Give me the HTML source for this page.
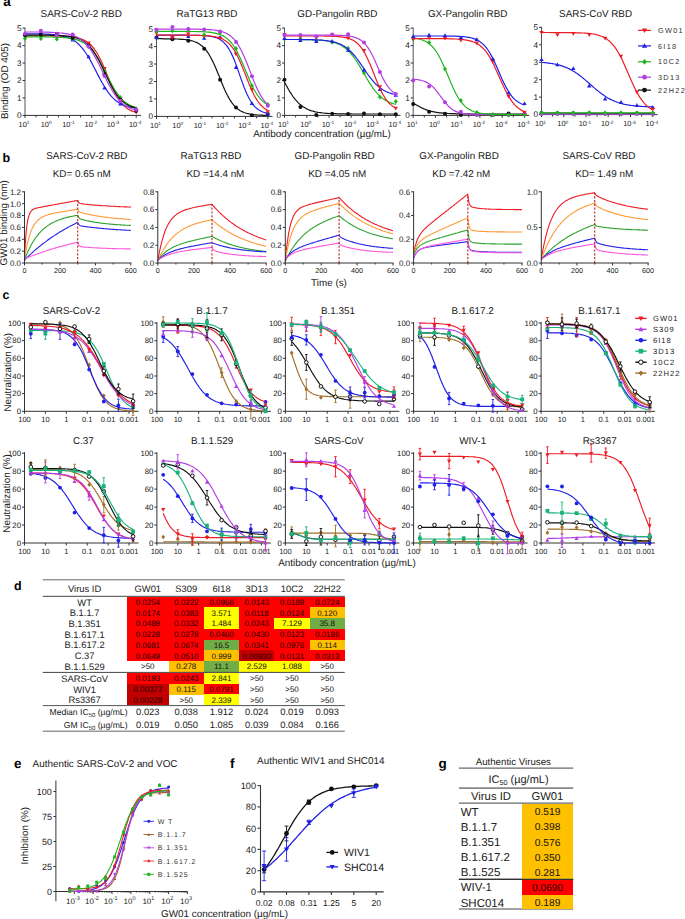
<!DOCTYPE html>
<html><head><meta charset="utf-8"><style>
html,body{margin:0;padding:0;background:#fff;width:685px;height:919px;overflow:hidden}
svg{display:block;font-family:"Liberation Sans", sans-serif}
</style></head><body>
<svg width="685" height="919" viewBox="0 0 685 919" font-family='"Liberation Sans", sans-serif' text-rendering="geometricPrecision">
<rect width="685" height="919" fill="#fff"/>
<text x="3.2" y="6.4" font-size="13.5" text-anchor="start" font-weight="bold" fill="#000" >a</text>
<text x="2.5" y="162" font-size="12.5" text-anchor="start" font-weight="bold" fill="#000" >b</text>
<text x="2.5" y="298.5" font-size="12.5" text-anchor="start" font-weight="bold" fill="#000" >c</text>
<text x="14" y="590" font-size="12.5" text-anchor="start" font-weight="bold" fill="#000" >d</text>
<text x="14" y="768" font-size="13.5" text-anchor="start" font-weight="bold" fill="#000" >e</text>
<text x="230" y="768" font-size="13.5" text-anchor="start" font-weight="bold" fill="#000" >f</text>
<text x="438.5" y="768" font-size="13.5" text-anchor="start" font-weight="bold" fill="#000" >g</text>
<line x1="25" y1="27.6" x2="25" y2="115.9" stroke="#555" stroke-width="1" />
<line x1="24.5" y1="115.4" x2="141" y2="115.4" stroke="#333" stroke-width="1" />
<line x1="36.1" y1="115.4" x2="36.1" y2="117.4" stroke="#333" stroke-width="1" />
<line x1="58.4" y1="115.4" x2="58.4" y2="117.4" stroke="#333" stroke-width="1" />
<line x1="80.6" y1="115.4" x2="80.6" y2="117.4" stroke="#333" stroke-width="1" />
<line x1="102.9" y1="115.4" x2="102.9" y2="117.4" stroke="#333" stroke-width="1" />
<line x1="125.1" y1="115.4" x2="125.1" y2="117.4" stroke="#333" stroke-width="1" />
<line x1="22.5" y1="115.4" x2="25" y2="115.4" stroke="#333" stroke-width="1" />
<text x="21.5" y="118.2" font-size="8.2" text-anchor="end" font-weight="normal" fill="#1a1a1a" >0</text>
<line x1="22.5" y1="97.9" x2="25" y2="97.9" stroke="#333" stroke-width="1" />
<text x="21.5" y="100.7" font-size="8.2" text-anchor="end" font-weight="normal" fill="#1a1a1a" >1</text>
<line x1="22.5" y1="80.5" x2="25" y2="80.5" stroke="#333" stroke-width="1" />
<text x="21.5" y="83.3" font-size="8.2" text-anchor="end" font-weight="normal" fill="#1a1a1a" >2</text>
<line x1="22.5" y1="63" x2="25" y2="63" stroke="#333" stroke-width="1" />
<text x="21.5" y="65.8" font-size="8.2" text-anchor="end" font-weight="normal" fill="#1a1a1a" >3</text>
<line x1="22.5" y1="45.6" x2="25" y2="45.6" stroke="#333" stroke-width="1" />
<text x="21.5" y="48.4" font-size="8.2" text-anchor="end" font-weight="normal" fill="#1a1a1a" >4</text>
<line x1="22.5" y1="28.1" x2="25" y2="28.1" stroke="#333" stroke-width="1" />
<text x="21.5" y="30.9" font-size="8.2" text-anchor="end" font-weight="normal" fill="#1a1a1a" >5</text>
<line x1="25" y1="115.4" x2="25" y2="117.9" stroke="#333" stroke-width="1" />
<text x="24" y="126.7" font-size="7.4" text-anchor="middle" fill="#1a1a1a">10<tspan font-size="4.8" dy="-2.4">1</tspan></text>
<line x1="47.2" y1="115.4" x2="47.2" y2="117.9" stroke="#333" stroke-width="1" />
<text x="46.2" y="126.7" font-size="7.4" text-anchor="middle" fill="#1a1a1a">10<tspan font-size="4.8" dy="-2.4">0</tspan></text>
<line x1="69.5" y1="115.4" x2="69.5" y2="117.9" stroke="#333" stroke-width="1" />
<text x="68.5" y="126.7" font-size="7.4" text-anchor="middle" fill="#1a1a1a">10<tspan font-size="4.8" dy="-2.4">-1</tspan></text>
<line x1="91.8" y1="115.4" x2="91.8" y2="117.9" stroke="#333" stroke-width="1" />
<text x="90.8" y="126.7" font-size="7.4" text-anchor="middle" fill="#1a1a1a">10<tspan font-size="4.8" dy="-2.4">-2</tspan></text>
<line x1="114" y1="115.4" x2="114" y2="117.9" stroke="#333" stroke-width="1" />
<text x="113" y="126.7" font-size="7.4" text-anchor="middle" fill="#1a1a1a">10<tspan font-size="4.8" dy="-2.4">-3</tspan></text>
<line x1="136.2" y1="115.4" x2="136.2" y2="117.9" stroke="#333" stroke-width="1" />
<text x="135.2" y="126.7" font-size="7.4" text-anchor="middle" fill="#1a1a1a">10<tspan font-size="4.8" dy="-2.4">-4</tspan></text>
<text x="81.2" y="16.8" font-size="9.9" text-anchor="middle" font-weight="normal" fill="#1a1a1a" >SARS-CoV-2 RBD</text>
<polyline points="25,36 26.4,36 27.8,36 29.2,36 30.6,36 32,36 33.3,36 34.7,36 36.1,36 37.5,36 38.9,36 40.3,36 41.7,36 43.1,36 44.5,36 45.9,36 47.2,36 48.6,36 50,36 51.4,36 52.8,36 54.2,36.1 55.6,36.1 57,36.1 58.4,36.1 59.8,36.2 61.2,36.2 62.5,36.3 63.9,36.3 65.3,36.4 66.7,36.5 68.1,36.6 69.5,36.7 70.9,36.8 72.3,37 73.7,37.1 75.1,37.4 76.5,37.6 77.8,37.9 79.2,38.3 80.6,38.7 82,39.2 83.4,39.8 84.8,40.5 86.2,41.3 87.6,42.2 89,43.3 90.4,44.5 91.8,45.9 93.1,47.5 94.5,49.3 95.9,51.3 97.3,53.5 98.7,56 100.1,58.7 101.5,61.6 102.9,64.7 104.3,67.9 105.7,71.2 107,74.6 108.4,78 109.8,81.3 111.2,84.6 112.6,87.7 114,90.7 115.4,93.4 116.8,96 118.2,98.3 119.6,100.4 121,102.3 122.3,104 123.7,105.5 125.1,106.8 126.5,107.9 127.9,108.9 129.3,109.7 130.7,110.4 132.1,111.1 133.5,111.6 134.9,112 136.2,112.4" fill="none" stroke="#ee1c24" stroke-width="1.2" stroke-linejoin="round" />
<path d="M22.8,34.2H27.2L25,38Z" fill="#ee1c24"/>
<path d="M38.7,32.8H43.1L40.9,36.6Z" fill="#ee1c24"/>
<path d="M54.6,35.6H59L56.8,39.4Z" fill="#ee1c24"/>
<path d="M70.5,34.2H74.9L72.7,38Z" fill="#ee1c24"/>
<path d="M86.4,41.6H90.8L88.6,45.4Z" fill="#ee1c24"/>
<path d="M102.3,67.1H106.7L104.5,70.9Z" fill="#ee1c24"/>
<path d="M118.2,97.6H122.6L120.4,101.4Z" fill="#ee1c24"/>
<path d="M134.1,110.6H138.4L136.2,114.4Z" fill="#ee1c24"/>
<polyline points="25,33.7 26.4,33.7 27.8,33.8 29.2,33.8 30.6,33.8 32,33.8 33.3,33.8 34.7,33.8 36.1,33.8 37.5,33.9 38.9,33.9 40.3,33.9 41.7,34 43.1,34 44.5,34 45.9,34.1 47.2,34.2 48.6,34.2 50,34.3 51.4,34.4 52.8,34.5 54.2,34.7 55.6,34.8 57,35 58.4,35.2 59.8,35.4 61.2,35.6 62.5,35.9 63.9,36.3 65.3,36.7 66.7,37.1 68.1,37.6 69.5,38.2 70.9,38.8 72.3,39.6 73.7,40.4 75.1,41.3 76.5,42.4 77.8,43.5 79.2,44.8 80.6,46.3 82,47.8 83.4,49.6 84.8,51.5 86.2,53.5 87.6,55.7 89,58 90.4,60.4 91.8,62.9 93.1,65.6 94.5,68.2 95.9,70.9 97.3,73.7 98.7,76.4 100.1,79 101.5,81.6 102.9,84 104.3,86.4 105.7,88.6 107,90.7 108.4,92.7 109.8,94.5 111.2,96.1 112.6,97.6 114,98.9 115.4,100.2 116.8,101.3 118.2,102.2 119.6,103.1 121,103.9 122.3,104.6 123.7,105.2 125.1,105.7 126.5,106.1 127.9,106.6 129.3,106.9 130.7,107.2 132.1,107.5 133.5,107.7 134.9,107.9 136.2,108.1" fill="none" stroke="#2020e8" stroke-width="1.2" stroke-linejoin="round" />
<path d="M22.8,35.4H27.2L25,31.6Z" fill="#2020e8"/>
<path d="M38.7,34.6H43.1L40.9,30.8Z" fill="#2020e8"/>
<path d="M54.6,35.2H59L56.8,31.4Z" fill="#2020e8"/>
<path d="M70.5,41.4H74.9L72.7,37.6Z" fill="#2020e8"/>
<path d="M86.4,58.2H90.8L88.6,54.4Z" fill="#2020e8"/>
<path d="M102.3,89.5H106.7L104.5,85.7Z" fill="#2020e8"/>
<path d="M118.2,105.6H122.6L120.4,101.8Z" fill="#2020e8"/>
<path d="M134.1,110.2H138.4L136.2,106.4Z" fill="#2020e8"/>
<polyline points="25,36.8 26.4,36.8 27.8,36.8 29.2,36.8 30.6,36.9 32,36.9 33.3,36.9 34.7,36.9 36.1,36.9 37.5,36.9 38.9,36.9 40.3,36.9 41.7,36.9 43.1,36.9 44.5,36.9 45.9,36.9 47.2,37 48.6,37 50,37 51.4,37 52.8,37.1 54.2,37.1 55.6,37.1 57,37.2 58.4,37.2 59.8,37.3 61.2,37.4 62.5,37.5 63.9,37.6 65.3,37.7 66.7,37.8 68.1,38 69.5,38.2 70.9,38.4 72.3,38.7 73.7,39 75.1,39.3 76.5,39.7 77.8,40.1 79.2,40.6 80.6,41.2 82,41.9 83.4,42.6 84.8,43.5 86.2,44.5 87.6,45.6 89,46.8 90.4,48.2 91.8,49.7 93.1,51.4 94.5,53.2 95.9,55.2 97.3,57.4 98.7,59.7 100.1,62.1 101.5,64.7 102.9,67.3 104.3,70.1 105.7,72.8 107,75.6 108.4,78.3 109.8,81 111.2,83.6 112.6,86.1 114,88.5 115.4,90.7 116.8,92.8 118.2,94.7 119.6,96.5 121,98.1 122.3,99.6 123.7,100.9 125.1,102 126.5,103 127.9,104 129.3,104.8 130.7,105.5 132.1,106.1 133.5,106.6 134.9,107.1 136.2,107.5" fill="none" stroke="#1fb51f" stroke-width="1.2" stroke-linejoin="round" />
<path d="M25,36.1L27,38.5L25,40.9L23,38.5Z" fill="#1fb51f"/>
<path d="M40.9,36.3L42.9,38.7L40.9,41.1L38.9,38.7Z" fill="#1fb51f"/>
<path d="M56.8,36.8L58.8,39.2L56.8,41.6L54.8,39.2Z" fill="#1fb51f"/>
<path d="M72.7,36.6L74.7,39L72.7,41.4L70.7,39Z" fill="#1fb51f"/>
<path d="M88.6,44.2L90.6,46.6L88.6,49L86.6,46.6Z" fill="#1fb51f"/>
<path d="M104.5,68.5L106.5,70.9L104.5,73.3L102.5,70.9Z" fill="#1fb51f"/>
<path d="M120.4,95L122.4,97.4L120.4,99.8L118.4,97.4Z" fill="#1fb51f"/>
<path d="M136.2,106.8L138.2,109.2L136.2,111.6L134.2,109.2Z" fill="#1fb51f"/>
<polyline points="25,35.1 26.4,35.1 27.8,35.1 29.2,35.1 30.6,35.1 32,35.1 33.3,35.1 34.7,35.1 36.1,35.1 37.5,35.1 38.9,35.1 40.3,35.1 41.7,35.1 43.1,35.2 44.5,35.2 45.9,35.2 47.2,35.2 48.6,35.2 50,35.2 51.4,35.3 52.8,35.3 54.2,35.3 55.6,35.4 57,35.4 58.4,35.5 59.8,35.5 61.2,35.6 62.5,35.7 63.9,35.8 65.3,35.9 66.7,36 68.1,36.2 69.5,36.4 70.9,36.6 72.3,36.9 73.7,37.2 75.1,37.5 76.5,37.9 77.8,38.4 79.2,38.9 80.6,39.5 82,40.3 83.4,41.1 84.8,42 86.2,43.1 87.6,44.3 89,45.6 90.4,47.2 91.8,48.8 93.1,50.7 94.5,52.8 95.9,55 97.3,57.4 98.7,59.9 100.1,62.6 101.5,65.5 102.9,68.4 104.3,71.3 105.7,74.3 107,77.2 108.4,80.1 109.8,82.9 111.2,85.6 112.6,88.2 114,90.5 115.4,92.7 116.8,94.8 118.2,96.6 119.6,98.3 121,99.8 122.3,101.1 123.7,102.3 125.1,103.4 126.5,104.3 127.9,105.1 129.3,105.8 130.7,106.4 132.1,106.9 133.5,107.4 134.9,107.8 136.2,108.1" fill="none" stroke="#111" stroke-width="1.2" stroke-linejoin="round" />
<circle cx="25" cy="35.2" r="2" fill="#111"/>
<circle cx="40.9" cy="34.8" r="2" fill="#111"/>
<circle cx="56.8" cy="34.5" r="2" fill="#111"/>
<circle cx="72.7" cy="38" r="2" fill="#111"/>
<circle cx="88.6" cy="45.7" r="2" fill="#111"/>
<circle cx="104.5" cy="74.2" r="2" fill="#111"/>
<circle cx="120.4" cy="99.8" r="2" fill="#111"/>
<circle cx="136.2" cy="110.8" r="2" fill="#111"/>
<polyline points="25,32 26.4,32 27.8,32 29.2,32 30.6,32 32,32 33.3,32 34.7,32 36.1,32 37.5,32 38.9,32 40.3,32.1 41.7,32.1 43.1,32.1 44.5,32.1 45.9,32.2 47.2,32.2 48.6,32.2 50,32.3 51.4,32.3 52.8,32.4 54.2,32.5 55.6,32.5 57,32.6 58.4,32.7 59.8,32.9 61.2,33 62.5,33.2 63.9,33.4 65.3,33.6 66.7,33.8 68.1,34.1 69.5,34.4 70.9,34.8 72.3,35.2 73.7,35.7 75.1,36.2 76.5,36.9 77.8,37.6 79.2,38.4 80.6,39.3 82,40.3 83.4,41.5 84.8,42.7 86.2,44.1 87.6,45.7 89,47.4 90.4,49.3 91.8,51.4 93.1,53.6 94.5,55.9 95.9,58.4 97.3,61 98.7,63.8 100.1,66.6 101.5,69.5 102.9,72.4 104.3,75.3 105.7,78.1 107,81 108.4,83.7 109.8,86.3 111.2,88.8 112.6,91.2 114,93.4 115.4,95.4 116.8,97.3 118.2,99 119.6,100.6 121,102 122.3,103.3 123.7,104.4 125.1,105.4 126.5,106.3 127.9,107.1 129.3,107.9 130.7,108.5 132.1,109 133.5,109.5 134.9,109.9 136.2,110.3" fill="none" stroke="#b33ee6" stroke-width="1.2" stroke-linejoin="round" />
<circle cx="25" cy="33.7" r="2" fill="#b33ee6"/>
<circle cx="40.9" cy="30.7" r="2" fill="#b33ee6"/>
<circle cx="56.8" cy="35.3" r="2" fill="#b33ee6"/>
<circle cx="72.7" cy="34.4" r="2" fill="#b33ee6"/>
<circle cx="88.6" cy="46.5" r="2" fill="#b33ee6"/>
<circle cx="104.5" cy="76.1" r="2" fill="#b33ee6"/>
<circle cx="120.4" cy="100.8" r="2" fill="#b33ee6"/>
<circle cx="136.2" cy="109.7" r="2" fill="#b33ee6"/>
<line x1="156.5" y1="28.6" x2="156.5" y2="116.9" stroke="#555" stroke-width="1" />
<line x1="156" y1="116.4" x2="272.5" y2="116.4" stroke="#333" stroke-width="1" />
<line x1="167.6" y1="116.4" x2="167.6" y2="118.4" stroke="#333" stroke-width="1" />
<line x1="189.9" y1="116.4" x2="189.9" y2="118.4" stroke="#333" stroke-width="1" />
<line x1="212.1" y1="116.4" x2="212.1" y2="118.4" stroke="#333" stroke-width="1" />
<line x1="234.4" y1="116.4" x2="234.4" y2="118.4" stroke="#333" stroke-width="1" />
<line x1="256.6" y1="116.4" x2="256.6" y2="118.4" stroke="#333" stroke-width="1" />
<line x1="154" y1="116.4" x2="156.5" y2="116.4" stroke="#333" stroke-width="1" />
<text x="153" y="119.2" font-size="8.2" text-anchor="end" font-weight="normal" fill="#1a1a1a" >0</text>
<line x1="154" y1="98.9" x2="156.5" y2="98.9" stroke="#333" stroke-width="1" />
<text x="153" y="101.7" font-size="8.2" text-anchor="end" font-weight="normal" fill="#1a1a1a" >1</text>
<line x1="154" y1="81.5" x2="156.5" y2="81.5" stroke="#333" stroke-width="1" />
<text x="153" y="84.3" font-size="8.2" text-anchor="end" font-weight="normal" fill="#1a1a1a" >2</text>
<line x1="154" y1="64" x2="156.5" y2="64" stroke="#333" stroke-width="1" />
<text x="153" y="66.8" font-size="8.2" text-anchor="end" font-weight="normal" fill="#1a1a1a" >3</text>
<line x1="154" y1="46.6" x2="156.5" y2="46.6" stroke="#333" stroke-width="1" />
<text x="153" y="49.4" font-size="8.2" text-anchor="end" font-weight="normal" fill="#1a1a1a" >4</text>
<line x1="154" y1="29.1" x2="156.5" y2="29.1" stroke="#333" stroke-width="1" />
<text x="153" y="31.9" font-size="8.2" text-anchor="end" font-weight="normal" fill="#1a1a1a" >5</text>
<line x1="156.5" y1="116.4" x2="156.5" y2="118.9" stroke="#333" stroke-width="1" />
<text x="155.5" y="127.7" font-size="7.4" text-anchor="middle" fill="#1a1a1a">10<tspan font-size="4.8" dy="-2.4">1</tspan></text>
<line x1="178.8" y1="116.4" x2="178.8" y2="118.9" stroke="#333" stroke-width="1" />
<text x="177.8" y="127.7" font-size="7.4" text-anchor="middle" fill="#1a1a1a">10<tspan font-size="4.8" dy="-2.4">0</tspan></text>
<line x1="201" y1="116.4" x2="201" y2="118.9" stroke="#333" stroke-width="1" />
<text x="200" y="127.7" font-size="7.4" text-anchor="middle" fill="#1a1a1a">10<tspan font-size="4.8" dy="-2.4">-1</tspan></text>
<line x1="223.2" y1="116.4" x2="223.2" y2="118.9" stroke="#333" stroke-width="1" />
<text x="222.2" y="127.7" font-size="7.4" text-anchor="middle" fill="#1a1a1a">10<tspan font-size="4.8" dy="-2.4">-2</tspan></text>
<line x1="245.5" y1="116.4" x2="245.5" y2="118.9" stroke="#333" stroke-width="1" />
<text x="244.5" y="127.7" font-size="7.4" text-anchor="middle" fill="#1a1a1a">10<tspan font-size="4.8" dy="-2.4">-3</tspan></text>
<line x1="267.8" y1="116.4" x2="267.8" y2="118.9" stroke="#333" stroke-width="1" />
<text x="266.8" y="127.7" font-size="7.4" text-anchor="middle" fill="#1a1a1a">10<tspan font-size="4.8" dy="-2.4">-4</tspan></text>
<text x="207" y="16.8" font-size="9.9" text-anchor="middle" font-weight="normal" fill="#1a1a1a" >RaTG13 RBD</text>
<polyline points="156.5,38.7 157.9,38.7 159.3,38.7 160.7,38.7 162.1,38.7 163.5,38.8 164.8,38.8 166.2,38.8 167.6,38.8 169,38.8 170.4,38.8 171.8,38.9 173.2,38.9 174.6,38.9 176,39 177.4,39 178.8,39.1 180.1,39.2 181.5,39.3 182.9,39.4 184.3,39.5 185.7,39.7 187.1,39.9 188.5,40.1 189.9,40.3 191.3,40.7 192.7,41 194,41.5 195.4,42 196.8,42.6 198.2,43.3 199.6,44.2 201,45.2 202.4,46.3 203.8,47.6 205.2,49.1 206.6,50.9 208,52.8 209.3,55 210.7,57.5 212.1,60.1 213.5,63 214.9,66.1 216.3,69.3 217.7,72.7 219.1,76.1 220.5,79.6 221.9,83 223.2,86.3 224.6,89.5 226,92.5 227.4,95.3 228.8,97.9 230.2,100.2 231.6,102.3 233,104.1 234.4,105.8 235.8,107.2 237.2,108.5 238.5,109.5 239.9,110.4 241.3,111.2 242.7,111.9 244.1,112.5 245.5,113 246.9,113.4 248.3,113.7 249.7,114 251.1,114.3 252.5,114.5 253.8,114.6 255.2,114.8 256.6,114.9 258,115 259.4,115.1 260.8,115.2 262.2,115.2 263.6,115.3 265,115.3 266.4,115.3 267.8,115.4" fill="none" stroke="#111" stroke-width="1.2" stroke-linejoin="round" />
<circle cx="156.5" cy="37.4" r="2" fill="#111"/>
<circle cx="172.4" cy="39.2" r="2" fill="#111"/>
<circle cx="188.3" cy="40.8" r="2" fill="#111"/>
<circle cx="204.2" cy="48.8" r="2" fill="#111"/>
<circle cx="220.1" cy="79.8" r="2" fill="#111"/>
<circle cx="236" cy="107.5" r="2" fill="#111"/>
<circle cx="251.9" cy="115.3" r="2" fill="#111"/>
<circle cx="267.8" cy="114.1" r="2" fill="#111"/>
<polyline points="156.5,35.2 157.9,35.2 159.3,35.2 160.7,35.2 162.1,35.2 163.5,35.2 164.8,35.2 166.2,35.2 167.6,35.2 169,35.2 170.4,35.2 171.8,35.2 173.2,35.2 174.6,35.2 176,35.2 177.4,35.2 178.8,35.2 180.1,35.2 181.5,35.2 182.9,35.2 184.3,35.2 185.7,35.2 187.1,35.2 188.5,35.3 189.9,35.3 191.3,35.3 192.7,35.3 194,35.3 195.4,35.3 196.8,35.4 198.2,35.4 199.6,35.4 201,35.5 202.4,35.6 203.8,35.6 205.2,35.7 206.6,35.9 208,36 209.3,36.2 210.7,36.4 212.1,36.6 213.5,37 214.9,37.3 216.3,37.8 217.7,38.3 219.1,39 220.5,39.8 221.9,40.8 223.2,41.9 224.6,43.3 226,44.8 227.4,46.7 228.8,48.8 230.2,51.2 231.6,53.9 233,57 234.4,60.3 235.8,63.9 237.2,67.7 238.5,71.6 239.9,75.6 241.3,79.6 242.7,83.4 244.1,87.2 245.5,90.7 246.9,93.9 248.3,96.8 249.7,99.5 251.1,101.8 252.5,103.8 253.8,105.6 255.2,107.1 256.6,108.3 258,109.4 259.4,110.3 260.8,111.1 262.2,111.7 263.6,112.2 265,112.7 266.4,113 267.8,113.3" fill="none" stroke="#2020e8" stroke-width="1.2" stroke-linejoin="round" />
<path d="M154.3,39.1H158.7L156.5,35.3Z" fill="#2020e8"/>
<path d="M170.2,38.2H174.6L172.4,34.4Z" fill="#2020e8"/>
<path d="M186.1,38H190.5L188.3,34.2Z" fill="#2020e8"/>
<path d="M202,39.8H206.4L204.2,36Z" fill="#2020e8"/>
<path d="M217.9,38.8H222.3L220.1,35Z" fill="#2020e8"/>
<path d="M233.8,68.9H238.2L236,65.1Z" fill="#2020e8"/>
<path d="M249.7,104.9H254.1L251.9,101.1Z" fill="#2020e8"/>
<path d="M265.6,115.6H269.9L267.8,111.8Z" fill="#2020e8"/>
<polyline points="156.5,35.2 157.9,35.2 159.3,35.2 160.7,35.2 162.1,35.2 163.5,35.2 164.8,35.2 166.2,35.2 167.6,35.2 169,35.2 170.4,35.2 171.8,35.2 173.2,35.2 174.6,35.2 176,35.2 177.4,35.2 178.8,35.2 180.1,35.2 181.5,35.2 182.9,35.2 184.3,35.2 185.7,35.2 187.1,35.3 188.5,35.3 189.9,35.3 191.3,35.3 192.7,35.3 194,35.3 195.4,35.3 196.8,35.4 198.2,35.4 199.6,35.4 201,35.5 202.4,35.5 203.8,35.6 205.2,35.6 206.6,35.7 208,35.8 209.3,35.9 210.7,36.1 212.1,36.3 213.5,36.5 214.9,36.7 216.3,37 217.7,37.3 219.1,37.7 220.5,38.2 221.9,38.8 223.2,39.4 224.6,40.2 226,41.1 227.4,42.2 228.8,43.4 230.2,44.9 231.6,46.5 233,48.3 234.4,50.4 235.8,52.8 237.2,55.4 238.5,58.2 239.9,61.2 241.3,64.5 242.7,67.9 244.1,71.4 245.5,74.9 246.9,78.5 248.3,82 249.7,85.4 251.1,88.6 252.5,91.7 253.8,94.5 255.2,97.1 256.6,99.4 258,101.5 259.4,103.4 260.8,105 262.2,106.4 263.6,107.7 265,108.7 266.4,109.6 267.8,110.4" fill="none" stroke="#ee1c24" stroke-width="1.2" stroke-linejoin="round" />
<path d="M154.3,31.6H158.7L156.5,35.4Z" fill="#ee1c24"/>
<path d="M170.2,36H174.6L172.4,39.8Z" fill="#ee1c24"/>
<path d="M186.1,32.3H190.5L188.3,36.1Z" fill="#ee1c24"/>
<path d="M202,34.9H206.4L204.2,38.7Z" fill="#ee1c24"/>
<path d="M217.9,36.7H222.3L220.1,40.5Z" fill="#ee1c24"/>
<path d="M233.8,52.4H238.2L236,56.2Z" fill="#ee1c24"/>
<path d="M249.7,88H254.1L251.9,91.8Z" fill="#ee1c24"/>
<path d="M265.6,110.2H269.9L267.8,114Z" fill="#ee1c24"/>
<polyline points="156.5,31.4 157.9,31.4 159.3,31.4 160.7,31.4 162.1,31.4 163.5,31.4 164.8,31.4 166.2,31.4 167.6,31.4 169,31.4 170.4,31.4 171.8,31.4 173.2,31.4 174.6,31.4 176,31.4 177.4,31.4 178.8,31.4 180.1,31.4 181.5,31.4 182.9,31.4 184.3,31.4 185.7,31.4 187.1,31.4 188.5,31.4 189.9,31.4 191.3,31.5 192.7,31.5 194,31.5 195.4,31.5 196.8,31.6 198.2,31.6 199.6,31.6 201,31.7 202.4,31.7 203.8,31.8 205.2,31.9 206.6,32 208,32.1 209.3,32.2 210.7,32.4 212.1,32.6 213.5,32.8 214.9,33.1 216.3,33.4 217.7,33.8 219.1,34.2 220.5,34.7 221.9,35.3 223.2,36 224.6,36.8 226,37.8 227.4,38.8 228.8,40.1 230.2,41.5 231.6,43.2 233,45 234.4,47 235.8,49.3 237.2,51.8 238.5,54.5 239.9,57.4 241.3,60.5 242.7,63.7 244.1,67 245.5,70.4 246.9,73.8 248.3,77.1 249.7,80.3 251.1,83.4 252.5,86.3 253.8,89 255.2,91.5 256.6,93.7 258,95.8 259.4,97.6 260.8,99.3 262.2,100.7 263.6,101.9 265,103 266.4,104 267.8,104.8" fill="none" stroke="#1fb51f" stroke-width="1.2" stroke-linejoin="round" />
<path d="M156.5,29.1L158.5,31.5L156.5,33.9L154.5,31.5Z" fill="#1fb51f"/>
<path d="M172.4,28.5L174.4,30.9L172.4,33.3L170.4,30.9Z" fill="#1fb51f"/>
<path d="M188.3,26.8L190.3,29.2L188.3,31.6L186.3,29.2Z" fill="#1fb51f"/>
<path d="M204.2,32.4L206.2,34.8L204.2,37.2L202.2,34.8Z" fill="#1fb51f"/>
<path d="M220.1,30.3L222.1,32.7L220.1,35.1L218.1,32.7Z" fill="#1fb51f"/>
<path d="M236,46.1L238,48.5L236,50.9L234,48.5Z" fill="#1fb51f"/>
<path d="M251.9,83.2L253.9,85.6L251.9,88L249.9,85.6Z" fill="#1fb51f"/>
<path d="M267.8,102L269.8,104.4L267.8,106.8L265.8,104.4Z" fill="#1fb51f"/>
<polyline points="156.5,29.1 157.9,29.1 159.3,29.1 160.7,29.1 162.1,29.1 163.5,29.1 164.8,29.1 166.2,29.1 167.6,29.1 169,29.1 170.4,29.1 171.8,29.1 173.2,29.1 174.6,29.1 176,29.1 177.4,29.1 178.8,29.1 180.1,29.1 181.5,29.1 182.9,29.1 184.3,29.1 185.7,29.1 187.1,29.1 188.5,29.1 189.9,29.1 191.3,29.2 192.7,29.2 194,29.2 195.4,29.2 196.8,29.2 198.2,29.2 199.6,29.3 201,29.3 202.4,29.3 203.8,29.4 205.2,29.4 206.6,29.5 208,29.6 209.3,29.6 210.7,29.7 212.1,29.9 213.5,30 214.9,30.2 216.3,30.4 217.7,30.6 219.1,30.9 220.5,31.2 221.9,31.6 223.2,32 224.6,32.6 226,33.2 227.4,33.9 228.8,34.8 230.2,35.7 231.6,36.9 233,38.2 234.4,39.7 235.8,41.4 237.2,43.3 238.5,45.5 239.9,47.9 241.3,50.5 242.7,53.4 244.1,56.4 245.5,59.7 246.9,63.1 248.3,66.7 249.7,70.3 251.1,73.9 252.5,77.5 253.8,80.9 255.2,84.3 256.6,87.4 258,90.4 259.4,93.1 260.8,95.6 262.2,97.9 263.6,99.9 265,101.7 266.4,103.2 267.8,104.6" fill="none" stroke="#b33ee6" stroke-width="1.2" stroke-linejoin="round" />
<circle cx="156.5" cy="29.7" r="2" fill="#b33ee6"/>
<circle cx="172.4" cy="27.1" r="2" fill="#b33ee6"/>
<circle cx="188.3" cy="28.9" r="2" fill="#b33ee6"/>
<circle cx="204.2" cy="29.6" r="2" fill="#b33ee6"/>
<circle cx="220.1" cy="31.4" r="2" fill="#b33ee6"/>
<circle cx="236" cy="41.9" r="2" fill="#b33ee6"/>
<circle cx="251.9" cy="76.2" r="2" fill="#b33ee6"/>
<circle cx="267.8" cy="105.7" r="2" fill="#b33ee6"/>
<line x1="284.5" y1="27.6" x2="284.5" y2="115.9" stroke="#555" stroke-width="1" />
<line x1="284" y1="115.4" x2="400.5" y2="115.4" stroke="#333" stroke-width="1" />
<line x1="295.6" y1="115.4" x2="295.6" y2="117.4" stroke="#333" stroke-width="1" />
<line x1="317.9" y1="115.4" x2="317.9" y2="117.4" stroke="#333" stroke-width="1" />
<line x1="340.1" y1="115.4" x2="340.1" y2="117.4" stroke="#333" stroke-width="1" />
<line x1="362.4" y1="115.4" x2="362.4" y2="117.4" stroke="#333" stroke-width="1" />
<line x1="384.6" y1="115.4" x2="384.6" y2="117.4" stroke="#333" stroke-width="1" />
<line x1="282" y1="115.4" x2="284.5" y2="115.4" stroke="#333" stroke-width="1" />
<text x="281" y="118.2" font-size="8.2" text-anchor="end" font-weight="normal" fill="#1a1a1a" >0</text>
<line x1="282" y1="97.9" x2="284.5" y2="97.9" stroke="#333" stroke-width="1" />
<text x="281" y="100.7" font-size="8.2" text-anchor="end" font-weight="normal" fill="#1a1a1a" >1</text>
<line x1="282" y1="80.5" x2="284.5" y2="80.5" stroke="#333" stroke-width="1" />
<text x="281" y="83.3" font-size="8.2" text-anchor="end" font-weight="normal" fill="#1a1a1a" >2</text>
<line x1="282" y1="63" x2="284.5" y2="63" stroke="#333" stroke-width="1" />
<text x="281" y="65.8" font-size="8.2" text-anchor="end" font-weight="normal" fill="#1a1a1a" >3</text>
<line x1="282" y1="45.6" x2="284.5" y2="45.6" stroke="#333" stroke-width="1" />
<text x="281" y="48.4" font-size="8.2" text-anchor="end" font-weight="normal" fill="#1a1a1a" >4</text>
<line x1="282" y1="28.1" x2="284.5" y2="28.1" stroke="#333" stroke-width="1" />
<text x="281" y="30.9" font-size="8.2" text-anchor="end" font-weight="normal" fill="#1a1a1a" >5</text>
<line x1="284.5" y1="115.4" x2="284.5" y2="117.9" stroke="#333" stroke-width="1" />
<text x="283.5" y="126.7" font-size="7.4" text-anchor="middle" fill="#1a1a1a">10<tspan font-size="4.8" dy="-2.4">1</tspan></text>
<line x1="306.8" y1="115.4" x2="306.8" y2="117.9" stroke="#333" stroke-width="1" />
<text x="305.8" y="126.7" font-size="7.4" text-anchor="middle" fill="#1a1a1a">10<tspan font-size="4.8" dy="-2.4">0</tspan></text>
<line x1="329" y1="115.4" x2="329" y2="117.9" stroke="#333" stroke-width="1" />
<text x="328" y="126.7" font-size="7.4" text-anchor="middle" fill="#1a1a1a">10<tspan font-size="4.8" dy="-2.4">-1</tspan></text>
<line x1="351.2" y1="115.4" x2="351.2" y2="117.9" stroke="#333" stroke-width="1" />
<text x="350.2" y="126.7" font-size="7.4" text-anchor="middle" fill="#1a1a1a">10<tspan font-size="4.8" dy="-2.4">-2</tspan></text>
<line x1="373.5" y1="115.4" x2="373.5" y2="117.9" stroke="#333" stroke-width="1" />
<text x="372.5" y="126.7" font-size="7.4" text-anchor="middle" fill="#1a1a1a">10<tspan font-size="4.8" dy="-2.4">-3</tspan></text>
<line x1="395.8" y1="115.4" x2="395.8" y2="117.9" stroke="#333" stroke-width="1" />
<text x="394.8" y="126.7" font-size="7.4" text-anchor="middle" fill="#1a1a1a">10<tspan font-size="4.8" dy="-2.4">-4</tspan></text>
<text x="337.4" y="16.8" font-size="9.9" text-anchor="middle" font-weight="normal" fill="#1a1a1a" >GD-Pangolin RBD</text>
<polyline points="284.5,82.2 285.9,84.8 287.3,87.3 288.7,89.8 290.1,92.1 291.5,94.2 292.8,96.3 294.2,98.1 295.6,99.9 297,101.4 298.4,102.9 299.8,104.2 301.2,105.3 302.6,106.4 304,107.3 305.4,108.1 306.8,108.9 308.1,109.5 309.5,110.1 310.9,110.6 312.3,111 313.7,111.4 315.1,111.8 316.5,112 317.9,112.3 319.3,112.5 320.7,112.7 322,112.9 323.4,113 324.8,113.2 326.2,113.3 327.6,113.4 329,113.5 330.4,113.5 331.8,113.6 333.2,113.6 334.6,113.7 336,113.7 337.3,113.8 338.7,113.8 340.1,113.8 341.5,113.9 342.9,113.9 344.3,113.9 345.7,113.9 347.1,113.9 348.5,113.9 349.9,113.9 351.2,113.9 352.6,114 354,114 355.4,114 356.8,114 358.2,114 359.6,114 361,114 362.4,114 363.8,114 365.2,114 366.5,114 367.9,114 369.3,114 370.7,114 372.1,114 373.5,114 374.9,114 376.3,114 377.7,114 379.1,114 380.5,114 381.8,114 383.2,114 384.6,114 386,114 387.4,114 388.8,114 390.2,114 391.6,114 393,114 394.4,114 395.8,114" fill="none" stroke="#111" stroke-width="1.2" stroke-linejoin="round" />
<circle cx="284.5" cy="79.7" r="2" fill="#111"/>
<circle cx="300.4" cy="107" r="2" fill="#111"/>
<circle cx="316.3" cy="115.1" r="2" fill="#111"/>
<circle cx="332.2" cy="113.8" r="2" fill="#111"/>
<circle cx="348.1" cy="114.1" r="2" fill="#111"/>
<circle cx="364" cy="113.5" r="2" fill="#111"/>
<circle cx="379.9" cy="114.3" r="2" fill="#111"/>
<circle cx="395.8" cy="114.2" r="2" fill="#111"/>
<polyline points="284.5,39.5 285.9,39.5 287.3,39.5 288.7,39.5 290.1,39.5 291.5,39.5 292.8,39.5 294.2,39.5 295.6,39.5 297,39.5 298.4,39.5 299.8,39.5 301.2,39.6 302.6,39.6 304,39.6 305.4,39.6 306.8,39.6 308.1,39.7 309.5,39.7 310.9,39.7 312.3,39.8 313.7,39.8 315.1,39.9 316.5,40 317.9,40 319.3,40.1 320.7,40.2 322,40.3 323.4,40.5 324.8,40.6 326.2,40.8 327.6,41 329,41.3 330.4,41.5 331.8,41.8 333.2,42.2 334.6,42.6 336,43 337.3,43.6 338.7,44.2 340.1,44.8 341.5,45.6 342.9,46.4 344.3,47.4 345.7,48.5 347.1,49.6 348.5,51 349.9,52.4 351.2,54 352.6,55.7 354,57.5 355.4,59.5 356.8,61.5 358.2,63.7 359.6,66 361,68.4 362.4,70.7 363.8,73.2 365.2,75.6 366.5,78 367.9,80.3 369.3,82.6 370.7,84.7 372.1,86.8 373.5,88.8 374.9,90.6 376.3,92.3 377.7,93.8 379.1,95.3 380.5,96.6 381.8,97.7 383.2,98.8 384.6,99.7 386,100.6 387.4,101.3 388.8,102 390.2,102.6 391.6,103.1 393,103.6 394.4,104 395.8,104.3" fill="none" stroke="#1fb51f" stroke-width="1.2" stroke-linejoin="round" />
<path d="M284.5,36.7L286.5,39.1L284.5,41.5L282.5,39.1Z" fill="#1fb51f"/>
<path d="M300.4,36L302.4,38.4L300.4,40.8L298.4,38.4Z" fill="#1fb51f"/>
<path d="M316.3,38.1L318.3,40.5L316.3,42.9L314.3,40.5Z" fill="#1fb51f"/>
<path d="M332.2,40L334.2,42.4L332.2,44.8L330.2,42.4Z" fill="#1fb51f"/>
<path d="M348.1,45.8L350.1,48.2L348.1,50.6L346.1,48.2Z" fill="#1fb51f"/>
<path d="M364,70.5L366,72.9L364,75.3L362,72.9Z" fill="#1fb51f"/>
<path d="M379.9,94.8L381.9,97.2L379.9,99.6L377.9,97.2Z" fill="#1fb51f"/>
<path d="M395.8,99.1L397.8,101.5L395.8,103.9L393.8,101.5Z" fill="#1fb51f"/>
<polyline points="284.5,39.5 285.9,39.5 287.3,39.5 288.7,39.5 290.1,39.5 291.5,39.5 292.8,39.5 294.2,39.5 295.6,39.5 297,39.5 298.4,39.5 299.8,39.5 301.2,39.5 302.6,39.6 304,39.6 305.4,39.6 306.8,39.6 308.1,39.6 309.5,39.7 310.9,39.7 312.3,39.7 313.7,39.8 315.1,39.8 316.5,39.9 317.9,40 319.3,40 320.7,40.1 322,40.2 323.4,40.3 324.8,40.5 326.2,40.6 327.6,40.8 329,41 330.4,41.2 331.8,41.5 333.2,41.8 334.6,42.2 336,42.6 337.3,43 338.7,43.5 340.1,44.1 341.5,44.8 342.9,45.5 344.3,46.3 345.7,47.3 347.1,48.3 348.5,49.4 349.9,50.6 351.2,52 352.6,53.5 354,55 355.4,56.7 356.8,58.5 358.2,60.4 359.6,62.3 361,64.3 362.4,66.4 363.8,68.4 365.2,70.5 366.5,72.5 367.9,74.5 369.3,76.4 370.7,78.2 372.1,79.9 373.5,81.6 374.9,83.1 376.3,84.5 377.7,85.9 379.1,87 380.5,88.1 381.8,89.1 383.2,90 384.6,90.8 386,91.5 387.4,92.1 388.8,92.7 390.2,93.2 391.6,93.6 393,94 394.4,94.3 395.8,94.6" fill="none" stroke="#2020e8" stroke-width="1.2" stroke-linejoin="round" />
<path d="M282.3,40.1H286.7L284.5,36.3Z" fill="#2020e8"/>
<path d="M298.2,41.9H302.6L300.4,38.1Z" fill="#2020e8"/>
<path d="M314.1,42.9H318.5L316.3,39.1Z" fill="#2020e8"/>
<path d="M330,42.8H334.4L332.2,39Z" fill="#2020e8"/>
<path d="M345.9,51.7H350.3L348.1,47.9Z" fill="#2020e8"/>
<path d="M361.8,71.6H366.2L364,67.8Z" fill="#2020e8"/>
<path d="M377.7,90.9H382.1L379.9,87.1Z" fill="#2020e8"/>
<path d="M393.6,96.8H397.9L395.8,93Z" fill="#2020e8"/>
<polyline points="284.5,36 285.9,36 287.3,36 288.7,36 290.1,36 291.5,36 292.8,36 294.2,36 295.6,36 297,36 298.4,36 299.8,36 301.2,36 302.6,36 304,36 305.4,36 306.8,36 308.1,36 309.5,36 310.9,36 312.3,36 313.7,36 315.1,36 316.5,36 317.9,36 319.3,36 320.7,36 322,36 323.4,36 324.8,36.1 326.2,36.1 327.6,36.1 329,36.1 330.4,36.2 331.8,36.2 333.2,36.3 334.6,36.3 336,36.4 337.3,36.5 338.7,36.6 340.1,36.8 341.5,36.9 342.9,37.1 344.3,37.3 345.7,37.6 347.1,37.9 348.5,38.3 349.9,38.8 351.2,39.4 352.6,40 354,40.8 355.4,41.8 356.8,42.8 358.2,44.1 359.6,45.6 361,47.3 362.4,49.2 363.8,51.4 365.2,53.8 366.5,56.5 367.9,59.4 369.3,62.5 370.7,65.8 372.1,69.3 373.5,72.8 374.9,76.3 376.3,79.9 377.7,83.3 379.1,86.5 380.5,89.6 381.8,92.4 383.2,95 384.6,97.3 386,99.4 387.4,101.2 388.8,102.8 390.2,104.2 391.6,105.4 393,106.5 394.4,107.3 395.8,108.1" fill="none" stroke="#ee1c24" stroke-width="1.2" stroke-linejoin="round" />
<path d="M282.3,33H286.7L284.5,36.8Z" fill="#ee1c24"/>
<path d="M298.2,34.9H302.6L300.4,38.7Z" fill="#ee1c24"/>
<path d="M314.1,36.2H318.5L316.3,40Z" fill="#ee1c24"/>
<path d="M330,33.8H334.4L332.2,37.6Z" fill="#ee1c24"/>
<path d="M345.9,36.5H350.3L348.1,40.3Z" fill="#ee1c24"/>
<path d="M361.8,49.1H366.2L364,52.9Z" fill="#ee1c24"/>
<path d="M377.7,85.2H382.1L379.9,89Z" fill="#ee1c24"/>
<path d="M393.6,106.7H397.9L395.8,110.5Z" fill="#ee1c24"/>
<polyline points="284.5,35.1 285.9,35.1 287.3,35.1 288.7,35.1 290.1,35.1 291.5,35.1 292.8,35.1 294.2,35.1 295.6,35.1 297,35.1 298.4,35.1 299.8,35.1 301.2,35.1 302.6,35.1 304,35.1 305.4,35.1 306.8,35.1 308.1,35.1 309.5,35.1 310.9,35.1 312.3,35.1 313.7,35.1 315.1,35.1 316.5,35.1 317.9,35.1 319.3,35.1 320.7,35.1 322,35.1 323.4,35.1 324.8,35.1 326.2,35.1 327.6,35.1 329,35.1 330.4,35.2 331.8,35.2 333.2,35.2 334.6,35.2 336,35.2 337.3,35.3 338.7,35.3 340.1,35.4 341.5,35.4 342.9,35.5 344.3,35.6 345.7,35.7 347.1,35.8 348.5,36 349.9,36.2 351.2,36.5 352.6,36.8 354,37.1 355.4,37.5 356.8,38.1 358.2,38.7 359.6,39.4 361,40.3 362.4,41.4 363.8,42.6 365.2,44.1 366.5,45.8 367.9,47.7 369.3,49.8 370.7,52.2 372.1,54.8 373.5,57.6 374.9,60.6 376.3,63.7 377.7,66.9 379.1,70 380.5,73.1 381.8,76.1 383.2,78.9 384.6,81.4 386,83.8 387.4,85.8 388.8,87.7 390.2,89.3 391.6,90.7 393,91.9 394.4,92.9 395.8,93.8" fill="none" stroke="#b33ee6" stroke-width="1.2" stroke-linejoin="round" />
<circle cx="284.5" cy="35.3" r="2" fill="#b33ee6"/>
<circle cx="300.4" cy="35.1" r="2" fill="#b33ee6"/>
<circle cx="316.3" cy="36.5" r="2" fill="#b33ee6"/>
<circle cx="332.2" cy="34.4" r="2" fill="#b33ee6"/>
<circle cx="348.1" cy="34.3" r="2" fill="#b33ee6"/>
<circle cx="364" cy="42.6" r="2" fill="#b33ee6"/>
<circle cx="379.9" cy="72.1" r="2" fill="#b33ee6"/>
<circle cx="395.8" cy="94.1" r="2" fill="#b33ee6"/>
<line x1="413.2" y1="27.6" x2="413.2" y2="115.9" stroke="#555" stroke-width="1" />
<line x1="412.7" y1="115.4" x2="529.2" y2="115.4" stroke="#333" stroke-width="1" />
<line x1="424.3" y1="115.4" x2="424.3" y2="117.4" stroke="#333" stroke-width="1" />
<line x1="446.6" y1="115.4" x2="446.6" y2="117.4" stroke="#333" stroke-width="1" />
<line x1="468.8" y1="115.4" x2="468.8" y2="117.4" stroke="#333" stroke-width="1" />
<line x1="491.1" y1="115.4" x2="491.1" y2="117.4" stroke="#333" stroke-width="1" />
<line x1="513.3" y1="115.4" x2="513.3" y2="117.4" stroke="#333" stroke-width="1" />
<line x1="410.7" y1="115.4" x2="413.2" y2="115.4" stroke="#333" stroke-width="1" />
<text x="409.7" y="118.2" font-size="8.2" text-anchor="end" font-weight="normal" fill="#1a1a1a" >0</text>
<line x1="410.7" y1="97.9" x2="413.2" y2="97.9" stroke="#333" stroke-width="1" />
<text x="409.7" y="100.7" font-size="8.2" text-anchor="end" font-weight="normal" fill="#1a1a1a" >1</text>
<line x1="410.7" y1="80.5" x2="413.2" y2="80.5" stroke="#333" stroke-width="1" />
<text x="409.7" y="83.3" font-size="8.2" text-anchor="end" font-weight="normal" fill="#1a1a1a" >2</text>
<line x1="410.7" y1="63" x2="413.2" y2="63" stroke="#333" stroke-width="1" />
<text x="409.7" y="65.8" font-size="8.2" text-anchor="end" font-weight="normal" fill="#1a1a1a" >3</text>
<line x1="410.7" y1="45.6" x2="413.2" y2="45.6" stroke="#333" stroke-width="1" />
<text x="409.7" y="48.4" font-size="8.2" text-anchor="end" font-weight="normal" fill="#1a1a1a" >4</text>
<line x1="410.7" y1="28.1" x2="413.2" y2="28.1" stroke="#333" stroke-width="1" />
<text x="409.7" y="30.9" font-size="8.2" text-anchor="end" font-weight="normal" fill="#1a1a1a" >5</text>
<line x1="413.2" y1="115.4" x2="413.2" y2="117.9" stroke="#333" stroke-width="1" />
<text x="412.2" y="126.7" font-size="7.4" text-anchor="middle" fill="#1a1a1a">10<tspan font-size="4.8" dy="-2.4">1</tspan></text>
<line x1="435.4" y1="115.4" x2="435.4" y2="117.9" stroke="#333" stroke-width="1" />
<text x="434.4" y="126.7" font-size="7.4" text-anchor="middle" fill="#1a1a1a">10<tspan font-size="4.8" dy="-2.4">0</tspan></text>
<line x1="457.7" y1="115.4" x2="457.7" y2="117.9" stroke="#333" stroke-width="1" />
<text x="456.7" y="126.7" font-size="7.4" text-anchor="middle" fill="#1a1a1a">10<tspan font-size="4.8" dy="-2.4">-1</tspan></text>
<line x1="479.9" y1="115.4" x2="479.9" y2="117.9" stroke="#333" stroke-width="1" />
<text x="478.9" y="126.7" font-size="7.4" text-anchor="middle" fill="#1a1a1a">10<tspan font-size="4.8" dy="-2.4">-2</tspan></text>
<line x1="502.2" y1="115.4" x2="502.2" y2="117.9" stroke="#333" stroke-width="1" />
<text x="501.2" y="126.7" font-size="7.4" text-anchor="middle" fill="#1a1a1a">10<tspan font-size="4.8" dy="-2.4">-3</tspan></text>
<line x1="524.5" y1="115.4" x2="524.5" y2="117.9" stroke="#333" stroke-width="1" />
<text x="523.5" y="126.7" font-size="7.4" text-anchor="middle" fill="#1a1a1a">10<tspan font-size="4.8" dy="-2.4">-4</tspan></text>
<text x="467.7" y="16.8" font-size="9.9" text-anchor="middle" font-weight="normal" fill="#1a1a1a" >GX-Pangolin RBD</text>
<polyline points="413.2,103 414.6,103.9 416,104.7 417.4,105.6 418.8,106.3 420.2,107.1 421.5,107.8 422.9,108.4 424.3,109 425.7,109.6 427.1,110.1 428.5,110.5 429.9,110.9 431.3,111.3 432.7,111.6 434.1,111.9 435.4,112.2 436.8,112.4 438.2,112.6 439.6,112.8 441,112.9 442.4,113.1 443.8,113.2 445.2,113.3 446.6,113.4 448,113.5 449.4,113.5 450.7,113.6 452.1,113.7 453.5,113.7 454.9,113.7 456.3,113.8 457.7,113.8 459.1,113.8 460.5,113.9 461.9,113.9 463.3,113.9 464.7,113.9 466,113.9 467.4,113.9 468.8,113.9 470.2,113.9 471.6,114 473,114 474.4,114 475.8,114 477.2,114 478.6,114 479.9,114 481.3,114 482.7,114 484.1,114 485.5,114 486.9,114 488.3,114 489.7,114 491.1,114 492.5,114 493.9,114 495.2,114 496.6,114 498,114 499.4,114 500.8,114 502.2,114 503.6,114 505,114 506.4,114 507.8,114 509.2,114 510.5,114 511.9,114 513.3,114 514.7,114 516.1,114 517.5,114 518.9,114 520.3,114 521.7,114 523.1,114 524.5,114" fill="none" stroke="#111" stroke-width="1.2" stroke-linejoin="round" />
<circle cx="413.2" cy="104" r="2" fill="#111"/>
<circle cx="429.1" cy="111.7" r="2" fill="#111"/>
<circle cx="445" cy="113.8" r="2" fill="#111"/>
<circle cx="460.9" cy="114.9" r="2" fill="#111"/>
<circle cx="476.8" cy="114.5" r="2" fill="#111"/>
<circle cx="492.7" cy="115.1" r="2" fill="#111"/>
<circle cx="508.6" cy="113.6" r="2" fill="#111"/>
<circle cx="524.5" cy="113.9" r="2" fill="#111"/>
<polyline points="413.2,79.2 414.6,79.3 416,79.5 417.4,79.7 418.8,79.9 420.2,80.1 421.5,80.5 422.9,80.8 424.3,81.3 425.7,81.9 427.1,82.6 428.5,83.4 429.9,84.3 431.3,85.4 432.7,86.6 434.1,88 435.4,89.6 436.8,91.3 438.2,93.1 439.6,95 441,96.9 442.4,98.9 443.8,100.7 445.2,102.5 446.6,104.2 448,105.7 449.4,107 450.7,108.2 452.1,109.3 453.5,110.2 454.9,110.9 456.3,111.6 457.7,112.1 459.1,112.6 460.5,112.9 461.9,113.2 463.3,113.5 464.7,113.7 466,113.8 467.4,114 468.8,114.1 470.2,114.2 471.6,114.2 473,114.3 474.4,114.3 475.8,114.4 477.2,114.4 478.6,114.4 479.9,114.4 481.3,114.5 482.7,114.5 484.1,114.5 485.5,114.5 486.9,114.5 488.3,114.5 489.7,114.5 491.1,114.5 492.5,114.5 493.9,114.5 495.2,114.5 496.6,114.5 498,114.5 499.4,114.5 500.8,114.5 502.2,114.5 503.6,114.5 505,114.5 506.4,114.5 507.8,114.5 509.2,114.5 510.5,114.5 511.9,114.5 513.3,114.5 514.7,114.5 516.1,114.5 517.5,114.5 518.9,114.5 520.3,114.5 521.7,114.5 523.1,114.5 524.5,114.5" fill="none" stroke="#b33ee6" stroke-width="1.2" stroke-linejoin="round" />
<circle cx="413.2" cy="80.6" r="2" fill="#b33ee6"/>
<circle cx="429.1" cy="86.6" r="2" fill="#b33ee6"/>
<circle cx="445" cy="102.3" r="2" fill="#b33ee6"/>
<circle cx="460.9" cy="111.7" r="2" fill="#b33ee6"/>
<circle cx="476.8" cy="115.1" r="2" fill="#b33ee6"/>
<circle cx="492.7" cy="115.1" r="2" fill="#b33ee6"/>
<circle cx="508.6" cy="115.1" r="2" fill="#b33ee6"/>
<circle cx="524.5" cy="113.7" r="2" fill="#b33ee6"/>
<polyline points="413.2,37.9 414.6,38.1 416,38.3 417.4,38.5 418.8,38.9 420.2,39.2 421.5,39.7 422.9,40.2 424.3,40.8 425.7,41.5 427.1,42.3 428.5,43.2 429.9,44.3 431.3,45.6 432.7,47 434.1,48.6 435.4,50.5 436.8,52.5 438.2,54.8 439.6,57.3 441,60 442.4,62.9 443.8,66 445.2,69.2 446.6,72.5 448,75.8 449.4,79.2 450.7,82.5 452.1,85.6 453.5,88.7 454.9,91.6 456.3,94.3 457.7,96.8 459.1,99 460.5,101 461.9,102.9 463.3,104.5 464.7,105.9 466,107.1 467.4,108.2 468.8,109.1 470.2,109.9 471.6,110.6 473,111.2 474.4,111.7 475.8,112.2 477.2,112.5 478.6,112.8 479.9,113.1 481.3,113.3 482.7,113.5 484.1,113.7 485.5,113.8 486.9,113.9 488.3,114 489.7,114.1 491.1,114.2 492.5,114.2 493.9,114.3 495.2,114.3 496.6,114.3 498,114.4 499.4,114.4 500.8,114.4 502.2,114.4 503.6,114.4 505,114.5 506.4,114.5 507.8,114.5 509.2,114.5 510.5,114.5 511.9,114.5 513.3,114.5 514.7,114.5 516.1,114.5 517.5,114.5 518.9,114.5 520.3,114.5 521.7,114.5 523.1,114.5 524.5,114.5" fill="none" stroke="#1fb51f" stroke-width="1.2" stroke-linejoin="round" />
<path d="M413.2,36.6L415.2,39L413.2,41.4L411.2,39Z" fill="#1fb51f"/>
<path d="M429.1,40.1L431.1,42.5L429.1,44.9L427.1,42.5Z" fill="#1fb51f"/>
<path d="M445,66.7L447,69.1L445,71.5L443,69.1Z" fill="#1fb51f"/>
<path d="M460.9,98.1L462.9,100.5L460.9,102.9L458.9,100.5Z" fill="#1fb51f"/>
<path d="M476.8,110L478.8,112.4L476.8,114.8L474.8,112.4Z" fill="#1fb51f"/>
<path d="M492.7,112.1L494.7,114.5L492.7,116.9L490.7,114.5Z" fill="#1fb51f"/>
<path d="M508.6,112.7L510.6,115.1L508.6,117.5L506.6,115.1Z" fill="#1fb51f"/>
<path d="M524.5,112.7L526.5,115.1L524.5,117.5L522.5,115.1Z" fill="#1fb51f"/>
<polyline points="413.2,38.6 414.6,38.6 416,38.6 417.4,38.6 418.8,38.6 420.2,38.6 421.5,38.6 422.9,38.6 424.3,38.6 425.7,38.6 427.1,38.6 428.5,38.6 429.9,38.6 431.3,38.6 432.7,38.6 434.1,38.6 435.4,38.6 436.8,38.6 438.2,38.6 439.6,38.6 441,38.7 442.4,38.7 443.8,38.7 445.2,38.7 446.6,38.7 448,38.7 449.4,38.8 450.7,38.8 452.1,38.9 453.5,38.9 454.9,39 456.3,39 457.7,39.1 459.1,39.2 460.5,39.3 461.9,39.5 463.3,39.6 464.7,39.8 466,40 467.4,40.3 468.8,40.6 470.2,40.9 471.6,41.3 473,41.8 474.4,42.3 475.8,43 477.2,43.7 478.6,44.6 479.9,45.6 481.3,46.7 482.7,48 484.1,49.4 485.5,51 486.9,52.9 488.3,54.9 489.7,57.1 491.1,59.5 492.5,62.2 493.9,64.9 495.2,67.9 496.6,70.9 498,74.1 499.4,77.2 500.8,80.4 502.2,83.5 503.6,86.6 505,89.5 506.4,92.2 507.8,94.8 509.2,97.2 510.5,99.4 511.9,101.4 513.3,103.2 514.7,104.8 516.1,106.2 517.5,107.5 518.9,108.6 520.3,109.5 521.7,110.4 523.1,111.1 524.5,111.7" fill="none" stroke="#ee1c24" stroke-width="1.2" stroke-linejoin="round" />
<path d="M411,37.3H415.4L413.2,41.1Z" fill="#ee1c24"/>
<path d="M426.9,36.2H431.3L429.1,40Z" fill="#ee1c24"/>
<path d="M442.8,36.8H447.2L445,40.6Z" fill="#ee1c24"/>
<path d="M458.7,38.6H463.1L460.9,42.4Z" fill="#ee1c24"/>
<path d="M474.6,41.4H479L476.8,45.2Z" fill="#ee1c24"/>
<path d="M490.5,59.7H494.9L492.7,63.5Z" fill="#ee1c24"/>
<path d="M506.4,94.8H510.8L508.6,98.6Z" fill="#ee1c24"/>
<path d="M522.2,110.7H526.7L524.5,114.5Z" fill="#ee1c24"/>
<polyline points="413.2,36 414.6,36 416,36 417.4,36 418.8,36 420.2,36 421.5,36 422.9,36 424.3,36 425.7,36 427.1,36 428.5,36 429.9,36 431.3,36 432.7,36 434.1,36 435.4,36 436.8,36 438.2,36 439.6,36 441,36 442.4,36 443.8,36 445.2,36 446.6,36 448,36.1 449.4,36.1 450.7,36.1 452.1,36.1 453.5,36.2 454.9,36.2 456.3,36.2 457.7,36.3 459.1,36.4 460.5,36.5 461.9,36.6 463.3,36.7 464.7,36.8 466,37 467.4,37.2 468.8,37.4 470.2,37.7 471.6,38 473,38.4 474.4,38.9 475.8,39.4 477.2,40 478.6,40.8 479.9,41.7 481.3,42.7 482.7,43.9 484.1,45.2 485.5,46.8 486.9,48.5 488.3,50.5 489.7,52.7 491.1,55.1 492.5,57.7 493.9,60.5 495.2,63.5 496.6,66.6 498,69.8 499.4,73 500.8,76.2 502.2,79.4 503.6,82.4 505,85.2 506.4,87.9 507.8,90.3 509.2,92.6 510.5,94.6 511.9,96.4 513.3,98 514.7,99.4 516.1,100.6 517.5,101.6 518.9,102.5 520.3,103.3 521.7,104 523.1,104.5 524.5,105" fill="none" stroke="#2020e8" stroke-width="1.2" stroke-linejoin="round" />
<path d="M411,38H415.4L413.2,34.2Z" fill="#2020e8"/>
<path d="M426.9,36.6H431.3L429.1,32.8Z" fill="#2020e8"/>
<path d="M442.8,37H447.2L445,33.2Z" fill="#2020e8"/>
<path d="M458.7,39.2H463.1L460.9,35.4Z" fill="#2020e8"/>
<path d="M474.6,41H479L476.8,37.2Z" fill="#2020e8"/>
<path d="M490.5,60.3H494.9L492.7,56.5Z" fill="#2020e8"/>
<path d="M506.4,94.2H510.8L508.6,90.4Z" fill="#2020e8"/>
<path d="M522.2,105.1H526.7L524.5,101.3Z" fill="#2020e8"/>
<line x1="541.5" y1="26.8" x2="541.5" y2="115.1" stroke="#555" stroke-width="1" />
<line x1="541" y1="114.6" x2="657.5" y2="114.6" stroke="#333" stroke-width="1" />
<line x1="552.6" y1="114.6" x2="552.6" y2="116.6" stroke="#333" stroke-width="1" />
<line x1="574.9" y1="114.6" x2="574.9" y2="116.6" stroke="#333" stroke-width="1" />
<line x1="597.1" y1="114.6" x2="597.1" y2="116.6" stroke="#333" stroke-width="1" />
<line x1="619.4" y1="114.6" x2="619.4" y2="116.6" stroke="#333" stroke-width="1" />
<line x1="641.6" y1="114.6" x2="641.6" y2="116.6" stroke="#333" stroke-width="1" />
<line x1="539" y1="114.6" x2="541.5" y2="114.6" stroke="#333" stroke-width="1" />
<text x="538" y="117.4" font-size="8.2" text-anchor="end" font-weight="normal" fill="#1a1a1a" >0</text>
<line x1="539" y1="97.1" x2="541.5" y2="97.1" stroke="#333" stroke-width="1" />
<text x="538" y="99.9" font-size="8.2" text-anchor="end" font-weight="normal" fill="#1a1a1a" >1</text>
<line x1="539" y1="79.7" x2="541.5" y2="79.7" stroke="#333" stroke-width="1" />
<text x="538" y="82.5" font-size="8.2" text-anchor="end" font-weight="normal" fill="#1a1a1a" >2</text>
<line x1="539" y1="62.2" x2="541.5" y2="62.2" stroke="#333" stroke-width="1" />
<text x="538" y="65" font-size="8.2" text-anchor="end" font-weight="normal" fill="#1a1a1a" >3</text>
<line x1="539" y1="44.8" x2="541.5" y2="44.8" stroke="#333" stroke-width="1" />
<text x="538" y="47.6" font-size="8.2" text-anchor="end" font-weight="normal" fill="#1a1a1a" >4</text>
<line x1="539" y1="27.3" x2="541.5" y2="27.3" stroke="#333" stroke-width="1" />
<text x="538" y="30.1" font-size="8.2" text-anchor="end" font-weight="normal" fill="#1a1a1a" >5</text>
<line x1="541.5" y1="114.6" x2="541.5" y2="117.1" stroke="#333" stroke-width="1" />
<text x="540.5" y="125.9" font-size="7.4" text-anchor="middle" fill="#1a1a1a">10<tspan font-size="4.8" dy="-2.4">1</tspan></text>
<line x1="563.8" y1="114.6" x2="563.8" y2="117.1" stroke="#333" stroke-width="1" />
<text x="562.8" y="125.9" font-size="7.4" text-anchor="middle" fill="#1a1a1a">10<tspan font-size="4.8" dy="-2.4">0</tspan></text>
<line x1="586" y1="114.6" x2="586" y2="117.1" stroke="#333" stroke-width="1" />
<text x="585" y="125.9" font-size="7.4" text-anchor="middle" fill="#1a1a1a">10<tspan font-size="4.8" dy="-2.4">-1</tspan></text>
<line x1="608.2" y1="114.6" x2="608.2" y2="117.1" stroke="#333" stroke-width="1" />
<text x="607.2" y="125.9" font-size="7.4" text-anchor="middle" fill="#1a1a1a">10<tspan font-size="4.8" dy="-2.4">-2</tspan></text>
<line x1="630.5" y1="114.6" x2="630.5" y2="117.1" stroke="#333" stroke-width="1" />
<text x="629.5" y="125.9" font-size="7.4" text-anchor="middle" fill="#1a1a1a">10<tspan font-size="4.8" dy="-2.4">-3</tspan></text>
<line x1="652.8" y1="114.6" x2="652.8" y2="117.1" stroke="#333" stroke-width="1" />
<text x="651.8" y="125.9" font-size="7.4" text-anchor="middle" fill="#1a1a1a">10<tspan font-size="4.8" dy="-2.4">-4</tspan></text>
<text x="595.6" y="16.8" font-size="9.9" text-anchor="middle" font-weight="normal" fill="#1a1a1a" >SARS-CoV RBD</text>
<polyline points="541.5,113.1 542.9,113.1 544.3,113.1 545.7,113.1 547.1,113.1 548.5,113.1 549.8,113.1 551.2,113.1 552.6,113.1 554,113.1 555.4,113.1 556.8,113.1 558.2,113.2 559.6,113.2 561,113.2 562.4,113.2 563.8,113.2 565.1,113.2 566.5,113.2 567.9,113.2 569.3,113.3 570.7,113.3 572.1,113.3 573.5,113.3 574.9,113.3 576.3,113.3 577.7,113.3 579,113.3 580.4,113.3 581.8,113.3 583.2,113.3 584.6,113.3 586,113.3 587.4,113.3 588.8,113.4 590.2,113.4 591.6,113.4 593,113.4 594.3,113.4 595.7,113.4 597.1,113.4 598.5,113.4 599.9,113.4 601.3,113.4 602.7,113.4 604.1,113.4 605.5,113.4 606.9,113.4 608.2,113.4 609.6,113.4 611,113.4 612.4,113.4 613.8,113.4 615.2,113.4 616.6,113.4 618,113.4 619.4,113.4 620.8,113.4 622.2,113.4 623.5,113.4 624.9,113.4 626.3,113.4 627.7,113.4 629.1,113.4 630.5,113.4 631.9,113.4 633.3,113.4 634.7,113.4 636.1,113.4 637.5,113.4 638.8,113.4 640.2,113.4 641.6,113.4 643,113.4 644.4,113.4 645.8,113.4 647.2,113.4 648.6,113.4 650,113.4 651.4,113.4 652.8,113.4" fill="none" stroke="#111" stroke-width="1.2" stroke-linejoin="round" />
<circle cx="541.5" cy="113" r="2" fill="#111"/>
<circle cx="557.4" cy="113.2" r="2" fill="#111"/>
<circle cx="573.3" cy="113.3" r="2" fill="#111"/>
<circle cx="589.2" cy="113.3" r="2" fill="#111"/>
<circle cx="605.1" cy="113.5" r="2" fill="#111"/>
<circle cx="621" cy="113.4" r="2" fill="#111"/>
<circle cx="636.9" cy="113.3" r="2" fill="#111"/>
<circle cx="652.8" cy="113.6" r="2" fill="#111"/>
<polyline points="541.5,114.1 542.9,114.1 544.3,114.1 545.7,114.1 547.1,114.1 548.5,114.1 549.8,114.1 551.2,114.1 552.6,114.1 554,114.1 555.4,114.1 556.8,114.1 558.2,114.1 559.6,114.1 561,114.1 562.4,114.1 563.8,114.1 565.1,114.1 566.5,114.1 567.9,114.1 569.3,114.1 570.7,114.1 572.1,114.1 573.5,114.1 574.9,114.1 576.3,114.1 577.7,114.1 579,114.1 580.4,114.1 581.8,114.1 583.2,114.1 584.6,114.1 586,114.1 587.4,114.1 588.8,114.1 590.2,114.1 591.6,114.1 593,114.1 594.3,114.1 595.7,114.1 597.1,114.1 598.5,114.1 599.9,114.1 601.3,114.1 602.7,114.1 604.1,114.1 605.5,114.1 606.9,114.1 608.2,114.1 609.6,114.1 611,114.1 612.4,114.1 613.8,114.1 615.2,114.1 616.6,114.1 618,114.1 619.4,114.1 620.8,114.1 622.2,114.1 623.5,114.1 624.9,114.1 626.3,114.1 627.7,114.1 629.1,114.1 630.5,114.1 631.9,114.1 633.3,114.1 634.7,114.1 636.1,114.1 637.5,114.1 638.8,114.1 640.2,114.1 641.6,114.1 643,114.1 644.4,114.1 645.8,114.1 647.2,114.1 648.6,114.1 650,114.1 651.4,114.1 652.8,114.1" fill="none" stroke="#b33ee6" stroke-width="1.2" stroke-linejoin="round" />
<circle cx="541.5" cy="114" r="2" fill="#b33ee6"/>
<circle cx="557.4" cy="114" r="2" fill="#b33ee6"/>
<circle cx="573.3" cy="114" r="2" fill="#b33ee6"/>
<circle cx="589.2" cy="114.2" r="2" fill="#b33ee6"/>
<circle cx="605.1" cy="114" r="2" fill="#b33ee6"/>
<circle cx="621" cy="114.2" r="2" fill="#b33ee6"/>
<circle cx="636.9" cy="114" r="2" fill="#b33ee6"/>
<circle cx="652.8" cy="114" r="2" fill="#b33ee6"/>
<polyline points="541.5,112.9 542.9,112.9 544.3,112.9 545.7,112.9 547.1,112.9 548.5,112.9 549.8,112.9 551.2,112.9 552.6,112.9 554,112.9 555.4,112.9 556.8,112.9 558.2,112.9 559.6,112.9 561,112.9 562.4,112.9 563.8,112.9 565.1,112.9 566.5,112.9 567.9,112.9 569.3,112.9 570.7,112.9 572.1,112.9 573.5,112.9 574.9,112.9 576.3,112.9 577.7,112.9 579,112.9 580.4,112.9 581.8,112.9 583.2,112.9 584.6,112.9 586,112.9 587.4,112.9 588.8,112.9 590.2,112.9 591.6,112.9 593,112.9 594.3,112.9 595.7,112.9 597.1,112.9 598.5,112.9 599.9,112.9 601.3,112.9 602.7,112.9 604.1,112.9 605.5,112.9 606.9,112.9 608.2,112.9 609.6,112.9 611,112.9 612.4,112.9 613.8,112.9 615.2,112.9 616.6,112.9 618,112.9 619.4,112.9 620.8,112.9 622.2,112.9 623.5,112.9 624.9,112.9 626.3,112.9 627.7,112.9 629.1,112.9 630.5,112.9 631.9,112.9 633.3,112.9 634.7,112.9 636.1,112.9 637.5,112.9 638.8,112.9 640.2,112.9 641.6,112.9 643,112.9 644.4,112.9 645.8,112.9 647.2,112.9 648.6,112.9 650,112.9 651.4,112.9 652.8,112.9" fill="none" stroke="#1fb51f" stroke-width="1.2" stroke-linejoin="round" />
<path d="M541.5,110.4L543.5,112.8L541.5,115.2L539.5,112.8Z" fill="#1fb51f"/>
<path d="M557.4,110.5L559.4,112.9L557.4,115.3L555.4,112.9Z" fill="#1fb51f"/>
<path d="M573.3,110.5L575.3,112.9L573.3,115.3L571.3,112.9Z" fill="#1fb51f"/>
<path d="M589.2,110.3L591.2,112.7L589.2,115.1L587.2,112.7Z" fill="#1fb51f"/>
<path d="M605.1,110.6L607.1,113L605.1,115.4L603.1,113Z" fill="#1fb51f"/>
<path d="M621,110.4L623,112.8L621,115.2L619,112.8Z" fill="#1fb51f"/>
<path d="M636.9,110.4L638.9,112.8L636.9,115.2L634.9,112.8Z" fill="#1fb51f"/>
<path d="M652.8,110.5L654.8,112.9L652.8,115.3L650.8,112.9Z" fill="#1fb51f"/>
<polyline points="541.5,62.4 542.9,62.5 544.3,62.6 545.7,62.7 547.1,62.9 548.5,63.1 549.8,63.3 551.2,63.5 552.6,63.7 554,64 555.4,64.2 556.8,64.5 558.2,64.9 559.6,65.2 561,65.6 562.4,66.1 563.8,66.6 565.1,67.1 566.5,67.6 567.9,68.3 569.3,68.9 570.7,69.6 572.1,70.4 573.5,71.2 574.9,72 576.3,73 577.7,73.9 579,74.9 580.4,76 581.8,77.1 583.2,78.2 584.6,79.4 586,80.6 587.4,81.8 588.8,83 590.2,84.3 591.6,85.5 593,86.7 594.3,87.9 595.7,89.1 597.1,90.3 598.5,91.4 599.9,92.5 601.3,93.6 602.7,94.6 604.1,95.6 605.5,96.5 606.9,97.4 608.2,98.2 609.6,98.9 611,99.6 612.4,100.3 613.8,100.9 615.2,101.5 616.6,102 618,102.5 619.4,102.9 620.8,103.3 622.2,103.7 623.5,104.1 624.9,104.4 626.3,104.6 627.7,104.9 629.1,105.1 630.5,105.3 631.9,105.5 633.3,105.7 634.7,105.9 636.1,106 637.5,106.1 638.8,106.2 640.2,106.3 641.6,106.4 643,106.5 644.4,106.6 645.8,106.7 647.2,106.7 648.6,106.8 650,106.8 651.4,106.9 652.8,106.9" fill="none" stroke="#2020e8" stroke-width="1.2" stroke-linejoin="round" />
<path d="M539.3,61H543.7L541.5,57.2Z" fill="#2020e8"/>
<path d="M555.2,66.2H559.6L557.4,62.4Z" fill="#2020e8"/>
<path d="M571.1,70H575.5L573.3,66.2Z" fill="#2020e8"/>
<path d="M587,87.4H591.4L589.2,83.6Z" fill="#2020e8"/>
<path d="M602.9,100.6H607.3L605.1,96.8Z" fill="#2020e8"/>
<path d="M618.8,103.8H623.2L621,100Z" fill="#2020e8"/>
<path d="M634.7,106.9H639.1L636.9,103.1Z" fill="#2020e8"/>
<path d="M650.5,108.9H655L652.8,105.1Z" fill="#2020e8"/>
<polyline points="541.5,32.5 542.9,32.5 544.3,32.5 545.7,32.5 547.1,32.5 548.5,32.5 549.8,32.5 551.2,32.6 552.6,32.6 554,32.6 555.4,32.6 556.8,32.6 558.2,32.6 559.6,32.6 561,32.6 562.4,32.6 563.8,32.6 565.1,32.6 566.5,32.6 567.9,32.6 569.3,32.6 570.7,32.7 572.1,32.7 573.5,32.7 574.9,32.7 576.3,32.8 577.7,32.8 579,32.8 580.4,32.9 581.8,33 583.2,33 584.6,33.1 586,33.2 587.4,33.3 588.8,33.4 590.2,33.6 591.6,33.8 593,34 594.3,34.2 595.7,34.5 597.1,34.8 598.5,35.2 599.9,35.7 601.3,36.2 602.7,36.8 604.1,37.4 605.5,38.2 606.9,39.1 608.2,40.2 609.6,41.3 611,42.6 612.4,44.1 613.8,45.8 615.2,47.7 616.6,49.7 618,52 619.4,54.4 620.8,57 622.2,59.8 623.5,62.8 624.9,65.9 626.3,69 627.7,72.3 629.1,75.5 630.5,78.7 631.9,81.9 633.3,85 634.7,87.9 636.1,90.7 637.5,93.2 638.8,95.6 640.2,97.9 641.6,99.9 643,101.7 644.4,103.3 645.8,104.8 647.2,106.1 648.6,107.2 650,108.2 651.4,109.1 652.8,109.8" fill="none" stroke="#ee1c24" stroke-width="1.2" stroke-linejoin="round" />
<path d="M539.3,31H543.7L541.5,34.8Z" fill="#ee1c24"/>
<path d="M555.2,33.3H559.6L557.4,37.1Z" fill="#ee1c24"/>
<path d="M571.1,31.9H575.5L573.3,35.7Z" fill="#ee1c24"/>
<path d="M587,33.1H591.4L589.2,36.9Z" fill="#ee1c24"/>
<path d="M602.9,36.7H607.3L605.1,40.5Z" fill="#ee1c24"/>
<path d="M618.8,54.7H623.2L621,58.5Z" fill="#ee1c24"/>
<path d="M634.7,90.5H639.1L636.9,94.3Z" fill="#ee1c24"/>
<path d="M650.5,107.8H655L652.8,111.6Z" fill="#ee1c24"/>
<line x1="638" y1="30.4" x2="651" y2="30.4" stroke="#ee1c24" stroke-width="1.2" />
<path d="M641.9,28.5H647.1L644.5,33Z" fill="#ee1c24"/>
<text x="658" y="33" font-size="7.3" text-anchor="start" font-weight="normal" fill="#333" letter-spacing="1.3">GW01</text>
<line x1="638" y1="45.9" x2="651" y2="45.9" stroke="#2020e8" stroke-width="1.2" />
<path d="M641.9,47.8H647.1L644.5,43.3Z" fill="#2020e8"/>
<text x="658" y="48.5" font-size="7.3" text-anchor="start" font-weight="normal" fill="#333" letter-spacing="1.3">6I18</text>
<line x1="638" y1="61.8" x2="651" y2="61.8" stroke="#1fb51f" stroke-width="1.2" />
<path d="M644.5,58.9L646.9,61.8L644.5,64.7L642.1,61.8Z" fill="#1fb51f"/>
<text x="658" y="64.4" font-size="7.3" text-anchor="start" font-weight="normal" fill="#333" letter-spacing="1.3">10C2</text>
<line x1="638" y1="77.2" x2="651" y2="77.2" stroke="#b33ee6" stroke-width="1.2" />
<circle cx="644.5" cy="77.2" r="2.4" fill="#b33ee6"/>
<text x="658" y="79.8" font-size="7.3" text-anchor="start" font-weight="normal" fill="#333" letter-spacing="1.3">3D13</text>
<line x1="638" y1="90.1" x2="651" y2="90.1" stroke="#111" stroke-width="1.2" />
<circle cx="644.5" cy="90.1" r="2.4" fill="#111"/>
<text x="658" y="92.7" font-size="7.3" text-anchor="start" font-weight="normal" fill="#333" letter-spacing="1.3">22H22</text>
<text transform="translate(7.8,81) rotate(-90)" font-size="9.85" text-anchor="middle" fill="#1a1a1a">Binding (OD 405)</text>
<text x="322" y="137" font-size="9.9" text-anchor="middle" font-weight="normal" fill="#1a1a1a" >Antibody concentration (µg/mL)</text>
<polyline points="24.5,259.4 25.2,245.3 25.9,235.2 26.6,227.9 27.3,222.7 28,218.8 28.8,216.1 29.5,214.1 30.2,212.6 30.9,211.5 31.6,210.6 32.3,210 33,209.5 33.7,209.1 34.4,208.8 35.1,208.6 35.8,208.3 36.5,208.1 37.3,208 38,207.8 38.7,207.6 39.4,207.5 40.1,207.4 40.8,207.2 41.5,207.1 42.2,206.9 42.9,206.8 43.6,206.7 44.3,206.5 45.1,206.4 45.8,206.3 46.5,206.1 47.2,206 47.9,205.9 48.6,205.8 49.3,205.6 50,205.5 50.7,205.4 51.4,205.2 52.1,205.1 52.8,205 53.6,204.8 54.3,204.7 55,204.6 55.7,204.4 56.4,204.3 57.1,204.2 57.8,204.1 58.5,203.9 59.2,203.8 59.9,203.7 60.6,203.5 61.4,203.4 62.1,203.3 62.8,203.1 63.5,203 64.2,202.9 64.9,202.8 65.6,202.6 66.3,202.5 67,202.4 67.7,202.2 68.4,202.1 69.1,202 69.9,201.8 70.6,201.7 71.3,201.6 72,201.4 72.7,201.3 73.4,201.2 74.1,201.1 74.8,200.9 75.5,200.8 76.2,200.7 76.9,200.5 77.7,200.4 78.4,201.9 79.1,202.8 79.8,203.2 80.5,203.5 81.2,203.7 81.9,203.8 82.6,203.9 83.3,204 84,204.1 84.7,204.2 85.4,204.2 86.2,204.3 86.9,204.4 87.6,204.4 88.3,204.5 89,204.6 89.7,204.6 90.4,204.7 91.1,204.8 91.8,204.8 92.5,204.9 93.2,205 93.9,205 94.7,205.1 95.4,205.1 96.1,205.2 96.8,205.2 97.5,205.3 98.2,205.4 98.9,205.4 99.6,205.5 100.3,205.5 101,205.6 101.7,205.6 102.5,205.7 103.2,205.7 103.9,205.8 104.6,205.8 105.3,205.8 106,205.9 106.7,205.9 107.4,206 108.1,206 108.8,206.1 109.5,206.1 110.2,206.2 111,206.2 111.7,206.2 112.4,206.3 113.1,206.3 113.8,206.3 114.5,206.4 115.2,206.4 115.9,206.5 116.6,206.5 117.3,206.5 118,206.6 118.8,206.6 119.5,206.6 120.2,206.7 120.9,206.7 121.6,206.7 122.3,206.8 123,206.8 123.7,206.8 124.4,206.9 125.1,206.9 125.8,206.9 126.5,206.9 127.3,207 128,207 128.7,207 129.4,207 130.1,207.1 130.8,207.1" fill="none" stroke="#ee1c24" stroke-width="1.1" stroke-linejoin="round" />
<polyline points="24.5,260 25.2,255.3 25.9,251.1 26.6,247.3 27.3,243.9 28,240.9 28.8,238.2 29.5,235.8 30.2,233.6 30.9,231.6 31.6,229.9 32.3,228.3 33,226.9 33.7,225.6 34.4,224.4 35.1,223.4 35.8,222.5 36.5,221.6 37.3,220.9 38,220.2 38.7,219.5 39.4,218.9 40.1,218.4 40.8,217.9 41.5,217.5 42.2,217.1 42.9,216.7 43.6,216.4 44.3,216.1 45.1,215.8 45.8,215.5 46.5,215.2 47.2,215 47.9,214.8 48.6,214.6 49.3,214.4 50,214.2 50.7,214 51.4,213.8 52.1,213.6 52.8,213.5 53.6,213.3 54.3,213.2 55,213 55.7,212.9 56.4,212.8 57.1,212.6 57.8,212.5 58.5,212.4 59.2,212.2 59.9,212.1 60.6,212 61.4,211.9 62.1,211.8 62.8,211.6 63.5,211.5 64.2,211.4 64.9,211.3 65.6,211.2 66.3,211.1 67,211 67.7,210.8 68.4,210.7 69.1,210.6 69.9,210.5 70.6,210.4 71.3,210.3 72,210.2 72.7,210.1 73.4,210 74.1,209.9 74.8,209.7 75.5,209.6 76.2,209.5 76.9,209.4 77.7,209.3 78.4,210.7 79.1,211.5 79.8,212 80.5,212.3 81.2,212.6 81.9,212.8 82.6,213 83.3,213.2 84,213.3 84.7,213.5 85.4,213.7 86.2,213.8 86.9,214 87.6,214.1 88.3,214.3 89,214.4 89.7,214.6 90.4,214.7 91.1,214.9 91.8,215 92.5,215.1 93.2,215.3 93.9,215.4 94.7,215.5 95.4,215.7 96.1,215.8 96.8,215.9 97.5,216 98.2,216.1 98.9,216.2 99.6,216.3 100.3,216.5 101,216.6 101.7,216.7 102.5,216.8 103.2,216.9 103.9,217 104.6,217.1 105.3,217.1 106,217.2 106.7,217.3 107.4,217.4 108.1,217.5 108.8,217.6 109.5,217.7 110.2,217.8 111,217.8 111.7,217.9 112.4,218 113.1,218.1 113.8,218.1 114.5,218.2 115.2,218.3 115.9,218.3 116.6,218.4 117.3,218.5 118,218.5 118.8,218.6 119.5,218.7 120.2,218.7 120.9,218.8 121.6,218.9 122.3,218.9 123,219 123.7,219 124.4,219.1 125.1,219.1 125.8,219.2 126.5,219.2 127.3,219.3 128,219.3 128.7,219.4 129.4,219.4 130.1,219.5 130.8,219.5" fill="none" stroke="#ff9933" stroke-width="1.1" stroke-linejoin="round" />
<polyline points="24.5,260 25.2,258.1 25.9,256.3 26.6,254.6 27.3,252.9 28,251.3 28.8,249.7 29.5,248.3 30.2,246.9 30.9,245.5 31.6,244.2 32.3,243 33,241.8 33.7,240.7 34.4,239.6 35.1,238.5 35.8,237.5 36.5,236.6 37.3,235.7 38,234.8 38.7,233.9 39.4,233.1 40.1,232.3 40.8,231.6 41.5,230.9 42.2,230.2 42.9,229.5 43.6,228.9 44.3,228.3 45.1,227.7 45.8,227.2 46.5,226.6 47.2,226.1 47.9,225.6 48.6,225.1 49.3,224.7 50,224.2 50.7,223.8 51.4,223.4 52.1,223 52.8,222.6 53.6,222.3 54.3,221.9 55,221.6 55.7,221.3 56.4,221 57.1,220.7 57.8,220.4 58.5,220.1 59.2,219.8 59.9,219.6 60.6,219.3 61.4,219.1 62.1,218.8 62.8,218.6 63.5,218.4 64.2,218.2 64.9,218 65.6,217.8 66.3,217.6 67,217.4 67.7,217.3 68.4,217.1 69.1,216.9 69.9,216.8 70.6,216.6 71.3,216.5 72,216.3 72.7,216.2 73.4,216 74.1,215.9 74.8,215.8 75.5,215.6 76.2,215.5 76.9,215.4 77.7,215.3 78.4,216.9 79.1,217.9 79.8,218.5 80.5,218.9 81.2,219.2 81.9,219.4 82.6,219.6 83.3,219.8 84,220 84.7,220.2 85.4,220.4 86.2,220.5 86.9,220.7 87.6,220.8 88.3,221 89,221.1 89.7,221.3 90.4,221.4 91.1,221.5 91.8,221.7 92.5,221.8 93.2,221.9 93.9,222.1 94.7,222.2 95.4,222.3 96.1,222.4 96.8,222.5 97.5,222.6 98.2,222.7 98.9,222.8 99.6,222.9 100.3,223 101,223.1 101.7,223.2 102.5,223.3 103.2,223.4 103.9,223.5 104.6,223.5 105.3,223.6 106,223.7 106.7,223.8 107.4,223.8 108.1,223.9 108.8,224 109.5,224 110.2,224.1 111,224.2 111.7,224.2 112.4,224.3 113.1,224.4 113.8,224.4 114.5,224.5 115.2,224.5 115.9,224.6 116.6,224.6 117.3,224.7 118,224.7 118.8,224.8 119.5,224.8 120.2,224.9 120.9,224.9 121.6,225 122.3,225 123,225 123.7,225.1 124.4,225.1 125.1,225.2 125.8,225.2 126.5,225.2 127.3,225.3 128,225.3 128.7,225.3 129.4,225.4 130.1,225.4 130.8,225.4" fill="none" stroke="#2ca02c" stroke-width="1.1" stroke-linejoin="round" />
<polyline points="24.5,260 25.2,259.3 25.9,258.6 26.6,257.9 27.3,257.2 28,256.6 28.8,255.9 29.5,255.2 30.2,254.6 30.9,253.9 31.6,253.3 32.3,252.6 33,252 33.7,251.4 34.4,250.7 35.1,250.1 35.8,249.5 36.5,248.9 37.3,248.3 38,247.7 38.7,247.1 39.4,246.5 40.1,246 40.8,245.4 41.5,244.8 42.2,244.3 42.9,243.7 43.6,243.2 44.3,242.6 45.1,242.1 45.8,241.6 46.5,241.1 47.2,240.5 47.9,240 48.6,239.5 49.3,239 50,238.5 50.7,238 51.4,237.5 52.1,237 52.8,236.6 53.6,236.1 54.3,235.6 55,235.1 55.7,234.7 56.4,234.2 57.1,233.8 57.8,233.3 58.5,232.9 59.2,232.5 59.9,232 60.6,231.6 61.4,231.2 62.1,230.7 62.8,230.3 63.5,229.9 64.2,229.5 64.9,229.1 65.6,228.7 66.3,228.3 67,227.9 67.7,227.5 68.4,227.1 69.1,226.8 69.9,226.4 70.6,226 71.3,225.6 72,225.3 72.7,224.9 73.4,224.5 74.1,224.2 74.8,223.8 75.5,223.5 76.2,223.1 76.9,222.8 77.7,222.5 78.4,224 79.1,224.9 79.8,225.4 80.5,225.7 81.2,225.9 81.9,226 82.6,226.2 83.3,226.3 84,226.4 84.7,226.5 85.4,226.6 86.2,226.7 86.9,226.8 87.6,226.9 88.3,227 89,227 89.7,227.1 90.4,227.2 91.1,227.3 91.8,227.4 92.5,227.5 93.2,227.5 93.9,227.6 94.7,227.7 95.4,227.8 96.1,227.9 96.8,227.9 97.5,228 98.2,228.1 98.9,228.1 99.6,228.2 100.3,228.3 101,228.4 101.7,228.4 102.5,228.5 103.2,228.6 103.9,228.6 104.6,228.7 105.3,228.7 106,228.8 106.7,228.9 107.4,228.9 108.1,229 108.8,229 109.5,229.1 110.2,229.1 111,229.2 111.7,229.2 112.4,229.3 113.1,229.4 113.8,229.4 114.5,229.5 115.2,229.5 115.9,229.6 116.6,229.6 117.3,229.6 118,229.7 118.8,229.7 119.5,229.8 120.2,229.8 120.9,229.9 121.6,229.9 122.3,230 123,230 123.7,230 124.4,230.1 125.1,230.1 125.8,230.2 126.5,230.2 127.3,230.2 128,230.3 128.7,230.3 129.4,230.3 130.1,230.4 130.8,230.4" fill="none" stroke="#2020e8" stroke-width="1.1" stroke-linejoin="round" />
<polyline points="24.5,258.8 25.2,258.6 25.9,258.3 26.6,258 27.3,257.7 28,257.4 28.8,257.1 29.5,256.8 30.2,256.6 30.9,256.3 31.6,256 32.3,255.7 33,255.5 33.7,255.2 34.4,254.9 35.1,254.7 35.8,254.4 36.5,254.2 37.3,253.9 38,253.7 38.7,253.4 39.4,253.2 40.1,252.9 40.8,252.7 41.5,252.4 42.2,252.2 42.9,251.9 43.6,251.7 44.3,251.5 45.1,251.2 45.8,251 46.5,250.8 47.2,250.5 47.9,250.3 48.6,250.1 49.3,249.9 50,249.6 50.7,249.4 51.4,249.2 52.1,249 52.8,248.8 53.6,248.6 54.3,248.3 55,248.1 55.7,247.9 56.4,247.7 57.1,247.5 57.8,247.3 58.5,247.1 59.2,246.9 59.9,246.7 60.6,246.5 61.4,246.3 62.1,246.1 62.8,245.9 63.5,245.8 64.2,245.6 64.9,245.4 65.6,245.2 66.3,245 67,244.8 67.7,244.6 68.4,244.5 69.1,244.3 69.9,244.1 70.6,243.9 71.3,243.8 72,243.6 72.7,243.4 73.4,243.2 74.1,243.1 74.8,242.9 75.5,242.7 76.2,242.6 76.9,242.4 77.7,242.2 78.4,244.3 79.1,245.5 79.8,246.1 80.5,246.4 81.2,246.6 81.9,246.8 82.6,246.9 83.3,247 84,247 84.7,247.1 85.4,247.2 86.2,247.2 86.9,247.3 87.6,247.3 88.3,247.4 89,247.4 89.7,247.5 90.4,247.5 91.1,247.6 91.8,247.6 92.5,247.7 93.2,247.7 93.9,247.8 94.7,247.8 95.4,247.8 96.1,247.9 96.8,247.9 97.5,248 98.2,248 98.9,248 99.6,248.1 100.3,248.1 101,248.1 101.7,248.2 102.5,248.2 103.2,248.2 103.9,248.3 104.6,248.3 105.3,248.3 106,248.3 106.7,248.4 107.4,248.4 108.1,248.4 108.8,248.5 109.5,248.5 110.2,248.5 111,248.5 111.7,248.5 112.4,248.6 113.1,248.6 113.8,248.6 114.5,248.6 115.2,248.6 115.9,248.7 116.6,248.7 117.3,248.7 118,248.7 118.8,248.7 119.5,248.8 120.2,248.8 120.9,248.8 121.6,248.8 122.3,248.8 123,248.8 123.7,248.8 124.4,248.9 125.1,248.9 125.8,248.9 126.5,248.9 127.3,248.9 128,248.9 128.7,248.9 129.4,248.9 130.1,249 130.8,249" fill="none" stroke="#ff55dd" stroke-width="1.1" stroke-linejoin="round" />
<line x1="77.7" y1="263" x2="77.7" y2="200.4" stroke="#b22" stroke-width="1.1" stroke-dasharray="2.2,1.6"/>
<line x1="24.5" y1="191.3" x2="24.5" y2="263.5" stroke="#333" stroke-width="1" />
<line x1="24" y1="263" x2="131.3" y2="263" stroke="#333" stroke-width="1" />
<line x1="22" y1="263" x2="24.5" y2="263" stroke="#333" stroke-width="1" />
<text x="21" y="265.8" font-size="8" text-anchor="end" font-weight="normal" fill="#1a1a1a" >0.0</text>
<line x1="22" y1="251.1" x2="24.5" y2="251.1" stroke="#333" stroke-width="1" />
<text x="21" y="253.9" font-size="8" text-anchor="end" font-weight="normal" fill="#1a1a1a" >0.2</text>
<line x1="22" y1="239.3" x2="24.5" y2="239.3" stroke="#333" stroke-width="1" />
<text x="21" y="242.1" font-size="8" text-anchor="end" font-weight="normal" fill="#1a1a1a" >0.4</text>
<line x1="22" y1="227.4" x2="24.5" y2="227.4" stroke="#333" stroke-width="1" />
<text x="21" y="230.2" font-size="8" text-anchor="end" font-weight="normal" fill="#1a1a1a" >0.6</text>
<line x1="22" y1="215.5" x2="24.5" y2="215.5" stroke="#333" stroke-width="1" />
<text x="21" y="218.3" font-size="8" text-anchor="end" font-weight="normal" fill="#1a1a1a" >0.8</text>
<line x1="22" y1="203.7" x2="24.5" y2="203.7" stroke="#333" stroke-width="1" />
<text x="21" y="206.5" font-size="8" text-anchor="end" font-weight="normal" fill="#1a1a1a" >1.0</text>
<line x1="22" y1="191.8" x2="24.5" y2="191.8" stroke="#333" stroke-width="1" />
<text x="21" y="194.6" font-size="8" text-anchor="end" font-weight="normal" fill="#1a1a1a" >1.2</text>
<line x1="24.5" y1="263" x2="24.5" y2="265.5" stroke="#333" stroke-width="1" />
<text x="24.5" y="272.8" font-size="7.2" text-anchor="middle" font-weight="normal" fill="#1a1a1a" >0</text>
<line x1="59.9" y1="263" x2="59.9" y2="265.5" stroke="#333" stroke-width="1" />
<text x="59.9" y="272.8" font-size="7.2" text-anchor="middle" font-weight="normal" fill="#1a1a1a" >200</text>
<line x1="95.4" y1="263" x2="95.4" y2="265.5" stroke="#333" stroke-width="1" />
<text x="95.4" y="272.8" font-size="7.2" text-anchor="middle" font-weight="normal" fill="#1a1a1a" >400</text>
<line x1="130.8" y1="263" x2="130.8" y2="265.5" stroke="#333" stroke-width="1" />
<text x="130.8" y="272.8" font-size="7.2" text-anchor="middle" font-weight="normal" fill="#1a1a1a" >600</text>
<line x1="42.2" y1="263" x2="42.2" y2="264.5" stroke="#333" stroke-width="1" />
<line x1="77.7" y1="263" x2="77.7" y2="264.5" stroke="#333" stroke-width="1" />
<line x1="113.1" y1="263" x2="113.1" y2="264.5" stroke="#333" stroke-width="1" />
<text x="86.9" y="159.3" font-size="9.9" text-anchor="middle" font-weight="normal" fill="#1a1a1a" >SARS-CoV-2 RBD</text>
<text x="81.7" y="176.8" font-size="9.9" text-anchor="middle" font-weight="normal" fill="#1a1a1a" >KD= 0.65 nM</text>
<polyline points="157.8,261.2 158.5,256.9 159.2,253 160,249.4 160.7,246.1 161.4,243.1 162.1,240.3 162.9,237.8 163.6,235.5 164.3,233.3 165,231.3 165.7,229.5 166.5,227.8 167.2,226.3 167.9,224.9 168.6,223.6 169.4,222.4 170.1,221.3 170.8,220.2 171.5,219.3 172.3,218.4 173,217.6 173.7,216.8 174.4,216.2 175.1,215.5 175.9,214.9 176.6,214.3 177.3,213.8 178,213.3 178.8,212.9 179.5,212.5 180.2,212.1 180.9,211.7 181.6,211.4 182.4,211 183.1,210.7 183.8,210.4 184.5,210.1 185.3,209.9 186,209.6 186.7,209.4 187.4,209.2 188.2,209 188.9,208.7 189.6,208.6 190.3,208.4 191,208.2 191.8,208 192.5,207.8 193.2,207.7 193.9,207.5 194.7,207.3 195.4,207.2 196.1,207 196.8,206.9 197.5,206.8 198.3,206.6 199,206.5 199.7,206.4 200.4,206.2 201.2,206.1 201.9,206 202.6,205.8 203.3,205.7 204.1,205.6 204.8,205.5 205.5,205.4 206.2,205.2 206.9,205.1 207.7,205 208.4,204.9 209.1,204.8 209.8,204.7 210.6,204.5 211.3,204.4 212,204.3 212.7,205.2 213.4,206 214.2,206.8 214.9,207.6 215.6,208.4 216.3,209.2 217.1,209.9 217.8,210.7 218.5,211.4 219.2,212.1 219.9,212.8 220.7,213.5 221.4,214.2 222.1,214.9 222.8,215.6 223.6,216.2 224.3,216.9 225,217.5 225.7,218.1 226.5,218.7 227.2,219.3 227.9,219.9 228.6,220.5 229.3,221 230.1,221.6 230.8,222.1 231.5,222.7 232.2,223.2 233,223.7 233.7,224.2 234.4,224.7 235.1,225.2 235.8,225.7 236.6,226.2 237.3,226.6 238,227.1 238.7,227.6 239.5,228 240.2,228.4 240.9,228.9 241.6,229.3 242.4,229.7 243.1,230.1 243.8,230.5 244.5,230.9 245.2,231.3 246,231.7 246.7,232 247.4,232.4 248.1,232.8 248.9,233.1 249.6,233.5 250.3,233.8 251,234.1 251.7,234.5 252.5,234.8 253.2,235.1 253.9,235.4 254.6,235.7 255.4,236 256.1,236.3 256.8,236.6 257.5,236.9 258.3,237.2 259,237.5 259.7,237.7 260.4,238 261.1,238.3 261.9,238.5 262.6,238.8 263.3,239 264,239.3 264.8,239.5 265.5,239.8 266.2,240" fill="none" stroke="#ee1c24" stroke-width="1.1" stroke-linejoin="round" />
<polyline points="157.8,261.2 158.5,259.5 159.2,257.9 160,256.3 160.7,254.8 161.4,253.4 162.1,252 162.9,250.7 163.6,249.5 164.3,248.3 165,247.1 165.7,246 166.5,244.9 167.2,243.9 167.9,242.9 168.6,242 169.4,241.1 170.1,240.2 170.8,239.4 171.5,238.6 172.3,237.8 173,237 173.7,236.3 174.4,235.7 175.1,235 175.9,234.4 176.6,233.8 177.3,233.2 178,232.6 178.8,232.1 179.5,231.6 180.2,231.1 180.9,230.6 181.6,230.1 182.4,229.7 183.1,229.2 183.8,228.8 184.5,228.4 185.3,228 186,227.7 186.7,227.3 187.4,227 188.2,226.6 188.9,226.3 189.6,226 190.3,225.7 191,225.4 191.8,225.1 192.5,224.8 193.2,224.6 193.9,224.3 194.7,224.1 195.4,223.8 196.1,223.6 196.8,223.4 197.5,223.2 198.3,223 199,222.7 199.7,222.5 200.4,222.4 201.2,222.2 201.9,222 202.6,221.8 203.3,221.6 204.1,221.5 204.8,221.3 205.5,221.1 206.2,221 206.9,220.8 207.7,220.7 208.4,220.5 209.1,220.4 209.8,220.2 210.6,220.1 211.3,220 212,219.8 212.7,220.5 213.4,221.1 214.2,221.7 214.9,222.3 215.6,222.9 216.3,223.5 217.1,224.1 217.8,224.7 218.5,225.2 219.2,225.8 219.9,226.3 220.7,226.8 221.4,227.3 222.1,227.8 222.8,228.3 223.6,228.8 224.3,229.3 225,229.8 225.7,230.2 226.5,230.7 227.2,231.1 227.9,231.6 228.6,232 229.3,232.4 230.1,232.8 230.8,233.2 231.5,233.6 232.2,234 233,234.4 233.7,234.8 234.4,235.2 235.1,235.5 235.8,235.9 236.6,236.2 237.3,236.6 238,236.9 238.7,237.3 239.5,237.6 240.2,237.9 240.9,238.2 241.6,238.5 242.4,238.8 243.1,239.1 243.8,239.4 244.5,239.7 245.2,240 246,240.3 246.7,240.6 247.4,240.8 248.1,241.1 248.9,241.3 249.6,241.6 250.3,241.9 251,242.1 251.7,242.3 252.5,242.6 253.2,242.8 253.9,243 254.6,243.3 255.4,243.5 256.1,243.7 256.8,243.9 257.5,244.1 258.3,244.3 259,244.5 259.7,244.7 260.4,244.9 261.1,245.1 261.9,245.3 262.6,245.5 263.3,245.6 264,245.8 264.8,246 265.5,246.2 266.2,246.3" fill="none" stroke="#ff9933" stroke-width="1.1" stroke-linejoin="round" />
<polyline points="157.8,260.3 158.5,259.3 159.2,258.4 160,257.5 160.7,256.6 161.4,255.8 162.1,255.1 162.9,254.4 163.6,253.7 164.3,253 165,252.4 165.7,251.8 166.5,251.3 167.2,250.7 167.9,250.2 168.6,249.8 169.4,249.3 170.1,248.9 170.8,248.4 171.5,248 172.3,247.7 173,247.3 173.7,246.9 174.4,246.6 175.1,246.3 175.9,245.9 176.6,245.6 177.3,245.3 178,245.1 178.8,244.8 179.5,244.5 180.2,244.3 180.9,244 181.6,243.8 182.4,243.5 183.1,243.3 183.8,243.1 184.5,242.8 185.3,242.6 186,242.4 186.7,242.2 187.4,242 188.2,241.8 188.9,241.6 189.6,241.4 190.3,241.2 191,241.1 191.8,240.9 192.5,240.7 193.2,240.5 193.9,240.3 194.7,240.2 195.4,240 196.1,239.8 196.8,239.7 197.5,239.5 198.3,239.3 199,239.2 199.7,239 200.4,238.8 201.2,238.7 201.9,238.5 202.6,238.4 203.3,238.2 204.1,238.1 204.8,237.9 205.5,237.7 206.2,237.6 206.9,237.4 207.7,237.3 208.4,237.1 209.1,237 209.8,236.8 210.6,236.7 211.3,236.5 212,236.4 212.7,236.8 213.4,237.2 214.2,237.6 214.9,238 215.6,238.4 216.3,238.7 217.1,239.1 217.8,239.4 218.5,239.8 219.2,240.1 219.9,240.4 220.7,240.8 221.4,241.1 222.1,241.4 222.8,241.7 223.6,242 224.3,242.3 225,242.6 225.7,242.8 226.5,243.1 227.2,243.4 227.9,243.6 228.6,243.9 229.3,244.1 230.1,244.4 230.8,244.6 231.5,244.8 232.2,245 233,245.3 233.7,245.5 234.4,245.7 235.1,245.9 235.8,246.1 236.6,246.3 237.3,246.5 238,246.7 238.7,246.9 239.5,247 240.2,247.2 240.9,247.4 241.6,247.6 242.4,247.7 243.1,247.9 243.8,248 244.5,248.2 245.2,248.4 246,248.5 246.7,248.6 247.4,248.8 248.1,248.9 248.9,249.1 249.6,249.2 250.3,249.3 251,249.5 251.7,249.6 252.5,249.7 253.2,249.8 253.9,249.9 254.6,250 255.4,250.2 256.1,250.3 256.8,250.4 257.5,250.5 258.3,250.6 259,250.7 259.7,250.8 260.4,250.9 261.1,251 261.9,251 262.6,251.1 263.3,251.2 264,251.3 264.8,251.4 265.5,251.5 266.2,251.5" fill="none" stroke="#2ca02c" stroke-width="1.1" stroke-linejoin="round" />
<polyline points="157.8,260.3 158.5,259.6 159.2,259 160,258.4 160.7,257.8 161.4,257.2 162.1,256.7 162.9,256.2 163.6,255.7 164.3,255.3 165,254.8 165.7,254.4 166.5,254 167.2,253.6 167.9,253.3 168.6,252.9 169.4,252.6 170.1,252.3 170.8,252 171.5,251.7 172.3,251.4 173,251.2 173.7,250.9 174.4,250.6 175.1,250.4 175.9,250.2 176.6,249.9 177.3,249.7 178,249.5 178.8,249.3 179.5,249.1 180.2,248.9 180.9,248.7 181.6,248.5 182.4,248.4 183.1,248.2 183.8,248 184.5,247.8 185.3,247.7 186,247.5 186.7,247.3 187.4,247.2 188.2,247 188.9,246.9 189.6,246.7 190.3,246.6 191,246.4 191.8,246.3 192.5,246.2 193.2,246 193.9,245.9 194.7,245.7 195.4,245.6 196.1,245.5 196.8,245.3 197.5,245.2 198.3,245.1 199,244.9 199.7,244.8 200.4,244.7 201.2,244.5 201.9,244.4 202.6,244.3 203.3,244.2 204.1,244 204.8,243.9 205.5,243.8 206.2,243.7 206.9,243.5 207.7,243.4 208.4,243.3 209.1,243.2 209.8,243 210.6,242.9 211.3,242.8 212,242.7 212.7,243 213.4,243.2 214.2,243.5 214.9,243.8 215.6,244 216.3,244.3 217.1,244.5 217.8,244.7 218.5,245 219.2,245.2 219.9,245.4 220.7,245.6 221.4,245.8 222.1,246 222.8,246.2 223.6,246.4 224.3,246.6 225,246.8 225.7,246.9 226.5,247.1 227.2,247.3 227.9,247.4 228.6,247.6 229.3,247.7 230.1,247.9 230.8,248 231.5,248.2 232.2,248.3 233,248.4 233.7,248.6 234.4,248.7 235.1,248.8 235.8,248.9 236.6,249 237.3,249.2 238,249.3 238.7,249.4 239.5,249.5 240.2,249.6 240.9,249.7 241.6,249.8 242.4,249.9 243.1,250 243.8,250.1 244.5,250.1 245.2,250.2 246,250.3 246.7,250.4 247.4,250.5 248.1,250.5 248.9,250.6 249.6,250.7 250.3,250.8 251,250.8 251.7,250.9 252.5,251 253.2,251 253.9,251.1 254.6,251.1 255.4,251.2 256.1,251.3 256.8,251.3 257.5,251.4 258.3,251.4 259,251.5 259.7,251.5 260.4,251.6 261.1,251.6 261.9,251.7 262.6,251.7 263.3,251.8 264,251.8 264.8,251.8 265.5,251.9 266.2,251.9" fill="none" stroke="#2020e8" stroke-width="1.1" stroke-linejoin="round" />
<polyline points="157.8,260.3 158.5,259.8 159.2,259.3 160,258.8 160.7,258.4 161.4,257.9 162.1,257.5 162.9,257.1 163.6,256.8 164.3,256.4 165,256.1 165.7,255.8 166.5,255.5 167.2,255.2 167.9,254.9 168.6,254.7 169.4,254.4 170.1,254.2 170.8,253.9 171.5,253.7 172.3,253.5 173,253.3 173.7,253.1 174.4,252.9 175.1,252.8 175.9,252.6 176.6,252.4 177.3,252.3 178,252.1 178.8,252 179.5,251.8 180.2,251.7 180.9,251.5 181.6,251.4 182.4,251.3 183.1,251.2 183.8,251 184.5,250.9 185.3,250.8 186,250.7 186.7,250.6 187.4,250.5 188.2,250.4 188.9,250.2 189.6,250.1 190.3,250 191,249.9 191.8,249.8 192.5,249.7 193.2,249.6 193.9,249.5 194.7,249.5 195.4,249.4 196.1,249.3 196.8,249.2 197.5,249.1 198.3,249 199,248.9 199.7,248.8 200.4,248.7 201.2,248.6 201.9,248.6 202.6,248.5 203.3,248.4 204.1,248.3 204.8,248.2 205.5,248.1 206.2,248 206.9,248 207.7,247.9 208.4,247.8 209.1,247.7 209.8,247.6 210.6,247.5 211.3,247.5 212,247.4 212.7,248.9 213.4,249.8 214.2,250.4 214.9,250.8 215.6,251.1 216.3,251.3 217.1,251.5 217.8,251.7 218.5,251.9 219.2,252.1 219.9,252.2 220.7,252.4 221.4,252.6 222.1,252.7 222.8,252.9 223.6,253 224.3,253.1 225,253.3 225.7,253.4 226.5,253.5 227.2,253.6 227.9,253.8 228.6,253.9 229.3,254 230.1,254.1 230.8,254.2 231.5,254.3 232.2,254.4 233,254.5 233.7,254.6 234.4,254.6 235.1,254.7 235.8,254.8 236.6,254.9 237.3,255 238,255 238.7,255.1 239.5,255.2 240.2,255.2 240.9,255.3 241.6,255.4 242.4,255.4 243.1,255.5 243.8,255.5 244.5,255.6 245.2,255.6 246,255.7 246.7,255.7 247.4,255.8 248.1,255.8 248.9,255.9 249.6,255.9 250.3,256 251,256 251.7,256 252.5,256.1 253.2,256.1 253.9,256.1 254.6,256.2 255.4,256.2 256.1,256.2 256.8,256.3 257.5,256.3 258.3,256.3 259,256.4 259.7,256.4 260.4,256.4 261.1,256.4 261.9,256.5 262.6,256.5 263.3,256.5 264,256.5 264.8,256.5 265.5,256.6 266.2,256.6" fill="none" stroke="#ff55dd" stroke-width="1.1" stroke-linejoin="round" />
<line x1="212" y1="263" x2="212" y2="204.3" stroke="#b22" stroke-width="1.1" stroke-dasharray="2.2,1.6"/>
<line x1="157.8" y1="191.3" x2="157.8" y2="263.5" stroke="#333" stroke-width="1" />
<line x1="157.3" y1="263" x2="266.7" y2="263" stroke="#333" stroke-width="1" />
<line x1="155.3" y1="263" x2="157.8" y2="263" stroke="#333" stroke-width="1" />
<text x="154.3" y="265.8" font-size="8" text-anchor="end" font-weight="normal" fill="#1a1a1a" >0.0</text>
<line x1="155.3" y1="245.2" x2="157.8" y2="245.2" stroke="#333" stroke-width="1" />
<text x="154.3" y="248" font-size="8" text-anchor="end" font-weight="normal" fill="#1a1a1a" >0.2</text>
<line x1="155.3" y1="227.4" x2="157.8" y2="227.4" stroke="#333" stroke-width="1" />
<text x="154.3" y="230.2" font-size="8" text-anchor="end" font-weight="normal" fill="#1a1a1a" >0.4</text>
<line x1="155.3" y1="209.6" x2="157.8" y2="209.6" stroke="#333" stroke-width="1" />
<text x="154.3" y="212.4" font-size="8" text-anchor="end" font-weight="normal" fill="#1a1a1a" >0.6</text>
<line x1="155.3" y1="191.8" x2="157.8" y2="191.8" stroke="#333" stroke-width="1" />
<text x="154.3" y="194.6" font-size="8" text-anchor="end" font-weight="normal" fill="#1a1a1a" >0.8</text>
<line x1="157.8" y1="263" x2="157.8" y2="265.5" stroke="#333" stroke-width="1" />
<text x="157.8" y="272.8" font-size="7.2" text-anchor="middle" font-weight="normal" fill="#1a1a1a" >0</text>
<line x1="193.9" y1="263" x2="193.9" y2="265.5" stroke="#333" stroke-width="1" />
<text x="193.9" y="272.8" font-size="7.2" text-anchor="middle" font-weight="normal" fill="#1a1a1a" >200</text>
<line x1="230.1" y1="263" x2="230.1" y2="265.5" stroke="#333" stroke-width="1" />
<text x="230.1" y="272.8" font-size="7.2" text-anchor="middle" font-weight="normal" fill="#1a1a1a" >400</text>
<line x1="266.2" y1="263" x2="266.2" y2="265.5" stroke="#333" stroke-width="1" />
<text x="266.2" y="272.8" font-size="7.2" text-anchor="middle" font-weight="normal" fill="#1a1a1a" >600</text>
<line x1="175.9" y1="263" x2="175.9" y2="264.5" stroke="#333" stroke-width="1" />
<line x1="212" y1="263" x2="212" y2="264.5" stroke="#333" stroke-width="1" />
<line x1="248.1" y1="263" x2="248.1" y2="264.5" stroke="#333" stroke-width="1" />
<text x="211" y="159.3" font-size="9.9" text-anchor="middle" font-weight="normal" fill="#1a1a1a" >RaTG13 RBD</text>
<text x="215.4" y="176.8" font-size="9.9" text-anchor="middle" font-weight="normal" fill="#1a1a1a" >KD =14.4 nM</text>
<polyline points="285.3,261.2 286,253.4 286.7,246.8 287.5,241.1 288.2,236.2 288.9,232 289.6,228.4 290.3,225.3 291,222.7 291.8,220.4 292.5,218.4 293.2,216.7 293.9,215.2 294.6,214 295.4,212.9 296.1,211.9 296.8,211 297.5,210.3 298.2,209.6 298.9,209 299.7,208.5 300.4,208 301.1,207.6 301.8,207.2 302.5,206.9 303.2,206.5 304,206.2 304.7,206 305.4,205.7 306.1,205.5 306.8,205.2 307.6,205 308.3,204.8 309,204.6 309.7,204.4 310.4,204.2 311.1,204 311.9,203.8 312.6,203.6 313.3,203.5 314,203.3 314.7,203.1 315.5,202.9 316.2,202.8 316.9,202.6 317.6,202.4 318.3,202.3 319,202.1 319.8,201.9 320.5,201.8 321.2,201.6 321.9,201.4 322.6,201.3 323.4,201.1 324.1,201 324.8,200.8 325.5,200.6 326.2,200.5 326.9,200.3 327.7,200.2 328.4,200 329.1,199.8 329.8,199.7 330.5,199.5 331.3,199.3 332,199.2 332.7,199 333.4,198.9 334.1,198.7 334.8,198.5 335.6,198.4 336.3,198.2 337,198.1 337.7,197.9 338.4,197.7 339.1,197.6 339.9,198.4 340.6,199.2 341.3,199.9 342,200.7 342.7,201.5 343.5,202.2 344.2,202.9 344.9,203.6 345.6,204.3 346.3,205 347,205.7 347.8,206.3 348.5,207 349.2,207.6 349.9,208.2 350.6,208.8 351.4,209.4 352.1,210 352.8,210.6 353.5,211.2 354.2,211.7 354.9,212.3 355.7,212.8 356.4,213.3 357.1,213.8 357.8,214.3 358.5,214.8 359.3,215.3 360,215.8 360.7,216.3 361.4,216.8 362.1,217.2 362.8,217.7 363.6,218.1 364.3,218.5 365,219 365.7,219.4 366.4,219.8 367.2,220.2 367.9,220.6 368.6,221 369.3,221.3 370,221.7 370.7,222.1 371.5,222.5 372.2,222.8 372.9,223.2 373.6,223.5 374.3,223.8 375.1,224.2 375.8,224.5 376.5,224.8 377.2,225.1 377.9,225.4 378.6,225.7 379.4,226 380.1,226.3 380.8,226.6 381.5,226.9 382.2,227.1 382.9,227.4 383.7,227.7 384.4,227.9 385.1,228.2 385.8,228.4 386.5,228.7 387.3,228.9 388,229.2 388.7,229.4 389.4,229.6 390.1,229.8 390.8,230.1 391.6,230.3 392.3,230.5 393,230.7" fill="none" stroke="#ee1c24" stroke-width="1.1" stroke-linejoin="round" />
<polyline points="285.3,261.2 286,256.8 286.7,252.8 287.5,249.2 288.2,245.8 288.9,242.8 289.6,240.1 290.3,237.6 291,235.3 291.8,233.2 292.5,231.3 293.2,229.6 293.9,228 294.6,226.5 295.4,225.2 296.1,224 296.8,222.9 297.5,221.8 298.2,220.9 298.9,220 299.7,219.2 300.4,218.4 301.1,217.7 301.8,217.1 302.5,216.5 303.2,215.9 304,215.4 304.7,214.9 305.4,214.4 306.1,214 306.8,213.6 307.6,213.2 308.3,212.8 309,212.5 309.7,212.2 310.4,211.8 311.1,211.5 311.9,211.2 312.6,211 313.3,210.7 314,210.4 314.7,210.2 315.5,209.9 316.2,209.7 316.9,209.4 317.6,209.2 318.3,209 319,208.8 319.8,208.5 320.5,208.3 321.2,208.1 321.9,207.9 322.6,207.7 323.4,207.5 324.1,207.3 324.8,207.1 325.5,206.9 326.2,206.7 326.9,206.5 327.7,206.3 328.4,206.2 329.1,206 329.8,205.8 330.5,205.6 331.3,205.4 332,205.2 332.7,205 333.4,204.8 334.1,204.7 334.8,204.5 335.6,204.3 336.3,204.1 337,203.9 337.7,203.8 338.4,203.6 339.1,203.4 339.9,204.1 340.6,204.9 341.3,205.6 342,206.3 342.7,207 343.5,207.6 344.2,208.3 344.9,208.9 345.6,209.6 346.3,210.2 347,210.8 347.8,211.4 348.5,212 349.2,212.6 349.9,213.2 350.6,213.7 351.4,214.3 352.1,214.8 352.8,215.4 353.5,215.9 354.2,216.4 354.9,216.9 355.7,217.4 356.4,217.9 357.1,218.3 357.8,218.8 358.5,219.3 359.3,219.7 360,220.2 360.7,220.6 361.4,221 362.1,221.5 362.8,221.9 363.6,222.3 364.3,222.7 365,223.1 365.7,223.4 366.4,223.8 367.2,224.2 367.9,224.6 368.6,224.9 369.3,225.3 370,225.6 370.7,225.9 371.5,226.3 372.2,226.6 372.9,226.9 373.6,227.2 374.3,227.5 375.1,227.8 375.8,228.1 376.5,228.4 377.2,228.7 377.9,229 378.6,229.3 379.4,229.5 380.1,229.8 380.8,230.1 381.5,230.3 382.2,230.6 382.9,230.8 383.7,231.1 384.4,231.3 385.1,231.5 385.8,231.8 386.5,232 387.3,232.2 388,232.4 388.7,232.7 389.4,232.9 390.1,233.1 390.8,233.3 391.6,233.5 392.3,233.7 393,233.9" fill="none" stroke="#ff9933" stroke-width="1.1" stroke-linejoin="round" />
<polyline points="285.3,261.2 286,259.7 286.7,258.3 287.5,256.9 288.2,255.5 288.9,254.2 289.6,252.9 290.3,251.7 291,250.5 291.8,249.4 292.5,248.3 293.2,247.2 293.9,246.2 294.6,245.2 295.4,244.2 296.1,243.3 296.8,242.4 297.5,241.5 298.2,240.7 298.9,239.8 299.7,239 300.4,238.3 301.1,237.5 301.8,236.8 302.5,236.1 303.2,235.4 304,234.7 304.7,234.1 305.4,233.5 306.1,232.8 306.8,232.2 307.6,231.7 308.3,231.1 309,230.6 309.7,230 310.4,229.5 311.1,229 311.9,228.5 312.6,228 313.3,227.6 314,227.1 314.7,226.7 315.5,226.2 316.2,225.8 316.9,225.4 317.6,225 318.3,224.6 319,224.2 319.8,223.8 320.5,223.4 321.2,223.1 321.9,222.7 322.6,222.4 323.4,222 324.1,221.7 324.8,221.4 325.5,221 326.2,220.7 326.9,220.4 327.7,220.1 328.4,219.8 329.1,219.5 329.8,219.2 330.5,218.9 331.3,218.6 332,218.3 332.7,218.1 333.4,217.8 334.1,217.5 334.8,217.3 335.6,217 336.3,216.7 337,216.5 337.7,216.2 338.4,216 339.1,215.7 339.9,216.4 340.6,217 341.3,217.6 342,218.2 342.7,218.7 343.5,219.3 344.2,219.8 344.9,220.4 345.6,220.9 346.3,221.4 347,221.9 347.8,222.4 348.5,222.9 349.2,223.3 349.9,223.8 350.6,224.3 351.4,224.7 352.1,225.1 352.8,225.5 353.5,226 354.2,226.4 354.9,226.7 355.7,227.1 356.4,227.5 357.1,227.9 357.8,228.2 358.5,228.6 359.3,228.9 360,229.3 360.7,229.6 361.4,229.9 362.1,230.2 362.8,230.5 363.6,230.8 364.3,231.1 365,231.4 365.7,231.7 366.4,232 367.2,232.2 367.9,232.5 368.6,232.8 369.3,233 370,233.3 370.7,233.5 371.5,233.7 372.2,234 372.9,234.2 373.6,234.4 374.3,234.6 375.1,234.8 375.8,235 376.5,235.2 377.2,235.4 377.9,235.6 378.6,235.8 379.4,236 380.1,236.2 380.8,236.4 381.5,236.5 382.2,236.7 382.9,236.9 383.7,237 384.4,237.2 385.1,237.3 385.8,237.5 386.5,237.6 387.3,237.8 388,237.9 388.7,238.1 389.4,238.2 390.1,238.3 390.8,238.5 391.6,238.6 392.3,238.7 393,238.8" fill="none" stroke="#2ca02c" stroke-width="1.1" stroke-linejoin="round" />
<polyline points="285.3,259.4 286,258.4 286.7,257.4 287.5,256.5 288.2,255.7 288.9,254.9 289.6,254.2 290.3,253.5 291,252.9 291.8,252.3 292.5,251.7 293.2,251.2 293.9,250.7 294.6,250.3 295.4,249.8 296.1,249.4 296.8,249 297.5,248.7 298.2,248.3 298.9,247.9 299.7,247.6 300.4,247.3 301.1,247 301.8,246.7 302.5,246.4 303.2,246.1 304,245.8 304.7,245.6 305.4,245.3 306.1,245 306.8,244.8 307.6,244.5 308.3,244.3 309,244.1 309.7,243.8 310.4,243.6 311.1,243.3 311.9,243.1 312.6,242.9 313.3,242.7 314,242.4 314.7,242.2 315.5,242 316.2,241.8 316.9,241.6 317.6,241.3 318.3,241.1 319,240.9 319.8,240.7 320.5,240.5 321.2,240.3 321.9,240.1 322.6,239.9 323.4,239.6 324.1,239.4 324.8,239.2 325.5,239 326.2,238.8 326.9,238.6 327.7,238.4 328.4,238.2 329.1,238 329.8,237.8 330.5,237.5 331.3,237.3 332,237.1 332.7,236.9 333.4,236.7 334.1,236.5 334.8,236.3 335.6,236.1 336.3,235.9 337,235.7 337.7,235.5 338.4,235.3 339.1,235.1 339.9,236.3 340.6,237.1 341.3,237.6 342,238.1 342.7,238.4 343.5,238.8 344.2,239.1 344.9,239.4 345.6,239.7 346.3,240 347,240.2 347.8,240.5 348.5,240.7 349.2,241 349.9,241.2 350.6,241.5 351.4,241.7 352.1,241.9 352.8,242.1 353.5,242.4 354.2,242.6 354.9,242.8 355.7,243 356.4,243.1 357.1,243.3 357.8,243.5 358.5,243.7 359.3,243.9 360,244 360.7,244.2 361.4,244.3 362.1,244.5 362.8,244.7 363.6,244.8 364.3,244.9 365,245.1 365.7,245.2 366.4,245.3 367.2,245.5 367.9,245.6 368.6,245.7 369.3,245.8 370,245.9 370.7,246.1 371.5,246.2 372.2,246.3 372.9,246.4 373.6,246.5 374.3,246.6 375.1,246.7 375.8,246.8 376.5,246.9 377.2,246.9 377.9,247 378.6,247.1 379.4,247.2 380.1,247.3 380.8,247.3 381.5,247.4 382.2,247.5 382.9,247.6 383.7,247.6 384.4,247.7 385.1,247.8 385.8,247.8 386.5,247.9 387.3,248 388,248 388.7,248.1 389.4,248.1 390.1,248.2 390.8,248.2 391.6,248.3 392.3,248.3 393,248.4" fill="none" stroke="#2020e8" stroke-width="1.1" stroke-linejoin="round" />
<polyline points="285.3,259.4 286,258.6 286.7,257.9 287.5,257.2 288.2,256.6 288.9,256 289.6,255.5 290.3,255 291,254.5 291.8,254.1 292.5,253.7 293.2,253.3 293.9,253 294.6,252.6 295.4,252.3 296.1,252 296.8,251.8 297.5,251.5 298.2,251.3 298.9,251 299.7,250.8 300.4,250.6 301.1,250.4 301.8,250.2 302.5,250 303.2,249.8 304,249.6 304.7,249.4 305.4,249.3 306.1,249.1 306.8,248.9 307.6,248.8 308.3,248.6 309,248.5 309.7,248.3 310.4,248.2 311.1,248 311.9,247.9 312.6,247.7 313.3,247.6 314,247.5 314.7,247.3 315.5,247.2 316.2,247.1 316.9,246.9 317.6,246.8 318.3,246.7 319,246.5 319.8,246.4 320.5,246.3 321.2,246.1 321.9,246 322.6,245.9 323.4,245.8 324.1,245.6 324.8,245.5 325.5,245.4 326.2,245.2 326.9,245.1 327.7,245 328.4,244.9 329.1,244.7 329.8,244.6 330.5,244.5 331.3,244.4 332,244.2 332.7,244.1 333.4,244 334.1,243.9 334.8,243.7 335.6,243.6 336.3,243.5 337,243.4 337.7,243.2 338.4,243.1 339.1,243 339.9,244.1 340.6,244.8 341.3,245.3 342,245.6 342.7,245.9 343.5,246.2 344.2,246.4 344.9,246.6 345.6,246.8 346.3,247 347,247.2 347.8,247.4 348.5,247.5 349.2,247.7 349.9,247.9 350.6,248 351.4,248.2 352.1,248.4 352.8,248.5 353.5,248.6 354.2,248.8 354.9,248.9 355.7,249 356.4,249.2 357.1,249.3 357.8,249.4 358.5,249.5 359.3,249.6 360,249.7 360.7,249.9 361.4,250 362.1,250.1 362.8,250.2 363.6,250.2 364.3,250.3 365,250.4 365.7,250.5 366.4,250.6 367.2,250.7 367.9,250.7 368.6,250.8 369.3,250.9 370,251 370.7,251 371.5,251.1 372.2,251.2 372.9,251.2 373.6,251.3 374.3,251.3 375.1,251.4 375.8,251.5 376.5,251.5 377.2,251.6 377.9,251.6 378.6,251.7 379.4,251.7 380.1,251.8 380.8,251.8 381.5,251.8 382.2,251.9 382.9,251.9 383.7,252 384.4,252 385.1,252 385.8,252.1 386.5,252.1 387.3,252.1 388,252.2 388.7,252.2 389.4,252.2 390.1,252.3 390.8,252.3 391.6,252.3 392.3,252.3 393,252.4" fill="none" stroke="#ff55dd" stroke-width="1.1" stroke-linejoin="round" />
<line x1="339.1" y1="263" x2="339.1" y2="197.6" stroke="#b22" stroke-width="1.1" stroke-dasharray="2.2,1.6"/>
<line x1="285.3" y1="191.3" x2="285.3" y2="263.5" stroke="#333" stroke-width="1" />
<line x1="284.8" y1="263" x2="393.5" y2="263" stroke="#333" stroke-width="1" />
<line x1="282.8" y1="263" x2="285.3" y2="263" stroke="#333" stroke-width="1" />
<text x="281.8" y="265.8" font-size="8" text-anchor="end" font-weight="normal" fill="#1a1a1a" >0.0</text>
<line x1="282.8" y1="245.2" x2="285.3" y2="245.2" stroke="#333" stroke-width="1" />
<text x="281.8" y="248" font-size="8" text-anchor="end" font-weight="normal" fill="#1a1a1a" >0.2</text>
<line x1="282.8" y1="227.4" x2="285.3" y2="227.4" stroke="#333" stroke-width="1" />
<text x="281.8" y="230.2" font-size="8" text-anchor="end" font-weight="normal" fill="#1a1a1a" >0.4</text>
<line x1="282.8" y1="209.6" x2="285.3" y2="209.6" stroke="#333" stroke-width="1" />
<text x="281.8" y="212.4" font-size="8" text-anchor="end" font-weight="normal" fill="#1a1a1a" >0.6</text>
<line x1="282.8" y1="191.8" x2="285.3" y2="191.8" stroke="#333" stroke-width="1" />
<text x="281.8" y="194.6" font-size="8" text-anchor="end" font-weight="normal" fill="#1a1a1a" >0.8</text>
<line x1="285.3" y1="263" x2="285.3" y2="265.5" stroke="#333" stroke-width="1" />
<text x="285.3" y="272.8" font-size="7.2" text-anchor="middle" font-weight="normal" fill="#1a1a1a" >0</text>
<line x1="321.2" y1="263" x2="321.2" y2="265.5" stroke="#333" stroke-width="1" />
<text x="321.2" y="272.8" font-size="7.2" text-anchor="middle" font-weight="normal" fill="#1a1a1a" >200</text>
<line x1="357.1" y1="263" x2="357.1" y2="265.5" stroke="#333" stroke-width="1" />
<text x="357.1" y="272.8" font-size="7.2" text-anchor="middle" font-weight="normal" fill="#1a1a1a" >400</text>
<line x1="393" y1="263" x2="393" y2="265.5" stroke="#333" stroke-width="1" />
<text x="393" y="272.8" font-size="7.2" text-anchor="middle" font-weight="normal" fill="#1a1a1a" >600</text>
<line x1="303.2" y1="263" x2="303.2" y2="264.5" stroke="#333" stroke-width="1" />
<line x1="339.1" y1="263" x2="339.1" y2="264.5" stroke="#333" stroke-width="1" />
<line x1="375.1" y1="263" x2="375.1" y2="264.5" stroke="#333" stroke-width="1" />
<text x="334.6" y="159.3" font-size="9.9" text-anchor="middle" font-weight="normal" fill="#1a1a1a" >GD-Pangolin RBD</text>
<text x="337.2" y="176.8" font-size="9.9" text-anchor="middle" font-weight="normal" fill="#1a1a1a" >KD =4.05 nM</text>
<polyline points="413.6,253.5 414.3,249.9 415,246.9 415.8,244.3 416.5,242.1 417.2,240.2 417.9,238.5 418.7,237 419.4,235.7 420.1,234.5 420.8,233.4 421.5,232.5 422.3,231.6 423,230.7 423.7,229.9 424.4,229.2 425.2,228.5 425.9,227.8 426.6,227.1 427.3,226.4 428.1,225.8 428.8,225.2 429.5,224.6 430.2,224 430.9,223.4 431.7,222.8 432.4,222.2 433.1,221.6 433.8,221 434.6,220.4 435.3,219.8 436,219.3 436.7,218.7 437.4,218.1 438.2,217.5 438.9,217 439.6,216.4 440.3,215.8 441.1,215.3 441.8,214.7 442.5,214.1 443.2,213.5 444,213 444.7,212.4 445.4,211.8 446.1,211.3 446.8,210.7 447.6,210.1 448.3,209.6 449,209 449.7,208.4 450.5,207.8 451.2,207.3 451.9,206.7 452.6,206.1 453.3,205.6 454.1,205 454.8,204.4 455.5,203.9 456.2,203.3 457,202.7 457.7,202.1 458.4,201.6 459.1,201 459.9,200.4 460.6,199.9 461.3,199.3 462,198.7 462.7,198.2 463.5,197.6 464.2,197 464.9,196.5 465.6,195.9 466.4,195.3 467.1,194.7 467.8,194.2 468.5,200.2 469.2,203.4 470,205.1 470.7,206 471.4,206.6 472.1,207 472.9,207.3 473.6,207.5 474.3,207.6 475,207.8 475.7,207.9 476.5,208 477.2,208.1 477.9,208.2 478.6,208.3 479.4,208.4 480.1,208.5 480.8,208.5 481.5,208.6 482.3,208.7 483,208.7 483.7,208.8 484.4,208.8 485.1,208.9 485.9,208.9 486.6,209 487.3,209 488,209 488.8,209.1 489.5,209.1 490.2,209.1 490.9,209.2 491.6,209.2 492.4,209.2 493.1,209.3 493.8,209.3 494.5,209.3 495.3,209.3 496,209.3 496.7,209.4 497.4,209.4 498.2,209.4 498.9,209.4 499.6,209.4 500.3,209.4 501,209.4 501.8,209.4 502.5,209.5 503.2,209.5 503.9,209.5 504.7,209.5 505.4,209.5 506.1,209.5 506.8,209.5 507.5,209.5 508.3,209.5 509,209.5 509.7,209.5 510.4,209.5 511.2,209.5 511.9,209.5 512.6,209.5 513.3,209.5 514.1,209.6 514.8,209.6 515.5,209.6 516.2,209.6 516.9,209.6 517.7,209.6 518.4,209.6 519.1,209.6 519.8,209.6 520.6,209.6 521.3,209.6 522,209.6" fill="none" stroke="#ee1c24" stroke-width="1.1" stroke-linejoin="round" />
<polyline points="413.6,253.5 414.3,251.4 415,249.6 415.8,248 416.5,246.6 417.2,245.4 417.9,244.3 418.7,243.3 419.4,242.4 420.1,241.6 420.8,240.9 421.5,240.2 422.3,239.6 423,239 423.7,238.5 424.4,237.9 425.2,237.5 425.9,237 426.6,236.6 427.3,236.2 428.1,235.8 428.8,235.4 429.5,235 430.2,234.6 430.9,234.3 431.7,233.9 432.4,233.6 433.1,233.2 433.8,232.9 434.6,232.5 435.3,232.2 436,231.9 436.7,231.5 437.4,231.2 438.2,230.9 438.9,230.6 439.6,230.2 440.3,229.9 441.1,229.6 441.8,229.3 442.5,228.9 443.2,228.6 444,228.3 444.7,228 445.4,227.7 446.1,227.3 446.8,227 447.6,226.7 448.3,226.4 449,226.1 449.7,225.7 450.5,225.4 451.2,225.1 451.9,224.8 452.6,224.5 453.3,224.2 454.1,223.8 454.8,223.5 455.5,223.2 456.2,222.9 457,222.6 457.7,222.2 458.4,221.9 459.1,221.6 459.9,221.3 460.6,221 461.3,220.7 462,220.3 462.7,220 463.5,219.7 464.2,219.4 464.9,219.1 465.6,218.7 466.4,218.4 467.1,218.1 467.8,217.8 468.5,223.7 469.2,226.8 470,228.5 470.7,229.4 471.4,229.9 472.1,230.2 472.9,230.4 473.6,230.6 474.3,230.7 475,230.8 475.7,230.9 476.5,231 477.2,231 477.9,231.1 478.6,231.2 479.4,231.2 480.1,231.3 480.8,231.3 481.5,231.4 482.3,231.4 483,231.4 483.7,231.5 484.4,231.5 485.1,231.5 485.9,231.6 486.6,231.6 487.3,231.6 488,231.7 488.8,231.7 489.5,231.7 490.2,231.7 490.9,231.7 491.6,231.8 492.4,231.8 493.1,231.8 493.8,231.8 494.5,231.8 495.3,231.8 496,231.9 496.7,231.9 497.4,231.9 498.2,231.9 498.9,231.9 499.6,231.9 500.3,231.9 501,231.9 501.8,231.9 502.5,231.9 503.2,231.9 503.9,231.9 504.7,231.9 505.4,232 506.1,232 506.8,232 507.5,232 508.3,232 509,232 509.7,232 510.4,232 511.2,232 511.9,232 512.6,232 513.3,232 514.1,232 514.8,232 515.5,232 516.2,232 516.9,232 517.7,232 518.4,232 519.1,232 519.8,232 520.6,232 521.3,232 522,232" fill="none" stroke="#ff9933" stroke-width="1.1" stroke-linejoin="round" />
<polyline points="413.6,254.7 414.3,253.1 415,251.7 415.8,250.5 416.5,249.4 417.2,248.4 417.9,247.6 418.7,246.9 419.4,246.2 420.1,245.6 420.8,245.1 421.5,244.6 422.3,244.1 423,243.7 423.7,243.4 424.4,243 425.2,242.7 425.9,242.4 426.6,242.1 427.3,241.8 428.1,241.5 428.8,241.2 429.5,241 430.2,240.7 430.9,240.5 431.7,240.3 432.4,240 433.1,239.8 433.8,239.6 434.6,239.4 435.3,239.2 436,238.9 436.7,238.7 437.4,238.5 438.2,238.3 438.9,238.1 439.6,237.9 440.3,237.7 441.1,237.5 441.8,237.3 442.5,237.1 443.2,236.8 444,236.6 444.7,236.4 445.4,236.2 446.1,236 446.8,235.8 447.6,235.6 448.3,235.4 449,235.2 449.7,235 450.5,234.8 451.2,234.6 451.9,234.4 452.6,234.2 453.3,234 454.1,233.8 454.8,233.6 455.5,233.4 456.2,233.2 457,233 457.7,232.8 458.4,232.5 459.1,232.3 459.9,232.1 460.6,231.9 461.3,231.7 462,231.5 462.7,231.3 463.5,231.1 464.2,230.9 464.9,230.7 465.6,230.5 466.4,230.3 467.1,230.1 467.8,229.9 468.5,235.8 469.2,238.9 470,240.6 470.7,241.5 471.4,242 472.1,242.3 472.9,242.5 473.6,242.7 474.3,242.8 475,242.9 475.7,243 476.5,243.1 477.2,243.1 477.9,243.2 478.6,243.3 479.4,243.3 480.1,243.4 480.8,243.4 481.5,243.5 482.3,243.5 483,243.5 483.7,243.6 484.4,243.6 485.1,243.7 485.9,243.7 486.6,243.7 487.3,243.7 488,243.8 488.8,243.8 489.5,243.8 490.2,243.8 490.9,243.9 491.6,243.9 492.4,243.9 493.1,243.9 493.8,243.9 494.5,243.9 495.3,243.9 496,244 496.7,244 497.4,244 498.2,244 498.9,244 499.6,244 500.3,244 501,244 501.8,244 502.5,244 503.2,244 503.9,244 504.7,244.1 505.4,244.1 506.1,244.1 506.8,244.1 507.5,244.1 508.3,244.1 509,244.1 509.7,244.1 510.4,244.1 511.2,244.1 511.9,244.1 512.6,244.1 513.3,244.1 514.1,244.1 514.8,244.1 515.5,244.1 516.2,244.1 516.9,244.1 517.7,244.1 518.4,244.1 519.1,244.1 519.8,244.1 520.6,244.1 521.3,244.1 522,244.1" fill="none" stroke="#2ca02c" stroke-width="1.1" stroke-linejoin="round" />
<polyline points="413.6,258.3 414.3,256.4 415,254.9 415.8,253.7 416.5,252.6 417.2,251.8 417.9,251 418.7,250.4 419.4,249.9 420.1,249.5 420.8,249.1 421.5,248.8 422.3,248.5 423,248.2 423.7,248 424.4,247.8 425.2,247.6 425.9,247.5 426.6,247.3 427.3,247.2 428.1,247 428.8,246.9 429.5,246.8 430.2,246.7 430.9,246.6 431.7,246.5 432.4,246.3 433.1,246.2 433.8,246.1 434.6,246 435.3,245.9 436,245.8 436.7,245.7 437.4,245.6 438.2,245.5 438.9,245.4 439.6,245.3 440.3,245.3 441.1,245.2 441.8,245.1 442.5,245 443.2,244.9 444,244.8 444.7,244.7 445.4,244.6 446.1,244.5 446.8,244.4 447.6,244.3 448.3,244.2 449,244.1 449.7,244 450.5,243.9 451.2,243.8 451.9,243.7 452.6,243.6 453.3,243.5 454.1,243.4 454.8,243.3 455.5,243.3 456.2,243.2 457,243.1 457.7,243 458.4,242.9 459.1,242.8 459.9,242.7 460.6,242.6 461.3,242.5 462,242.4 462.7,242.3 463.5,242.2 464.2,242.1 464.9,242 465.6,241.9 466.4,241.8 467.1,241.7 467.8,241.6 468.5,245.8 469.2,248.1 470,249.3 470.7,249.9 471.4,250.3 472.1,250.6 472.9,250.8 473.6,250.9 474.3,251 475,251.1 475.7,251.2 476.5,251.3 477.2,251.3 477.9,251.4 478.6,251.4 479.4,251.5 480.1,251.6 480.8,251.6 481.5,251.7 482.3,251.7 483,251.7 483.7,251.8 484.4,251.8 485.1,251.8 485.9,251.9 486.6,251.9 487.3,251.9 488,252 488.8,252 489.5,252 490.2,252 490.9,252 491.6,252.1 492.4,252.1 493.1,252.1 493.8,252.1 494.5,252.1 495.3,252.1 496,252.1 496.7,252.2 497.4,252.2 498.2,252.2 498.9,252.2 499.6,252.2 500.3,252.2 501,252.2 501.8,252.2 502.5,252.2 503.2,252.2 503.9,252.2 504.7,252.2 505.4,252.2 506.1,252.3 506.8,252.3 507.5,252.3 508.3,252.3 509,252.3 509.7,252.3 510.4,252.3 511.2,252.3 511.9,252.3 512.6,252.3 513.3,252.3 514.1,252.3 514.8,252.3 515.5,252.3 516.2,252.3 516.9,252.3 517.7,252.3 518.4,252.3 519.1,252.3 519.8,252.3 520.6,252.3 521.3,252.3 522,252.3" fill="none" stroke="#2020e8" stroke-width="1.1" stroke-linejoin="round" />
<polyline points="413.6,257.1 414.3,255.7 415,254.5 415.8,253.5 416.5,252.6 417.2,251.9 417.9,251.2 418.7,250.6 419.4,250 420.1,249.6 420.8,249.2 421.5,248.8 422.3,248.4 423,248.1 423.7,247.9 424.4,247.6 425.2,247.4 425.9,247.1 426.6,246.9 427.3,246.7 428.1,246.5 428.8,246.4 429.5,246.2 430.2,246 430.9,245.9 431.7,245.7 432.4,245.6 433.1,245.4 433.8,245.3 434.6,245.1 435.3,245 436,244.8 436.7,244.7 437.4,244.6 438.2,244.4 438.9,244.3 439.6,244.2 440.3,244 441.1,243.9 441.8,243.8 442.5,243.6 443.2,243.5 444,243.4 444.7,243.3 445.4,243.1 446.1,243 446.8,242.9 447.6,242.7 448.3,242.6 449,242.5 449.7,242.4 450.5,242.2 451.2,242.1 451.9,242 452.6,241.8 453.3,241.7 454.1,241.6 454.8,241.5 455.5,241.3 456.2,241.2 457,241.1 457.7,240.9 458.4,240.8 459.1,240.7 459.9,240.6 460.6,240.4 461.3,240.3 462,240.2 462.7,240 463.5,239.9 464.2,239.8 464.9,239.7 465.6,239.5 466.4,239.4 467.1,239.3 467.8,239.1 468.5,244.8 469.2,247.7 470,249.3 470.7,250.2 471.4,250.7 472.1,251 472.9,251.2 473.6,251.3 474.3,251.5 475,251.6 475.7,251.6 476.5,251.7 477.2,251.8 477.9,251.9 478.6,251.9 479.4,252 480.1,252 480.8,252.1 481.5,252.1 482.3,252.2 483,252.2 483.7,252.2 484.4,252.3 485.1,252.3 485.9,252.3 486.6,252.4 487.3,252.4 488,252.4 488.8,252.5 489.5,252.5 490.2,252.5 490.9,252.5 491.6,252.5 492.4,252.5 493.1,252.6 493.8,252.6 494.5,252.6 495.3,252.6 496,252.6 496.7,252.6 497.4,252.6 498.2,252.7 498.9,252.7 499.6,252.7 500.3,252.7 501,252.7 501.8,252.7 502.5,252.7 503.2,252.7 503.9,252.7 504.7,252.7 505.4,252.7 506.1,252.7 506.8,252.7 507.5,252.7 508.3,252.7 509,252.7 509.7,252.7 510.4,252.7 511.2,252.8 511.9,252.8 512.6,252.8 513.3,252.8 514.1,252.8 514.8,252.8 515.5,252.8 516.2,252.8 516.9,252.8 517.7,252.8 518.4,252.8 519.1,252.8 519.8,252.8 520.6,252.8 521.3,252.8 522,252.8" fill="none" stroke="#ff55dd" stroke-width="1.1" stroke-linejoin="round" />
<line x1="467.8" y1="263" x2="467.8" y2="194.2" stroke="#b22" stroke-width="1.1" stroke-dasharray="2.2,1.6"/>
<line x1="413.6" y1="191.3" x2="413.6" y2="263.5" stroke="#333" stroke-width="1" />
<line x1="413.1" y1="263" x2="522.5" y2="263" stroke="#333" stroke-width="1" />
<line x1="411.1" y1="263" x2="413.6" y2="263" stroke="#333" stroke-width="1" />
<text x="410.1" y="265.8" font-size="8" text-anchor="end" font-weight="normal" fill="#1a1a1a" >0.0</text>
<line x1="411.1" y1="239.3" x2="413.6" y2="239.3" stroke="#333" stroke-width="1" />
<text x="410.1" y="242.1" font-size="8" text-anchor="end" font-weight="normal" fill="#1a1a1a" >0.2</text>
<line x1="411.1" y1="215.5" x2="413.6" y2="215.5" stroke="#333" stroke-width="1" />
<text x="410.1" y="218.3" font-size="8" text-anchor="end" font-weight="normal" fill="#1a1a1a" >0.4</text>
<line x1="411.1" y1="191.8" x2="413.6" y2="191.8" stroke="#333" stroke-width="1" />
<text x="410.1" y="194.6" font-size="8" text-anchor="end" font-weight="normal" fill="#1a1a1a" >0.6</text>
<line x1="413.6" y1="263" x2="413.6" y2="265.5" stroke="#333" stroke-width="1" />
<text x="413.6" y="272.8" font-size="7.2" text-anchor="middle" font-weight="normal" fill="#1a1a1a" >0</text>
<line x1="449.7" y1="263" x2="449.7" y2="265.5" stroke="#333" stroke-width="1" />
<text x="449.7" y="272.8" font-size="7.2" text-anchor="middle" font-weight="normal" fill="#1a1a1a" >200</text>
<line x1="485.9" y1="263" x2="485.9" y2="265.5" stroke="#333" stroke-width="1" />
<text x="485.9" y="272.8" font-size="7.2" text-anchor="middle" font-weight="normal" fill="#1a1a1a" >400</text>
<line x1="522" y1="263" x2="522" y2="265.5" stroke="#333" stroke-width="1" />
<text x="522" y="272.8" font-size="7.2" text-anchor="middle" font-weight="normal" fill="#1a1a1a" >600</text>
<line x1="431.7" y1="263" x2="431.7" y2="264.5" stroke="#333" stroke-width="1" />
<line x1="467.8" y1="263" x2="467.8" y2="264.5" stroke="#333" stroke-width="1" />
<line x1="503.9" y1="263" x2="503.9" y2="264.5" stroke="#333" stroke-width="1" />
<text x="459" y="159.3" font-size="9.9" text-anchor="middle" font-weight="normal" fill="#1a1a1a" >GX-Pangolin RBD</text>
<text x="461.3" y="176.8" font-size="9.9" text-anchor="middle" font-weight="normal" fill="#1a1a1a" >KD =7.42 nM</text>
<polyline points="541.3,259.4 542,255.1 542.7,251.1 543.4,247.3 544.1,243.8 544.9,240.6 545.6,237.5 546.3,234.7 547,232.1 547.7,229.6 548.4,227.3 549.1,225.2 549.8,223.2 550.6,221.3 551.3,219.6 552,218 552.7,216.5 553.4,215 554.1,213.7 554.8,212.5 555.5,211.3 556.3,210.3 557,209.3 557.7,208.3 558.4,207.4 559.1,206.6 559.8,205.8 560.5,205.1 561.2,204.4 561.9,203.8 562.7,203.2 563.4,202.6 564.1,202.1 564.8,201.6 565.5,201.1 566.2,200.7 566.9,200.3 567.6,199.9 568.4,199.5 569.1,199.1 569.8,198.8 570.5,198.5 571.2,198.2 571.9,197.9 572.6,197.6 573.3,197.4 574.1,197.1 574.8,196.9 575.5,196.7 576.2,196.4 576.9,196.2 577.6,196 578.3,195.9 579,195.7 579.7,195.5 580.5,195.3 581.2,195.2 581.9,195 582.6,194.9 583.3,194.7 584,194.6 584.7,194.4 585.4,194.3 586.2,194.2 586.9,194 587.6,193.9 588.3,193.8 589,193.7 589.7,193.5 590.4,193.4 591.1,193.3 591.9,193.2 592.6,193.1 593.3,193 594,192.9 594.7,192.8 595.4,194.2 596.1,195.1 596.8,195.7 597.5,196.2 598.3,196.6 599,197 599.7,197.3 600.4,197.6 601.1,198 601.8,198.3 602.5,198.6 603.2,198.9 604,199.1 604.7,199.4 605.4,199.7 606.1,200 606.8,200.2 607.5,200.5 608.2,200.8 608.9,201 609.7,201.3 610.4,201.5 611.1,201.7 611.8,202 612.5,202.2 613.2,202.4 613.9,202.6 614.6,202.8 615.3,203.1 616.1,203.3 616.8,203.5 617.5,203.7 618.2,203.9 618.9,204 619.6,204.2 620.3,204.4 621,204.6 621.8,204.8 622.5,204.9 623.2,205.1 623.9,205.3 624.6,205.4 625.3,205.6 626,205.7 626.7,205.9 627.5,206 628.2,206.2 628.9,206.3 629.6,206.5 630.3,206.6 631,206.7 631.7,206.9 632.4,207 633.1,207.1 633.9,207.3 634.6,207.4 635.3,207.5 636,207.6 636.7,207.7 637.4,207.8 638.1,208 638.8,208.1 639.6,208.2 640.3,208.3 641,208.4 641.7,208.5 642.4,208.6 643.1,208.7 643.8,208.8 644.5,208.9 645.3,208.9 646,209 646.7,209.1 647.4,209.2 648.1,209.3" fill="none" stroke="#ee1c24" stroke-width="1.1" stroke-linejoin="round" />
<polyline points="541.3,259.4 542,257.4 542.7,255.5 543.4,253.7 544.1,251.9 544.9,250.1 545.6,248.5 546.3,246.8 547,245.3 547.7,243.8 548.4,242.3 549.1,240.9 549.8,239.5 550.6,238.2 551.3,236.9 552,235.7 552.7,234.5 553.4,233.4 554.1,232.3 554.8,231.2 555.5,230.1 556.3,229.1 557,228.2 557.7,227.2 558.4,226.3 559.1,225.4 559.8,224.6 560.5,223.7 561.2,222.9 561.9,222.2 562.7,221.4 563.4,220.7 564.1,220 564.8,219.3 565.5,218.6 566.2,218 566.9,217.4 567.6,216.8 568.4,216.2 569.1,215.6 569.8,215.1 570.5,214.6 571.2,214 571.9,213.5 572.6,213.1 573.3,212.6 574.1,212.1 574.8,211.7 575.5,211.3 576.2,210.8 576.9,210.4 577.6,210 578.3,209.7 579,209.3 579.7,208.9 580.5,208.6 581.2,208.2 581.9,207.9 582.6,207.6 583.3,207.2 584,206.9 584.7,206.6 585.4,206.3 586.2,206.1 586.9,205.8 587.6,205.5 588.3,205.2 589,205 589.7,204.7 590.4,204.5 591.1,204.2 591.9,204 592.6,203.8 593.3,203.6 594,203.3 594.7,203.1 595.4,204.6 596.1,205.5 596.8,206.1 597.5,206.6 598.3,207.1 599,207.4 599.7,207.8 600.4,208.1 601.1,208.5 601.8,208.8 602.5,209.1 603.2,209.4 604,209.7 604.7,210 605.4,210.3 606.1,210.6 606.8,210.9 607.5,211.1 608.2,211.4 608.9,211.6 609.7,211.9 610.4,212.1 611.1,212.4 611.8,212.6 612.5,212.8 613.2,213.1 613.9,213.3 614.6,213.5 615.3,213.7 616.1,213.9 616.8,214.1 617.5,214.3 618.2,214.5 618.9,214.7 619.6,214.9 620.3,215.1 621,215.2 621.8,215.4 622.5,215.6 623.2,215.7 623.9,215.9 624.6,216.1 625.3,216.2 626,216.4 626.7,216.5 627.5,216.7 628.2,216.8 628.9,216.9 629.6,217.1 630.3,217.2 631,217.3 631.7,217.5 632.4,217.6 633.1,217.7 633.9,217.8 634.6,217.9 635.3,218 636,218.2 636.7,218.3 637.4,218.4 638.1,218.5 638.8,218.6 639.6,218.7 640.3,218.8 641,218.9 641.7,219 642.4,219 643.1,219.1 643.8,219.2 644.5,219.3 645.3,219.4 646,219.5 646.7,219.5 647.4,219.6 648.1,219.7" fill="none" stroke="#ff9933" stroke-width="1.1" stroke-linejoin="round" />
<polyline points="541.3,259.4 542,258.6 542.7,257.8 543.4,257 544.1,256.2 544.9,255.4 545.6,254.6 546.3,253.9 547,253.1 547.7,252.4 548.4,251.7 549.1,251 549.8,250.4 550.6,249.7 551.3,249.1 552,248.4 552.7,247.8 553.4,247.2 554.1,246.6 554.8,246 555.5,245.4 556.3,244.9 557,244.3 557.7,243.8 558.4,243.2 559.1,242.7 559.8,242.2 560.5,241.7 561.2,241.2 561.9,240.7 562.7,240.2 563.4,239.7 564.1,239.3 564.8,238.8 565.5,238.4 566.2,237.9 566.9,237.5 567.6,237 568.4,236.6 569.1,236.2 569.8,235.8 570.5,235.4 571.2,235 571.9,234.6 572.6,234.2 573.3,233.8 574.1,233.5 574.8,233.1 575.5,232.7 576.2,232.4 576.9,232 577.6,231.7 578.3,231.3 579,231 579.7,230.7 580.5,230.3 581.2,230 581.9,229.7 582.6,229.4 583.3,229 584,228.7 584.7,228.4 585.4,228.1 586.2,227.8 586.9,227.5 587.6,227.2 588.3,226.9 589,226.7 589.7,226.4 590.4,226.1 591.1,225.8 591.9,225.5 592.6,225.3 593.3,225 594,224.7 594.7,224.5 595.4,225.3 596.1,225.8 596.8,226.1 597.5,226.3 598.3,226.5 599,226.6 599.7,226.7 600.4,226.8 601.1,226.9 601.8,227 602.5,227.2 603.2,227.2 604,227.3 604.7,227.4 605.4,227.5 606.1,227.6 606.8,227.7 607.5,227.8 608.2,227.9 608.9,227.9 609.7,228 610.4,228.1 611.1,228.2 611.8,228.2 612.5,228.3 613.2,228.4 613.9,228.4 614.6,228.5 615.3,228.6 616.1,228.6 616.8,228.7 617.5,228.7 618.2,228.8 618.9,228.9 619.6,228.9 620.3,229 621,229 621.8,229.1 622.5,229.1 623.2,229.2 623.9,229.2 624.6,229.2 625.3,229.3 626,229.3 626.7,229.4 627.5,229.4 628.2,229.4 628.9,229.5 629.6,229.5 630.3,229.6 631,229.6 631.7,229.6 632.4,229.7 633.1,229.7 633.9,229.7 634.6,229.7 635.3,229.8 636,229.8 636.7,229.8 637.4,229.9 638.1,229.9 638.8,229.9 639.6,229.9 640.3,230 641,230 641.7,230 642.4,230 643.1,230.1 643.8,230.1 644.5,230.1 645.3,230.1 646,230.1 646.7,230.2 647.4,230.2 648.1,230.2" fill="none" stroke="#2ca02c" stroke-width="1.1" stroke-linejoin="round" />
<polyline points="541.3,259.4 542,258.7 542.7,258 543.4,257.4 544.1,256.8 544.9,256.2 545.6,255.6 546.3,255.1 547,254.5 547.7,254 548.4,253.6 549.1,253.1 549.8,252.7 550.6,252.3 551.3,251.9 552,251.5 552.7,251.1 553.4,250.7 554.1,250.4 554.8,250.1 555.5,249.7 556.3,249.4 557,249.1 557.7,248.8 558.4,248.5 559.1,248.2 559.8,248 560.5,247.7 561.2,247.4 561.9,247.2 562.7,246.9 563.4,246.7 564.1,246.4 564.8,246.2 565.5,246 566.2,245.7 566.9,245.5 567.6,245.3 568.4,245.1 569.1,244.9 569.8,244.7 570.5,244.4 571.2,244.2 571.9,244 572.6,243.8 573.3,243.6 574.1,243.4 574.8,243.2 575.5,243 576.2,242.8 576.9,242.7 577.6,242.5 578.3,242.3 579,242.1 579.7,241.9 580.5,241.7 581.2,241.5 581.9,241.3 582.6,241.2 583.3,241 584,240.8 584.7,240.6 585.4,240.4 586.2,240.3 586.9,240.1 587.6,239.9 588.3,239.7 589,239.5 589.7,239.4 590.4,239.2 591.1,239 591.9,238.8 592.6,238.7 593.3,238.5 594,238.3 594.7,238.1 595.4,240.4 596.1,241.7 596.8,242.5 597.5,243 598.3,243.3 599,243.6 599.7,243.8 600.4,244 601.1,244.2 601.8,244.4 602.5,244.6 603.2,244.7 604,244.9 604.7,245.1 605.4,245.2 606.1,245.4 606.8,245.5 607.5,245.7 608.2,245.8 608.9,245.9 609.7,246.1 610.4,246.2 611.1,246.3 611.8,246.4 612.5,246.6 613.2,246.7 613.9,246.8 614.6,246.9 615.3,247 616.1,247.1 616.8,247.2 617.5,247.3 618.2,247.4 618.9,247.5 619.6,247.6 620.3,247.7 621,247.8 621.8,247.9 622.5,247.9 623.2,248 623.9,248.1 624.6,248.2 625.3,248.2 626,248.3 626.7,248.4 627.5,248.4 628.2,248.5 628.9,248.6 629.6,248.6 630.3,248.7 631,248.8 631.7,248.8 632.4,248.9 633.1,248.9 633.9,249 634.6,249 635.3,249.1 636,249.1 636.7,249.2 637.4,249.2 638.1,249.3 638.8,249.3 639.6,249.4 640.3,249.4 641,249.4 641.7,249.5 642.4,249.5 643.1,249.6 643.8,249.6 644.5,249.6 645.3,249.7 646,249.7 646.7,249.7 647.4,249.8 648.1,249.8" fill="none" stroke="#2020e8" stroke-width="1.1" stroke-linejoin="round" />
<polyline points="541.3,259.4 542,258.9 542.7,258.3 543.4,257.8 544.1,257.3 544.9,256.9 545.6,256.4 546.3,256 547,255.6 547.7,255.2 548.4,254.8 549.1,254.5 549.8,254.2 550.6,253.8 551.3,253.5 552,253.2 552.7,252.9 553.4,252.7 554.1,252.4 554.8,252.2 555.5,251.9 556.3,251.7 557,251.5 557.7,251.2 558.4,251 559.1,250.8 559.8,250.6 560.5,250.4 561.2,250.2 561.9,250 562.7,249.9 563.4,249.7 564.1,249.5 564.8,249.3 565.5,249.2 566.2,249 566.9,248.9 567.6,248.7 568.4,248.6 569.1,248.4 569.8,248.3 570.5,248.1 571.2,248 571.9,247.8 572.6,247.7 573.3,247.5 574.1,247.4 574.8,247.3 575.5,247.1 576.2,247 576.9,246.9 577.6,246.7 578.3,246.6 579,246.5 579.7,246.4 580.5,246.2 581.2,246.1 581.9,246 582.6,245.9 583.3,245.7 584,245.6 584.7,245.5 585.4,245.4 586.2,245.2 586.9,245.1 587.6,245 588.3,244.9 589,244.8 589.7,244.6 590.4,244.5 591.1,244.4 591.9,244.3 592.6,244.2 593.3,244.1 594,243.9 594.7,243.8 595.4,246.8 596.1,248.4 596.8,249.2 597.5,249.8 598.3,250.1 599,250.4 599.7,250.6 600.4,250.7 601.1,250.9 601.8,251 602.5,251.1 603.2,251.3 604,251.4 604.7,251.5 605.4,251.6 606.1,251.7 606.8,251.9 607.5,252 608.2,252.1 608.9,252.2 609.7,252.3 610.4,252.4 611.1,252.5 611.8,252.5 612.5,252.6 613.2,252.7 613.9,252.8 614.6,252.9 615.3,253 616.1,253 616.8,253.1 617.5,253.2 618.2,253.3 618.9,253.3 619.6,253.4 620.3,253.5 621,253.5 621.8,253.6 622.5,253.7 623.2,253.7 623.9,253.8 624.6,253.8 625.3,253.9 626,253.9 626.7,254 627.5,254 628.2,254.1 628.9,254.1 629.6,254.2 630.3,254.2 631,254.3 631.7,254.3 632.4,254.4 633.1,254.4 633.9,254.4 634.6,254.5 635.3,254.5 636,254.6 636.7,254.6 637.4,254.6 638.1,254.7 638.8,254.7 639.6,254.7 640.3,254.8 641,254.8 641.7,254.8 642.4,254.9 643.1,254.9 643.8,254.9 644.5,254.9 645.3,255 646,255 646.7,255 647.4,255 648.1,255.1" fill="none" stroke="#ff55dd" stroke-width="1.1" stroke-linejoin="round" />
<line x1="594.7" y1="263" x2="594.7" y2="192.8" stroke="#b22" stroke-width="1.1" stroke-dasharray="2.2,1.6"/>
<line x1="541.3" y1="191.3" x2="541.3" y2="263.5" stroke="#333" stroke-width="1" />
<line x1="540.8" y1="263" x2="648.6" y2="263" stroke="#333" stroke-width="1" />
<line x1="538.8" y1="263" x2="541.3" y2="263" stroke="#333" stroke-width="1" />
<text x="537.8" y="265.8" font-size="8" text-anchor="end" font-weight="normal" fill="#1a1a1a" >0.0</text>
<line x1="538.8" y1="227.4" x2="541.3" y2="227.4" stroke="#333" stroke-width="1" />
<text x="537.8" y="230.2" font-size="8" text-anchor="end" font-weight="normal" fill="#1a1a1a" >0.5</text>
<line x1="538.8" y1="191.8" x2="541.3" y2="191.8" stroke="#333" stroke-width="1" />
<text x="537.8" y="194.6" font-size="8" text-anchor="end" font-weight="normal" fill="#1a1a1a" >1.0</text>
<line x1="541.3" y1="263" x2="541.3" y2="265.5" stroke="#333" stroke-width="1" />
<text x="541.3" y="272.8" font-size="7.2" text-anchor="middle" font-weight="normal" fill="#1a1a1a" >0</text>
<line x1="576.9" y1="263" x2="576.9" y2="265.5" stroke="#333" stroke-width="1" />
<text x="576.9" y="272.8" font-size="7.2" text-anchor="middle" font-weight="normal" fill="#1a1a1a" >200</text>
<line x1="612.5" y1="263" x2="612.5" y2="265.5" stroke="#333" stroke-width="1" />
<text x="612.5" y="272.8" font-size="7.2" text-anchor="middle" font-weight="normal" fill="#1a1a1a" >400</text>
<line x1="648.1" y1="263" x2="648.1" y2="265.5" stroke="#333" stroke-width="1" />
<text x="648.1" y="272.8" font-size="7.2" text-anchor="middle" font-weight="normal" fill="#1a1a1a" >600</text>
<line x1="559.1" y1="263" x2="559.1" y2="264.5" stroke="#333" stroke-width="1" />
<line x1="594.7" y1="263" x2="594.7" y2="264.5" stroke="#333" stroke-width="1" />
<line x1="630.3" y1="263" x2="630.3" y2="264.5" stroke="#333" stroke-width="1" />
<text x="599" y="159.3" font-size="9.9" text-anchor="middle" font-weight="normal" fill="#1a1a1a" >SARS-CoV RBD</text>
<text x="604.2" y="176.8" font-size="9.9" text-anchor="middle" font-weight="normal" fill="#1a1a1a" >KD= 1.49 nM</text>
<text transform="translate(6.8,222.8) rotate(-90)" font-size="9.85" text-anchor="middle" fill="#1a1a1a">GW01 binding (nm)</text>
<text x="329" y="286.3" font-size="9.9" text-anchor="middle" font-weight="normal" fill="#1a1a1a" >Time (s)</text>
<line x1="24.5" y1="322" x2="24.5" y2="411.8" stroke="#333" stroke-width="1" />
<line x1="24" y1="411.3" x2="138.5" y2="411.3" stroke="#333" stroke-width="1" />
<line x1="22" y1="411.3" x2="24.5" y2="411.3" stroke="#333" stroke-width="1" />
<text x="21" y="414" font-size="7.8" text-anchor="end" font-weight="normal" fill="#1a1a1a" >0</text>
<line x1="22" y1="393.6" x2="24.5" y2="393.6" stroke="#333" stroke-width="1" />
<text x="21" y="396.3" font-size="7.8" text-anchor="end" font-weight="normal" fill="#1a1a1a" >20</text>
<line x1="22" y1="376" x2="24.5" y2="376" stroke="#333" stroke-width="1" />
<text x="21" y="378.7" font-size="7.8" text-anchor="end" font-weight="normal" fill="#1a1a1a" >40</text>
<line x1="22" y1="358.3" x2="24.5" y2="358.3" stroke="#333" stroke-width="1" />
<text x="21" y="361" font-size="7.8" text-anchor="end" font-weight="normal" fill="#1a1a1a" >60</text>
<line x1="22" y1="340.7" x2="24.5" y2="340.7" stroke="#333" stroke-width="1" />
<text x="21" y="343.4" font-size="7.8" text-anchor="end" font-weight="normal" fill="#1a1a1a" >80</text>
<line x1="22" y1="323" x2="24.5" y2="323" stroke="#333" stroke-width="1" />
<text x="21" y="325.7" font-size="7.8" text-anchor="end" font-weight="normal" fill="#1a1a1a" >100</text>
<line x1="24.5" y1="411.3" x2="24.5" y2="413.8" stroke="#333" stroke-width="1" />
<text x="24.5" y="422.1" font-size="7.5" text-anchor="middle" font-weight="normal" fill="#1a1a1a" >100</text>
<line x1="45.4" y1="411.3" x2="45.4" y2="413.8" stroke="#333" stroke-width="1" />
<text x="45.4" y="422.1" font-size="7.5" text-anchor="middle" font-weight="normal" fill="#1a1a1a" >10</text>
<line x1="66.3" y1="411.3" x2="66.3" y2="413.8" stroke="#333" stroke-width="1" />
<text x="66.3" y="422.1" font-size="7.5" text-anchor="middle" font-weight="normal" fill="#1a1a1a" >1</text>
<line x1="87.2" y1="411.3" x2="87.2" y2="413.8" stroke="#333" stroke-width="1" />
<text x="87.2" y="422.1" font-size="7.5" text-anchor="middle" font-weight="normal" fill="#1a1a1a" >0.1</text>
<line x1="108.1" y1="411.3" x2="108.1" y2="413.8" stroke="#333" stroke-width="1" />
<text x="108.1" y="422.1" font-size="7.5" text-anchor="middle" font-weight="normal" fill="#1a1a1a" >0.01</text>
<line x1="129" y1="411.3" x2="129" y2="413.8" stroke="#333" stroke-width="1" />
<text x="129" y="422.1" font-size="7.5" text-anchor="middle" font-weight="normal" fill="#1a1a1a" >0.001</text>
<text x="71.5" y="313.5" font-size="9.9" text-anchor="middle" font-weight="normal" fill="#1a1a1a" >SARS-CoV-2</text>
<polyline points="30.8,323.5 32.3,323.5 33.7,323.5 35.2,323.5 36.6,323.6 38.1,323.6 39.6,323.6 41,323.6 42.5,323.7 43.9,323.7 45.4,323.8 46.9,323.8 48.3,323.9 49.8,324 51.2,324.1 52.7,324.3 54.2,324.5 55.6,324.7 57.1,324.9 58.5,325.2 60,325.5 61.5,326 62.9,326.4 64.4,327 65.9,327.7 67.3,328.6 68.8,329.5 70.2,330.7 71.7,332 73.2,333.5 74.6,335.3 76.1,337.3 77.5,339.6 79,342.2 80.5,345.1 81.9,348.2 83.4,351.7 84.8,355.3 86.3,359.2 87.8,363.1 89.2,367.2 90.7,371.2 92.1,375.2 93.6,379.1 95.1,382.8 96.5,386.2 98,389.4 99.5,392.3 100.9,394.9 102.4,397.2 103.8,399.3 105.3,401.1 106.8,402.6 108.2,404 109.7,405.1 111.1,406.1 112.6,406.9 114.1,407.6 115.5,408.2 117,408.7 118.4,409.2 119.9,409.5 121.4,409.8 122.8,410.1 124.3,410.3 125.7,410.4 127.2,410.6 128.7,410.7 130.1,410.8 131.6,410.9 133.1,411" fill="none" stroke="#a0702a" stroke-width="1.15" stroke-linejoin="round" />
<path d="M30.8,322.8L32.7,325L30.8,327.3L28.9,325Z" fill="#a0702a"/>
<path d="M45.4,321.3L47.3,323.5L45.4,325.8L43.5,323.5Z" fill="#a0702a"/>
<path d="M60,320.5L61.9,322.7L60,325L58.1,322.7Z" fill="#a0702a"/>
<path d="M74.6,328.8L76.5,331.1L74.6,333.4L72.7,331.1Z" fill="#a0702a"/>
<path d="M89.2,362.6L91.1,364.9L89.2,367.1L87.3,364.9Z" fill="#a0702a"/>
<path d="M103.8,393.4L105.7,395.6L103.8,397.9L101.9,395.6Z" fill="#a0702a"/>
<path d="M118.4,406L120.3,408.3L118.4,410.6L116.5,408.3Z" fill="#a0702a"/>
<line x1="133.1" y1="407.2" x2="133.1" y2="415.4" stroke="#a0702a" stroke-width="0.9" />
<line x1="131.8" y1="407.2" x2="134.4" y2="407.2" stroke="#a0702a" stroke-width="0.9" />
<line x1="131.8" y1="415.4" x2="134.4" y2="415.4" stroke="#a0702a" stroke-width="0.9" />
<path d="M133.1,409L135,411.3L133.1,413.6L131.2,411.3Z" fill="#a0702a"/>
<polyline points="30.8,329.2 32.3,329.3 33.7,329.3 35.2,329.3 36.6,329.3 38.1,329.3 39.6,329.4 41,329.4 42.5,329.4 43.9,329.5 45.4,329.6 46.9,329.6 48.3,329.7 49.8,329.8 51.2,330 52.7,330.1 54.2,330.3 55.6,330.5 57.1,330.7 58.5,331 60,331.4 61.5,331.8 62.9,332.3 64.4,332.8 65.9,333.5 67.3,334.3 68.8,335.2 70.2,336.3 71.7,337.5 73.2,338.9 74.6,340.5 76.1,342.4 77.5,344.5 79,346.8 80.5,349.3 81.9,352.1 83.4,355.1 84.8,358.3 86.3,361.7 87.8,365.2 89.2,368.7 90.7,372.2 92.1,375.7 93.6,379.2 95.1,382.4 96.5,385.5 98,388.4 99.5,391 100.9,393.4 102.4,395.6 103.8,397.5 105.3,399.2 106.8,400.7 108.2,402 109.7,403.1 111.1,404.1 112.6,404.9 114.1,405.6 115.5,406.2 117,406.8 118.4,407.2 119.9,407.6 121.4,407.9 122.8,408.1 124.3,408.4 125.7,408.6 127.2,408.7 128.7,408.8 130.1,409 131.6,409 133.1,409.1" fill="none" stroke="#2020e8" stroke-width="1.15" stroke-linejoin="round" />
<line x1="30.8" y1="328.9" x2="30.8" y2="338.6" stroke="#2020e8" stroke-width="0.9" />
<line x1="29.5" y1="328.9" x2="32.1" y2="328.9" stroke="#2020e8" stroke-width="0.9" />
<line x1="29.5" y1="338.6" x2="32.1" y2="338.6" stroke="#2020e8" stroke-width="0.9" />
<circle cx="30.8" cy="333.7" r="1.9" fill="#2020e8"/>
<circle cx="45.4" cy="331.1" r="1.9" fill="#2020e8"/>
<line x1="60" y1="323.5" x2="60" y2="339.3" stroke="#2020e8" stroke-width="0.9" />
<line x1="58.7" y1="323.5" x2="61.3" y2="323.5" stroke="#2020e8" stroke-width="0.9" />
<line x1="58.7" y1="339.3" x2="61.3" y2="339.3" stroke="#2020e8" stroke-width="0.9" />
<circle cx="60" cy="331.4" r="1.9" fill="#2020e8"/>
<circle cx="74.6" cy="344.4" r="1.9" fill="#2020e8"/>
<circle cx="89.2" cy="369.6" r="1.9" fill="#2020e8"/>
<circle cx="103.8" cy="401.5" r="1.9" fill="#2020e8"/>
<line x1="118.4" y1="399.1" x2="118.4" y2="411.5" stroke="#2020e8" stroke-width="0.9" />
<line x1="117.1" y1="399.1" x2="119.7" y2="399.1" stroke="#2020e8" stroke-width="0.9" />
<line x1="117.1" y1="411.5" x2="119.7" y2="411.5" stroke="#2020e8" stroke-width="0.9" />
<circle cx="118.4" cy="405.3" r="1.9" fill="#2020e8"/>
<circle cx="133.1" cy="405.6" r="1.9" fill="#2020e8"/>
<polyline points="30.8,330.5 32.3,330.5 33.7,330.5 35.2,330.5 36.6,330.5 38.1,330.5 39.6,330.5 41,330.5 42.5,330.6 43.9,330.6 45.4,330.6 46.9,330.6 48.3,330.6 49.8,330.6 51.2,330.6 52.7,330.7 54.2,330.7 55.6,330.7 57.1,330.8 58.5,330.8 60,330.9 61.5,330.9 62.9,331 64.4,331.1 65.9,331.2 67.3,331.3 68.8,331.5 70.2,331.7 71.7,331.9 73.2,332.1 74.6,332.4 76.1,332.7 77.5,333.1 79,333.6 80.5,334.2 81.9,334.8 83.4,335.5 84.8,336.4 86.3,337.4 87.8,338.5 89.2,339.8 90.7,341.3 92.1,343 93.6,344.9 95.1,347 96.5,349.3 98,351.8 99.5,354.6 100.9,357.6 102.4,360.7 103.8,363.9 105.3,367.3 106.8,370.7 108.2,374.1 109.7,377.5 111.1,380.7 112.6,383.9 114.1,386.8 115.5,389.6 117,392.2 118.4,394.6 119.9,396.7 121.4,398.6 122.8,400.3 124.3,401.8 125.7,403.1 127.2,404.3 128.7,405.3 130.1,406.2 131.6,406.9 133.1,407.6" fill="none" stroke="#19b37a" stroke-width="1.15" stroke-linejoin="round" />
<rect x="28.9" y="328.5" width="3.8" height="3.8" fill="#19b37a"/>
<line x1="45.4" y1="327.9" x2="45.4" y2="339.3" stroke="#19b37a" stroke-width="0.9" />
<line x1="44.1" y1="327.9" x2="46.7" y2="327.9" stroke="#19b37a" stroke-width="0.9" />
<line x1="44.1" y1="339.3" x2="46.7" y2="339.3" stroke="#19b37a" stroke-width="0.9" />
<rect x="43.5" y="331.7" width="3.8" height="3.8" fill="#19b37a"/>
<rect x="58.1" y="327.3" width="3.8" height="3.8" fill="#19b37a"/>
<line x1="74.6" y1="327.9" x2="74.6" y2="337.5" stroke="#19b37a" stroke-width="0.9" />
<line x1="73.3" y1="327.9" x2="75.9" y2="327.9" stroke="#19b37a" stroke-width="0.9" />
<line x1="73.3" y1="337.5" x2="75.9" y2="337.5" stroke="#19b37a" stroke-width="0.9" />
<rect x="72.7" y="330.8" width="3.8" height="3.8" fill="#19b37a"/>
<rect x="87.3" y="340.1" width="3.8" height="3.8" fill="#19b37a"/>
<rect x="101.9" y="362" width="3.8" height="3.8" fill="#19b37a"/>
<rect x="116.5" y="391.6" width="3.8" height="3.8" fill="#19b37a"/>
<rect x="131.2" y="405.1" width="3.8" height="3.8" fill="#19b37a"/>
<polyline points="30.8,329.3 32.3,329.4 33.7,329.4 35.2,329.4 36.6,329.4 38.1,329.5 39.6,329.5 41,329.6 42.5,329.6 43.9,329.7 45.4,329.8 46.9,329.8 48.3,329.9 49.8,330 51.2,330.1 52.7,330.3 54.2,330.4 55.6,330.6 57.1,330.8 58.5,331 60,331.2 61.5,331.5 62.9,331.8 64.4,332.1 65.9,332.5 67.3,333 68.8,333.5 70.2,334 71.7,334.6 73.2,335.3 74.6,336.1 76.1,337 77.5,337.9 79,339 80.5,340.1 81.9,341.4 83.4,342.8 84.8,344.3 86.3,346 87.8,347.7 89.2,349.6 90.7,351.7 92.1,353.8 93.6,356.1 95.1,358.4 96.5,360.8 98,363.3 99.5,365.9 100.9,368.5 102.4,371.1 103.8,373.6 105.3,376.2 106.8,378.6 108.2,381.1 109.7,383.4 111.1,385.6 112.6,387.7 114.1,389.7 115.5,391.5 117,393.3 118.4,394.9 119.9,396.4 121.4,397.7 122.8,399 124.3,400.1 125.7,401.1 127.2,402 128.7,402.9 130.1,403.6 131.6,404.3 133.1,404.9" fill="none" stroke="#b33ee6" stroke-width="1.15" stroke-linejoin="round" />
<path d="M28.7,326.6H32.9L30.8,323Z" fill="#b33ee6"/>
<path d="M43.3,329H47.5L45.4,325.4Z" fill="#b33ee6"/>
<path d="M57.9,333.5H62.1L60,329.9Z" fill="#b33ee6"/>
<line x1="74.6" y1="333.4" x2="74.6" y2="342.6" stroke="#b33ee6" stroke-width="0.9" />
<line x1="73.3" y1="333.4" x2="75.9" y2="333.4" stroke="#b33ee6" stroke-width="0.9" />
<line x1="73.3" y1="342.6" x2="75.9" y2="342.6" stroke="#b33ee6" stroke-width="0.9" />
<path d="M72.5,339.5H76.7L74.6,335.9Z" fill="#b33ee6"/>
<path d="M87.1,352.9H91.3L89.2,349.3Z" fill="#b33ee6"/>
<path d="M101.7,374.4H105.9L103.8,370.8Z" fill="#b33ee6"/>
<path d="M116.4,394.4H120.5L118.4,390.8Z" fill="#b33ee6"/>
<path d="M131,406.9H135.1L133.1,403.2Z" fill="#b33ee6"/>
<polyline points="30.8,325.4 32.3,325.5 33.7,325.5 35.2,325.5 36.6,325.6 38.1,325.6 39.6,325.7 41,325.8 42.5,325.8 43.9,325.9 45.4,326 46.9,326.1 48.3,326.2 49.8,326.3 51.2,326.5 52.7,326.6 54.2,326.8 55.6,327 57.1,327.3 58.5,327.5 60,327.8 61.5,328.1 62.9,328.5 64.4,328.9 65.9,329.4 67.3,329.9 68.8,330.5 70.2,331.1 71.7,331.8 73.2,332.6 74.6,333.5 76.1,334.4 77.5,335.5 79,336.6 80.5,337.9 81.9,339.3 83.4,340.7 84.8,342.4 86.3,344.1 87.8,345.9 89.2,347.9 90.7,350 92.1,352.1 93.6,354.4 95.1,356.8 96.5,359.2 98,361.7 99.5,364.2 100.9,366.8 102.4,369.3 103.8,371.9 105.3,374.4 106.8,376.8 108.2,379.2 109.7,381.5 111.1,383.7 112.6,385.7 114.1,387.7 115.5,389.6 117,391.3 118.4,392.9 119.9,394.4 121.4,395.8 122.8,397.1 124.3,398.3 125.7,399.3 127.2,400.3 128.7,401.2 130.1,402 131.6,402.7 133.1,403.3" fill="none" stroke="#ee1c24" stroke-width="1.15" stroke-linejoin="round" />
<path d="M28.7,322.7H32.9L30.8,326.3Z" fill="#ee1c24"/>
<path d="M43.3,326.6H47.5L45.4,330.2Z" fill="#ee1c24"/>
<path d="M57.9,325.9H62.1L60,329.5Z" fill="#ee1c24"/>
<line x1="74.6" y1="327.2" x2="74.6" y2="337.8" stroke="#ee1c24" stroke-width="0.9" />
<line x1="73.3" y1="327.2" x2="75.9" y2="327.2" stroke="#ee1c24" stroke-width="0.9" />
<line x1="73.3" y1="337.8" x2="75.9" y2="337.8" stroke="#ee1c24" stroke-width="0.9" />
<path d="M72.5,331H76.7L74.6,334.6Z" fill="#ee1c24"/>
<path d="M87.1,348.3H91.3L89.2,351.9Z" fill="#ee1c24"/>
<path d="M101.7,373.8H105.9L103.8,377.4Z" fill="#ee1c24"/>
<path d="M116.4,394.4H120.5L118.4,398Z" fill="#ee1c24"/>
<path d="M131,403.4H135.1L133.1,407Z" fill="#ee1c24"/>
<polyline points="30.8,323.9 32.3,323.9 33.7,323.9 35.2,323.9 36.6,324 38.1,324 39.6,324 41,324 42.5,324 43.9,324 45.4,324.1 46.9,324.1 48.3,324.1 49.8,324.2 51.2,324.2 52.7,324.3 54.2,324.4 55.6,324.5 57.1,324.6 58.5,324.7 60,324.8 61.5,325 62.9,325.2 64.4,325.4 65.9,325.7 67.3,326 68.8,326.3 70.2,326.7 71.7,327.2 73.2,327.8 74.6,328.4 76.1,329.2 77.5,330 79,331 80.5,332.1 81.9,333.3 83.4,334.8 84.8,336.4 86.3,338.1 87.8,340.1 89.2,342.2 90.7,344.6 92.1,347.1 93.6,349.8 95.1,352.6 96.5,355.6 98,358.6 99.5,361.7 100.9,364.8 102.4,367.8 103.8,370.8 105.3,373.7 106.8,376.4 108.2,379 109.7,381.4 111.1,383.7 112.6,385.7 114.1,387.6 115.5,389.2 117,390.7 118.4,392 119.9,393.2 121.4,394.2 122.8,395.1 124.3,395.9 125.7,396.6 127.2,397.2 128.7,397.7 130.1,398.1 131.6,398.5 133.1,398.8" fill="none" stroke="#111" stroke-width="1.15" stroke-linejoin="round" />
<circle cx="30.8" cy="327.2" r="1.8" fill="#fff" stroke="#111" stroke-width="1"/>
<circle cx="45.4" cy="322.1" r="1.8" fill="#fff" stroke="#111" stroke-width="1"/>
<circle cx="60" cy="328.9" r="1.8" fill="#fff" stroke="#111" stroke-width="1"/>
<circle cx="74.6" cy="326.5" r="1.8" fill="#fff" stroke="#111" stroke-width="1"/>
<line x1="89.2" y1="334.9" x2="89.2" y2="343.3" stroke="#111" stroke-width="0.9" />
<line x1="87.9" y1="334.9" x2="90.5" y2="334.9" stroke="#111" stroke-width="0.9" />
<line x1="87.9" y1="343.3" x2="90.5" y2="343.3" stroke="#111" stroke-width="0.9" />
<circle cx="89.2" cy="339.1" r="1.8" fill="#fff" stroke="#111" stroke-width="1"/>
<line x1="103.8" y1="366.6" x2="103.8" y2="375.4" stroke="#111" stroke-width="0.9" />
<line x1="102.5" y1="366.6" x2="105.1" y2="366.6" stroke="#111" stroke-width="0.9" />
<line x1="102.5" y1="375.4" x2="105.1" y2="375.4" stroke="#111" stroke-width="0.9" />
<circle cx="103.8" cy="371" r="1.8" fill="#fff" stroke="#111" stroke-width="1"/>
<line x1="118.4" y1="384" x2="118.4" y2="394.2" stroke="#111" stroke-width="0.9" />
<line x1="117.1" y1="384" x2="119.7" y2="384" stroke="#111" stroke-width="0.9" />
<line x1="117.1" y1="394.2" x2="119.7" y2="394.2" stroke="#111" stroke-width="0.9" />
<circle cx="118.4" cy="389.1" r="1.8" fill="#fff" stroke="#111" stroke-width="1"/>
<line x1="133.1" y1="394.1" x2="133.1" y2="408.3" stroke="#111" stroke-width="0.9" />
<line x1="131.8" y1="394.1" x2="134.4" y2="394.1" stroke="#111" stroke-width="0.9" />
<line x1="131.8" y1="408.3" x2="134.4" y2="408.3" stroke="#111" stroke-width="0.9" />
<circle cx="133.1" cy="401.2" r="1.8" fill="#fff" stroke="#111" stroke-width="1"/>
<line x1="156.9" y1="322" x2="156.9" y2="411.8" stroke="#333" stroke-width="1" />
<line x1="156.4" y1="411.3" x2="270.9" y2="411.3" stroke="#333" stroke-width="1" />
<line x1="154.4" y1="411.3" x2="156.9" y2="411.3" stroke="#333" stroke-width="1" />
<text x="153.4" y="414" font-size="7.8" text-anchor="end" font-weight="normal" fill="#1a1a1a" >0</text>
<line x1="154.4" y1="393.6" x2="156.9" y2="393.6" stroke="#333" stroke-width="1" />
<text x="153.4" y="396.3" font-size="7.8" text-anchor="end" font-weight="normal" fill="#1a1a1a" >20</text>
<line x1="154.4" y1="376" x2="156.9" y2="376" stroke="#333" stroke-width="1" />
<text x="153.4" y="378.7" font-size="7.8" text-anchor="end" font-weight="normal" fill="#1a1a1a" >40</text>
<line x1="154.4" y1="358.3" x2="156.9" y2="358.3" stroke="#333" stroke-width="1" />
<text x="153.4" y="361" font-size="7.8" text-anchor="end" font-weight="normal" fill="#1a1a1a" >60</text>
<line x1="154.4" y1="340.7" x2="156.9" y2="340.7" stroke="#333" stroke-width="1" />
<text x="153.4" y="343.4" font-size="7.8" text-anchor="end" font-weight="normal" fill="#1a1a1a" >80</text>
<line x1="154.4" y1="323" x2="156.9" y2="323" stroke="#333" stroke-width="1" />
<text x="153.4" y="325.7" font-size="7.8" text-anchor="end" font-weight="normal" fill="#1a1a1a" >100</text>
<line x1="156.9" y1="411.3" x2="156.9" y2="413.8" stroke="#333" stroke-width="1" />
<text x="156.9" y="422.1" font-size="7.5" text-anchor="middle" font-weight="normal" fill="#1a1a1a" >100</text>
<line x1="177.8" y1="411.3" x2="177.8" y2="413.8" stroke="#333" stroke-width="1" />
<text x="177.8" y="422.1" font-size="7.5" text-anchor="middle" font-weight="normal" fill="#1a1a1a" >10</text>
<line x1="198.7" y1="411.3" x2="198.7" y2="413.8" stroke="#333" stroke-width="1" />
<text x="198.7" y="422.1" font-size="7.5" text-anchor="middle" font-weight="normal" fill="#1a1a1a" >1</text>
<line x1="219.6" y1="411.3" x2="219.6" y2="413.8" stroke="#333" stroke-width="1" />
<text x="219.6" y="422.1" font-size="7.5" text-anchor="middle" font-weight="normal" fill="#1a1a1a" >0.1</text>
<line x1="240.5" y1="411.3" x2="240.5" y2="413.8" stroke="#333" stroke-width="1" />
<text x="240.5" y="422.1" font-size="7.5" text-anchor="middle" font-weight="normal" fill="#1a1a1a" >0.01</text>
<line x1="261.4" y1="411.3" x2="261.4" y2="413.8" stroke="#333" stroke-width="1" />
<text x="261.4" y="422.1" font-size="7.5" text-anchor="middle" font-weight="normal" fill="#1a1a1a" >0.001</text>
<text x="212" y="313.5" font-size="9.9" text-anchor="middle" font-weight="normal" fill="#1a1a1a" >B.1.1.7</text>
<polyline points="163.2,337.5 164.7,338.3 166.1,339.3 167.6,340.3 169,341.4 170.5,342.7 172,344.1 173.4,345.7 174.9,347.4 176.3,349.3 177.8,351.3 179.3,353.4 180.7,355.7 182.2,358.1 183.6,360.6 185.1,363.2 186.6,365.8 188,368.5 189.5,371.2 190.9,373.8 192.4,376.5 193.9,379 195.3,381.4 196.8,383.7 198.3,385.9 199.7,388 201.2,389.9 202.6,391.6 204.1,393.2 205.6,394.7 207,396 208.5,397.2 209.9,398.3 211.4,399.2 212.9,400.1 214.3,400.8 215.8,401.5 217.2,402 218.7,402.5 220.2,403 221.6,403.4 223.1,403.7 224.5,404 226,404.3 227.5,404.5 228.9,404.7 230.4,404.9 231.9,405 233.3,405.2 234.8,405.3 236.2,405.4 237.7,405.5 239.2,405.5 240.6,405.6 242.1,405.6 243.5,405.7 245,405.7 246.5,405.8 247.9,405.8 249.4,405.8 250.8,405.9 252.3,405.9 253.8,405.9 255.2,405.9 256.7,405.9 258.1,405.9 259.6,405.9 261.1,405.9 262.5,406 264,406 265.5,406" fill="none" stroke="#2020e8" stroke-width="1.15" stroke-linejoin="round" />
<line x1="163.2" y1="331" x2="163.2" y2="342.4" stroke="#2020e8" stroke-width="0.9" />
<line x1="161.9" y1="331" x2="164.5" y2="331" stroke="#2020e8" stroke-width="0.9" />
<line x1="161.9" y1="342.4" x2="164.5" y2="342.4" stroke="#2020e8" stroke-width="0.9" />
<circle cx="163.2" cy="336.7" r="1.9" fill="#2020e8"/>
<line x1="177.8" y1="346.5" x2="177.8" y2="356.6" stroke="#2020e8" stroke-width="0.9" />
<line x1="176.5" y1="346.5" x2="179.1" y2="346.5" stroke="#2020e8" stroke-width="0.9" />
<line x1="176.5" y1="356.6" x2="179.1" y2="356.6" stroke="#2020e8" stroke-width="0.9" />
<circle cx="177.8" cy="351.5" r="1.9" fill="#2020e8"/>
<circle cx="192.4" cy="374.1" r="1.9" fill="#2020e8"/>
<circle cx="207" cy="394.8" r="1.9" fill="#2020e8"/>
<circle cx="221.6" cy="403.3" r="1.9" fill="#2020e8"/>
<circle cx="236.2" cy="404.5" r="1.9" fill="#2020e8"/>
<circle cx="250.8" cy="404.8" r="1.9" fill="#2020e8"/>
<circle cx="265.5" cy="401.8" r="1.9" fill="#2020e8"/>
<polyline points="163.2,324 164.7,324 166.1,324 167.6,324 169,324.1 170.5,324.1 172,324.2 173.4,324.2 174.9,324.3 176.3,324.3 177.8,324.4 179.3,324.5 180.7,324.7 182.2,324.8 183.6,325 185.1,325.2 186.6,325.4 188,325.7 189.5,326.1 190.9,326.5 192.4,327 193.9,327.6 195.3,328.3 196.8,329.1 198.3,330 199.7,331.1 201.2,332.3 202.6,333.8 204.1,335.5 205.6,337.4 207,339.5 208.5,341.9 209.9,344.6 211.4,347.5 212.9,350.7 214.3,354.1 215.8,357.7 217.2,361.4 218.7,365.2 220.2,369.1 221.6,372.9 223.1,376.7 224.5,380.3 226,383.8 227.5,387 228.9,390 230.4,392.7 231.9,395.2 233.3,397.4 234.8,399.3 236.2,401 237.7,402.5 239.2,403.8 240.6,405 242.1,405.9 243.5,406.7 245,407.5 246.5,408.1 247.9,408.6 249.4,409 250.8,409.4 252.3,409.7 253.8,409.9 255.2,410.1 256.7,410.3 258.1,410.5 259.6,410.6 261.1,410.7 262.5,410.8 264,410.9 265.5,411" fill="none" stroke="#a0702a" stroke-width="1.15" stroke-linejoin="round" />
<line x1="163.2" y1="316.8" x2="163.2" y2="327.4" stroke="#a0702a" stroke-width="0.9" />
<line x1="161.9" y1="316.8" x2="164.5" y2="316.8" stroke="#a0702a" stroke-width="0.9" />
<line x1="161.9" y1="327.4" x2="164.5" y2="327.4" stroke="#a0702a" stroke-width="0.9" />
<path d="M163.2,319.8L165.1,322.1L163.2,324.4L161.3,322.1Z" fill="#a0702a"/>
<line x1="177.8" y1="319.7" x2="177.8" y2="333.1" stroke="#a0702a" stroke-width="0.9" />
<line x1="176.5" y1="319.7" x2="179.1" y2="319.7" stroke="#a0702a" stroke-width="0.9" />
<line x1="176.5" y1="333.1" x2="179.1" y2="333.1" stroke="#a0702a" stroke-width="0.9" />
<path d="M177.8,324.1L179.7,326.4L177.8,328.7L175.9,326.4Z" fill="#a0702a"/>
<path d="M192.4,322L194.3,324.2L192.4,326.5L190.5,324.2Z" fill="#a0702a"/>
<path d="M207,337L208.9,339.3L207,341.6L205.1,339.3Z" fill="#a0702a"/>
<line x1="221.6" y1="367.9" x2="221.6" y2="377.4" stroke="#a0702a" stroke-width="0.9" />
<line x1="220.3" y1="367.9" x2="222.9" y2="367.9" stroke="#a0702a" stroke-width="0.9" />
<line x1="220.3" y1="377.4" x2="222.9" y2="377.4" stroke="#a0702a" stroke-width="0.9" />
<path d="M221.6,370.4L223.5,372.6L221.6,374.9L219.7,372.6Z" fill="#a0702a"/>
<path d="M236.2,399L238.1,401.3L236.2,403.5L234.3,401.3Z" fill="#a0702a"/>
<line x1="250.8" y1="400.1" x2="250.8" y2="418.7" stroke="#a0702a" stroke-width="0.9" />
<line x1="249.5" y1="400.1" x2="252.1" y2="400.1" stroke="#a0702a" stroke-width="0.9" />
<line x1="249.5" y1="418.7" x2="252.1" y2="418.7" stroke="#a0702a" stroke-width="0.9" />
<path d="M250.8,407.1L252.7,409.4L250.8,411.7L248.9,409.4Z" fill="#a0702a"/>
<path d="M265.5,406.9L267.4,409.2L265.5,411.4L263.6,409.2Z" fill="#a0702a"/>
<polyline points="163.2,330.6 164.7,330.6 166.1,330.6 167.6,330.6 169,330.6 170.5,330.6 172,330.6 173.4,330.7 174.9,330.7 176.3,330.7 177.8,330.8 179.3,330.8 180.7,330.9 182.2,330.9 183.6,331 185.1,331.1 186.6,331.2 188,331.3 189.5,331.5 190.9,331.6 192.4,331.8 193.9,332 195.3,332.3 196.8,332.6 198.3,333 199.7,333.4 201.2,333.9 202.6,334.4 204.1,335.1 205.6,335.8 207,336.7 208.5,337.7 209.9,338.8 211.4,340.1 212.9,341.5 214.3,343.1 215.8,344.9 217.2,346.9 218.7,349.2 220.2,351.6 221.6,354.2 223.1,356.9 224.5,359.9 226,362.9 227.5,366.1 228.9,369.3 230.4,372.6 231.9,375.8 233.3,379 234.8,382 236.2,385 237.7,387.8 239.2,390.3 240.6,392.7 242.1,394.9 243.5,396.9 245,398.7 246.5,400.4 247.9,401.8 249.4,403.1 250.8,404.2 252.3,405.2 253.8,406 255.2,406.8 256.7,407.4 258.1,408 259.6,408.4 261.1,408.8 262.5,409.2 264,409.5 265.5,409.8" fill="none" stroke="#b33ee6" stroke-width="1.15" stroke-linejoin="round" />
<path d="M161.1,335.9H165.3L163.2,332.3Z" fill="#b33ee6"/>
<path d="M175.7,332.2H179.9L177.8,328.6Z" fill="#b33ee6"/>
<line x1="192.4" y1="326.3" x2="192.4" y2="337.3" stroke="#b33ee6" stroke-width="0.9" />
<line x1="191.1" y1="326.3" x2="193.7" y2="326.3" stroke="#b33ee6" stroke-width="0.9" />
<line x1="191.1" y1="337.3" x2="193.7" y2="337.3" stroke="#b33ee6" stroke-width="0.9" />
<path d="M190.3,333.3H194.5L192.4,329.7Z" fill="#b33ee6"/>
<line x1="207" y1="332.7" x2="207" y2="340.6" stroke="#b33ee6" stroke-width="0.9" />
<line x1="205.7" y1="332.7" x2="208.3" y2="332.7" stroke="#b33ee6" stroke-width="0.9" />
<line x1="205.7" y1="340.6" x2="208.3" y2="340.6" stroke="#b33ee6" stroke-width="0.9" />
<path d="M204.9,338.2H209.1L207,334.5Z" fill="#b33ee6"/>
<path d="M219.5,357.2H223.7L221.6,353.6Z" fill="#b33ee6"/>
<path d="M234.1,387.9H238.3L236.2,384.2Z" fill="#b33ee6"/>
<path d="M248.8,403.4H252.9L250.8,399.8Z" fill="#b33ee6"/>
<path d="M263.4,409H267.5L265.5,405.4Z" fill="#b33ee6"/>
<polyline points="163.2,325.2 164.7,325.2 166.1,325.2 167.6,325.2 169,325.2 170.5,325.2 172,325.3 173.4,325.3 174.9,325.3 176.3,325.3 177.8,325.3 179.3,325.3 180.7,325.3 182.2,325.4 183.6,325.4 185.1,325.4 186.6,325.5 188,325.5 189.5,325.6 190.9,325.6 192.4,325.7 193.9,325.8 195.3,325.9 196.8,326.1 198.3,326.2 199.7,326.4 201.2,326.6 202.6,326.9 204.1,327.2 205.6,327.5 207,327.9 208.5,328.4 209.9,328.9 211.4,329.6 212.9,330.3 214.3,331.2 215.8,332.2 217.2,333.4 218.7,334.7 220.2,336.2 221.6,337.9 223.1,339.8 224.5,342 226,344.3 227.5,346.8 228.9,349.6 230.4,352.5 231.9,355.6 233.3,358.8 234.8,362.1 236.2,365.5 237.7,368.8 239.2,372.1 240.6,375.2 242.1,378.3 243.5,381.1 245,383.8 246.5,386.2 247.9,388.5 249.4,390.5 250.8,392.3 252.3,393.9 253.8,395.4 255.2,396.6 256.7,397.7 258.1,398.6 259.6,399.5 261.1,400.2 262.5,400.8 264,401.3 265.5,401.7" fill="none" stroke="#ee1c24" stroke-width="1.15" stroke-linejoin="round" />
<path d="M161.1,323.7H165.3L163.2,327.3Z" fill="#ee1c24"/>
<line x1="177.8" y1="320.4" x2="177.8" y2="332.9" stroke="#ee1c24" stroke-width="0.9" />
<line x1="176.5" y1="320.4" x2="179.1" y2="320.4" stroke="#ee1c24" stroke-width="0.9" />
<line x1="176.5" y1="332.9" x2="179.1" y2="332.9" stroke="#ee1c24" stroke-width="0.9" />
<path d="M175.7,325.1H179.9L177.8,328.7Z" fill="#ee1c24"/>
<line x1="192.4" y1="322.7" x2="192.4" y2="331.2" stroke="#ee1c24" stroke-width="0.9" />
<line x1="191.1" y1="322.7" x2="193.7" y2="322.7" stroke="#ee1c24" stroke-width="0.9" />
<line x1="191.1" y1="331.2" x2="193.7" y2="331.2" stroke="#ee1c24" stroke-width="0.9" />
<path d="M190.3,325.4H194.5L192.4,329Z" fill="#ee1c24"/>
<path d="M204.9,329.5H209.1L207,333.2Z" fill="#ee1c24"/>
<path d="M219.5,335.4H223.7L221.6,339Z" fill="#ee1c24"/>
<path d="M234.1,360.9H238.3L236.2,364.5Z" fill="#ee1c24"/>
<path d="M248.8,388.5H252.9L250.8,392.1Z" fill="#ee1c24"/>
<path d="M263.4,403.5H267.5L265.5,407.1Z" fill="#ee1c24"/>
<polyline points="163.2,324.8 164.7,324.8 166.1,324.8 167.6,324.8 169,324.8 170.5,324.8 172,324.8 173.4,324.8 174.9,324.8 176.3,324.8 177.8,324.8 179.3,324.8 180.7,324.8 182.2,324.9 183.6,324.9 185.1,324.9 186.6,324.9 188,324.9 189.5,325 190.9,325 192.4,325.1 193.9,325.1 195.3,325.2 196.8,325.3 198.3,325.4 199.7,325.5 201.2,325.6 202.6,325.8 204.1,326 205.6,326.2 207,326.5 208.5,326.8 209.9,327.2 211.4,327.6 212.9,328.2 214.3,328.8 215.8,329.5 217.2,330.4 218.7,331.4 220.2,332.6 221.6,333.9 223.1,335.5 224.5,337.2 226,339.3 227.5,341.5 228.9,344 230.4,346.8 231.9,349.8 233.3,353.1 234.8,356.6 236.2,360.2 237.7,364 239.2,367.8 240.6,371.6 242.1,375.4 243.5,379 245,382.5 246.5,385.8 247.9,388.9 249.4,391.7 250.8,394.3 252.3,396.5 253.8,398.6 255.2,400.4 256.7,402 258.1,403.3 259.6,404.5 261.1,405.6 262.5,406.4 264,407.2 265.5,407.8" fill="none" stroke="#111" stroke-width="1.15" stroke-linejoin="round" />
<circle cx="163.2" cy="324.1" r="1.8" fill="#fff" stroke="#111" stroke-width="1"/>
<line x1="177.8" y1="318.9" x2="177.8" y2="328.9" stroke="#111" stroke-width="0.9" />
<line x1="176.5" y1="318.9" x2="179.1" y2="318.9" stroke="#111" stroke-width="0.9" />
<line x1="176.5" y1="328.9" x2="179.1" y2="328.9" stroke="#111" stroke-width="0.9" />
<circle cx="177.8" cy="323.9" r="1.8" fill="#fff" stroke="#111" stroke-width="1"/>
<circle cx="192.4" cy="325.7" r="1.8" fill="#fff" stroke="#111" stroke-width="1"/>
<line x1="207" y1="319.3" x2="207" y2="337.6" stroke="#111" stroke-width="0.9" />
<line x1="205.7" y1="319.3" x2="208.3" y2="319.3" stroke="#111" stroke-width="0.9" />
<line x1="205.7" y1="337.6" x2="208.3" y2="337.6" stroke="#111" stroke-width="0.9" />
<circle cx="207" cy="328.4" r="1.8" fill="#fff" stroke="#111" stroke-width="1"/>
<line x1="221.6" y1="328.9" x2="221.6" y2="340.8" stroke="#111" stroke-width="0.9" />
<line x1="220.3" y1="328.9" x2="222.9" y2="328.9" stroke="#111" stroke-width="0.9" />
<line x1="220.3" y1="340.8" x2="222.9" y2="340.8" stroke="#111" stroke-width="0.9" />
<circle cx="221.6" cy="334.9" r="1.8" fill="#fff" stroke="#111" stroke-width="1"/>
<line x1="236.2" y1="359.9" x2="236.2" y2="368" stroke="#111" stroke-width="0.9" />
<line x1="234.9" y1="359.9" x2="237.5" y2="359.9" stroke="#111" stroke-width="0.9" />
<line x1="234.9" y1="368" x2="237.5" y2="368" stroke="#111" stroke-width="0.9" />
<circle cx="236.2" cy="363.9" r="1.8" fill="#fff" stroke="#111" stroke-width="1"/>
<circle cx="250.8" cy="395.8" r="1.8" fill="#fff" stroke="#111" stroke-width="1"/>
<circle cx="265.5" cy="407.7" r="1.8" fill="#fff" stroke="#111" stroke-width="1"/>
<polyline points="163.2,323 164.7,323 166.1,323 167.6,323 169,323 170.5,323 172,323 173.4,323 174.9,323 176.3,323 177.8,323 179.3,323 180.7,323 182.2,323 183.6,323 185.1,323.1 186.6,323.1 188,323.1 189.5,323.1 190.9,323.1 192.4,323.1 193.9,323.2 195.3,323.2 196.8,323.3 198.3,323.3 199.7,323.4 201.2,323.5 202.6,323.6 204.1,323.7 205.6,323.9 207,324.1 208.5,324.3 209.9,324.6 211.4,324.9 212.9,325.3 214.3,325.8 215.8,326.4 217.2,327.2 218.7,328.1 220.2,329.1 221.6,330.4 223.1,331.8 224.5,333.6 226,335.6 227.5,337.9 228.9,340.6 230.4,343.6 231.9,346.9 233.3,350.6 234.8,354.5 236.2,358.7 237.7,363.1 239.2,367.5 240.6,371.9 242.1,376.3 243.5,380.4 245,384.3 246.5,387.9 247.9,391.2 249.4,394.2 250.8,396.8 252.3,399.1 253.8,401 255.2,402.7 256.7,404.2 258.1,405.4 259.6,406.4 261.1,407.2 262.5,408 264,408.5 265.5,409" fill="none" stroke="#19b37a" stroke-width="1.15" stroke-linejoin="round" />
<rect x="161.3" y="323.3" width="3.8" height="3.8" fill="#19b37a"/>
<rect x="175.9" y="320.2" width="3.8" height="3.8" fill="#19b37a"/>
<line x1="192.4" y1="318.6" x2="192.4" y2="331" stroke="#19b37a" stroke-width="0.9" />
<line x1="191.1" y1="318.6" x2="193.7" y2="318.6" stroke="#19b37a" stroke-width="0.9" />
<line x1="191.1" y1="331" x2="193.7" y2="331" stroke="#19b37a" stroke-width="0.9" />
<rect x="190.5" y="322.9" width="3.8" height="3.8" fill="#19b37a"/>
<line x1="207" y1="312.5" x2="207" y2="331.7" stroke="#19b37a" stroke-width="0.9" />
<line x1="205.7" y1="312.5" x2="208.3" y2="312.5" stroke="#19b37a" stroke-width="0.9" />
<line x1="205.7" y1="331.7" x2="208.3" y2="331.7" stroke="#19b37a" stroke-width="0.9" />
<rect x="205.1" y="320.2" width="3.8" height="3.8" fill="#19b37a"/>
<rect x="219.7" y="331.4" width="3.8" height="3.8" fill="#19b37a"/>
<rect x="234.3" y="360.9" width="3.8" height="3.8" fill="#19b37a"/>
<line x1="250.8" y1="391" x2="250.8" y2="400.1" stroke="#19b37a" stroke-width="0.9" />
<line x1="249.5" y1="391" x2="252.1" y2="391" stroke="#19b37a" stroke-width="0.9" />
<line x1="249.5" y1="400.1" x2="252.1" y2="400.1" stroke="#19b37a" stroke-width="0.9" />
<rect x="248.9" y="393.7" width="3.8" height="3.8" fill="#19b37a"/>
<rect x="263.6" y="409.4" width="3.8" height="3.8" fill="#19b37a"/>
<line x1="285.4" y1="322" x2="285.4" y2="411.8" stroke="#333" stroke-width="1" />
<line x1="284.9" y1="411.3" x2="399.4" y2="411.3" stroke="#333" stroke-width="1" />
<line x1="282.9" y1="411.3" x2="285.4" y2="411.3" stroke="#333" stroke-width="1" />
<text x="281.9" y="414" font-size="7.8" text-anchor="end" font-weight="normal" fill="#1a1a1a" >0</text>
<line x1="282.9" y1="393.6" x2="285.4" y2="393.6" stroke="#333" stroke-width="1" />
<text x="281.9" y="396.3" font-size="7.8" text-anchor="end" font-weight="normal" fill="#1a1a1a" >20</text>
<line x1="282.9" y1="376" x2="285.4" y2="376" stroke="#333" stroke-width="1" />
<text x="281.9" y="378.7" font-size="7.8" text-anchor="end" font-weight="normal" fill="#1a1a1a" >40</text>
<line x1="282.9" y1="358.3" x2="285.4" y2="358.3" stroke="#333" stroke-width="1" />
<text x="281.9" y="361" font-size="7.8" text-anchor="end" font-weight="normal" fill="#1a1a1a" >60</text>
<line x1="282.9" y1="340.7" x2="285.4" y2="340.7" stroke="#333" stroke-width="1" />
<text x="281.9" y="343.4" font-size="7.8" text-anchor="end" font-weight="normal" fill="#1a1a1a" >80</text>
<line x1="282.9" y1="323" x2="285.4" y2="323" stroke="#333" stroke-width="1" />
<text x="281.9" y="325.7" font-size="7.8" text-anchor="end" font-weight="normal" fill="#1a1a1a" >100</text>
<line x1="285.4" y1="411.3" x2="285.4" y2="413.8" stroke="#333" stroke-width="1" />
<text x="285.4" y="422.1" font-size="7.5" text-anchor="middle" font-weight="normal" fill="#1a1a1a" >100</text>
<line x1="306.3" y1="411.3" x2="306.3" y2="413.8" stroke="#333" stroke-width="1" />
<text x="306.3" y="422.1" font-size="7.5" text-anchor="middle" font-weight="normal" fill="#1a1a1a" >10</text>
<line x1="327.2" y1="411.3" x2="327.2" y2="413.8" stroke="#333" stroke-width="1" />
<text x="327.2" y="422.1" font-size="7.5" text-anchor="middle" font-weight="normal" fill="#1a1a1a" >1</text>
<line x1="348.1" y1="411.3" x2="348.1" y2="413.8" stroke="#333" stroke-width="1" />
<text x="348.1" y="422.1" font-size="7.5" text-anchor="middle" font-weight="normal" fill="#1a1a1a" >0.1</text>
<line x1="369" y1="411.3" x2="369" y2="413.8" stroke="#333" stroke-width="1" />
<text x="369" y="422.1" font-size="7.5" text-anchor="middle" font-weight="normal" fill="#1a1a1a" >0.01</text>
<line x1="389.9" y1="411.3" x2="389.9" y2="413.8" stroke="#333" stroke-width="1" />
<text x="389.9" y="422.1" font-size="7.5" text-anchor="middle" font-weight="normal" fill="#1a1a1a" >0.001</text>
<text x="338" y="313.5" font-size="9.9" text-anchor="middle" font-weight="normal" fill="#1a1a1a" >B.1.351</text>
<polyline points="291.7,354.3 293.2,358.5 294.6,362.7 296.1,367 297.5,371.1 299,375 300.5,378.5 301.9,381.6 303.4,384.3 304.8,386.7 306.3,388.6 307.8,390.2 309.2,391.6 310.7,392.6 312.1,393.5 313.6,394.2 315.1,394.7 316.5,395.1 318,395.5 319.4,395.8 320.9,396 322.4,396.1 323.8,396.3 325.3,396.4 326.8,396.4 328.2,396.5 329.7,396.6 331.1,396.6 332.6,396.6 334.1,396.6 335.5,396.7 337,396.7 338.4,396.7 339.9,396.7 341.4,396.7 342.8,396.7 344.3,396.7 345.7,396.7 347.2,396.7 348.7,396.7 350.1,396.7 351.6,396.7 353,396.7 354.5,396.7 356,396.7 357.4,396.7 358.9,396.7 360.4,396.7 361.8,396.7 363.3,396.7 364.7,396.7 366.2,396.7 367.7,396.7 369.1,396.7 370.6,396.7 372,396.7 373.5,396.7 375,396.7 376.4,396.7 377.9,396.7 379.3,396.7 380.8,396.7 382.3,396.7 383.7,396.7 385.2,396.7 386.6,396.7 388.1,396.7 389.6,396.7 391,396.7 392.5,396.7 394,396.7" fill="none" stroke="#a0702a" stroke-width="1.15" stroke-linejoin="round" />
<path d="M291.7,350.6L293.6,352.9L291.7,355.2L289.8,352.9Z" fill="#a0702a"/>
<line x1="306.3" y1="379.2" x2="306.3" y2="399.2" stroke="#a0702a" stroke-width="0.9" />
<line x1="305" y1="379.2" x2="307.6" y2="379.2" stroke="#a0702a" stroke-width="0.9" />
<line x1="305" y1="399.2" x2="307.6" y2="399.2" stroke="#a0702a" stroke-width="0.9" />
<path d="M306.3,386.9L308.2,389.2L306.3,391.5L304.4,389.2Z" fill="#a0702a"/>
<path d="M320.9,395.2L322.8,397.5L320.9,399.8L319,397.5Z" fill="#a0702a"/>
<line x1="335.5" y1="390" x2="335.5" y2="402.6" stroke="#a0702a" stroke-width="0.9" />
<line x1="334.2" y1="390" x2="336.8" y2="390" stroke="#a0702a" stroke-width="0.9" />
<line x1="334.2" y1="402.6" x2="336.8" y2="402.6" stroke="#a0702a" stroke-width="0.9" />
<path d="M335.5,394.1L337.4,396.3L335.5,398.6L333.6,396.3Z" fill="#a0702a"/>
<line x1="350.1" y1="390.3" x2="350.1" y2="408.2" stroke="#a0702a" stroke-width="0.9" />
<line x1="348.8" y1="390.3" x2="351.4" y2="390.3" stroke="#a0702a" stroke-width="0.9" />
<line x1="348.8" y1="408.2" x2="351.4" y2="408.2" stroke="#a0702a" stroke-width="0.9" />
<path d="M350.1,397L352,399.2L350.1,401.5L348.2,399.2Z" fill="#a0702a"/>
<path d="M364.7,393.5L366.6,395.7L364.7,398L362.8,395.7Z" fill="#a0702a"/>
<path d="M379.3,393.8L381.2,396.1L379.3,398.4L377.4,396.1Z" fill="#a0702a"/>
<line x1="394" y1="389.7" x2="394" y2="401.1" stroke="#a0702a" stroke-width="0.9" />
<line x1="392.7" y1="389.7" x2="395.3" y2="389.7" stroke="#a0702a" stroke-width="0.9" />
<line x1="392.7" y1="401.1" x2="395.3" y2="401.1" stroke="#a0702a" stroke-width="0.9" />
<path d="M394,393.1L395.9,395.4L394,397.7L392.1,395.4Z" fill="#a0702a"/>
<polyline points="291.7,341.7 293.2,343.1 294.6,344.8 296.1,346.5 297.5,348.4 299,350.5 300.5,352.6 301.9,354.9 303.4,357.3 304.8,359.8 306.3,362.3 307.8,364.9 309.2,367.4 310.7,370 312.1,372.5 313.6,374.9 315.1,377.3 316.5,379.5 318,381.6 319.4,383.6 320.9,385.5 322.4,387.2 323.8,388.7 325.3,390.1 326.8,391.4 328.2,392.6 329.7,393.6 331.1,394.5 332.6,395.3 334.1,396.1 335.5,396.7 337,397.3 338.4,397.8 339.9,398.2 341.4,398.6 342.8,398.9 344.3,399.2 345.7,399.5 347.2,399.7 348.7,399.9 350.1,400.1 351.6,400.2 353,400.3 354.5,400.4 356,400.5 357.4,400.6 358.9,400.7 360.4,400.7 361.8,400.8 363.3,400.8 364.7,400.9 366.2,400.9 367.7,401 369.1,401 370.6,401 372,401 373.5,401 375,401.1 376.4,401.1 377.9,401.1 379.3,401.1 380.8,401.1 382.3,401.1 383.7,401.1 385.2,401.1 386.6,401.1 388.1,401.1 389.6,401.1 391,401.1 392.5,401.1 394,401.1" fill="none" stroke="#111" stroke-width="1.15" stroke-linejoin="round" />
<line x1="291.7" y1="332.1" x2="291.7" y2="345.3" stroke="#111" stroke-width="0.9" />
<line x1="290.4" y1="332.1" x2="293" y2="332.1" stroke="#111" stroke-width="0.9" />
<line x1="290.4" y1="345.3" x2="293" y2="345.3" stroke="#111" stroke-width="0.9" />
<circle cx="291.7" cy="338.7" r="1.8" fill="#fff" stroke="#111" stroke-width="1"/>
<line x1="306.3" y1="354.5" x2="306.3" y2="370.4" stroke="#111" stroke-width="0.9" />
<line x1="305" y1="354.5" x2="307.6" y2="354.5" stroke="#111" stroke-width="0.9" />
<line x1="305" y1="370.4" x2="307.6" y2="370.4" stroke="#111" stroke-width="0.9" />
<circle cx="306.3" cy="362.4" r="1.8" fill="#fff" stroke="#111" stroke-width="1"/>
<circle cx="320.9" cy="386.4" r="1.8" fill="#fff" stroke="#111" stroke-width="1"/>
<circle cx="335.5" cy="396.8" r="1.8" fill="#fff" stroke="#111" stroke-width="1"/>
<line x1="350.1" y1="392.4" x2="350.1" y2="400.7" stroke="#111" stroke-width="0.9" />
<line x1="348.8" y1="392.4" x2="351.4" y2="392.4" stroke="#111" stroke-width="0.9" />
<line x1="348.8" y1="400.7" x2="351.4" y2="400.7" stroke="#111" stroke-width="0.9" />
<circle cx="350.1" cy="396.6" r="1.8" fill="#fff" stroke="#111" stroke-width="1"/>
<circle cx="364.7" cy="401.4" r="1.8" fill="#fff" stroke="#111" stroke-width="1"/>
<circle cx="379.3" cy="404" r="1.8" fill="#fff" stroke="#111" stroke-width="1"/>
<circle cx="394" cy="399.1" r="1.8" fill="#fff" stroke="#111" stroke-width="1"/>
<polyline points="291.7,335.3 293.2,335.5 294.6,335.9 296.1,336.2 297.5,336.6 299,337.1 300.5,337.6 301.9,338.3 303.4,339 304.8,339.8 306.3,340.7 307.8,341.7 309.2,342.8 310.7,344.1 312.1,345.5 313.6,347.1 315.1,348.8 316.5,350.6 318,352.6 319.4,354.7 320.9,356.9 322.4,359.2 323.8,361.5 325.3,363.9 326.8,366.4 328.2,368.8 329.7,371.2 331.1,373.5 332.6,375.7 334.1,377.8 335.5,379.8 337,381.7 338.4,383.4 339.9,385 341.4,386.4 342.8,387.7 344.3,388.9 345.7,389.9 347.2,390.8 348.7,391.7 350.1,392.4 351.6,393 353,393.6 354.5,394.1 356,394.5 357.4,394.9 358.9,395.2 360.4,395.4 361.8,395.7 363.3,395.9 364.7,396.1 366.2,396.2 367.7,396.4 369.1,396.5 370.6,396.6 372,396.7 373.5,396.7 375,396.8 376.4,396.8 377.9,396.9 379.3,396.9 380.8,397 382.3,397 383.7,397 385.2,397 386.6,397.1 388.1,397.1 389.6,397.1 391,397.1 392.5,397.1 394,397.1" fill="none" stroke="#2020e8" stroke-width="1.15" stroke-linejoin="round" />
<circle cx="291.7" cy="337.6" r="1.9" fill="#2020e8"/>
<line x1="306.3" y1="334.8" x2="306.3" y2="345" stroke="#2020e8" stroke-width="0.9" />
<line x1="305" y1="334.8" x2="307.6" y2="334.8" stroke="#2020e8" stroke-width="0.9" />
<line x1="305" y1="345" x2="307.6" y2="345" stroke="#2020e8" stroke-width="0.9" />
<circle cx="306.3" cy="339.9" r="1.9" fill="#2020e8"/>
<circle cx="320.9" cy="354.8" r="1.9" fill="#2020e8"/>
<circle cx="335.5" cy="380.9" r="1.9" fill="#2020e8"/>
<line x1="350.1" y1="387.1" x2="350.1" y2="398.7" stroke="#2020e8" stroke-width="0.9" />
<line x1="348.8" y1="387.1" x2="351.4" y2="387.1" stroke="#2020e8" stroke-width="0.9" />
<line x1="348.8" y1="398.7" x2="351.4" y2="398.7" stroke="#2020e8" stroke-width="0.9" />
<circle cx="350.1" cy="392.9" r="1.9" fill="#2020e8"/>
<line x1="364.7" y1="387.2" x2="364.7" y2="398" stroke="#2020e8" stroke-width="0.9" />
<line x1="363.4" y1="387.2" x2="366" y2="387.2" stroke="#2020e8" stroke-width="0.9" />
<line x1="363.4" y1="398" x2="366" y2="398" stroke="#2020e8" stroke-width="0.9" />
<circle cx="364.7" cy="392.6" r="1.9" fill="#2020e8"/>
<circle cx="379.3" cy="396.1" r="1.9" fill="#2020e8"/>
<circle cx="394" cy="395.1" r="1.9" fill="#2020e8"/>
<polyline points="291.7,324.5 293.2,324.5 294.6,324.5 296.1,324.6 297.5,324.6 299,324.7 300.5,324.7 301.9,324.8 303.4,324.8 304.8,324.9 306.3,325 307.8,325.1 309.2,325.3 310.7,325.4 312.1,325.6 313.6,325.8 315.1,326.1 316.5,326.3 318,326.6 319.4,327 320.9,327.4 322.4,327.9 323.8,328.5 325.3,329.1 326.8,329.9 328.2,330.7 329.7,331.6 331.1,332.7 332.6,333.9 334.1,335.2 335.5,336.7 337,338.3 338.4,340.1 339.9,342 341.4,344.1 342.8,346.3 344.3,348.6 345.7,351.1 347.2,353.6 348.7,356.2 350.1,358.8 351.6,361.4 353,364 354.5,366.5 356,368.9 357.4,371.2 358.9,373.4 360.4,375.5 361.8,377.4 363.3,379.1 364.7,380.7 366.2,382.2 367.7,383.5 369.1,384.6 370.6,385.7 372,386.6 373.5,387.4 375,388.1 376.4,388.7 377.9,389.3 379.3,389.7 380.8,390.1 382.3,390.5 383.7,390.8 385.2,391.1 386.6,391.3 388.1,391.5 389.6,391.7 391,391.8 392.5,392 394,392.1" fill="none" stroke="#ee1c24" stroke-width="1.15" stroke-linejoin="round" />
<line x1="291.7" y1="317.3" x2="291.7" y2="330.6" stroke="#ee1c24" stroke-width="0.9" />
<line x1="290.4" y1="317.3" x2="293" y2="317.3" stroke="#ee1c24" stroke-width="0.9" />
<line x1="290.4" y1="330.6" x2="293" y2="330.6" stroke="#ee1c24" stroke-width="0.9" />
<path d="M289.6,322.4H293.8L291.7,326Z" fill="#ee1c24"/>
<line x1="306.3" y1="320.2" x2="306.3" y2="331.7" stroke="#ee1c24" stroke-width="0.9" />
<line x1="305" y1="320.2" x2="307.6" y2="320.2" stroke="#ee1c24" stroke-width="0.9" />
<line x1="305" y1="331.7" x2="307.6" y2="331.7" stroke="#ee1c24" stroke-width="0.9" />
<path d="M304.2,324.4H308.4L306.3,328Z" fill="#ee1c24"/>
<line x1="320.9" y1="323.8" x2="320.9" y2="335.6" stroke="#ee1c24" stroke-width="0.9" />
<line x1="319.6" y1="323.8" x2="322.2" y2="323.8" stroke="#ee1c24" stroke-width="0.9" />
<line x1="319.6" y1="335.6" x2="322.2" y2="335.6" stroke="#ee1c24" stroke-width="0.9" />
<path d="M318.8,328.2H323L320.9,331.8Z" fill="#ee1c24"/>
<line x1="335.5" y1="330.4" x2="335.5" y2="343.7" stroke="#ee1c24" stroke-width="0.9" />
<line x1="334.2" y1="330.4" x2="336.8" y2="330.4" stroke="#ee1c24" stroke-width="0.9" />
<line x1="334.2" y1="343.7" x2="336.8" y2="343.7" stroke="#ee1c24" stroke-width="0.9" />
<path d="M333.4,335.5H337.6L335.5,339.1Z" fill="#ee1c24"/>
<path d="M348,354.1H352.2L350.1,357.7Z" fill="#ee1c24"/>
<path d="M362.6,380.3H366.8L364.7,383.9Z" fill="#ee1c24"/>
<path d="M377.3,390.3H381.4L379.3,393.9Z" fill="#ee1c24"/>
<line x1="394" y1="386.9" x2="394" y2="398.6" stroke="#ee1c24" stroke-width="0.9" />
<line x1="392.7" y1="386.9" x2="395.3" y2="386.9" stroke="#ee1c24" stroke-width="0.9" />
<line x1="392.7" y1="398.6" x2="395.3" y2="398.6" stroke="#ee1c24" stroke-width="0.9" />
<path d="M391.9,391.2H396L394,394.8Z" fill="#ee1c24"/>
<polyline points="291.7,324 293.2,324 294.6,324.1 296.1,324.1 297.5,324.1 299,324.1 300.5,324.2 301.9,324.2 303.4,324.3 304.8,324.3 306.3,324.4 307.8,324.5 309.2,324.6 310.7,324.7 312.1,324.8 313.6,325 315.1,325.2 316.5,325.3 318,325.6 319.4,325.8 320.9,326.1 322.4,326.5 323.8,326.8 325.3,327.3 326.8,327.8 328.2,328.4 329.7,329 331.1,329.8 332.6,330.6 334.1,331.6 335.5,332.6 337,333.8 338.4,335.2 339.9,336.7 341.4,338.3 342.8,340.1 344.3,342.1 345.7,344.2 347.2,346.5 348.7,349 350.1,351.6 351.6,354.3 353,357.2 354.5,360.1 356,363.1 357.4,366.1 358.9,369.1 360.4,372 361.8,374.9 363.3,377.7 364.7,380.4 366.2,382.9 367.7,385.3 369.1,387.6 370.6,389.6 372,391.5 373.5,393.3 375,394.8 376.4,396.2 377.9,397.5 379.3,398.7 380.8,399.7 382.3,400.6 383.7,401.4 385.2,402.1 386.6,402.7 388.1,403.2 389.6,403.7 391,404.1 392.5,404.5 394,404.8" fill="none" stroke="#b33ee6" stroke-width="1.15" stroke-linejoin="round" />
<path d="M289.6,326.8H293.8L291.7,323.2Z" fill="#b33ee6"/>
<line x1="306.3" y1="321.9" x2="306.3" y2="330.8" stroke="#b33ee6" stroke-width="0.9" />
<line x1="305" y1="321.9" x2="307.6" y2="321.9" stroke="#b33ee6" stroke-width="0.9" />
<line x1="305" y1="330.8" x2="307.6" y2="330.8" stroke="#b33ee6" stroke-width="0.9" />
<path d="M304.2,327.8H308.4L306.3,324.2Z" fill="#b33ee6"/>
<line x1="320.9" y1="316.6" x2="320.9" y2="331.7" stroke="#b33ee6" stroke-width="0.9" />
<line x1="319.6" y1="316.6" x2="322.2" y2="316.6" stroke="#b33ee6" stroke-width="0.9" />
<line x1="319.6" y1="331.7" x2="322.2" y2="331.7" stroke="#b33ee6" stroke-width="0.9" />
<path d="M318.8,325.6H323L320.9,322Z" fill="#b33ee6"/>
<path d="M333.4,334.8H337.6L335.5,331.2Z" fill="#b33ee6"/>
<path d="M348,352H352.2L350.1,348.4Z" fill="#b33ee6"/>
<line x1="364.7" y1="376.6" x2="364.7" y2="387.7" stroke="#b33ee6" stroke-width="0.9" />
<line x1="363.4" y1="376.6" x2="366" y2="376.6" stroke="#b33ee6" stroke-width="0.9" />
<line x1="363.4" y1="387.7" x2="366" y2="387.7" stroke="#b33ee6" stroke-width="0.9" />
<path d="M362.6,383.7H366.8L364.7,380Z" fill="#b33ee6"/>
<path d="M377.3,402.5H381.4L379.3,398.9Z" fill="#b33ee6"/>
<path d="M391.9,407.8H396L394,404.2Z" fill="#b33ee6"/>
<polyline points="291.7,324.2 293.2,324.2 294.6,324.3 296.1,324.3 297.5,324.4 299,324.4 300.5,324.5 301.9,324.6 303.4,324.7 304.8,324.8 306.3,324.9 307.8,325 309.2,325.1 310.7,325.3 312.1,325.5 313.6,325.7 315.1,325.9 316.5,326.2 318,326.5 319.4,326.8 320.9,327.2 322.4,327.6 323.8,328 325.3,328.6 326.8,329.1 328.2,329.8 329.7,330.5 331.1,331.2 332.6,332.1 334.1,333 335.5,334.1 337,335.2 338.4,336.4 339.9,337.8 341.4,339.2 342.8,340.8 344.3,342.4 345.7,344.2 347.2,346 348.7,347.9 350.1,350 351.6,352.1 353,354.2 354.5,356.4 356,358.6 357.4,360.8 358.9,363 360.4,365.2 361.8,367.3 363.3,369.4 364.7,371.4 366.2,373.4 367.7,375.2 369.1,376.9 370.6,378.6 372,380.1 373.5,381.6 375,382.9 376.4,384.1 377.9,385.3 379.3,386.3 380.8,387.2 382.3,388.1 383.7,388.9 385.2,389.6 386.6,390.2 388.1,390.8 389.6,391.3 391,391.7 392.5,392.1 394,392.5" fill="none" stroke="#19b37a" stroke-width="1.15" stroke-linejoin="round" />
<rect x="289.8" y="322.8" width="3.8" height="3.8" fill="#19b37a"/>
<rect x="304.4" y="320.2" width="3.8" height="3.8" fill="#19b37a"/>
<line x1="320.9" y1="322.1" x2="320.9" y2="332.1" stroke="#19b37a" stroke-width="0.9" />
<line x1="319.6" y1="322.1" x2="322.2" y2="322.1" stroke="#19b37a" stroke-width="0.9" />
<line x1="319.6" y1="332.1" x2="322.2" y2="332.1" stroke="#19b37a" stroke-width="0.9" />
<rect x="319" y="325.2" width="3.8" height="3.8" fill="#19b37a"/>
<rect x="333.6" y="332.3" width="3.8" height="3.8" fill="#19b37a"/>
<rect x="348.2" y="348.3" width="3.8" height="3.8" fill="#19b37a"/>
<rect x="362.8" y="369.1" width="3.8" height="3.8" fill="#19b37a"/>
<rect x="377.4" y="386.1" width="3.8" height="3.8" fill="#19b37a"/>
<rect x="392.1" y="390.4" width="3.8" height="3.8" fill="#19b37a"/>
<line x1="413.6" y1="322" x2="413.6" y2="411.8" stroke="#333" stroke-width="1" />
<line x1="413.1" y1="411.3" x2="527.6" y2="411.3" stroke="#333" stroke-width="1" />
<line x1="411.1" y1="411.3" x2="413.6" y2="411.3" stroke="#333" stroke-width="1" />
<text x="410.1" y="414" font-size="7.8" text-anchor="end" font-weight="normal" fill="#1a1a1a" >0</text>
<line x1="411.1" y1="393.6" x2="413.6" y2="393.6" stroke="#333" stroke-width="1" />
<text x="410.1" y="396.3" font-size="7.8" text-anchor="end" font-weight="normal" fill="#1a1a1a" >20</text>
<line x1="411.1" y1="376" x2="413.6" y2="376" stroke="#333" stroke-width="1" />
<text x="410.1" y="378.7" font-size="7.8" text-anchor="end" font-weight="normal" fill="#1a1a1a" >40</text>
<line x1="411.1" y1="358.3" x2="413.6" y2="358.3" stroke="#333" stroke-width="1" />
<text x="410.1" y="361" font-size="7.8" text-anchor="end" font-weight="normal" fill="#1a1a1a" >60</text>
<line x1="411.1" y1="340.7" x2="413.6" y2="340.7" stroke="#333" stroke-width="1" />
<text x="410.1" y="343.4" font-size="7.8" text-anchor="end" font-weight="normal" fill="#1a1a1a" >80</text>
<line x1="411.1" y1="323" x2="413.6" y2="323" stroke="#333" stroke-width="1" />
<text x="410.1" y="325.7" font-size="7.8" text-anchor="end" font-weight="normal" fill="#1a1a1a" >100</text>
<line x1="413.6" y1="411.3" x2="413.6" y2="413.8" stroke="#333" stroke-width="1" />
<text x="413.6" y="422.1" font-size="7.5" text-anchor="middle" font-weight="normal" fill="#1a1a1a" >100</text>
<line x1="434.5" y1="411.3" x2="434.5" y2="413.8" stroke="#333" stroke-width="1" />
<text x="434.5" y="422.1" font-size="7.5" text-anchor="middle" font-weight="normal" fill="#1a1a1a" >10</text>
<line x1="455.4" y1="411.3" x2="455.4" y2="413.8" stroke="#333" stroke-width="1" />
<text x="455.4" y="422.1" font-size="7.5" text-anchor="middle" font-weight="normal" fill="#1a1a1a" >1</text>
<line x1="476.3" y1="411.3" x2="476.3" y2="413.8" stroke="#333" stroke-width="1" />
<text x="476.3" y="422.1" font-size="7.5" text-anchor="middle" font-weight="normal" fill="#1a1a1a" >0.1</text>
<line x1="497.2" y1="411.3" x2="497.2" y2="413.8" stroke="#333" stroke-width="1" />
<text x="497.2" y="422.1" font-size="7.5" text-anchor="middle" font-weight="normal" fill="#1a1a1a" >0.01</text>
<line x1="518.1" y1="411.3" x2="518.1" y2="413.8" stroke="#333" stroke-width="1" />
<text x="518.1" y="422.1" font-size="7.5" text-anchor="middle" font-weight="normal" fill="#1a1a1a" >0.001</text>
<text x="472.7" y="313.5" font-size="9.9" text-anchor="middle" font-weight="normal" fill="#1a1a1a" >B.1.617.2</text>
<polyline points="419.9,336 421.4,337.4 422.8,339.1 424.3,341.1 425.7,343.3 427.2,345.9 428.7,348.8 430.1,352 431.6,355.5 433,359.3 434.5,363.2 436,367.2 437.4,371.3 438.9,375.2 440.3,379 441.8,382.6 443.3,385.9 444.7,388.9 446.2,391.6 447.6,393.9 449.1,396 450.6,397.7 452,399.2 453.5,400.5 455,401.5 456.4,402.4 457.9,403.1 459.3,403.7 460.8,404.2 462.3,404.6 463.7,405 465.2,405.2 466.6,405.5 468.1,405.7 469.6,405.8 471,405.9 472.5,406 473.9,406.1 475.4,406.2 476.9,406.2 478.3,406.3 479.8,406.3 481.2,406.3 482.7,406.3 484.2,406.4 485.6,406.4 487.1,406.4 488.6,406.4 490,406.4 491.5,406.4 492.9,406.4 494.4,406.4 495.9,406.4 497.3,406.4 498.8,406.4 500.2,406.4 501.7,406.4 503.2,406.4 504.6,406.4 506.1,406.4 507.5,406.4 509,406.4 510.5,406.4 511.9,406.4 513.4,406.4 514.8,406.4 516.3,406.4 517.8,406.4 519.2,406.4 520.7,406.4 522.2,406.4" fill="none" stroke="#2020e8" stroke-width="1.15" stroke-linejoin="round" />
<circle cx="419.9" cy="337.1" r="1.9" fill="#2020e8"/>
<circle cx="434.5" cy="366.9" r="1.9" fill="#2020e8"/>
<line x1="449.1" y1="392.4" x2="449.1" y2="404.7" stroke="#2020e8" stroke-width="0.9" />
<line x1="447.8" y1="392.4" x2="450.4" y2="392.4" stroke="#2020e8" stroke-width="0.9" />
<line x1="447.8" y1="404.7" x2="450.4" y2="404.7" stroke="#2020e8" stroke-width="0.9" />
<circle cx="449.1" cy="398.5" r="1.9" fill="#2020e8"/>
<circle cx="463.7" cy="403.6" r="1.9" fill="#2020e8"/>
<circle cx="478.3" cy="405.4" r="1.9" fill="#2020e8"/>
<line x1="492.9" y1="399.5" x2="492.9" y2="412.1" stroke="#2020e8" stroke-width="0.9" />
<line x1="491.6" y1="399.5" x2="494.2" y2="399.5" stroke="#2020e8" stroke-width="0.9" />
<line x1="491.6" y1="412.1" x2="494.2" y2="412.1" stroke="#2020e8" stroke-width="0.9" />
<circle cx="492.9" cy="405.8" r="1.9" fill="#2020e8"/>
<circle cx="507.5" cy="405.9" r="1.9" fill="#2020e8"/>
<circle cx="522.2" cy="409.6" r="1.9" fill="#2020e8"/>
<polyline points="419.9,337.2 421.4,337.2 422.8,337.2 424.3,337.2 425.7,337.2 427.2,337.2 428.7,337.3 430.1,337.3 431.6,337.3 433,337.3 434.5,337.4 436,337.4 437.4,337.5 438.9,337.6 440.3,337.7 441.8,337.8 443.3,337.9 444.7,338 446.2,338.2 447.6,338.4 449.1,338.6 450.6,338.9 452,339.3 453.5,339.7 455,340.1 456.4,340.7 457.9,341.3 459.3,342.1 460.8,342.9 462.3,344 463.7,345.1 465.2,346.5 466.6,348 468.1,349.7 469.6,351.7 471,353.8 472.5,356.2 473.9,358.8 475.4,361.5 476.9,364.4 478.3,367.4 479.8,370.5 481.2,373.6 482.7,376.7 484.2,379.8 485.6,382.7 487.1,385.5 488.6,388.1 490,390.5 491.5,392.7 492.9,394.7 494.4,396.5 495.9,398.1 497.3,399.5 498.8,400.7 500.2,401.7 501.7,402.6 503.2,403.4 504.6,404.1 506.1,404.7 507.5,405.1 509,405.6 510.5,405.9 511.9,406.2 513.4,406.4 514.8,406.7 516.3,406.8 517.8,407 519.2,407.1 520.7,407.2 522.2,407.3" fill="none" stroke="#a0702a" stroke-width="1.15" stroke-linejoin="round" />
<line x1="419.9" y1="329.7" x2="419.9" y2="341.7" stroke="#a0702a" stroke-width="0.9" />
<line x1="418.6" y1="329.7" x2="421.2" y2="329.7" stroke="#a0702a" stroke-width="0.9" />
<line x1="418.6" y1="341.7" x2="421.2" y2="341.7" stroke="#a0702a" stroke-width="0.9" />
<path d="M419.9,333.4L421.8,335.7L419.9,338L418,335.7Z" fill="#a0702a"/>
<path d="M434.5,336.1L436.4,338.4L434.5,340.7L432.6,338.4Z" fill="#a0702a"/>
<path d="M449.1,337.5L451,339.8L449.1,342.1L447.2,339.8Z" fill="#a0702a"/>
<path d="M463.7,345.7L465.6,348L463.7,350.2L461.8,348Z" fill="#a0702a"/>
<path d="M478.3,364.6L480.2,366.9L478.3,369.2L476.4,366.9Z" fill="#a0702a"/>
<path d="M492.9,392.3L494.8,394.6L492.9,396.9L491,394.6Z" fill="#a0702a"/>
<line x1="507.5" y1="395.7" x2="507.5" y2="411.5" stroke="#a0702a" stroke-width="0.9" />
<line x1="506.2" y1="395.7" x2="508.8" y2="395.7" stroke="#a0702a" stroke-width="0.9" />
<line x1="506.2" y1="411.5" x2="508.8" y2="411.5" stroke="#a0702a" stroke-width="0.9" />
<path d="M507.5,401.3L509.4,403.6L507.5,405.9L505.6,403.6Z" fill="#a0702a"/>
<path d="M522.2,403L524.1,405.2L522.2,407.5L520.3,405.2Z" fill="#a0702a"/>
<polyline points="419.9,332.8 421.4,332.8 422.8,332.8 424.3,332.8 425.7,332.9 427.2,332.9 428.7,332.9 430.1,333 431.6,333 433,333.1 434.5,333.1 436,333.2 437.4,333.3 438.9,333.4 440.3,333.5 441.8,333.6 443.3,333.8 444.7,334 446.2,334.2 447.6,334.5 449.1,334.8 450.6,335.1 452,335.5 453.5,336 455,336.5 456.4,337.2 457.9,337.9 459.3,338.7 460.8,339.7 462.3,340.7 463.7,342 465.2,343.4 466.6,344.9 468.1,346.6 469.6,348.6 471,350.7 472.5,353 473.9,355.4 475.4,358 476.9,360.8 478.3,363.7 479.8,366.7 481.2,369.7 482.7,372.7 484.2,375.7 485.6,378.6 487.1,381.4 488.6,384.1 490,386.6 491.5,389 492.9,391.1 494.4,393.1 495.9,394.9 497.3,396.6 498.8,398 500.2,399.3 501.7,400.4 503.2,401.4 504.6,402.3 506.1,403.1 507.5,403.7 509,404.3 510.5,404.8 511.9,405.2 513.4,405.6 514.8,405.9 516.3,406.2 517.8,406.4 519.2,406.6 520.7,406.8 522.2,406.9" fill="none" stroke="#111" stroke-width="1.15" stroke-linejoin="round" />
<circle cx="419.9" cy="335.6" r="1.8" fill="#fff" stroke="#111" stroke-width="1"/>
<line x1="434.5" y1="329.1" x2="434.5" y2="345.3" stroke="#111" stroke-width="0.9" />
<line x1="433.2" y1="329.1" x2="435.8" y2="329.1" stroke="#111" stroke-width="0.9" />
<line x1="433.2" y1="345.3" x2="435.8" y2="345.3" stroke="#111" stroke-width="0.9" />
<circle cx="434.5" cy="337.2" r="1.8" fill="#fff" stroke="#111" stroke-width="1"/>
<circle cx="449.1" cy="335.5" r="1.8" fill="#fff" stroke="#111" stroke-width="1"/>
<circle cx="463.7" cy="340.3" r="1.8" fill="#fff" stroke="#111" stroke-width="1"/>
<circle cx="478.3" cy="366.6" r="1.8" fill="#fff" stroke="#111" stroke-width="1"/>
<circle cx="492.9" cy="387.4" r="1.8" fill="#fff" stroke="#111" stroke-width="1"/>
<circle cx="507.5" cy="405.1" r="1.8" fill="#fff" stroke="#111" stroke-width="1"/>
<circle cx="522.2" cy="409.3" r="1.8" fill="#fff" stroke="#111" stroke-width="1"/>
<polyline points="419.9,328.3 421.4,328.3 422.8,328.4 424.3,328.4 425.7,328.4 427.2,328.4 428.7,328.4 430.1,328.4 431.6,328.4 433,328.5 434.5,328.5 436,328.6 437.4,328.6 438.9,328.7 440.3,328.7 441.8,328.8 443.3,328.9 444.7,329 446.2,329.2 447.6,329.3 449.1,329.5 450.6,329.8 452,330.1 453.5,330.4 455,330.8 456.4,331.3 457.9,331.8 459.3,332.5 460.8,333.2 462.3,334.1 463.7,335.1 465.2,336.3 466.6,337.7 468.1,339.3 469.6,341.1 471,343.1 472.5,345.4 473.9,347.9 475.4,350.7 476.9,353.7 478.3,356.9 479.8,360.3 481.2,363.9 482.7,367.5 484.2,371.2 485.6,374.8 487.1,378.4 488.6,381.9 490,385.1 491.5,388.2 492.9,391 494.4,393.6 495.9,396 497.3,398 498.8,399.9 500.2,401.5 501.7,403 503.2,404.2 504.6,405.3 506.1,406.2 507.5,407 509,407.6 510.5,408.2 511.9,408.7 513.4,409.1 514.8,409.5 516.3,409.8 517.8,410 519.2,410.2 520.7,410.4 522.2,410.5" fill="none" stroke="#b33ee6" stroke-width="1.15" stroke-linejoin="round" />
<line x1="419.9" y1="322.8" x2="419.9" y2="332" stroke="#b33ee6" stroke-width="0.9" />
<line x1="418.6" y1="322.8" x2="421.2" y2="322.8" stroke="#b33ee6" stroke-width="0.9" />
<line x1="418.6" y1="332" x2="421.2" y2="332" stroke="#b33ee6" stroke-width="0.9" />
<path d="M417.8,328.9H422L419.9,325.3Z" fill="#b33ee6"/>
<path d="M432.4,327.5H436.6L434.5,323.9Z" fill="#b33ee6"/>
<path d="M447,332.5H451.2L449.1,328.9Z" fill="#b33ee6"/>
<line x1="463.7" y1="336.2" x2="463.7" y2="344.3" stroke="#b33ee6" stroke-width="0.9" />
<line x1="462.4" y1="336.2" x2="465" y2="336.2" stroke="#b33ee6" stroke-width="0.9" />
<line x1="462.4" y1="344.3" x2="465" y2="344.3" stroke="#b33ee6" stroke-width="0.9" />
<path d="M461.6,341.8H465.8L463.7,338.1Z" fill="#b33ee6"/>
<path d="M476.2,357.5H480.4L478.3,353.9Z" fill="#b33ee6"/>
<line x1="492.9" y1="384.9" x2="492.9" y2="395.6" stroke="#b33ee6" stroke-width="0.9" />
<line x1="491.6" y1="384.9" x2="494.2" y2="384.9" stroke="#b33ee6" stroke-width="0.9" />
<line x1="491.6" y1="395.6" x2="494.2" y2="395.6" stroke="#b33ee6" stroke-width="0.9" />
<path d="M490.8,391.7H495L492.9,388.1Z" fill="#b33ee6"/>
<path d="M505.5,406.5H509.6L507.5,402.9Z" fill="#b33ee6"/>
<path d="M520.1,412H524.2L522.2,408.3Z" fill="#b33ee6"/>
<polyline points="419.9,323.1 421.4,323.1 422.8,323.1 424.3,323.1 425.7,323.1 427.2,323.2 428.7,323.2 430.1,323.2 431.6,323.3 433,323.3 434.5,323.4 436,323.4 437.4,323.5 438.9,323.6 440.3,323.7 441.8,323.9 443.3,324 444.7,324.2 446.2,324.4 447.6,324.6 449.1,324.9 450.6,325.3 452,325.7 453.5,326.1 455,326.7 456.4,327.3 457.9,328 459.3,328.9 460.8,329.8 462.3,330.9 463.7,332.2 465.2,333.7 466.6,335.3 468.1,337.2 469.6,339.2 471,341.5 472.5,344 473.9,346.7 475.4,349.6 476.9,352.7 478.3,356 479.8,359.3 481.2,362.8 482.7,366.3 484.2,369.7 485.6,373.1 487.1,376.4 488.6,379.5 490,382.5 491.5,385.3 492.9,387.8 494.4,390.1 495.9,392.3 497.3,394.2 498.8,395.8 500.2,397.3 501.7,398.7 503.2,399.8 504.6,400.8 506.1,401.7 507.5,402.4 509,403.1 510.5,403.6 511.9,404.1 513.4,404.5 514.8,404.9 516.3,405.2 517.8,405.4 519.2,405.7 520.7,405.8 522.2,406" fill="none" stroke="#ee1c24" stroke-width="1.15" stroke-linejoin="round" />
<path d="M417.8,326.5H422L419.9,330.1Z" fill="#ee1c24"/>
<line x1="434.5" y1="318.2" x2="434.5" y2="332.6" stroke="#ee1c24" stroke-width="0.9" />
<line x1="433.2" y1="318.2" x2="435.8" y2="318.2" stroke="#ee1c24" stroke-width="0.9" />
<line x1="433.2" y1="332.6" x2="435.8" y2="332.6" stroke="#ee1c24" stroke-width="0.9" />
<path d="M432.4,323.8H436.6L434.5,327.4Z" fill="#ee1c24"/>
<path d="M447,323.8H451.2L449.1,327.4Z" fill="#ee1c24"/>
<line x1="463.7" y1="326.1" x2="463.7" y2="334.5" stroke="#ee1c24" stroke-width="0.9" />
<line x1="462.4" y1="326.1" x2="465" y2="326.1" stroke="#ee1c24" stroke-width="0.9" />
<line x1="462.4" y1="334.5" x2="465" y2="334.5" stroke="#ee1c24" stroke-width="0.9" />
<path d="M461.6,328.8H465.8L463.7,332.4Z" fill="#ee1c24"/>
<path d="M476.2,351.3H480.4L478.3,354.9Z" fill="#ee1c24"/>
<path d="M490.8,386.4H495L492.9,390Z" fill="#ee1c24"/>
<line x1="507.5" y1="392" x2="507.5" y2="409.3" stroke="#ee1c24" stroke-width="0.9" />
<line x1="506.2" y1="392" x2="508.8" y2="392" stroke="#ee1c24" stroke-width="0.9" />
<line x1="506.2" y1="409.3" x2="508.8" y2="409.3" stroke="#ee1c24" stroke-width="0.9" />
<path d="M505.5,399.1H509.6L507.5,402.7Z" fill="#ee1c24"/>
<path d="M520.1,403H524.2L522.2,406.6Z" fill="#ee1c24"/>
<polyline points="419.9,332.8 421.4,332.8 422.8,332.8 424.3,332.9 425.7,332.9 427.2,332.9 428.7,333 430.1,333 431.6,333 433,333.1 434.5,333.2 436,333.2 437.4,333.3 438.9,333.4 440.3,333.5 441.8,333.7 443.3,333.8 444.7,334 446.2,334.2 447.6,334.4 449.1,334.7 450.6,335 452,335.4 453.5,335.8 455,336.2 456.4,336.8 457.9,337.4 459.3,338.1 460.8,338.9 462.3,339.8 463.7,340.8 465.2,342 466.6,343.3 468.1,344.7 469.6,346.3 471,348 472.5,349.8 473.9,351.9 475.4,354 476.9,356.3 478.3,358.7 479.8,361.1 481.2,363.7 482.7,366.2 484.2,368.8 485.6,371.3 487.1,373.8 488.6,376.2 490,378.6 491.5,380.8 492.9,382.8 494.4,384.7 495.9,386.5 497.3,388.1 498.8,389.6 500.2,390.9 501.7,392.1 503.2,393.2 504.6,394.2 506.1,395 507.5,395.7 509,396.4 510.5,397 511.9,397.5 513.4,397.9 514.8,398.3 516.3,398.6 517.8,398.9 519.2,399.1 520.7,399.4 522.2,399.5" fill="none" stroke="#19b37a" stroke-width="1.15" stroke-linejoin="round" />
<line x1="419.9" y1="328.1" x2="419.9" y2="337.3" stroke="#19b37a" stroke-width="0.9" />
<line x1="418.6" y1="328.1" x2="421.2" y2="328.1" stroke="#19b37a" stroke-width="0.9" />
<line x1="418.6" y1="337.3" x2="421.2" y2="337.3" stroke="#19b37a" stroke-width="0.9" />
<rect x="418" y="330.8" width="3.8" height="3.8" fill="#19b37a"/>
<rect x="432.6" y="330.8" width="3.8" height="3.8" fill="#19b37a"/>
<rect x="447.2" y="331.5" width="3.8" height="3.8" fill="#19b37a"/>
<rect x="461.8" y="337.6" width="3.8" height="3.8" fill="#19b37a"/>
<line x1="478.3" y1="354.8" x2="478.3" y2="364.2" stroke="#19b37a" stroke-width="0.9" />
<line x1="477" y1="354.8" x2="479.6" y2="354.8" stroke="#19b37a" stroke-width="0.9" />
<line x1="477" y1="364.2" x2="479.6" y2="364.2" stroke="#19b37a" stroke-width="0.9" />
<rect x="476.4" y="357.6" width="3.8" height="3.8" fill="#19b37a"/>
<rect x="491" y="383.7" width="3.8" height="3.8" fill="#19b37a"/>
<line x1="507.5" y1="392.4" x2="507.5" y2="400.8" stroke="#19b37a" stroke-width="0.9" />
<line x1="506.2" y1="392.4" x2="508.8" y2="392.4" stroke="#19b37a" stroke-width="0.9" />
<line x1="506.2" y1="400.8" x2="508.8" y2="400.8" stroke="#19b37a" stroke-width="0.9" />
<rect x="505.6" y="394.7" width="3.8" height="3.8" fill="#19b37a"/>
<line x1="522.2" y1="395.4" x2="522.2" y2="403.5" stroke="#19b37a" stroke-width="0.9" />
<line x1="520.9" y1="395.4" x2="523.5" y2="395.4" stroke="#19b37a" stroke-width="0.9" />
<line x1="520.9" y1="403.5" x2="523.5" y2="403.5" stroke="#19b37a" stroke-width="0.9" />
<rect x="520.3" y="397.5" width="3.8" height="3.8" fill="#19b37a"/>
<line x1="541.1" y1="322" x2="541.1" y2="411.8" stroke="#333" stroke-width="1" />
<line x1="540.6" y1="411.3" x2="655.1" y2="411.3" stroke="#333" stroke-width="1" />
<line x1="538.6" y1="411.3" x2="541.1" y2="411.3" stroke="#333" stroke-width="1" />
<text x="537.6" y="414" font-size="7.8" text-anchor="end" font-weight="normal" fill="#1a1a1a" >0</text>
<line x1="538.6" y1="393.6" x2="541.1" y2="393.6" stroke="#333" stroke-width="1" />
<text x="537.6" y="396.3" font-size="7.8" text-anchor="end" font-weight="normal" fill="#1a1a1a" >20</text>
<line x1="538.6" y1="376" x2="541.1" y2="376" stroke="#333" stroke-width="1" />
<text x="537.6" y="378.7" font-size="7.8" text-anchor="end" font-weight="normal" fill="#1a1a1a" >40</text>
<line x1="538.6" y1="358.3" x2="541.1" y2="358.3" stroke="#333" stroke-width="1" />
<text x="537.6" y="361" font-size="7.8" text-anchor="end" font-weight="normal" fill="#1a1a1a" >60</text>
<line x1="538.6" y1="340.7" x2="541.1" y2="340.7" stroke="#333" stroke-width="1" />
<text x="537.6" y="343.4" font-size="7.8" text-anchor="end" font-weight="normal" fill="#1a1a1a" >80</text>
<line x1="538.6" y1="323" x2="541.1" y2="323" stroke="#333" stroke-width="1" />
<text x="537.6" y="325.7" font-size="7.8" text-anchor="end" font-weight="normal" fill="#1a1a1a" >100</text>
<line x1="541.1" y1="411.3" x2="541.1" y2="413.8" stroke="#333" stroke-width="1" />
<text x="541.1" y="422.1" font-size="7.5" text-anchor="middle" font-weight="normal" fill="#1a1a1a" >100</text>
<line x1="562" y1="411.3" x2="562" y2="413.8" stroke="#333" stroke-width="1" />
<text x="562" y="422.1" font-size="7.5" text-anchor="middle" font-weight="normal" fill="#1a1a1a" >10</text>
<line x1="582.9" y1="411.3" x2="582.9" y2="413.8" stroke="#333" stroke-width="1" />
<text x="582.9" y="422.1" font-size="7.5" text-anchor="middle" font-weight="normal" fill="#1a1a1a" >1</text>
<line x1="603.8" y1="411.3" x2="603.8" y2="413.8" stroke="#333" stroke-width="1" />
<text x="603.8" y="422.1" font-size="7.5" text-anchor="middle" font-weight="normal" fill="#1a1a1a" >0.1</text>
<line x1="624.7" y1="411.3" x2="624.7" y2="413.8" stroke="#333" stroke-width="1" />
<text x="624.7" y="422.1" font-size="7.5" text-anchor="middle" font-weight="normal" fill="#1a1a1a" >0.01</text>
<line x1="645.6" y1="411.3" x2="645.6" y2="413.8" stroke="#333" stroke-width="1" />
<text x="645.6" y="422.1" font-size="7.5" text-anchor="middle" font-weight="normal" fill="#1a1a1a" >0.001</text>
<text x="599.3" y="313.5" font-size="9.9" text-anchor="middle" font-weight="normal" fill="#1a1a1a" >B.1.617.1</text>
<polyline points="547.4,332.8 548.9,332.8 550.3,332.8 551.8,332.8 553.2,332.8 554.7,332.8 556.2,332.8 557.6,332.9 559.1,332.9 560.5,332.9 562,332.9 563.5,333 564.9,333 566.4,333.1 567.8,333.2 569.3,333.2 570.8,333.3 572.2,333.4 573.7,333.6 575.1,333.7 576.6,333.9 578.1,334.1 579.5,334.3 581,334.6 582.5,334.9 583.9,335.3 585.4,335.7 586.8,336.2 588.3,336.8 589.8,337.5 591.2,338.2 592.7,339.1 594.1,340.1 595.6,341.3 597.1,342.6 598.5,344 600,345.7 601.4,347.5 602.9,349.5 604.4,351.7 605.8,354.1 607.3,356.7 608.7,359.4 610.2,362.3 611.7,365.3 613.1,368.3 614.6,371.4 616.1,374.5 617.5,377.5 619,380.5 620.4,383.3 621.9,386 623.4,388.6 624.8,390.9 626.3,393.1 627.7,395.1 629.2,396.9 630.7,398.5 632.1,399.9 633.6,401.2 635,402.3 636.5,403.3 638,404.2 639.4,404.9 640.9,405.6 642.3,406.1 643.8,406.6 645.3,407 646.7,407.4 648.2,407.7 649.7,408" fill="none" stroke="#2020e8" stroke-width="1.15" stroke-linejoin="round" />
<line x1="547.4" y1="323" x2="547.4" y2="338.5" stroke="#2020e8" stroke-width="0.9" />
<line x1="546.1" y1="323" x2="548.7" y2="323" stroke="#2020e8" stroke-width="0.9" />
<line x1="546.1" y1="338.5" x2="548.7" y2="338.5" stroke="#2020e8" stroke-width="0.9" />
<circle cx="547.4" cy="330.8" r="1.9" fill="#2020e8"/>
<circle cx="562" cy="333.3" r="1.9" fill="#2020e8"/>
<circle cx="576.6" cy="335.7" r="1.9" fill="#2020e8"/>
<circle cx="591.2" cy="339.5" r="1.9" fill="#2020e8"/>
<circle cx="605.8" cy="352.6" r="1.9" fill="#2020e8"/>
<circle cx="620.4" cy="383.1" r="1.9" fill="#2020e8"/>
<circle cx="635" cy="403.7" r="1.9" fill="#2020e8"/>
<circle cx="649.7" cy="407.6" r="1.9" fill="#2020e8"/>
<polyline points="547.4,327.5 548.9,327.5 550.3,327.5 551.8,327.5 553.2,327.5 554.7,327.5 556.2,327.5 557.6,327.5 559.1,327.6 560.5,327.6 562,327.6 563.5,327.7 564.9,327.7 566.4,327.8 567.8,327.8 569.3,327.9 570.8,328 572.2,328.1 573.7,328.2 575.1,328.4 576.6,328.5 578.1,328.7 579.5,329 581,329.3 582.5,329.6 583.9,330 585.4,330.4 586.8,331 588.3,331.6 589.8,332.3 591.2,333.1 592.7,334.1 594.1,335.2 595.6,336.5 597.1,338 598.5,339.6 600,341.5 601.4,343.6 602.9,345.9 604.4,348.4 605.8,351.2 607.3,354.2 608.7,357.4 610.2,360.7 611.7,364.1 613.1,367.7 614.6,371.2 616.1,374.7 617.5,378.2 619,381.5 620.4,384.6 621.9,387.6 623.4,390.4 624.8,392.9 626.3,395.2 627.7,397.3 629.2,399.2 630.7,400.8 632.1,402.3 633.6,403.5 635,404.7 636.5,405.6 638,406.5 639.4,407.2 640.9,407.8 642.3,408.3 643.8,408.8 645.3,409.1 646.7,409.5 648.2,409.8 649.7,410" fill="none" stroke="#19b37a" stroke-width="1.15" stroke-linejoin="round" />
<rect x="545.5" y="326.7" width="3.8" height="3.8" fill="#19b37a"/>
<rect x="560.1" y="324.7" width="3.8" height="3.8" fill="#19b37a"/>
<line x1="576.6" y1="323.3" x2="576.6" y2="331.3" stroke="#19b37a" stroke-width="0.9" />
<line x1="575.3" y1="323.3" x2="577.9" y2="323.3" stroke="#19b37a" stroke-width="0.9" />
<line x1="575.3" y1="331.3" x2="577.9" y2="331.3" stroke="#19b37a" stroke-width="0.9" />
<rect x="574.7" y="325.4" width="3.8" height="3.8" fill="#19b37a"/>
<rect x="589.3" y="330.8" width="3.8" height="3.8" fill="#19b37a"/>
<rect x="603.9" y="351.5" width="3.8" height="3.8" fill="#19b37a"/>
<rect x="618.5" y="382.9" width="3.8" height="3.8" fill="#19b37a"/>
<rect x="633.1" y="404.6" width="3.8" height="3.8" fill="#19b37a"/>
<rect x="647.8" y="402.4" width="3.8" height="3.8" fill="#19b37a"/>
<polyline points="547.4,324.8 548.9,324.8 550.3,324.8 551.8,324.8 553.2,324.8 554.7,324.8 556.2,324.8 557.6,324.9 559.1,324.9 560.5,324.9 562,324.9 563.5,324.9 564.9,325 566.4,325 567.8,325 569.3,325.1 570.8,325.2 572.2,325.2 573.7,325.3 575.1,325.4 576.6,325.5 578.1,325.7 579.5,325.8 581,326 582.5,326.3 583.9,326.6 585.4,326.9 586.8,327.3 588.3,327.7 589.8,328.2 591.2,328.9 592.7,329.6 594.1,330.4 595.6,331.4 597.1,332.5 598.5,333.8 600,335.2 601.4,336.9 602.9,338.8 604.4,340.9 605.8,343.3 607.3,345.8 608.7,348.7 610.2,351.7 611.7,354.9 613.1,358.3 614.6,361.8 616.1,365.4 617.5,369 619,372.6 620.4,376.1 621.9,379.5 623.4,382.7 624.8,385.7 626.3,388.5 627.7,391.1 629.2,393.5 630.7,395.6 632.1,397.4 633.6,399.1 635,400.6 636.5,401.9 638,403 639.4,403.9 640.9,404.8 642.3,405.5 643.8,406.1 645.3,406.6 646.7,407 648.2,407.4 649.7,407.8" fill="none" stroke="#b33ee6" stroke-width="1.15" stroke-linejoin="round" />
<path d="M545.3,326.1H549.5L547.4,322.5Z" fill="#b33ee6"/>
<path d="M559.9,327.7H564.1L562,324.1Z" fill="#b33ee6"/>
<path d="M574.5,328.5H578.7L576.6,324.9Z" fill="#b33ee6"/>
<path d="M589.1,329.9H593.3L591.2,326.2Z" fill="#b33ee6"/>
<path d="M603.7,345H607.9L605.8,341.4Z" fill="#b33ee6"/>
<line x1="620.4" y1="371.2" x2="620.4" y2="379.9" stroke="#b33ee6" stroke-width="0.9" />
<line x1="619.1" y1="371.2" x2="621.7" y2="371.2" stroke="#b33ee6" stroke-width="0.9" />
<line x1="619.1" y1="379.9" x2="621.7" y2="379.9" stroke="#b33ee6" stroke-width="0.9" />
<path d="M618.3,377H622.5L620.4,373.4Z" fill="#b33ee6"/>
<path d="M633,400.4H637.1L635,396.8Z" fill="#b33ee6"/>
<path d="M647.6,409.3H651.7L649.7,405.7Z" fill="#b33ee6"/>
<polyline points="547.4,323.9 548.9,323.9 550.3,323.9 551.8,323.9 553.2,323.9 554.7,323.9 556.2,324 557.6,324 559.1,324 560.5,324 562,324 563.5,324.1 564.9,324.1 566.4,324.1 567.8,324.2 569.3,324.2 570.8,324.3 572.2,324.4 573.7,324.5 575.1,324.6 576.6,324.7 578.1,324.8 579.5,325 581,325.2 582.5,325.4 583.9,325.7 585.4,326 586.8,326.4 588.3,326.8 589.8,327.4 591.2,328 592.7,328.7 594.1,329.5 595.6,330.4 597.1,331.5 598.5,332.7 600,334.1 601.4,335.8 602.9,337.6 604.4,339.6 605.8,341.8 607.3,344.3 608.7,347 610.2,349.9 611.7,353 613.1,356.3 614.6,359.7 616.1,363.1 617.5,366.6 619,370.1 620.4,373.6 621.9,376.9 623.4,380.1 624.8,383.1 626.3,385.9 627.7,388.5 629.2,390.9 630.7,393 632.1,394.9 633.6,396.7 635,398.2 636.5,399.5 638,400.7 639.4,401.7 640.9,402.6 642.3,403.3 643.8,404 645.3,404.5 646.7,405 648.2,405.4 649.7,405.8" fill="none" stroke="#ee1c24" stroke-width="1.15" stroke-linejoin="round" />
<line x1="547.4" y1="317.5" x2="547.4" y2="327.8" stroke="#ee1c24" stroke-width="0.9" />
<line x1="546.1" y1="317.5" x2="548.7" y2="317.5" stroke="#ee1c24" stroke-width="0.9" />
<line x1="546.1" y1="327.8" x2="548.7" y2="327.8" stroke="#ee1c24" stroke-width="0.9" />
<path d="M545.3,321.2H549.5L547.4,324.8Z" fill="#ee1c24"/>
<path d="M559.9,323.1H564.1L562,326.7Z" fill="#ee1c24"/>
<line x1="576.6" y1="317.5" x2="576.6" y2="336.6" stroke="#ee1c24" stroke-width="0.9" />
<line x1="575.3" y1="317.5" x2="577.9" y2="317.5" stroke="#ee1c24" stroke-width="0.9" />
<line x1="575.3" y1="336.6" x2="577.9" y2="336.6" stroke="#ee1c24" stroke-width="0.9" />
<path d="M574.5,325.6H578.7L576.6,329.2Z" fill="#ee1c24"/>
<path d="M589.1,326.6H593.3L591.2,330.2Z" fill="#ee1c24"/>
<path d="M603.7,339.4H607.9L605.8,343Z" fill="#ee1c24"/>
<path d="M618.3,371.8H622.5L620.4,375.4Z" fill="#ee1c24"/>
<path d="M633,393.6H637.1L635,397.2Z" fill="#ee1c24"/>
<path d="M647.6,403.1H651.7L649.7,406.7Z" fill="#ee1c24"/>
<polyline points="547.4,323.9 548.9,323.9 550.3,323.9 551.8,323.9 553.2,323.9 554.7,324 556.2,324 557.6,324 559.1,324 560.5,324 562,324.1 563.5,324.1 564.9,324.1 566.4,324.2 567.8,324.2 569.3,324.3 570.8,324.3 572.2,324.4 573.7,324.5 575.1,324.6 576.6,324.7 578.1,324.9 579.5,325 581,325.2 582.5,325.5 583.9,325.8 585.4,326.1 586.8,326.4 588.3,326.9 589.8,327.4 591.2,328 592.7,328.6 594.1,329.4 595.6,330.3 597.1,331.3 598.5,332.5 600,333.8 601.4,335.3 602.9,337 604.4,338.9 605.8,340.9 607.3,343.2 608.7,345.7 610.2,348.4 611.7,351.3 613.1,354.4 614.6,357.5 616.1,360.8 617.5,364.2 619,367.6 620.4,370.9 621.9,374.2 623.4,377.4 624.8,380.4 626.3,383.3 627.7,386 629.2,388.5 630.7,390.8 632.1,392.9 633.6,394.7 635,396.4 636.5,397.9 638,399.2 639.4,400.4 640.9,401.4 642.3,402.3 643.8,403 645.3,403.7 646.7,404.3 648.2,404.8 649.7,405.2" fill="none" stroke="#a0702a" stroke-width="1.15" stroke-linejoin="round" />
<path d="M547.4,319.8L549.3,322.1L547.4,324.4L545.5,322.1Z" fill="#a0702a"/>
<line x1="562" y1="314.1" x2="562" y2="330.8" stroke="#a0702a" stroke-width="0.9" />
<line x1="560.7" y1="314.1" x2="563.3" y2="314.1" stroke="#a0702a" stroke-width="0.9" />
<line x1="560.7" y1="330.8" x2="563.3" y2="330.8" stroke="#a0702a" stroke-width="0.9" />
<path d="M562,320.1L563.9,322.4L562,324.7L560.1,322.4Z" fill="#a0702a"/>
<path d="M576.6,321.9L578.5,324.2L576.6,326.5L574.7,324.2Z" fill="#a0702a"/>
<line x1="591.2" y1="323.9" x2="591.2" y2="334.1" stroke="#a0702a" stroke-width="0.9" />
<line x1="589.9" y1="323.9" x2="592.5" y2="323.9" stroke="#a0702a" stroke-width="0.9" />
<line x1="589.9" y1="334.1" x2="592.5" y2="334.1" stroke="#a0702a" stroke-width="0.9" />
<path d="M591.2,326.7L593.1,329L591.2,331.3L589.3,329Z" fill="#a0702a"/>
<path d="M605.8,337.8L607.7,340L605.8,342.3L603.9,340Z" fill="#a0702a"/>
<line x1="620.4" y1="364.6" x2="620.4" y2="379.5" stroke="#a0702a" stroke-width="0.9" />
<line x1="619.1" y1="364.6" x2="621.7" y2="364.6" stroke="#a0702a" stroke-width="0.9" />
<line x1="619.1" y1="379.5" x2="621.7" y2="379.5" stroke="#a0702a" stroke-width="0.9" />
<path d="M620.4,369.8L622.3,372.1L620.4,374.4L618.5,372.1Z" fill="#a0702a"/>
<path d="M635,392.5L636.9,394.8L635,397L633.1,394.8Z" fill="#a0702a"/>
<line x1="649.7" y1="401.7" x2="649.7" y2="412.1" stroke="#a0702a" stroke-width="0.9" />
<line x1="648.4" y1="401.7" x2="651" y2="401.7" stroke="#a0702a" stroke-width="0.9" />
<line x1="648.4" y1="412.1" x2="651" y2="412.1" stroke="#a0702a" stroke-width="0.9" />
<path d="M649.7,404.6L651.6,406.9L649.7,409.2L647.8,406.9Z" fill="#a0702a"/>
<polyline points="547.4,323.9 548.9,323.9 550.3,324 551.8,324 553.2,324 554.7,324 556.2,324 557.6,324 559.1,324.1 560.5,324.1 562,324.1 563.5,324.2 564.9,324.2 566.4,324.3 567.8,324.3 569.3,324.4 570.8,324.5 572.2,324.6 573.7,324.7 575.1,324.8 576.6,324.9 578.1,325.1 579.5,325.3 581,325.5 582.5,325.8 583.9,326.1 585.4,326.4 586.8,326.8 588.3,327.3 589.8,327.8 591.2,328.4 592.7,329 594.1,329.8 595.6,330.6 597.1,331.6 598.5,332.7 600,334 601.4,335.3 602.9,336.9 604.4,338.6 605.8,340.4 607.3,342.5 608.7,344.7 610.2,347.1 611.7,349.6 613.1,352.3 614.6,355.1 616.1,357.9 617.5,360.9 619,363.9 620.4,366.9 621.9,369.9 623.4,372.8 624.8,375.6 626.3,378.4 627.7,380.9 629.2,383.4 630.7,385.7 632.1,387.8 633.6,389.7 635,391.5 636.5,393.1 638,394.5 639.4,395.8 640.9,397 642.3,398 643.8,398.9 645.3,399.7 646.7,400.4 648.2,401 649.7,401.5" fill="none" stroke="#111" stroke-width="1.15" stroke-linejoin="round" />
<circle cx="547.4" cy="322.7" r="1.8" fill="#fff" stroke="#111" stroke-width="1"/>
<line x1="562" y1="317.9" x2="562" y2="330.8" stroke="#111" stroke-width="0.9" />
<line x1="560.7" y1="317.9" x2="563.3" y2="317.9" stroke="#111" stroke-width="0.9" />
<line x1="560.7" y1="330.8" x2="563.3" y2="330.8" stroke="#111" stroke-width="0.9" />
<circle cx="562" cy="324.4" r="1.8" fill="#fff" stroke="#111" stroke-width="1"/>
<line x1="576.6" y1="319.2" x2="576.6" y2="327.8" stroke="#111" stroke-width="0.9" />
<line x1="575.3" y1="319.2" x2="577.9" y2="319.2" stroke="#111" stroke-width="0.9" />
<line x1="575.3" y1="327.8" x2="577.9" y2="327.8" stroke="#111" stroke-width="0.9" />
<circle cx="576.6" cy="323.5" r="1.8" fill="#fff" stroke="#111" stroke-width="1"/>
<circle cx="591.2" cy="326.5" r="1.8" fill="#fff" stroke="#111" stroke-width="1"/>
<circle cx="605.8" cy="341.8" r="1.8" fill="#fff" stroke="#111" stroke-width="1"/>
<line x1="620.4" y1="362" x2="620.4" y2="370.9" stroke="#111" stroke-width="0.9" />
<line x1="619.1" y1="362" x2="621.7" y2="362" stroke="#111" stroke-width="0.9" />
<line x1="619.1" y1="370.9" x2="621.7" y2="370.9" stroke="#111" stroke-width="0.9" />
<circle cx="620.4" cy="366.4" r="1.8" fill="#fff" stroke="#111" stroke-width="1"/>
<circle cx="635" cy="391.6" r="1.8" fill="#fff" stroke="#111" stroke-width="1"/>
<line x1="649.7" y1="396.8" x2="649.7" y2="407.4" stroke="#111" stroke-width="0.9" />
<line x1="648.4" y1="396.8" x2="651" y2="396.8" stroke="#111" stroke-width="0.9" />
<line x1="648.4" y1="407.4" x2="651" y2="407.4" stroke="#111" stroke-width="0.9" />
<circle cx="649.7" cy="402.1" r="1.8" fill="#fff" stroke="#111" stroke-width="1"/>
<line x1="24.5" y1="452.2" x2="24.5" y2="543.5" stroke="#333" stroke-width="1" />
<line x1="24" y1="543" x2="138.5" y2="543" stroke="#333" stroke-width="1" />
<line x1="22" y1="543" x2="24.5" y2="543" stroke="#333" stroke-width="1" />
<text x="21" y="545.7" font-size="7.8" text-anchor="end" font-weight="normal" fill="#1a1a1a" >0</text>
<line x1="22" y1="525" x2="24.5" y2="525" stroke="#333" stroke-width="1" />
<text x="21" y="527.7" font-size="7.8" text-anchor="end" font-weight="normal" fill="#1a1a1a" >20</text>
<line x1="22" y1="507.1" x2="24.5" y2="507.1" stroke="#333" stroke-width="1" />
<text x="21" y="509.8" font-size="7.8" text-anchor="end" font-weight="normal" fill="#1a1a1a" >40</text>
<line x1="22" y1="489.1" x2="24.5" y2="489.1" stroke="#333" stroke-width="1" />
<text x="21" y="491.8" font-size="7.8" text-anchor="end" font-weight="normal" fill="#1a1a1a" >60</text>
<line x1="22" y1="471.2" x2="24.5" y2="471.2" stroke="#333" stroke-width="1" />
<text x="21" y="473.9" font-size="7.8" text-anchor="end" font-weight="normal" fill="#1a1a1a" >80</text>
<line x1="22" y1="453.2" x2="24.5" y2="453.2" stroke="#333" stroke-width="1" />
<text x="21" y="455.9" font-size="7.8" text-anchor="end" font-weight="normal" fill="#1a1a1a" >100</text>
<line x1="24.5" y1="543" x2="24.5" y2="545.5" stroke="#333" stroke-width="1" />
<text x="24.5" y="553.8" font-size="7.5" text-anchor="middle" font-weight="normal" fill="#1a1a1a" >100</text>
<line x1="45.4" y1="543" x2="45.4" y2="545.5" stroke="#333" stroke-width="1" />
<text x="45.4" y="553.8" font-size="7.5" text-anchor="middle" font-weight="normal" fill="#1a1a1a" >10</text>
<line x1="66.3" y1="543" x2="66.3" y2="545.5" stroke="#333" stroke-width="1" />
<text x="66.3" y="553.8" font-size="7.5" text-anchor="middle" font-weight="normal" fill="#1a1a1a" >1</text>
<line x1="87.2" y1="543" x2="87.2" y2="545.5" stroke="#333" stroke-width="1" />
<text x="87.2" y="553.8" font-size="7.5" text-anchor="middle" font-weight="normal" fill="#1a1a1a" >0.1</text>
<line x1="108.1" y1="543" x2="108.1" y2="545.5" stroke="#333" stroke-width="1" />
<text x="108.1" y="553.8" font-size="7.5" text-anchor="middle" font-weight="normal" fill="#1a1a1a" >0.01</text>
<line x1="129" y1="543" x2="129" y2="545.5" stroke="#333" stroke-width="1" />
<text x="129" y="553.8" font-size="7.5" text-anchor="middle" font-weight="normal" fill="#1a1a1a" >0.001</text>
<text x="83.4" y="443.7" font-size="9.9" text-anchor="middle" font-weight="normal" fill="#1a1a1a" >C.37</text>
<polyline points="30.8,473.2 32.3,473.4 33.7,473.6 35.2,473.8 36.6,474.1 38.1,474.4 39.6,474.7 41,475.1 42.5,475.5 43.9,476 45.4,476.6 46.9,477.2 48.3,477.9 49.8,478.8 51.2,479.7 52.7,480.7 54.2,481.8 55.6,483 57.1,484.4 58.5,485.9 60,487.5 61.5,489.2 62.9,491.1 64.4,493 65.9,495.1 67.3,497.3 68.8,499.6 70.2,501.9 71.7,504.2 73.2,506.6 74.6,508.9 76.1,511.2 77.5,513.5 79,515.6 80.5,517.7 81.9,519.7 83.4,521.5 84.8,523.2 86.3,524.8 87.8,526.3 89.2,527.7 90.7,528.9 92.1,530 93.6,531 95.1,531.9 96.5,532.7 98,533.4 99.5,534 100.9,534.6 102.4,535.1 103.8,535.5 105.3,535.9 106.8,536.2 108.2,536.5 109.7,536.8 111.1,537 112.6,537.2 114.1,537.4 115.5,537.5 117,537.6 118.4,537.8 119.9,537.9 121.4,537.9 122.8,538 124.3,538.1 125.7,538.1 127.2,538.2 128.7,538.2 130.1,538.3 131.6,538.3 133.1,538.3" fill="none" stroke="#2020e8" stroke-width="1.15" stroke-linejoin="round" />
<circle cx="30.8" cy="473.8" r="1.9" fill="#2020e8"/>
<circle cx="45.4" cy="477.9" r="1.9" fill="#2020e8"/>
<circle cx="60" cy="487.6" r="1.9" fill="#2020e8"/>
<circle cx="74.6" cy="512.6" r="1.9" fill="#2020e8"/>
<circle cx="89.2" cy="528.1" r="1.9" fill="#2020e8"/>
<line x1="103.8" y1="527.4" x2="103.8" y2="542.9" stroke="#2020e8" stroke-width="0.9" />
<line x1="102.5" y1="527.4" x2="105.1" y2="527.4" stroke="#2020e8" stroke-width="0.9" />
<line x1="102.5" y1="542.9" x2="105.1" y2="542.9" stroke="#2020e8" stroke-width="0.9" />
<circle cx="103.8" cy="535.2" r="1.9" fill="#2020e8"/>
<line x1="118.4" y1="534.2" x2="118.4" y2="547.1" stroke="#2020e8" stroke-width="0.9" />
<line x1="117.1" y1="534.2" x2="119.7" y2="534.2" stroke="#2020e8" stroke-width="0.9" />
<line x1="117.1" y1="547.1" x2="119.7" y2="547.1" stroke="#2020e8" stroke-width="0.9" />
<circle cx="118.4" cy="540.6" r="1.9" fill="#2020e8"/>
<circle cx="133.1" cy="536.6" r="1.9" fill="#2020e8"/>
<polyline points="30.8,473 32.3,473 33.7,473 35.2,473.1 36.6,473.1 38.1,473.1 39.6,473.1 41,473.2 42.5,473.2 43.9,473.2 45.4,473.3 46.9,473.3 48.3,473.4 49.8,473.5 51.2,473.5 52.7,473.6 54.2,473.7 55.6,473.9 57.1,474 58.5,474.2 60,474.4 61.5,474.6 62.9,474.9 64.4,475.2 65.9,475.5 67.3,476 68.8,476.4 70.2,477 71.7,477.6 73.2,478.3 74.6,479.1 76.1,480 77.5,481 79,482.2 80.5,483.4 81.9,484.9 83.4,486.5 84.8,488.2 86.3,490.1 87.8,492.1 89.2,494.2 90.7,496.5 92.1,498.9 93.6,501.4 95.1,503.9 96.5,506.5 98,509.1 99.5,511.6 100.9,514.1 102.4,516.5 103.8,518.8 105.3,521 106.8,523 108.2,524.9 109.7,526.6 111.1,528.2 112.6,529.7 114.1,531 115.5,532.1 117,533.2 118.4,534.1 119.9,534.9 121.4,535.6 122.8,536.2 124.3,536.8 125.7,537.3 127.2,537.7 128.7,538 130.1,538.3 131.6,538.6 133.1,538.9" fill="none" stroke="#ee1c24" stroke-width="1.15" stroke-linejoin="round" />
<path d="M28.7,468.6H32.9L30.8,472.2Z" fill="#ee1c24"/>
<path d="M43.3,472.8H47.5L45.4,476.4Z" fill="#ee1c24"/>
<path d="M57.9,470.8H62.1L60,474.4Z" fill="#ee1c24"/>
<path d="M72.5,476.5H76.7L74.6,480.2Z" fill="#ee1c24"/>
<path d="M87.1,493.7H91.3L89.2,497.3Z" fill="#ee1c24"/>
<path d="M101.7,514.4H105.9L103.8,518Z" fill="#ee1c24"/>
<path d="M116.4,532.5H120.5L118.4,536.1Z" fill="#ee1c24"/>
<line x1="133.1" y1="532.2" x2="133.1" y2="541.8" stroke="#ee1c24" stroke-width="0.9" />
<line x1="131.8" y1="532.2" x2="134.4" y2="532.2" stroke="#ee1c24" stroke-width="0.9" />
<line x1="131.8" y1="541.8" x2="134.4" y2="541.8" stroke="#ee1c24" stroke-width="0.9" />
<path d="M131,535.5H135.1L133.1,539.1Z" fill="#ee1c24"/>
<polyline points="30.8,473 32.3,473 33.7,473 35.2,473 36.6,473 38.1,473.1 39.6,473.1 41,473.1 42.5,473.1 43.9,473.1 45.4,473.2 46.9,473.2 48.3,473.3 49.8,473.3 51.2,473.4 52.7,473.5 54.2,473.5 55.6,473.6 57.1,473.8 58.5,473.9 60,474.1 61.5,474.2 62.9,474.5 64.4,474.7 65.9,475 67.3,475.4 68.8,475.8 70.2,476.2 71.7,476.8 73.2,477.4 74.6,478.1 76.1,478.9 77.5,479.9 79,480.9 80.5,482.1 81.9,483.5 83.4,485 84.8,486.7 86.3,488.5 87.8,490.5 89.2,492.7 90.7,495 92.1,497.4 93.6,500 95.1,502.6 96.5,505.3 98,508 99.5,510.7 100.9,513.4 102.4,515.9 103.8,518.4 105.3,520.7 106.8,522.8 108.2,524.8 109.7,526.7 111.1,528.3 112.6,529.8 114.1,531.2 115.5,532.4 117,533.4 118.4,534.4 119.9,535.2 121.4,535.9 122.8,536.5 124.3,537.1 125.7,537.5 127.2,537.9 128.7,538.3 130.1,538.6 131.6,538.8 133.1,539" fill="none" stroke="#b33ee6" stroke-width="1.15" stroke-linejoin="round" />
<path d="M28.7,474.8H32.9L30.8,471.2Z" fill="#b33ee6"/>
<line x1="45.4" y1="462" x2="45.4" y2="482.9" stroke="#b33ee6" stroke-width="0.9" />
<line x1="44.1" y1="462" x2="46.7" y2="462" stroke="#b33ee6" stroke-width="0.9" />
<line x1="44.1" y1="482.9" x2="46.7" y2="482.9" stroke="#b33ee6" stroke-width="0.9" />
<path d="M43.3,474H47.5L45.4,470.3Z" fill="#b33ee6"/>
<line x1="60" y1="468.4" x2="60" y2="478.6" stroke="#b33ee6" stroke-width="0.9" />
<line x1="58.7" y1="468.4" x2="61.3" y2="468.4" stroke="#b33ee6" stroke-width="0.9" />
<line x1="58.7" y1="478.6" x2="61.3" y2="478.6" stroke="#b33ee6" stroke-width="0.9" />
<path d="M57.9,475H62.1L60,471.4Z" fill="#b33ee6"/>
<path d="M72.5,483.1H76.7L74.6,479.4Z" fill="#b33ee6"/>
<line x1="89.2" y1="491.5" x2="89.2" y2="500.2" stroke="#b33ee6" stroke-width="0.9" />
<line x1="87.9" y1="491.5" x2="90.5" y2="491.5" stroke="#b33ee6" stroke-width="0.9" />
<line x1="87.9" y1="500.2" x2="90.5" y2="500.2" stroke="#b33ee6" stroke-width="0.9" />
<path d="M87.1,497.3H91.3L89.2,493.7Z" fill="#b33ee6"/>
<path d="M101.7,521.3H105.9L103.8,517.7Z" fill="#b33ee6"/>
<path d="M116.4,535.5H120.5L118.4,531.9Z" fill="#b33ee6"/>
<path d="M131,540H135.1L133.1,536.4Z" fill="#b33ee6"/>
<polyline points="30.8,469.4 32.3,469.4 33.7,469.4 35.2,469.4 36.6,469.4 38.1,469.4 39.6,469.4 41,469.4 42.5,469.5 43.9,469.5 45.4,469.5 46.9,469.5 48.3,469.5 49.8,469.6 51.2,469.6 52.7,469.7 54.2,469.7 55.6,469.8 57.1,469.8 58.5,469.9 60,470 61.5,470.1 62.9,470.3 64.4,470.4 65.9,470.6 67.3,470.8 68.8,471 70.2,471.3 71.7,471.7 73.2,472 74.6,472.5 76.1,473 77.5,473.6 79,474.3 80.5,475 81.9,475.9 83.4,476.9 84.8,478.1 86.3,479.4 87.8,480.8 89.2,482.4 90.7,484.1 92.1,486 93.6,488.1 95.1,490.2 96.5,492.5 98,494.9 99.5,497.4 100.9,499.9 102.4,502.5 103.8,505 105.3,507.4 106.8,509.8 108.2,512.1 109.7,514.2 111.1,516.2 112.6,518 114.1,519.7 115.5,521.3 117,522.6 118.4,523.9 119.9,525 121.4,525.9 122.8,526.8 124.3,527.5 125.7,528.2 127.2,528.8 128.7,529.3 130.1,529.7 131.6,530 133.1,530.4" fill="none" stroke="#a0702a" stroke-width="1.15" stroke-linejoin="round" />
<path d="M30.8,461.3L32.7,463.6L30.8,465.9L28.9,463.6Z" fill="#a0702a"/>
<line x1="45.4" y1="459.9" x2="45.4" y2="476.1" stroke="#a0702a" stroke-width="0.9" />
<line x1="44.1" y1="459.9" x2="46.7" y2="459.9" stroke="#a0702a" stroke-width="0.9" />
<line x1="44.1" y1="476.1" x2="46.7" y2="476.1" stroke="#a0702a" stroke-width="0.9" />
<path d="M45.4,465.7L47.3,468L45.4,470.3L43.5,468Z" fill="#a0702a"/>
<path d="M60,465.6L61.9,467.9L60,470.1L58.1,467.9Z" fill="#a0702a"/>
<line x1="74.6" y1="464.3" x2="74.6" y2="479.3" stroke="#a0702a" stroke-width="0.9" />
<line x1="73.3" y1="464.3" x2="75.9" y2="464.3" stroke="#a0702a" stroke-width="0.9" />
<line x1="73.3" y1="479.3" x2="75.9" y2="479.3" stroke="#a0702a" stroke-width="0.9" />
<path d="M74.6,469.5L76.5,471.8L74.6,474L72.7,471.8Z" fill="#a0702a"/>
<path d="M89.2,482.5L91.1,484.8L89.2,487.1L87.3,484.8Z" fill="#a0702a"/>
<line x1="103.8" y1="496.5" x2="103.8" y2="512.8" stroke="#a0702a" stroke-width="0.9" />
<line x1="102.5" y1="496.5" x2="105.1" y2="496.5" stroke="#a0702a" stroke-width="0.9" />
<line x1="102.5" y1="512.8" x2="105.1" y2="512.8" stroke="#a0702a" stroke-width="0.9" />
<path d="M103.8,502.4L105.7,504.6L103.8,506.9L101.9,504.6Z" fill="#a0702a"/>
<line x1="118.4" y1="521.1" x2="118.4" y2="530.1" stroke="#a0702a" stroke-width="0.9" />
<line x1="117.1" y1="521.1" x2="119.7" y2="521.1" stroke="#a0702a" stroke-width="0.9" />
<line x1="117.1" y1="530.1" x2="119.7" y2="530.1" stroke="#a0702a" stroke-width="0.9" />
<path d="M118.4,523.3L120.3,525.6L118.4,527.9L116.5,525.6Z" fill="#a0702a"/>
<path d="M133.1,529.1L135,531.4L133.1,533.7L131.2,531.4Z" fill="#a0702a"/>
<polyline points="30.8,468.5 32.3,468.5 33.7,468.5 35.2,468.5 36.6,468.5 38.1,468.5 39.6,468.5 41,468.5 42.5,468.5 43.9,468.5 45.4,468.5 46.9,468.5 48.3,468.5 49.8,468.5 51.2,468.6 52.7,468.6 54.2,468.6 55.6,468.6 57.1,468.6 58.5,468.7 60,468.7 61.5,468.8 62.9,468.8 64.4,468.9 65.9,469 67.3,469 68.8,469.1 70.2,469.3 71.7,469.4 73.2,469.6 74.6,469.8 76.1,470 77.5,470.3 79,470.6 80.5,471 81.9,471.5 83.4,472 84.8,472.6 86.3,473.3 87.8,474.2 89.2,475.1 90.7,476.2 92.1,477.4 93.6,478.8 95.1,480.4 96.5,482.2 98,484.2 99.5,486.3 100.9,488.7 102.4,491.2 103.8,493.8 105.3,496.6 106.8,499.5 108.2,502.5 109.7,505.4 111.1,508.3 112.6,511.2 114.1,514 115.5,516.6 117,519 118.4,521.3 119.9,523.4 121.4,525.3 122.8,527 124.3,528.6 125.7,529.9 127.2,531.1 128.7,532.2 130.1,533.1 131.6,533.9 133.1,534.5" fill="none" stroke="#111" stroke-width="1.15" stroke-linejoin="round" />
<line x1="30.8" y1="462.3" x2="30.8" y2="471.6" stroke="#111" stroke-width="0.9" />
<line x1="29.5" y1="462.3" x2="32.1" y2="462.3" stroke="#111" stroke-width="0.9" />
<line x1="29.5" y1="471.6" x2="32.1" y2="471.6" stroke="#111" stroke-width="0.9" />
<circle cx="30.8" cy="466.9" r="1.8" fill="#fff" stroke="#111" stroke-width="1"/>
<circle cx="45.4" cy="467.9" r="1.8" fill="#fff" stroke="#111" stroke-width="1"/>
<circle cx="60" cy="471.1" r="1.8" fill="#fff" stroke="#111" stroke-width="1"/>
<circle cx="74.6" cy="469.9" r="1.8" fill="#fff" stroke="#111" stroke-width="1"/>
<circle cx="89.2" cy="476.6" r="1.8" fill="#fff" stroke="#111" stroke-width="1"/>
<circle cx="103.8" cy="491.3" r="1.8" fill="#fff" stroke="#111" stroke-width="1"/>
<line x1="118.4" y1="517.3" x2="118.4" y2="525.8" stroke="#111" stroke-width="0.9" />
<line x1="117.1" y1="517.3" x2="119.7" y2="517.3" stroke="#111" stroke-width="0.9" />
<line x1="117.1" y1="525.8" x2="119.7" y2="525.8" stroke="#111" stroke-width="0.9" />
<circle cx="118.4" cy="521.5" r="1.8" fill="#fff" stroke="#111" stroke-width="1"/>
<line x1="133.1" y1="531.9" x2="133.1" y2="540.8" stroke="#111" stroke-width="0.9" />
<line x1="131.8" y1="531.9" x2="134.4" y2="531.9" stroke="#111" stroke-width="0.9" />
<line x1="131.8" y1="540.8" x2="134.4" y2="540.8" stroke="#111" stroke-width="0.9" />
<circle cx="133.1" cy="536.4" r="1.8" fill="#fff" stroke="#111" stroke-width="1"/>
<polyline points="30.8,470.3 32.3,470.3 33.7,470.3 35.2,470.3 36.6,470.3 38.1,470.3 39.6,470.3 41,470.3 42.5,470.3 43.9,470.3 45.4,470.3 46.9,470.3 48.3,470.3 49.8,470.3 51.2,470.3 52.7,470.3 54.2,470.3 55.6,470.4 57.1,470.4 58.5,470.4 60,470.4 61.5,470.5 62.9,470.5 64.4,470.6 65.9,470.6 67.3,470.7 68.8,470.7 70.2,470.8 71.7,470.9 73.2,471.1 74.6,471.2 76.1,471.4 77.5,471.6 79,471.9 80.5,472.1 81.9,472.5 83.4,472.9 84.8,473.3 86.3,473.9 87.8,474.5 89.2,475.3 90.7,476.1 92.1,477.1 93.6,478.2 95.1,479.5 96.5,480.9 98,482.6 99.5,484.4 100.9,486.3 102.4,488.5 103.8,490.8 105.3,493.2 106.8,495.8 108.2,498.4 109.7,501.1 111.1,503.8 112.6,506.5 114.1,509.1 115.5,511.6 117,514 118.4,516.2 119.9,518.2 121.4,520.1 122.8,521.8 124.3,523.3 125.7,524.6 127.2,525.8 128.7,526.9 130.1,527.8 131.6,528.6 133.1,529.2" fill="none" stroke="#19b37a" stroke-width="1.15" stroke-linejoin="round" />
<rect x="28.9" y="467.9" width="3.8" height="3.8" fill="#19b37a"/>
<rect x="43.5" y="466.4" width="3.8" height="3.8" fill="#19b37a"/>
<rect x="58.1" y="469.4" width="3.8" height="3.8" fill="#19b37a"/>
<rect x="72.7" y="469" width="3.8" height="3.8" fill="#19b37a"/>
<rect x="87.3" y="470.1" width="3.8" height="3.8" fill="#19b37a"/>
<line x1="103.8" y1="477.7" x2="103.8" y2="494.5" stroke="#19b37a" stroke-width="0.9" />
<line x1="102.5" y1="477.7" x2="105.1" y2="477.7" stroke="#19b37a" stroke-width="0.9" />
<line x1="102.5" y1="494.5" x2="105.1" y2="494.5" stroke="#19b37a" stroke-width="0.9" />
<rect x="101.9" y="484.2" width="3.8" height="3.8" fill="#19b37a"/>
<line x1="118.4" y1="514.1" x2="118.4" y2="526.2" stroke="#19b37a" stroke-width="0.9" />
<line x1="117.1" y1="514.1" x2="119.7" y2="514.1" stroke="#19b37a" stroke-width="0.9" />
<line x1="117.1" y1="526.2" x2="119.7" y2="526.2" stroke="#19b37a" stroke-width="0.9" />
<rect x="116.5" y="518.2" width="3.8" height="3.8" fill="#19b37a"/>
<rect x="131.2" y="529.6" width="3.8" height="3.8" fill="#19b37a"/>
<line x1="156.9" y1="452.2" x2="156.9" y2="543.5" stroke="#333" stroke-width="1" />
<line x1="156.4" y1="543" x2="270.9" y2="543" stroke="#333" stroke-width="1" />
<line x1="154.4" y1="543" x2="156.9" y2="543" stroke="#333" stroke-width="1" />
<text x="153.4" y="545.7" font-size="7.8" text-anchor="end" font-weight="normal" fill="#1a1a1a" >0</text>
<line x1="154.4" y1="525" x2="156.9" y2="525" stroke="#333" stroke-width="1" />
<text x="153.4" y="527.7" font-size="7.8" text-anchor="end" font-weight="normal" fill="#1a1a1a" >20</text>
<line x1="154.4" y1="507.1" x2="156.9" y2="507.1" stroke="#333" stroke-width="1" />
<text x="153.4" y="509.8" font-size="7.8" text-anchor="end" font-weight="normal" fill="#1a1a1a" >40</text>
<line x1="154.4" y1="489.1" x2="156.9" y2="489.1" stroke="#333" stroke-width="1" />
<text x="153.4" y="491.8" font-size="7.8" text-anchor="end" font-weight="normal" fill="#1a1a1a" >60</text>
<line x1="154.4" y1="471.2" x2="156.9" y2="471.2" stroke="#333" stroke-width="1" />
<text x="153.4" y="473.9" font-size="7.8" text-anchor="end" font-weight="normal" fill="#1a1a1a" >80</text>
<line x1="154.4" y1="453.2" x2="156.9" y2="453.2" stroke="#333" stroke-width="1" />
<text x="153.4" y="455.9" font-size="7.8" text-anchor="end" font-weight="normal" fill="#1a1a1a" >100</text>
<line x1="156.9" y1="543" x2="156.9" y2="545.5" stroke="#333" stroke-width="1" />
<text x="156.9" y="553.8" font-size="7.5" text-anchor="middle" font-weight="normal" fill="#1a1a1a" >100</text>
<line x1="177.8" y1="543" x2="177.8" y2="545.5" stroke="#333" stroke-width="1" />
<text x="177.8" y="553.8" font-size="7.5" text-anchor="middle" font-weight="normal" fill="#1a1a1a" >10</text>
<line x1="198.7" y1="543" x2="198.7" y2="545.5" stroke="#333" stroke-width="1" />
<text x="198.7" y="553.8" font-size="7.5" text-anchor="middle" font-weight="normal" fill="#1a1a1a" >1</text>
<line x1="219.6" y1="543" x2="219.6" y2="545.5" stroke="#333" stroke-width="1" />
<text x="219.6" y="553.8" font-size="7.5" text-anchor="middle" font-weight="normal" fill="#1a1a1a" >0.1</text>
<line x1="240.5" y1="543" x2="240.5" y2="545.5" stroke="#333" stroke-width="1" />
<text x="240.5" y="553.8" font-size="7.5" text-anchor="middle" font-weight="normal" fill="#1a1a1a" >0.01</text>
<line x1="261.4" y1="543" x2="261.4" y2="545.5" stroke="#333" stroke-width="1" />
<text x="261.4" y="553.8" font-size="7.5" text-anchor="middle" font-weight="normal" fill="#1a1a1a" >0.001</text>
<text x="212.1" y="443.7" font-size="9.9" text-anchor="middle" font-weight="normal" fill="#1a1a1a" >B.1.1.529</text>
<polyline points="163.2,541.7 164.7,541.7 166.1,541.7 167.6,541.7 169,541.7 170.5,541.7 172,541.7 173.4,541.7 174.9,541.7 176.3,541.7 177.8,541.7 179.3,541.7 180.7,541.7 182.2,541.7 183.6,541.7 185.1,541.7 186.6,541.7 188,541.8 189.5,541.8 190.9,541.8 192.4,541.8 193.9,541.8 195.3,541.8 196.8,541.9 198.3,541.9 199.7,541.9 201.2,541.9 202.6,541.9 204.1,541.9 205.6,542 207,542 208.5,542 209.9,542 211.4,542 212.9,542 214.3,542 215.8,542 217.2,542.1 218.7,542.1 220.2,542.1 221.6,542.1 223.1,542.1 224.5,542.1 226,542.1 227.5,542.1 228.9,542.1 230.4,542.1 231.9,542.1 233.3,542.1 234.8,542.1 236.2,542.1 237.7,542.1 239.2,542.1 240.6,542.1 242.1,542.1 243.5,542.1 245,542.1 246.5,542.1 247.9,542.1 249.4,542.1 250.8,542.1 252.3,542.1 253.8,542.1 255.2,542.1 256.7,542.1 258.1,542.1 259.6,542.1 261.1,542.1 262.5,542.1 264,542.1 265.5,542.1" fill="none" stroke="#a0702a" stroke-width="1.15" stroke-linejoin="round" />
<path d="M163.2,534.8L165.1,537.1L163.2,539.3L161.3,537.1Z" fill="#a0702a"/>
<path d="M177.8,537L179.7,539.2L177.8,541.5L175.9,539.2Z" fill="#a0702a"/>
<line x1="192.4" y1="537.4" x2="192.4" y2="545.6" stroke="#a0702a" stroke-width="0.9" />
<line x1="191.1" y1="537.4" x2="193.7" y2="537.4" stroke="#a0702a" stroke-width="0.9" />
<line x1="191.1" y1="545.6" x2="193.7" y2="545.6" stroke="#a0702a" stroke-width="0.9" />
<path d="M192.4,539.2L194.3,541.5L192.4,543.7L190.5,541.5Z" fill="#a0702a"/>
<path d="M207,534.6L208.9,536.9L207,539.2L205.1,536.9Z" fill="#a0702a"/>
<line x1="221.6" y1="533.9" x2="221.6" y2="552.1" stroke="#a0702a" stroke-width="0.9" />
<line x1="220.3" y1="533.9" x2="222.9" y2="533.9" stroke="#a0702a" stroke-width="0.9" />
<line x1="220.3" y1="552.1" x2="222.9" y2="552.1" stroke="#a0702a" stroke-width="0.9" />
<path d="M221.6,540.7L223.5,543L221.6,545.3L219.7,543Z" fill="#a0702a"/>
<path d="M236.2,539.4L238.1,541.7L236.2,544L234.3,541.7Z" fill="#a0702a"/>
<path d="M250.8,540.1L252.7,542.4L250.8,544.7L248.9,542.4Z" fill="#a0702a"/>
<path d="M265.5,540.7L267.4,543L265.5,545.3L263.6,543Z" fill="#a0702a"/>
<polyline points="163.2,513.2 164.7,516.7 166.1,519.8 167.6,522.6 169,525 170.5,527.1 172,528.9 173.4,530.4 174.9,531.6 176.3,532.7 177.8,533.6 179.3,534.3 180.7,534.9 182.2,535.4 183.6,535.8 185.1,536.2 186.6,536.4 188,536.6 189.5,536.8 190.9,537 192.4,537.1 193.9,537.2 195.3,537.3 196.8,537.3 198.3,537.4 199.7,537.4 201.2,537.5 202.6,537.5 204.1,537.5 205.6,537.5 207,537.5 208.5,537.6 209.9,537.6 211.4,537.6 212.9,537.6 214.3,537.6 215.8,537.6 217.2,537.6 218.7,537.6 220.2,537.6 221.6,537.6 223.1,537.6 224.5,537.6 226,537.6 227.5,537.6 228.9,537.6 230.4,537.6 231.9,537.6 233.3,537.6 234.8,537.6 236.2,537.6 237.7,537.6 239.2,537.6 240.6,537.6 242.1,537.6 243.5,537.6 245,537.6 246.5,537.6 247.9,537.6 249.4,537.6 250.8,537.6 252.3,537.6 253.8,537.6 255.2,537.6 256.7,537.6 258.1,537.6 259.6,537.6 261.1,537.6 262.5,537.6 264,537.6 265.5,537.6" fill="none" stroke="#ee1c24" stroke-width="1.15" stroke-linejoin="round" />
<path d="M161.1,508.1H165.3L163.2,511.7Z" fill="#ee1c24"/>
<line x1="177.8" y1="529.7" x2="177.8" y2="538.2" stroke="#ee1c24" stroke-width="0.9" />
<line x1="176.5" y1="529.7" x2="179.1" y2="529.7" stroke="#ee1c24" stroke-width="0.9" />
<line x1="176.5" y1="538.2" x2="179.1" y2="538.2" stroke="#ee1c24" stroke-width="0.9" />
<path d="M175.7,532.5H179.9L177.8,536.1Z" fill="#ee1c24"/>
<line x1="192.4" y1="533.7" x2="192.4" y2="544.7" stroke="#ee1c24" stroke-width="0.9" />
<line x1="191.1" y1="533.7" x2="193.7" y2="533.7" stroke="#ee1c24" stroke-width="0.9" />
<line x1="191.1" y1="544.7" x2="193.7" y2="544.7" stroke="#ee1c24" stroke-width="0.9" />
<path d="M190.3,537.6H194.5L192.4,541.3Z" fill="#ee1c24"/>
<path d="M204.9,536.1H209.1L207,539.7Z" fill="#ee1c24"/>
<path d="M219.5,534.6H223.7L221.6,538.2Z" fill="#ee1c24"/>
<path d="M234.1,536.9H238.3L236.2,540.5Z" fill="#ee1c24"/>
<line x1="250.8" y1="529.8" x2="250.8" y2="541.1" stroke="#ee1c24" stroke-width="0.9" />
<line x1="249.5" y1="529.8" x2="252.1" y2="529.8" stroke="#ee1c24" stroke-width="0.9" />
<line x1="249.5" y1="541.1" x2="252.1" y2="541.1" stroke="#ee1c24" stroke-width="0.9" />
<path d="M248.8,533.9H252.9L250.8,537.5Z" fill="#ee1c24"/>
<line x1="265.5" y1="529" x2="265.5" y2="550" stroke="#ee1c24" stroke-width="0.9" />
<line x1="264.2" y1="529" x2="266.8" y2="529" stroke="#ee1c24" stroke-width="0.9" />
<line x1="264.2" y1="550" x2="266.8" y2="550" stroke="#ee1c24" stroke-width="0.9" />
<path d="M263.4,538H267.5L265.5,541.6Z" fill="#ee1c24"/>
<polyline points="163.2,479.3 164.7,480.3 166.1,481.4 167.6,482.6 169,484 170.5,485.5 172,487.2 173.4,489 174.9,491 176.3,493.1 177.8,495.2 179.3,497.5 180.7,499.9 182.2,502.2 183.6,504.6 185.1,507 186.6,509.3 188,511.5 189.5,513.6 190.9,515.6 192.4,517.5 193.9,519.2 195.3,520.7 196.8,522.1 198.3,523.4 199.7,524.6 201.2,525.6 202.6,526.5 204.1,527.3 205.6,527.9 207,528.5 208.5,529.1 209.9,529.5 211.4,529.9 212.9,530.2 214.3,530.5 215.8,530.8 217.2,531 218.7,531.2 220.2,531.3 221.6,531.4 223.1,531.6 224.5,531.7 226,531.7 227.5,531.8 228.9,531.9 230.4,531.9 231.9,532 233.3,532 234.8,532 236.2,532.1 237.7,532.1 239.2,532.1 240.6,532.1 242.1,532.1 243.5,532.2 245,532.2 246.5,532.2 247.9,532.2 249.4,532.2 250.8,532.2 252.3,532.2 253.8,532.2 255.2,532.2 256.7,532.2 258.1,532.2 259.6,532.2 261.1,532.2 262.5,532.2 264,532.2 265.5,532.2" fill="none" stroke="#2020e8" stroke-width="1.15" stroke-linejoin="round" />
<circle cx="163.2" cy="474.8" r="1.9" fill="#2020e8"/>
<circle cx="177.8" cy="496.2" r="1.9" fill="#2020e8"/>
<line x1="192.4" y1="514.2" x2="192.4" y2="522.6" stroke="#2020e8" stroke-width="0.9" />
<line x1="191.1" y1="514.2" x2="193.7" y2="514.2" stroke="#2020e8" stroke-width="0.9" />
<line x1="191.1" y1="522.6" x2="193.7" y2="522.6" stroke="#2020e8" stroke-width="0.9" />
<circle cx="192.4" cy="518.4" r="1.9" fill="#2020e8"/>
<circle cx="207" cy="531.3" r="1.9" fill="#2020e8"/>
<line x1="221.6" y1="528.1" x2="221.6" y2="540.3" stroke="#2020e8" stroke-width="0.9" />
<line x1="220.3" y1="528.1" x2="222.9" y2="528.1" stroke="#2020e8" stroke-width="0.9" />
<line x1="220.3" y1="540.3" x2="222.9" y2="540.3" stroke="#2020e8" stroke-width="0.9" />
<circle cx="221.6" cy="534.2" r="1.9" fill="#2020e8"/>
<line x1="236.2" y1="528.2" x2="236.2" y2="537" stroke="#2020e8" stroke-width="0.9" />
<line x1="234.9" y1="528.2" x2="237.5" y2="528.2" stroke="#2020e8" stroke-width="0.9" />
<line x1="234.9" y1="537" x2="237.5" y2="537" stroke="#2020e8" stroke-width="0.9" />
<circle cx="236.2" cy="532.6" r="1.9" fill="#2020e8"/>
<line x1="250.8" y1="524.3" x2="250.8" y2="533.9" stroke="#2020e8" stroke-width="0.9" />
<line x1="249.5" y1="524.3" x2="252.1" y2="524.3" stroke="#2020e8" stroke-width="0.9" />
<line x1="249.5" y1="533.9" x2="252.1" y2="533.9" stroke="#2020e8" stroke-width="0.9" />
<circle cx="250.8" cy="529.1" r="1.9" fill="#2020e8"/>
<circle cx="265.5" cy="532.7" r="1.9" fill="#2020e8"/>
<polyline points="163.2,464.6 164.7,465 166.1,465.6 167.6,466.2 169,466.9 170.5,467.7 172,468.7 173.4,469.9 174.9,471.2 176.3,472.7 177.8,474.4 179.3,476.3 180.7,478.4 182.2,480.8 183.6,483.3 185.1,486.1 186.6,489.1 188,492.2 189.5,495.4 190.9,498.7 192.4,502 193.9,505.2 195.3,508.4 196.8,511.4 198.3,514.3 199.7,517 201.2,519.4 202.6,521.7 204.1,523.7 205.6,525.5 207,527.1 208.5,528.5 209.9,529.7 211.4,530.7 212.9,531.6 214.3,532.4 215.8,533.1 217.2,533.6 218.7,534.1 220.2,534.5 221.6,534.9 223.1,535.2 224.5,535.4 226,535.6 227.5,535.8 228.9,535.9 230.4,536.1 231.9,536.2 233.3,536.3 234.8,536.3 236.2,536.4 237.7,536.4 239.2,536.5 240.6,536.5 242.1,536.6 243.5,536.6 245,536.6 246.5,536.6 247.9,536.6 249.4,536.6 250.8,536.7 252.3,536.7 253.8,536.7 255.2,536.7 256.7,536.7 258.1,536.7 259.6,536.7 261.1,536.7 262.5,536.7 264,536.7 265.5,536.7" fill="none" stroke="#19b37a" stroke-width="1.15" stroke-linejoin="round" />
<rect x="161.3" y="462.6" width="3.8" height="3.8" fill="#19b37a"/>
<rect x="175.9" y="470.6" width="3.8" height="3.8" fill="#19b37a"/>
<rect x="190.5" y="501.4" width="3.8" height="3.8" fill="#19b37a"/>
<rect x="205.1" y="523.7" width="3.8" height="3.8" fill="#19b37a"/>
<line x1="221.6" y1="530.1" x2="221.6" y2="539" stroke="#19b37a" stroke-width="0.9" />
<line x1="220.3" y1="530.1" x2="222.9" y2="530.1" stroke="#19b37a" stroke-width="0.9" />
<line x1="220.3" y1="539" x2="222.9" y2="539" stroke="#19b37a" stroke-width="0.9" />
<rect x="219.7" y="532.7" width="3.8" height="3.8" fill="#19b37a"/>
<rect x="234.3" y="530.6" width="3.8" height="3.8" fill="#19b37a"/>
<rect x="248.9" y="534.2" width="3.8" height="3.8" fill="#19b37a"/>
<rect x="263.6" y="534.7" width="3.8" height="3.8" fill="#19b37a"/>
<polyline points="163.2,463.6 164.7,463.8 166.1,464 167.6,464.3 169,464.6 170.5,464.9 172,465.2 173.4,465.6 174.9,466.1 176.3,466.6 177.8,467.1 179.3,467.8 180.7,468.5 182.2,469.2 183.6,470.1 185.1,471.1 186.6,472.1 188,473.3 189.5,474.5 190.9,475.9 192.4,477.4 193.9,479 195.3,480.7 196.8,482.6 198.3,484.5 199.7,486.6 201.2,488.7 202.6,490.9 204.1,493.2 205.6,495.5 207,497.8 208.5,500.2 209.9,502.5 211.4,504.8 212.9,507 214.3,509.2 215.8,511.3 217.2,513.3 218.7,515.2 220.2,517 221.6,518.7 223.1,520.2 224.5,521.7 226,523 227.5,524.3 228.9,525.4 230.4,526.4 231.9,527.3 233.3,528.1 234.8,528.9 236.2,529.6 237.7,530.2 239.2,530.7 240.6,531.2 242.1,531.6 243.5,532 245,532.3 246.5,532.6 247.9,532.9 249.4,533.2 250.8,533.4 252.3,533.5 253.8,533.7 255.2,533.9 256.7,534 258.1,534.1 259.6,534.2 261.1,534.3 262.5,534.4 264,534.4 265.5,534.5" fill="none" stroke="#111" stroke-width="1.15" stroke-linejoin="round" />
<circle cx="163.2" cy="465.5" r="1.8" fill="#fff" stroke="#111" stroke-width="1"/>
<circle cx="177.8" cy="464.5" r="1.8" fill="#fff" stroke="#111" stroke-width="1"/>
<circle cx="192.4" cy="475.8" r="1.8" fill="#fff" stroke="#111" stroke-width="1"/>
<line x1="207" y1="490.5" x2="207" y2="505" stroke="#111" stroke-width="0.9" />
<line x1="205.7" y1="490.5" x2="208.3" y2="490.5" stroke="#111" stroke-width="0.9" />
<line x1="205.7" y1="505" x2="208.3" y2="505" stroke="#111" stroke-width="0.9" />
<circle cx="207" cy="497.7" r="1.8" fill="#fff" stroke="#111" stroke-width="1"/>
<circle cx="221.6" cy="520.2" r="1.8" fill="#fff" stroke="#111" stroke-width="1"/>
<circle cx="236.2" cy="527.3" r="1.8" fill="#fff" stroke="#111" stroke-width="1"/>
<line x1="250.8" y1="531.4" x2="250.8" y2="540.1" stroke="#111" stroke-width="0.9" />
<line x1="249.5" y1="531.4" x2="252.1" y2="531.4" stroke="#111" stroke-width="0.9" />
<line x1="249.5" y1="540.1" x2="252.1" y2="540.1" stroke="#111" stroke-width="0.9" />
<circle cx="250.8" cy="535.7" r="1.8" fill="#fff" stroke="#111" stroke-width="1"/>
<circle cx="265.5" cy="531" r="1.8" fill="#fff" stroke="#111" stroke-width="1"/>
<polyline points="163.2,460.8 164.7,460.9 166.1,461 167.6,461 169,461.1 170.5,461.2 172,461.4 173.4,461.5 174.9,461.7 176.3,461.9 177.8,462.1 179.3,462.3 180.7,462.6 182.2,462.9 183.6,463.2 185.1,463.6 186.6,464.1 188,464.6 189.5,465.2 190.9,465.9 192.4,466.6 193.9,467.4 195.3,468.4 196.8,469.4 198.3,470.6 199.7,471.9 201.2,473.3 202.6,474.9 204.1,476.6 205.6,478.4 207,480.4 208.5,482.6 209.9,484.9 211.4,487.3 212.9,489.8 214.3,492.4 215.8,495.2 217.2,498 218.7,500.8 220.2,503.6 221.6,506.4 223.1,509.2 224.5,511.9 226,514.5 227.5,517 228.9,519.3 230.4,521.6 231.9,523.7 233.3,525.6 234.8,527.4 236.2,529.1 237.7,530.6 239.2,532 240.6,533.2 242.1,534.3 243.5,535.3 245,536.2 246.5,537 247.9,537.8 249.4,538.4 250.8,538.9 252.3,539.4 253.8,539.9 255.2,540.3 256.7,540.6 258.1,540.9 259.6,541.2 261.1,541.4 262.5,541.6 264,541.8 265.5,541.9" fill="none" stroke="#b33ee6" stroke-width="1.15" stroke-linejoin="round" />
<path d="M161.1,462.3H165.3L163.2,458.7Z" fill="#b33ee6"/>
<line x1="177.8" y1="454.7" x2="177.8" y2="469" stroke="#b33ee6" stroke-width="0.9" />
<line x1="176.5" y1="454.7" x2="179.1" y2="454.7" stroke="#b33ee6" stroke-width="0.9" />
<line x1="176.5" y1="469" x2="179.1" y2="469" stroke="#b33ee6" stroke-width="0.9" />
<path d="M175.7,463.4H179.9L177.8,459.8Z" fill="#b33ee6"/>
<path d="M190.3,472.4H194.5L192.4,468.7Z" fill="#b33ee6"/>
<path d="M204.9,483.7H209.1L207,480Z" fill="#b33ee6"/>
<path d="M219.5,507.7H223.7L221.6,504.1Z" fill="#b33ee6"/>
<line x1="236.2" y1="525.3" x2="236.2" y2="538.8" stroke="#b33ee6" stroke-width="0.9" />
<line x1="234.9" y1="525.3" x2="237.5" y2="525.3" stroke="#b33ee6" stroke-width="0.9" />
<line x1="234.9" y1="538.8" x2="237.5" y2="538.8" stroke="#b33ee6" stroke-width="0.9" />
<path d="M234.1,533.6H238.3L236.2,530Z" fill="#b33ee6"/>
<path d="M248.8,538.4H252.9L250.8,534.8Z" fill="#b33ee6"/>
<line x1="265.5" y1="535" x2="265.5" y2="551" stroke="#b33ee6" stroke-width="0.9" />
<line x1="264.2" y1="535" x2="266.8" y2="535" stroke="#b33ee6" stroke-width="0.9" />
<line x1="264.2" y1="551" x2="266.8" y2="551" stroke="#b33ee6" stroke-width="0.9" />
<path d="M263.4,544.5H267.5L265.5,540.9Z" fill="#b33ee6"/>
<line x1="285.4" y1="452.2" x2="285.4" y2="543.5" stroke="#333" stroke-width="1" />
<line x1="284.9" y1="543" x2="399.4" y2="543" stroke="#333" stroke-width="1" />
<line x1="282.9" y1="543" x2="285.4" y2="543" stroke="#333" stroke-width="1" />
<text x="281.9" y="545.7" font-size="7.8" text-anchor="end" font-weight="normal" fill="#1a1a1a" >0</text>
<line x1="282.9" y1="525" x2="285.4" y2="525" stroke="#333" stroke-width="1" />
<text x="281.9" y="527.7" font-size="7.8" text-anchor="end" font-weight="normal" fill="#1a1a1a" >20</text>
<line x1="282.9" y1="507.1" x2="285.4" y2="507.1" stroke="#333" stroke-width="1" />
<text x="281.9" y="509.8" font-size="7.8" text-anchor="end" font-weight="normal" fill="#1a1a1a" >40</text>
<line x1="282.9" y1="489.1" x2="285.4" y2="489.1" stroke="#333" stroke-width="1" />
<text x="281.9" y="491.8" font-size="7.8" text-anchor="end" font-weight="normal" fill="#1a1a1a" >60</text>
<line x1="282.9" y1="471.2" x2="285.4" y2="471.2" stroke="#333" stroke-width="1" />
<text x="281.9" y="473.9" font-size="7.8" text-anchor="end" font-weight="normal" fill="#1a1a1a" >80</text>
<line x1="282.9" y1="453.2" x2="285.4" y2="453.2" stroke="#333" stroke-width="1" />
<text x="281.9" y="455.9" font-size="7.8" text-anchor="end" font-weight="normal" fill="#1a1a1a" >100</text>
<line x1="285.4" y1="543" x2="285.4" y2="545.5" stroke="#333" stroke-width="1" />
<text x="285.4" y="553.8" font-size="7.5" text-anchor="middle" font-weight="normal" fill="#1a1a1a" >100</text>
<line x1="306.3" y1="543" x2="306.3" y2="545.5" stroke="#333" stroke-width="1" />
<text x="306.3" y="553.8" font-size="7.5" text-anchor="middle" font-weight="normal" fill="#1a1a1a" >10</text>
<line x1="327.2" y1="543" x2="327.2" y2="545.5" stroke="#333" stroke-width="1" />
<text x="327.2" y="553.8" font-size="7.5" text-anchor="middle" font-weight="normal" fill="#1a1a1a" >1</text>
<line x1="348.1" y1="543" x2="348.1" y2="545.5" stroke="#333" stroke-width="1" />
<text x="348.1" y="553.8" font-size="7.5" text-anchor="middle" font-weight="normal" fill="#1a1a1a" >0.1</text>
<line x1="369" y1="543" x2="369" y2="545.5" stroke="#333" stroke-width="1" />
<text x="369" y="553.8" font-size="7.5" text-anchor="middle" font-weight="normal" fill="#1a1a1a" >0.01</text>
<line x1="389.9" y1="543" x2="389.9" y2="545.5" stroke="#333" stroke-width="1" />
<text x="389.9" y="553.8" font-size="7.5" text-anchor="middle" font-weight="normal" fill="#1a1a1a" >0.001</text>
<text x="339" y="443.7" font-size="9.9" text-anchor="middle" font-weight="normal" fill="#1a1a1a" >SARS-CoV</text>
<polyline points="291.7,533.1 293.2,533.1 294.6,533.1 296.1,533.1 297.5,533.1 299,533.1 300.5,533.1 301.9,533.1 303.4,533.1 304.8,533.1 306.3,533.1 307.8,533.1 309.2,533.1 310.7,533.1 312.1,533.1 313.6,533.1 315.1,533.1 316.5,533.1 318,533.1 319.4,533.1 320.9,533.1 322.4,533.1 323.8,533.1 325.3,533.1 326.8,533.1 328.2,533.1 329.7,533.1 331.1,533.1 332.6,533.1 334.1,533.1 335.5,533.1 337,533.1 338.4,533.1 339.9,533.1 341.4,533.1 342.8,533.1 344.3,533.1 345.7,533.1 347.2,533.1 348.7,533.2 350.1,533.2 351.6,533.2 353,533.2 354.5,533.2 356,533.2 357.4,533.3 358.9,533.3 360.4,533.3 361.8,533.4 363.3,533.5 364.7,533.5 366.2,533.6 367.7,533.8 369.1,533.9 370.6,534.1 372,534.4 373.5,534.6 375,534.9 376.4,535.3 377.9,535.7 379.3,536.1 380.8,536.5 382.3,536.9 383.7,537.4 385.2,537.8 386.6,538.1 388.1,538.5 389.6,538.8 391,539.1 392.5,539.3 394,539.5" fill="none" stroke="#a0702a" stroke-width="1.15" stroke-linejoin="round" />
<line x1="291.7" y1="526.9" x2="291.7" y2="537" stroke="#a0702a" stroke-width="0.9" />
<line x1="290.4" y1="526.9" x2="293" y2="526.9" stroke="#a0702a" stroke-width="0.9" />
<line x1="290.4" y1="537" x2="293" y2="537" stroke="#a0702a" stroke-width="0.9" />
<path d="M291.7,529.6L293.6,531.9L291.7,534.2L289.8,531.9Z" fill="#a0702a"/>
<path d="M306.3,533.2L308.2,535.5L306.3,537.7L304.4,535.5Z" fill="#a0702a"/>
<path d="M320.9,530.2L322.8,532.4L320.9,534.7L319,532.4Z" fill="#a0702a"/>
<line x1="335.5" y1="525.2" x2="335.5" y2="546.7" stroke="#a0702a" stroke-width="0.9" />
<line x1="334.2" y1="525.2" x2="336.8" y2="525.2" stroke="#a0702a" stroke-width="0.9" />
<line x1="334.2" y1="546.7" x2="336.8" y2="546.7" stroke="#a0702a" stroke-width="0.9" />
<path d="M335.5,533.7L337.4,535.9L335.5,538.2L333.6,535.9Z" fill="#a0702a"/>
<path d="M350.1,533.1L352,535.4L350.1,537.6L348.2,535.4Z" fill="#a0702a"/>
<path d="M364.7,532.7L366.6,535L364.7,537.3L362.8,535Z" fill="#a0702a"/>
<line x1="379.3" y1="531.1" x2="379.3" y2="539.5" stroke="#a0702a" stroke-width="0.9" />
<line x1="378" y1="531.1" x2="380.6" y2="531.1" stroke="#a0702a" stroke-width="0.9" />
<line x1="378" y1="539.5" x2="380.6" y2="539.5" stroke="#a0702a" stroke-width="0.9" />
<path d="M379.3,533L381.2,535.3L379.3,537.5L377.4,535.3Z" fill="#a0702a"/>
<path d="M394,535.9L395.9,538.2L394,540.5L392.1,538.2Z" fill="#a0702a"/>
<polyline points="291.7,532.8 293.2,533.2 294.6,533.7 296.1,534.2 297.5,534.8 299,535.3 300.5,535.8 301.9,536.3 303.4,536.8 304.8,537.2 306.3,537.6 307.8,537.9 309.2,538.2 310.7,538.4 312.1,538.6 313.6,538.8 315.1,538.9 316.5,539 318,539.1 319.4,539.2 320.9,539.2 322.4,539.3 323.8,539.3 325.3,539.3 326.8,539.3 328.2,539.3 329.7,539.4 331.1,539.4 332.6,539.4 334.1,539.4 335.5,539.4 337,539.4 338.4,539.4 339.9,539.4 341.4,539.4 342.8,539.4 344.3,539.4 345.7,539.4 347.2,539.4 348.7,539.4 350.1,539.4 351.6,539.4 353,539.4 354.5,539.4 356,539.4 357.4,539.4 358.9,539.4 360.4,539.4 361.8,539.4 363.3,539.4 364.7,539.4 366.2,539.4 367.7,539.4 369.1,539.4 370.6,539.4 372,539.4 373.5,539.4 375,539.4 376.4,539.4 377.9,539.4 379.3,539.4 380.8,539.4 382.3,539.4 383.7,539.4 385.2,539.4 386.6,539.4 388.1,539.4 389.6,539.4 391,539.4 392.5,539.4 394,539.4" fill="none" stroke="#111" stroke-width="1.15" stroke-linejoin="round" />
<line x1="291.7" y1="529.4" x2="291.7" y2="538.4" stroke="#111" stroke-width="0.9" />
<line x1="290.4" y1="529.4" x2="293" y2="529.4" stroke="#111" stroke-width="0.9" />
<line x1="290.4" y1="538.4" x2="293" y2="538.4" stroke="#111" stroke-width="0.9" />
<circle cx="291.7" cy="533.9" r="1.8" fill="#fff" stroke="#111" stroke-width="1"/>
<line x1="306.3" y1="537.2" x2="306.3" y2="545.5" stroke="#111" stroke-width="0.9" />
<line x1="305" y1="537.2" x2="307.6" y2="537.2" stroke="#111" stroke-width="0.9" />
<line x1="305" y1="545.5" x2="307.6" y2="545.5" stroke="#111" stroke-width="0.9" />
<circle cx="306.3" cy="541.3" r="1.8" fill="#fff" stroke="#111" stroke-width="1"/>
<line x1="320.9" y1="528.5" x2="320.9" y2="545" stroke="#111" stroke-width="0.9" />
<line x1="319.6" y1="528.5" x2="322.2" y2="528.5" stroke="#111" stroke-width="0.9" />
<line x1="319.6" y1="545" x2="322.2" y2="545" stroke="#111" stroke-width="0.9" />
<circle cx="320.9" cy="536.8" r="1.8" fill="#fff" stroke="#111" stroke-width="1"/>
<circle cx="335.5" cy="539.8" r="1.8" fill="#fff" stroke="#111" stroke-width="1"/>
<circle cx="350.1" cy="541.9" r="1.8" fill="#fff" stroke="#111" stroke-width="1"/>
<circle cx="364.7" cy="541.2" r="1.8" fill="#fff" stroke="#111" stroke-width="1"/>
<line x1="379.3" y1="532" x2="379.3" y2="549.3" stroke="#111" stroke-width="0.9" />
<line x1="378" y1="532" x2="380.6" y2="532" stroke="#111" stroke-width="0.9" />
<line x1="378" y1="549.3" x2="380.6" y2="549.3" stroke="#111" stroke-width="0.9" />
<circle cx="379.3" cy="540.7" r="1.8" fill="#fff" stroke="#111" stroke-width="1"/>
<circle cx="394" cy="536.7" r="1.8" fill="#fff" stroke="#111" stroke-width="1"/>
<polyline points="291.7,532 293.2,532.5 294.6,533.1 296.1,533.7 297.5,534.3 299,534.9 300.5,535.5 301.9,536.1 303.4,536.7 304.8,537.1 306.3,537.6 307.8,537.9 309.2,538.2 310.7,538.5 312.1,538.7 313.6,538.8 315.1,538.9 316.5,539 318,539.1 319.4,539.2 320.9,539.2 322.4,539.3 323.8,539.3 325.3,539.3 326.8,539.3 328.2,539.4 329.7,539.4 331.1,539.4 332.6,539.4 334.1,539.4 335.5,539.4 337,539.4 338.4,539.4 339.9,539.4 341.4,539.4 342.8,539.4 344.3,539.4 345.7,539.4 347.2,539.4 348.7,539.4 350.1,539.4 351.6,539.4 353,539.4 354.5,539.4 356,539.4 357.4,539.4 358.9,539.4 360.4,539.4 361.8,539.4 363.3,539.4 364.7,539.4 366.2,539.4 367.7,539.4 369.1,539.4 370.6,539.4 372,539.4 373.5,539.4 375,539.4 376.4,539.4 377.9,539.4 379.3,539.4 380.8,539.4 382.3,539.4 383.7,539.4 385.2,539.4 386.6,539.4 388.1,539.4 389.6,539.4 391,539.4 392.5,539.4 394,539.4" fill="none" stroke="#19b37a" stroke-width="1.15" stroke-linejoin="round" />
<rect x="289.8" y="532" width="3.8" height="3.8" fill="#19b37a"/>
<line x1="306.3" y1="526.8" x2="306.3" y2="539.3" stroke="#19b37a" stroke-width="0.9" />
<line x1="305" y1="526.8" x2="307.6" y2="526.8" stroke="#19b37a" stroke-width="0.9" />
<line x1="305" y1="539.3" x2="307.6" y2="539.3" stroke="#19b37a" stroke-width="0.9" />
<rect x="304.4" y="531.1" width="3.8" height="3.8" fill="#19b37a"/>
<rect x="319" y="538.3" width="3.8" height="3.8" fill="#19b37a"/>
<rect x="333.6" y="536.2" width="3.8" height="3.8" fill="#19b37a"/>
<line x1="350.1" y1="537.5" x2="350.1" y2="547.6" stroke="#19b37a" stroke-width="0.9" />
<line x1="348.8" y1="537.5" x2="351.4" y2="537.5" stroke="#19b37a" stroke-width="0.9" />
<line x1="348.8" y1="547.6" x2="351.4" y2="547.6" stroke="#19b37a" stroke-width="0.9" />
<rect x="348.2" y="540.6" width="3.8" height="3.8" fill="#19b37a"/>
<rect x="362.8" y="538.2" width="3.8" height="3.8" fill="#19b37a"/>
<rect x="377.4" y="532.4" width="3.8" height="3.8" fill="#19b37a"/>
<rect x="392.1" y="538.4" width="3.8" height="3.8" fill="#19b37a"/>
<polyline points="291.7,487.7 293.2,487.8 294.6,487.9 296.1,488 297.5,488.2 299,488.3 300.5,488.5 301.9,488.7 303.4,489 304.8,489.3 306.3,489.6 307.8,490 309.2,490.5 310.7,491 312.1,491.7 313.6,492.4 315.1,493.3 316.5,494.3 318,495.4 319.4,496.6 320.9,498.1 322.4,499.6 323.8,501.4 325.3,503.2 326.8,505.3 328.2,507.4 329.7,509.7 331.1,512 332.6,514.4 334.1,516.8 335.5,519.2 337,521.5 338.4,523.7 339.9,525.8 341.4,527.8 342.8,529.6 344.3,531.3 345.7,532.8 347.2,534.2 348.7,535.4 350.1,536.4 351.6,537.4 353,538.2 354.5,538.9 356,539.5 357.4,540 358.9,540.5 360.4,540.9 361.8,541.2 363.3,541.5 364.7,541.7 366.2,541.9 367.7,542.1 369.1,542.2 370.6,542.3 372,542.4 373.5,542.5 375,542.6 376.4,542.7 377.9,542.7 379.3,542.8 380.8,542.8 382.3,542.8 383.7,542.9 385.2,542.9 386.6,542.9 388.1,542.9 389.6,542.9 391,542.9 392.5,542.9 394,543" fill="none" stroke="#2020e8" stroke-width="1.15" stroke-linejoin="round" />
<circle cx="291.7" cy="488" r="1.9" fill="#2020e8"/>
<line x1="306.3" y1="478.8" x2="306.3" y2="500.4" stroke="#2020e8" stroke-width="0.9" />
<line x1="305" y1="478.8" x2="307.6" y2="478.8" stroke="#2020e8" stroke-width="0.9" />
<line x1="305" y1="500.4" x2="307.6" y2="500.4" stroke="#2020e8" stroke-width="0.9" />
<circle cx="306.3" cy="489.6" r="1.9" fill="#2020e8"/>
<circle cx="320.9" cy="496.6" r="1.9" fill="#2020e8"/>
<circle cx="335.5" cy="518.9" r="1.9" fill="#2020e8"/>
<circle cx="350.1" cy="540.1" r="1.9" fill="#2020e8"/>
<line x1="364.7" y1="535.2" x2="364.7" y2="544.9" stroke="#2020e8" stroke-width="0.9" />
<line x1="363.4" y1="535.2" x2="366" y2="535.2" stroke="#2020e8" stroke-width="0.9" />
<line x1="363.4" y1="544.9" x2="366" y2="544.9" stroke="#2020e8" stroke-width="0.9" />
<circle cx="364.7" cy="540" r="1.9" fill="#2020e8"/>
<circle cx="379.3" cy="542.7" r="1.9" fill="#2020e8"/>
<line x1="394" y1="532.9" x2="394" y2="553.1" stroke="#2020e8" stroke-width="0.9" />
<line x1="392.7" y1="532.9" x2="395.3" y2="532.9" stroke="#2020e8" stroke-width="0.9" />
<line x1="392.7" y1="553.1" x2="395.3" y2="553.1" stroke="#2020e8" stroke-width="0.9" />
<circle cx="394" cy="543" r="1.9" fill="#2020e8"/>
<polyline points="291.7,462.3 293.2,462.3 294.6,462.3 296.1,462.3 297.5,462.3 299,462.3 300.5,462.3 301.9,462.4 303.4,462.4 304.8,462.4 306.3,462.5 307.8,462.5 309.2,462.6 310.7,462.6 312.1,462.7 313.6,462.8 315.1,462.9 316.5,463 318,463.1 319.4,463.3 320.9,463.4 322.4,463.6 323.8,463.9 325.3,464.1 326.8,464.4 328.2,464.7 329.7,465.1 331.1,465.5 332.6,466 334.1,466.6 335.5,467.2 337,468 338.4,468.8 339.9,469.7 341.4,470.7 342.8,471.9 344.3,473.1 345.7,474.6 347.2,476.1 348.7,477.8 350.1,479.6 351.6,481.6 353,483.7 354.5,485.9 356,488.2 357.4,490.6 358.9,493.1 360.4,495.6 361.8,498.1 363.3,500.7 364.7,503.2 366.2,505.6 367.7,507.9 369.1,510.2 370.6,512.3 372,514.3 373.5,516.2 375,517.9 376.4,519.5 377.9,520.9 379.3,522.2 380.8,523.4 382.3,524.5 383.7,525.4 385.2,526.2 386.6,527 388.1,527.7 389.6,528.2 391,528.7 392.5,529.2 394,529.6" fill="none" stroke="#ee1c24" stroke-width="1.15" stroke-linejoin="round" />
<path d="M289.6,459.1H293.8L291.7,462.7Z" fill="#ee1c24"/>
<path d="M304.2,462.7H308.4L306.3,466.3Z" fill="#ee1c24"/>
<path d="M318.8,462.6H323L320.9,466.2Z" fill="#ee1c24"/>
<line x1="335.5" y1="456.6" x2="335.5" y2="476.9" stroke="#ee1c24" stroke-width="0.9" />
<line x1="334.2" y1="456.6" x2="336.8" y2="456.6" stroke="#ee1c24" stroke-width="0.9" />
<line x1="334.2" y1="476.9" x2="336.8" y2="476.9" stroke="#ee1c24" stroke-width="0.9" />
<path d="M333.4,465.2H337.6L335.5,468.8Z" fill="#ee1c24"/>
<line x1="350.1" y1="469.7" x2="350.1" y2="483.5" stroke="#ee1c24" stroke-width="0.9" />
<line x1="348.8" y1="469.7" x2="351.4" y2="469.7" stroke="#ee1c24" stroke-width="0.9" />
<line x1="348.8" y1="483.5" x2="351.4" y2="483.5" stroke="#ee1c24" stroke-width="0.9" />
<path d="M348,475.1H352.2L350.1,478.7Z" fill="#ee1c24"/>
<line x1="364.7" y1="489.3" x2="364.7" y2="510.9" stroke="#ee1c24" stroke-width="0.9" />
<line x1="363.4" y1="489.3" x2="366" y2="489.3" stroke="#ee1c24" stroke-width="0.9" />
<line x1="363.4" y1="510.9" x2="366" y2="510.9" stroke="#ee1c24" stroke-width="0.9" />
<path d="M362.6,498.6H366.8L364.7,502.2Z" fill="#ee1c24"/>
<line x1="379.3" y1="518.5" x2="379.3" y2="528.9" stroke="#ee1c24" stroke-width="0.9" />
<line x1="378" y1="518.5" x2="380.6" y2="518.5" stroke="#ee1c24" stroke-width="0.9" />
<line x1="378" y1="528.9" x2="380.6" y2="528.9" stroke="#ee1c24" stroke-width="0.9" />
<path d="M377.3,522.2H381.4L379.3,525.8Z" fill="#ee1c24"/>
<path d="M391.9,527.6H396L394,531.2Z" fill="#ee1c24"/>
<polyline points="291.7,461.3 293.2,461.3 294.6,461.3 296.1,461.3 297.5,461.3 299,461.3 300.5,461.3 301.9,461.3 303.4,461.3 304.8,461.3 306.3,461.3 307.8,461.4 309.2,461.4 310.7,461.4 312.1,461.4 313.6,461.4 315.1,461.5 316.5,461.5 318,461.5 319.4,461.6 320.9,461.6 322.4,461.7 323.8,461.8 325.3,461.9 326.8,462 328.2,462.2 329.7,462.4 331.1,462.6 332.6,462.9 334.1,463.2 335.5,463.6 337,464 338.4,464.5 339.9,465.2 341.4,465.9 342.8,466.8 344.3,467.8 345.7,469 347.2,470.4 348.7,472 350.1,473.9 351.6,476 353,478.3 354.5,481 356,483.9 357.4,487 358.9,490.4 360.4,493.9 361.8,497.6 363.3,501.4 364.7,505.2 366.2,508.9 367.7,512.5 369.1,515.9 370.6,519.2 372,522.2 373.5,524.9 375,527.4 376.4,529.6 377.9,531.5 379.3,533.2 380.8,534.7 382.3,536 383.7,537.1 385.2,538 386.6,538.8 388.1,539.5 389.6,540.1 391,540.6 392.5,541 394,541.3" fill="none" stroke="#b33ee6" stroke-width="1.15" stroke-linejoin="round" />
<path d="M289.6,462.7H293.8L291.7,459.1Z" fill="#b33ee6"/>
<line x1="306.3" y1="452.8" x2="306.3" y2="466.8" stroke="#b33ee6" stroke-width="0.9" />
<line x1="305" y1="452.8" x2="307.6" y2="452.8" stroke="#b33ee6" stroke-width="0.9" />
<line x1="305" y1="466.8" x2="307.6" y2="466.8" stroke="#b33ee6" stroke-width="0.9" />
<path d="M304.2,461.3H308.4L306.3,457.7Z" fill="#b33ee6"/>
<path d="M318.8,462.7H323L320.9,459.1Z" fill="#b33ee6"/>
<path d="M333.4,462.4H337.6L335.5,458.8Z" fill="#b33ee6"/>
<path d="M348,476.2H352.2L350.1,472.6Z" fill="#b33ee6"/>
<line x1="364.7" y1="502.6" x2="364.7" y2="517.9" stroke="#b33ee6" stroke-width="0.9" />
<line x1="363.4" y1="502.6" x2="366" y2="502.6" stroke="#b33ee6" stroke-width="0.9" />
<line x1="363.4" y1="517.9" x2="366" y2="517.9" stroke="#b33ee6" stroke-width="0.9" />
<path d="M362.6,511.8H366.8L364.7,508.2Z" fill="#b33ee6"/>
<path d="M377.3,535H381.4L379.3,531.4Z" fill="#b33ee6"/>
<path d="M391.9,542.1H396L394,538.5Z" fill="#b33ee6"/>
<line x1="413.6" y1="452.2" x2="413.6" y2="543.5" stroke="#333" stroke-width="1" />
<line x1="413.1" y1="543" x2="527.6" y2="543" stroke="#333" stroke-width="1" />
<line x1="411.1" y1="543" x2="413.6" y2="543" stroke="#333" stroke-width="1" />
<text x="410.1" y="545.7" font-size="7.8" text-anchor="end" font-weight="normal" fill="#1a1a1a" >0</text>
<line x1="411.1" y1="525" x2="413.6" y2="525" stroke="#333" stroke-width="1" />
<text x="410.1" y="527.7" font-size="7.8" text-anchor="end" font-weight="normal" fill="#1a1a1a" >20</text>
<line x1="411.1" y1="507.1" x2="413.6" y2="507.1" stroke="#333" stroke-width="1" />
<text x="410.1" y="509.8" font-size="7.8" text-anchor="end" font-weight="normal" fill="#1a1a1a" >40</text>
<line x1="411.1" y1="489.1" x2="413.6" y2="489.1" stroke="#333" stroke-width="1" />
<text x="410.1" y="491.8" font-size="7.8" text-anchor="end" font-weight="normal" fill="#1a1a1a" >60</text>
<line x1="411.1" y1="471.2" x2="413.6" y2="471.2" stroke="#333" stroke-width="1" />
<text x="410.1" y="473.9" font-size="7.8" text-anchor="end" font-weight="normal" fill="#1a1a1a" >80</text>
<line x1="411.1" y1="453.2" x2="413.6" y2="453.2" stroke="#333" stroke-width="1" />
<text x="410.1" y="455.9" font-size="7.8" text-anchor="end" font-weight="normal" fill="#1a1a1a" >100</text>
<line x1="413.6" y1="543" x2="413.6" y2="545.5" stroke="#333" stroke-width="1" />
<text x="413.6" y="553.8" font-size="7.5" text-anchor="middle" font-weight="normal" fill="#1a1a1a" >100</text>
<line x1="434.5" y1="543" x2="434.5" y2="545.5" stroke="#333" stroke-width="1" />
<text x="434.5" y="553.8" font-size="7.5" text-anchor="middle" font-weight="normal" fill="#1a1a1a" >10</text>
<line x1="455.4" y1="543" x2="455.4" y2="545.5" stroke="#333" stroke-width="1" />
<text x="455.4" y="553.8" font-size="7.5" text-anchor="middle" font-weight="normal" fill="#1a1a1a" >1</text>
<line x1="476.3" y1="543" x2="476.3" y2="545.5" stroke="#333" stroke-width="1" />
<text x="476.3" y="553.8" font-size="7.5" text-anchor="middle" font-weight="normal" fill="#1a1a1a" >0.1</text>
<line x1="497.2" y1="543" x2="497.2" y2="545.5" stroke="#333" stroke-width="1" />
<text x="497.2" y="553.8" font-size="7.5" text-anchor="middle" font-weight="normal" fill="#1a1a1a" >0.01</text>
<line x1="518.1" y1="543" x2="518.1" y2="545.5" stroke="#333" stroke-width="1" />
<text x="518.1" y="553.8" font-size="7.5" text-anchor="middle" font-weight="normal" fill="#1a1a1a" >0.001</text>
<text x="472.7" y="443.7" font-size="9.9" text-anchor="middle" font-weight="normal" fill="#1a1a1a" >WIV-1</text>
<polyline points="419.9,541.6 421.4,541.6 422.8,541.6 424.3,541.6 425.7,541.6 427.2,541.6 428.7,541.6 430.1,541.6 431.6,541.6 433,541.6 434.5,541.6 436,541.6 437.4,541.6 438.9,541.6 440.3,541.6 441.8,541.6 443.3,541.6 444.7,541.6 446.2,541.6 447.6,541.6 449.1,541.6 450.6,541.6 452,541.6 453.5,541.6 455,541.6 456.4,541.6 457.9,541.6 459.3,541.6 460.8,541.6 462.3,541.6 463.7,541.6 465.2,541.6 466.6,541.6 468.1,541.6 469.6,541.6 471,541.6 472.5,541.6 473.9,541.6 475.4,541.6 476.9,541.6 478.3,541.6 479.8,541.6 481.2,541.6 482.7,541.6 484.2,541.6 485.6,541.6 487.1,541.7 488.6,541.7 490,541.7 491.5,541.7 492.9,541.7 494.4,541.7 495.9,541.7 497.3,541.7 498.8,541.7 500.2,541.7 501.7,541.7 503.2,541.7 504.6,541.7 506.1,541.7 507.5,541.7 509,541.7 510.5,541.7 511.9,541.7 513.4,541.7 514.8,541.7 516.3,541.7 517.8,541.7 519.2,541.7 520.7,541.7 522.2,541.7" fill="none" stroke="#a0702a" stroke-width="1.15" stroke-linejoin="round" />
<line x1="419.9" y1="535.8" x2="419.9" y2="550.2" stroke="#a0702a" stroke-width="0.9" />
<line x1="418.6" y1="535.8" x2="421.2" y2="535.8" stroke="#a0702a" stroke-width="0.9" />
<line x1="418.6" y1="550.2" x2="421.2" y2="550.2" stroke="#a0702a" stroke-width="0.9" />
<path d="M419.9,540.7L421.8,543L419.9,545.3L418,543Z" fill="#a0702a"/>
<path d="M434.5,538L436.4,540.3L434.5,542.6L432.6,540.3Z" fill="#a0702a"/>
<line x1="449.1" y1="529.4" x2="449.1" y2="539.6" stroke="#a0702a" stroke-width="0.9" />
<line x1="447.8" y1="529.4" x2="450.4" y2="529.4" stroke="#a0702a" stroke-width="0.9" />
<line x1="447.8" y1="539.6" x2="450.4" y2="539.6" stroke="#a0702a" stroke-width="0.9" />
<path d="M449.1,532.2L451,534.5L449.1,536.8L447.2,534.5Z" fill="#a0702a"/>
<path d="M463.7,537.7L465.6,540L463.7,542.2L461.8,540Z" fill="#a0702a"/>
<line x1="478.3" y1="535.1" x2="478.3" y2="550.9" stroke="#a0702a" stroke-width="0.9" />
<line x1="477" y1="535.1" x2="479.6" y2="535.1" stroke="#a0702a" stroke-width="0.9" />
<line x1="477" y1="550.9" x2="479.6" y2="550.9" stroke="#a0702a" stroke-width="0.9" />
<path d="M478.3,540.7L480.2,543L478.3,545.3L476.4,543Z" fill="#a0702a"/>
<path d="M492.9,540.7L494.8,543L492.9,545.3L491,543Z" fill="#a0702a"/>
<path d="M507.5,539.6L509.4,541.8L507.5,544.1L505.6,541.8Z" fill="#a0702a"/>
<line x1="522.2" y1="537.5" x2="522.2" y2="548.5" stroke="#a0702a" stroke-width="0.9" />
<line x1="520.9" y1="537.5" x2="523.5" y2="537.5" stroke="#a0702a" stroke-width="0.9" />
<line x1="520.9" y1="548.5" x2="523.5" y2="548.5" stroke="#a0702a" stroke-width="0.9" />
<path d="M522.2,540.7L524.1,543L522.2,545.3L520.3,543Z" fill="#a0702a"/>
<polyline points="419.9,539 421.4,539 422.8,539 424.3,539 425.7,539 427.2,539 428.7,539 430.1,539 431.6,539 433,539 434.5,539 436,539 437.4,539 438.9,539 440.3,539 441.8,539 443.3,539 444.7,539 446.2,539 447.6,539 449.1,539 450.6,539 452,539 453.5,539 455,539 456.4,539 457.9,539 459.3,539 460.8,539 462.3,539 463.7,539 465.2,539 466.6,539 468.1,539 469.6,539 471,539 472.5,539 473.9,539 475.4,539 476.9,539 478.3,539 479.8,539 481.2,539 482.7,539 484.2,539 485.6,539 487.1,539 488.6,539 490,539 491.5,539.1 492.9,539.1 494.4,539.1 495.9,539.1 497.3,539.1 498.8,539.2 500.2,539.2 501.7,539.2 503.2,539.3 504.6,539.3 506.1,539.4 507.5,539.4 509,539.5 510.5,539.5 511.9,539.6 513.4,539.6 514.8,539.7 516.3,539.7 517.8,539.8 519.2,539.8 520.7,539.9 522.2,539.9" fill="none" stroke="#19b37a" stroke-width="1.15" stroke-linejoin="round" />
<line x1="419.9" y1="533.2" x2="419.9" y2="543.5" stroke="#19b37a" stroke-width="0.9" />
<line x1="418.6" y1="533.2" x2="421.2" y2="533.2" stroke="#19b37a" stroke-width="0.9" />
<line x1="418.6" y1="543.5" x2="421.2" y2="543.5" stroke="#19b37a" stroke-width="0.9" />
<rect x="418" y="536.5" width="3.8" height="3.8" fill="#19b37a"/>
<rect x="432.6" y="539.8" width="3.8" height="3.8" fill="#19b37a"/>
<rect x="447.2" y="539.7" width="3.8" height="3.8" fill="#19b37a"/>
<rect x="461.8" y="536.3" width="3.8" height="3.8" fill="#19b37a"/>
<line x1="478.3" y1="537.8" x2="478.3" y2="548.2" stroke="#19b37a" stroke-width="0.9" />
<line x1="477" y1="537.8" x2="479.6" y2="537.8" stroke="#19b37a" stroke-width="0.9" />
<line x1="477" y1="548.2" x2="479.6" y2="548.2" stroke="#19b37a" stroke-width="0.9" />
<rect x="476.4" y="541.1" width="3.8" height="3.8" fill="#19b37a"/>
<rect x="491" y="536.4" width="3.8" height="3.8" fill="#19b37a"/>
<rect x="505.6" y="533.3" width="3.8" height="3.8" fill="#19b37a"/>
<rect x="520.3" y="537.1" width="3.8" height="3.8" fill="#19b37a"/>
<polyline points="419.9,527.3 421.4,527.3 422.8,527.3 424.3,527.3 425.7,527.3 427.2,527.3 428.7,527.3 430.1,527.3 431.6,527.3 433,527.3 434.5,527.3 436,527.3 437.4,527.3 438.9,527.3 440.3,527.3 441.8,527.3 443.3,527.3 444.7,527.3 446.2,527.3 447.6,527.3 449.1,527.3 450.6,527.3 452,527.3 453.5,527.3 455,527.3 456.4,527.3 457.9,527.3 459.3,527.3 460.8,527.3 462.3,527.3 463.7,527.3 465.2,527.3 466.6,527.3 468.1,527.3 469.6,527.4 471,527.4 472.5,527.4 473.9,527.4 475.4,527.4 476.9,527.5 478.3,527.5 479.8,527.5 481.2,527.6 482.7,527.7 484.2,527.7 485.6,527.8 487.1,527.9 488.6,528.1 490,528.2 491.5,528.4 492.9,528.6 494.4,528.9 495.9,529.2 497.3,529.5 498.8,529.9 500.2,530.4 501.7,530.9 503.2,531.4 504.6,532 506.1,532.6 507.5,533.2 509,533.9 510.5,534.6 511.9,535.2 513.4,535.9 514.8,536.5 516.3,537.1 517.8,537.6 519.2,538.1 520.7,538.6 522.2,538.9" fill="none" stroke="#111" stroke-width="1.15" stroke-linejoin="round" />
<circle cx="419.9" cy="527.1" r="1.8" fill="#fff" stroke="#111" stroke-width="1"/>
<circle cx="434.5" cy="525" r="1.8" fill="#fff" stroke="#111" stroke-width="1"/>
<circle cx="449.1" cy="526.5" r="1.8" fill="#fff" stroke="#111" stroke-width="1"/>
<circle cx="463.7" cy="522.8" r="1.8" fill="#fff" stroke="#111" stroke-width="1"/>
<line x1="478.3" y1="514.8" x2="478.3" y2="536.4" stroke="#111" stroke-width="0.9" />
<line x1="477" y1="514.8" x2="479.6" y2="514.8" stroke="#111" stroke-width="0.9" />
<line x1="477" y1="536.4" x2="479.6" y2="536.4" stroke="#111" stroke-width="0.9" />
<circle cx="478.3" cy="525.6" r="1.8" fill="#fff" stroke="#111" stroke-width="1"/>
<line x1="492.9" y1="525.2" x2="492.9" y2="534.3" stroke="#111" stroke-width="0.9" />
<line x1="491.6" y1="525.2" x2="494.2" y2="525.2" stroke="#111" stroke-width="0.9" />
<line x1="491.6" y1="534.3" x2="494.2" y2="534.3" stroke="#111" stroke-width="0.9" />
<circle cx="492.9" cy="529.7" r="1.8" fill="#fff" stroke="#111" stroke-width="1"/>
<circle cx="507.5" cy="533.1" r="1.8" fill="#fff" stroke="#111" stroke-width="1"/>
<circle cx="522.2" cy="541.3" r="1.8" fill="#fff" stroke="#111" stroke-width="1"/>
<polyline points="419.9,477.5 421.4,477.5 422.8,477.5 424.3,477.6 425.7,477.6 427.2,477.6 428.7,477.6 430.1,477.6 431.6,477.7 433,477.7 434.5,477.8 436,477.8 437.4,477.9 438.9,478 440.3,478.1 441.8,478.2 443.3,478.3 444.7,478.4 446.2,478.6 447.6,478.8 449.1,479 450.6,479.3 452,479.6 453.5,480 455,480.4 456.4,480.9 457.9,481.5 459.3,482.2 460.8,482.9 462.3,483.8 463.7,484.8 465.2,485.9 466.6,487.2 468.1,488.6 469.6,490.2 471,492 472.5,493.9 473.9,496 475.4,498.3 476.9,500.7 478.3,503.3 479.8,506 481.2,508.7 482.7,511.5 484.2,514.3 485.6,517.1 487.1,519.9 488.6,522.5 490,525 491.5,527.4 492.9,529.6 494.4,531.7 495.9,533.6 497.3,535.3 498.8,536.8 500.2,538.2 501.7,539.4 503.2,540.5 504.6,541.4 506.1,542.3 507.5,543 509,543 510.5,543 511.9,543 513.4,543 514.8,543 516.3,543 517.8,543 519.2,543 520.7,543 522.2,543" fill="none" stroke="#b33ee6" stroke-width="1.15" stroke-linejoin="round" />
<line x1="419.9" y1="471.3" x2="419.9" y2="480" stroke="#b33ee6" stroke-width="0.9" />
<line x1="418.6" y1="471.3" x2="421.2" y2="471.3" stroke="#b33ee6" stroke-width="0.9" />
<line x1="418.6" y1="480" x2="421.2" y2="480" stroke="#b33ee6" stroke-width="0.9" />
<path d="M417.8,477.2H422L419.9,473.6Z" fill="#b33ee6"/>
<line x1="434.5" y1="474.7" x2="434.5" y2="483.3" stroke="#b33ee6" stroke-width="0.9" />
<line x1="433.2" y1="474.7" x2="435.8" y2="474.7" stroke="#b33ee6" stroke-width="0.9" />
<line x1="433.2" y1="483.3" x2="435.8" y2="483.3" stroke="#b33ee6" stroke-width="0.9" />
<path d="M432.4,480.5H436.6L434.5,476.9Z" fill="#b33ee6"/>
<path d="M447,481.9H451.2L449.1,478.3Z" fill="#b33ee6"/>
<line x1="463.7" y1="482.4" x2="463.7" y2="491" stroke="#b33ee6" stroke-width="0.9" />
<line x1="462.4" y1="482.4" x2="465" y2="482.4" stroke="#b33ee6" stroke-width="0.9" />
<line x1="462.4" y1="491" x2="465" y2="491" stroke="#b33ee6" stroke-width="0.9" />
<path d="M461.6,488.2H465.8L463.7,484.6Z" fill="#b33ee6"/>
<path d="M476.2,499.6H480.4L478.3,496Z" fill="#b33ee6"/>
<line x1="492.9" y1="521" x2="492.9" y2="532.7" stroke="#b33ee6" stroke-width="0.9" />
<line x1="491.6" y1="521" x2="494.2" y2="521" stroke="#b33ee6" stroke-width="0.9" />
<line x1="491.6" y1="532.7" x2="494.2" y2="532.7" stroke="#b33ee6" stroke-width="0.9" />
<path d="M490.8,528.4H495L492.9,524.8Z" fill="#b33ee6"/>
<line x1="507.5" y1="532.2" x2="507.5" y2="553.8" stroke="#b33ee6" stroke-width="0.9" />
<line x1="506.2" y1="532.2" x2="508.8" y2="532.2" stroke="#b33ee6" stroke-width="0.9" />
<line x1="506.2" y1="553.8" x2="508.8" y2="553.8" stroke="#b33ee6" stroke-width="0.9" />
<path d="M505.5,544.5H509.6L507.5,540.9Z" fill="#b33ee6"/>
<path d="M520.1,544.5H524.2L522.2,540.9Z" fill="#b33ee6"/>
<polyline points="419.9,482.9 421.4,482.9 422.8,482.9 424.3,482.9 425.7,482.9 427.2,482.9 428.7,482.9 430.1,483 431.6,483 433,483 434.5,483 436,483.1 437.4,483.1 438.9,483.1 440.3,483.2 441.8,483.2 443.3,483.3 444.7,483.4 446.2,483.5 447.6,483.6 449.1,483.7 450.6,483.8 452,484 453.5,484.2 455,484.4 456.4,484.6 457.9,484.9 459.3,485.2 460.8,485.6 462.3,486 463.7,486.5 465.2,487.1 466.6,487.8 468.1,488.5 469.6,489.3 471,490.3 472.5,491.3 473.9,492.5 475.4,493.8 476.9,495.2 478.3,496.7 479.8,498.4 481.2,500.2 482.7,502.1 484.2,504.1 485.6,506.2 487.1,508.3 488.6,510.5 490,512.7 491.5,514.9 492.9,517 494.4,519.1 495.9,521.1 497.3,523 498.8,524.8 500.2,526.5 501.7,528 503.2,529.4 504.6,530.7 506.1,531.9 507.5,532.9 509,533.8 510.5,534.7 511.9,535.4 513.4,536 514.8,536.6 516.3,537.1 517.8,537.5 519.2,537.9 520.7,538.2 522.2,538.5" fill="none" stroke="#2020e8" stroke-width="1.15" stroke-linejoin="round" />
<circle cx="419.9" cy="486.5" r="1.9" fill="#2020e8"/>
<line x1="434.5" y1="479.9" x2="434.5" y2="489.7" stroke="#2020e8" stroke-width="0.9" />
<line x1="433.2" y1="479.9" x2="435.8" y2="479.9" stroke="#2020e8" stroke-width="0.9" />
<line x1="433.2" y1="489.7" x2="435.8" y2="489.7" stroke="#2020e8" stroke-width="0.9" />
<circle cx="434.5" cy="484.8" r="1.9" fill="#2020e8"/>
<line x1="449.1" y1="474.5" x2="449.1" y2="495.2" stroke="#2020e8" stroke-width="0.9" />
<line x1="447.8" y1="474.5" x2="450.4" y2="474.5" stroke="#2020e8" stroke-width="0.9" />
<line x1="447.8" y1="495.2" x2="450.4" y2="495.2" stroke="#2020e8" stroke-width="0.9" />
<circle cx="449.1" cy="484.9" r="1.9" fill="#2020e8"/>
<circle cx="463.7" cy="489" r="1.9" fill="#2020e8"/>
<circle cx="478.3" cy="501.2" r="1.9" fill="#2020e8"/>
<circle cx="492.9" cy="514.3" r="1.9" fill="#2020e8"/>
<circle cx="507.5" cy="535.8" r="1.9" fill="#2020e8"/>
<circle cx="522.2" cy="536.4" r="1.9" fill="#2020e8"/>
<polyline points="419.9,456.3 421.4,456.3 422.8,456.3 424.3,456.3 425.7,456.3 427.2,456.3 428.7,456.3 430.1,456.3 431.6,456.3 433,456.3 434.5,456.3 436,456.3 437.4,456.3 438.9,456.3 440.3,456.3 441.8,456.3 443.3,456.3 444.7,456.4 446.2,456.4 447.6,456.4 449.1,456.4 450.6,456.4 452,456.4 453.5,456.4 455,456.4 456.4,456.4 457.9,456.4 459.3,456.4 460.8,456.4 462.3,456.4 463.7,456.5 465.2,456.5 466.6,456.5 468.1,456.6 469.6,456.7 471,456.7 472.5,456.8 473.9,456.9 475.4,457.1 476.9,457.3 478.3,457.5 479.8,457.8 481.2,458.1 482.7,458.5 484.2,459 485.6,459.7 487.1,460.4 488.6,461.4 490,462.5 491.5,463.9 492.9,465.5 494.4,467.5 495.9,469.7 497.3,472.4 498.8,475.5 500.2,478.9 501.7,482.8 503.2,486.9 504.6,491.4 506.1,496.1 507.5,500.9 509,505.7 510.5,510.3 511.9,514.8 513.4,518.9 514.8,522.7 516.3,526.1 517.8,529.1 519.2,531.7 520.7,534 522.2,535.9" fill="none" stroke="#ee1c24" stroke-width="1.15" stroke-linejoin="round" />
<line x1="419.9" y1="448.4" x2="419.9" y2="459.8" stroke="#ee1c24" stroke-width="0.9" />
<line x1="418.6" y1="448.4" x2="421.2" y2="448.4" stroke="#ee1c24" stroke-width="0.9" />
<line x1="418.6" y1="459.8" x2="421.2" y2="459.8" stroke="#ee1c24" stroke-width="0.9" />
<path d="M417.8,452.6H422L419.9,456.2Z" fill="#ee1c24"/>
<path d="M432.4,450.8H436.6L434.5,454.4Z" fill="#ee1c24"/>
<line x1="449.1" y1="453.5" x2="449.1" y2="468.7" stroke="#ee1c24" stroke-width="0.9" />
<line x1="447.8" y1="453.5" x2="450.4" y2="453.5" stroke="#ee1c24" stroke-width="0.9" />
<line x1="447.8" y1="468.7" x2="450.4" y2="468.7" stroke="#ee1c24" stroke-width="0.9" />
<path d="M447,459.6H451.2L449.1,463.2Z" fill="#ee1c24"/>
<path d="M461.6,456H465.8L463.7,459.6Z" fill="#ee1c24"/>
<path d="M476.2,460.4H480.4L478.3,464Z" fill="#ee1c24"/>
<path d="M490.8,468.1H495L492.9,471.7Z" fill="#ee1c24"/>
<path d="M505.5,499.9H509.6L507.5,503.5Z" fill="#ee1c24"/>
<line x1="522.2" y1="532.2" x2="522.2" y2="541.3" stroke="#ee1c24" stroke-width="0.9" />
<line x1="520.9" y1="532.2" x2="523.5" y2="532.2" stroke="#ee1c24" stroke-width="0.9" />
<line x1="520.9" y1="541.3" x2="523.5" y2="541.3" stroke="#ee1c24" stroke-width="0.9" />
<path d="M520.1,535.2H524.2L522.2,538.8Z" fill="#ee1c24"/>
<line x1="541.1" y1="452.2" x2="541.1" y2="543.5" stroke="#333" stroke-width="1" />
<line x1="540.6" y1="543" x2="655.1" y2="543" stroke="#333" stroke-width="1" />
<line x1="538.6" y1="543" x2="541.1" y2="543" stroke="#333" stroke-width="1" />
<text x="537.6" y="545.7" font-size="7.8" text-anchor="end" font-weight="normal" fill="#1a1a1a" >0</text>
<line x1="538.6" y1="525" x2="541.1" y2="525" stroke="#333" stroke-width="1" />
<text x="537.6" y="527.7" font-size="7.8" text-anchor="end" font-weight="normal" fill="#1a1a1a" >20</text>
<line x1="538.6" y1="507.1" x2="541.1" y2="507.1" stroke="#333" stroke-width="1" />
<text x="537.6" y="509.8" font-size="7.8" text-anchor="end" font-weight="normal" fill="#1a1a1a" >40</text>
<line x1="538.6" y1="489.1" x2="541.1" y2="489.1" stroke="#333" stroke-width="1" />
<text x="537.6" y="491.8" font-size="7.8" text-anchor="end" font-weight="normal" fill="#1a1a1a" >60</text>
<line x1="538.6" y1="471.2" x2="541.1" y2="471.2" stroke="#333" stroke-width="1" />
<text x="537.6" y="473.9" font-size="7.8" text-anchor="end" font-weight="normal" fill="#1a1a1a" >80</text>
<line x1="538.6" y1="453.2" x2="541.1" y2="453.2" stroke="#333" stroke-width="1" />
<text x="537.6" y="455.9" font-size="7.8" text-anchor="end" font-weight="normal" fill="#1a1a1a" >100</text>
<line x1="541.1" y1="543" x2="541.1" y2="545.5" stroke="#333" stroke-width="1" />
<text x="541.1" y="553.8" font-size="7.5" text-anchor="middle" font-weight="normal" fill="#1a1a1a" >100</text>
<line x1="562" y1="543" x2="562" y2="545.5" stroke="#333" stroke-width="1" />
<text x="562" y="553.8" font-size="7.5" text-anchor="middle" font-weight="normal" fill="#1a1a1a" >10</text>
<line x1="582.9" y1="543" x2="582.9" y2="545.5" stroke="#333" stroke-width="1" />
<text x="582.9" y="553.8" font-size="7.5" text-anchor="middle" font-weight="normal" fill="#1a1a1a" >1</text>
<line x1="603.8" y1="543" x2="603.8" y2="545.5" stroke="#333" stroke-width="1" />
<text x="603.8" y="553.8" font-size="7.5" text-anchor="middle" font-weight="normal" fill="#1a1a1a" >0.1</text>
<line x1="624.7" y1="543" x2="624.7" y2="545.5" stroke="#333" stroke-width="1" />
<text x="624.7" y="553.8" font-size="7.5" text-anchor="middle" font-weight="normal" fill="#1a1a1a" >0.01</text>
<line x1="645.6" y1="543" x2="645.6" y2="545.5" stroke="#333" stroke-width="1" />
<text x="645.6" y="553.8" font-size="7.5" text-anchor="middle" font-weight="normal" fill="#1a1a1a" >0.001</text>
<text x="599.7" y="443.7" font-size="9.9" text-anchor="middle" font-weight="normal" fill="#1a1a1a" >Rs3367</text>
<polyline points="547.4,538.4 548.9,538.4 550.3,538.4 551.8,538.3 553.2,538.3 554.7,538.3 556.2,538.3 557.6,538.2 559.1,538.2 560.5,538.1 562,538.1 563.5,538 564.9,538 566.4,537.9 567.8,537.8 569.3,537.8 570.8,537.7 572.2,537.6 573.7,537.6 575.1,537.5 576.6,537.4 578.1,537.3 579.5,537.3 581,537.2 582.5,537.2 583.9,537.1 585.4,537.1 586.8,537 588.3,537 589.8,536.9 591.2,536.9 592.7,536.9 594.1,536.9 595.6,536.8 597.1,536.8 598.5,536.8 600,536.8 601.4,536.8 602.9,536.8 604.4,536.8 605.8,536.8 607.3,536.8 608.7,536.7 610.2,536.7 611.7,536.7 613.1,536.7 614.6,536.7 616.1,536.7 617.5,536.7 619,536.7 620.4,536.7 621.9,536.7 623.4,536.7 624.8,536.7 626.3,536.7 627.7,536.7 629.2,536.7 630.7,536.7 632.1,536.7 633.6,536.7 635,536.7 636.5,536.7 638,536.7 639.4,536.7 640.9,536.7 642.3,536.7 643.8,536.7 645.3,536.7 646.7,536.7 648.2,536.7 649.7,536.7" fill="none" stroke="#b33ee6" stroke-width="1.15" stroke-linejoin="round" />
<path d="M545.3,541.7H549.5L547.4,538.1Z" fill="#b33ee6"/>
<line x1="562" y1="534" x2="562" y2="547.5" stroke="#b33ee6" stroke-width="0.9" />
<line x1="560.7" y1="534" x2="563.3" y2="534" stroke="#b33ee6" stroke-width="0.9" />
<line x1="560.7" y1="547.5" x2="563.3" y2="547.5" stroke="#b33ee6" stroke-width="0.9" />
<path d="M559.9,542.3H564.1L562,538.6Z" fill="#b33ee6"/>
<path d="M574.5,540H578.7L576.6,536.4Z" fill="#b33ee6"/>
<path d="M589.1,538H593.3L591.2,534.4Z" fill="#b33ee6"/>
<path d="M603.7,539.2H607.9L605.8,535.6Z" fill="#b33ee6"/>
<path d="M618.3,536.5H622.5L620.4,532.9Z" fill="#b33ee6"/>
<path d="M633,538.3H637.1L635,534.7Z" fill="#b33ee6"/>
<path d="M647.6,543.1H651.7L649.7,539.5Z" fill="#b33ee6"/>
<polyline points="547.4,529.1 548.9,529.1 550.3,529.1 551.8,529.1 553.2,529.1 554.7,529.1 556.2,529.1 557.6,529.1 559.1,529.1 560.5,529.2 562,529.2 563.5,529.2 564.9,529.2 566.4,529.2 567.8,529.2 569.3,529.3 570.8,529.3 572.2,529.3 573.7,529.4 575.1,529.4 576.6,529.5 578.1,529.6 579.5,529.7 581,529.8 582.5,529.9 583.9,530 585.4,530.2 586.8,530.3 588.3,530.5 589.8,530.7 591.2,531 592.7,531.2 594.1,531.5 595.6,531.9 597.1,532.2 598.5,532.6 600,533.1 601.4,533.5 602.9,534 604.4,534.5 605.8,535 607.3,535.5 608.7,536 610.2,536.5 611.7,537 613.1,537.4 614.6,537.9 616.1,538.3 617.5,538.7 619,539 620.4,539.3 621.9,539.6 623.4,539.9 624.8,540.1 626.3,540.3 627.7,540.5 629.2,540.7 630.7,540.8 632.1,540.9 633.6,541 635,541.1 636.5,541.2 638,541.3 639.4,541.3 640.9,541.4 642.3,541.4 643.8,541.4 645.3,541.5 646.7,541.5 648.2,541.5 649.7,541.5" fill="none" stroke="#a0702a" stroke-width="1.15" stroke-linejoin="round" />
<path d="M547.4,530.4L549.3,532.7L547.4,535L545.5,532.7Z" fill="#a0702a"/>
<line x1="562" y1="520.4" x2="562" y2="533.9" stroke="#a0702a" stroke-width="0.9" />
<line x1="560.7" y1="520.4" x2="563.3" y2="520.4" stroke="#a0702a" stroke-width="0.9" />
<line x1="560.7" y1="533.9" x2="563.3" y2="533.9" stroke="#a0702a" stroke-width="0.9" />
<path d="M562,524.9L563.9,527.1L562,529.4L560.1,527.1Z" fill="#a0702a"/>
<path d="M576.6,525.2L578.5,527.4L576.6,529.7L574.7,527.4Z" fill="#a0702a"/>
<path d="M591.2,529.2L593.1,531.4L591.2,533.7L589.3,531.4Z" fill="#a0702a"/>
<path d="M605.8,531.1L607.7,533.4L605.8,535.7L603.9,533.4Z" fill="#a0702a"/>
<path d="M620.4,540.7L622.3,543L620.4,545.3L618.5,543Z" fill="#a0702a"/>
<path d="M635,539.2L636.9,541.4L635,543.7L633.1,541.4Z" fill="#a0702a"/>
<line x1="649.7" y1="535.3" x2="649.7" y2="545.1" stroke="#a0702a" stroke-width="0.9" />
<line x1="648.4" y1="535.3" x2="651" y2="535.3" stroke="#a0702a" stroke-width="0.9" />
<line x1="648.4" y1="545.1" x2="651" y2="545.1" stroke="#a0702a" stroke-width="0.9" />
<path d="M649.7,537.9L651.6,540.2L649.7,542.5L647.8,540.2Z" fill="#a0702a"/>
<polyline points="547.4,522.8 548.9,522.8 550.3,522.8 551.8,522.8 553.2,522.8 554.7,522.8 556.2,522.8 557.6,522.8 559.1,522.8 560.5,522.9 562,522.9 563.5,522.9 564.9,522.9 566.4,522.9 567.8,523 569.3,523 570.8,523 572.2,523.1 573.7,523.1 575.1,523.2 576.6,523.3 578.1,523.4 579.5,523.5 581,523.7 582.5,523.9 583.9,524.1 585.4,524.3 586.8,524.6 588.3,524.9 589.8,525.3 591.2,525.8 592.7,526.3 594.1,526.9 595.6,527.5 597.1,528.2 598.5,529 600,529.8 601.4,530.6 602.9,531.5 604.4,532.4 605.8,533.2 607.3,534 608.7,534.8 610.2,535.6 611.7,536.3 613.1,536.9 614.6,537.4 616.1,537.9 617.5,538.4 619,538.7 620.4,539 621.9,539.3 623.4,539.6 624.8,539.8 626.3,539.9 627.7,540.1 629.2,540.2 630.7,540.3 632.1,540.4 633.6,540.4 635,540.5 636.5,540.5 638,540.6 639.4,540.6 640.9,540.6 642.3,540.7 643.8,540.7 645.3,540.7 646.7,540.7 648.2,540.7 649.7,540.7" fill="none" stroke="#111" stroke-width="1.15" stroke-linejoin="round" />
<circle cx="547.4" cy="522.3" r="1.8" fill="#fff" stroke="#111" stroke-width="1"/>
<circle cx="562" cy="523" r="1.8" fill="#fff" stroke="#111" stroke-width="1"/>
<circle cx="576.6" cy="522.6" r="1.8" fill="#fff" stroke="#111" stroke-width="1"/>
<circle cx="591.2" cy="526.1" r="1.8" fill="#fff" stroke="#111" stroke-width="1"/>
<circle cx="605.8" cy="535.6" r="1.8" fill="#fff" stroke="#111" stroke-width="1"/>
<line x1="620.4" y1="537" x2="620.4" y2="545.6" stroke="#111" stroke-width="0.9" />
<line x1="619.1" y1="537" x2="621.7" y2="537" stroke="#111" stroke-width="0.9" />
<line x1="619.1" y1="545.6" x2="621.7" y2="545.6" stroke="#111" stroke-width="0.9" />
<circle cx="620.4" cy="541.3" r="1.8" fill="#fff" stroke="#111" stroke-width="1"/>
<circle cx="635" cy="541.4" r="1.8" fill="#fff" stroke="#111" stroke-width="1"/>
<circle cx="649.7" cy="537.3" r="1.8" fill="#fff" stroke="#111" stroke-width="1"/>
<polyline points="547.4,512.9 548.9,512.9 550.3,512.9 551.8,512.9 553.2,512.9 554.7,512.9 556.2,513 557.6,513 559.1,513 560.5,513 562,513 563.5,513 564.9,513 566.4,513.1 567.8,513.1 569.3,513.1 570.8,513.2 572.2,513.2 573.7,513.3 575.1,513.4 576.6,513.5 578.1,513.6 579.5,513.8 581,514 582.5,514.2 583.9,514.5 585.4,514.8 586.8,515.2 588.3,515.6 589.8,516.2 591.2,516.8 592.7,517.5 594.1,518.2 595.6,519.1 597.1,520.1 598.5,521.1 600,522.2 601.4,523.4 602.9,524.6 604.4,525.8 605.8,527 607.3,528.1 608.7,529.2 610.2,530.2 611.7,531.1 613.1,531.9 614.6,532.6 616.1,533.3 617.5,533.8 619,534.3 620.4,534.7 621.9,535 623.4,535.3 624.8,535.6 626.3,535.8 627.7,535.9 629.2,536.1 630.7,536.2 632.1,536.3 633.6,536.4 635,536.4 636.5,536.5 638,536.5 639.4,536.6 640.9,536.6 642.3,536.6 643.8,536.6 645.3,536.6 646.7,536.7 648.2,536.7 649.7,536.7" fill="none" stroke="#19b37a" stroke-width="1.15" stroke-linejoin="round" />
<rect x="545.5" y="508.9" width="3.8" height="3.8" fill="#19b37a"/>
<line x1="562" y1="502.1" x2="562" y2="523.6" stroke="#19b37a" stroke-width="0.9" />
<line x1="560.7" y1="502.1" x2="563.3" y2="502.1" stroke="#19b37a" stroke-width="0.9" />
<line x1="560.7" y1="523.6" x2="563.3" y2="523.6" stroke="#19b37a" stroke-width="0.9" />
<rect x="560.1" y="510.9" width="3.8" height="3.8" fill="#19b37a"/>
<rect x="574.7" y="511.3" width="3.8" height="3.8" fill="#19b37a"/>
<rect x="589.3" y="517.2" width="3.8" height="3.8" fill="#19b37a"/>
<line x1="605.8" y1="519" x2="605.8" y2="528.3" stroke="#19b37a" stroke-width="0.9" />
<line x1="604.5" y1="519" x2="607.1" y2="519" stroke="#19b37a" stroke-width="0.9" />
<line x1="604.5" y1="528.3" x2="607.1" y2="528.3" stroke="#19b37a" stroke-width="0.9" />
<rect x="603.9" y="521.8" width="3.8" height="3.8" fill="#19b37a"/>
<rect x="618.5" y="533.9" width="3.8" height="3.8" fill="#19b37a"/>
<line x1="635" y1="536.3" x2="635" y2="544.6" stroke="#19b37a" stroke-width="0.9" />
<line x1="633.7" y1="536.3" x2="636.3" y2="536.3" stroke="#19b37a" stroke-width="0.9" />
<line x1="633.7" y1="544.6" x2="636.3" y2="544.6" stroke="#19b37a" stroke-width="0.9" />
<rect x="633.1" y="538.6" width="3.8" height="3.8" fill="#19b37a"/>
<rect x="647.8" y="534.1" width="3.8" height="3.8" fill="#19b37a"/>
<polyline points="547.4,489.1 548.9,489.2 550.3,489.4 551.8,489.5 553.2,489.7 554.7,489.9 556.2,490.2 557.6,490.5 559.1,490.8 560.5,491.2 562,491.7 563.5,492.2 564.9,492.7 566.4,493.4 567.8,494.1 569.3,494.9 570.8,495.8 572.2,496.8 573.7,497.9 575.1,499.1 576.6,500.5 578.1,501.9 579.5,503.5 581,505.1 582.5,506.9 583.9,508.8 585.4,510.7 586.8,512.7 588.3,514.7 589.8,516.7 591.2,518.8 592.7,520.8 594.1,522.8 595.6,524.7 597.1,526.5 598.5,528.3 600,529.9 601.4,531.5 602.9,532.9 604.4,534.2 605.8,535.4 607.3,536.5 608.7,537.4 610.2,538.3 611.7,539.1 613.1,539.8 614.6,540.4 616.1,541 617.5,541.5 619,541.9 620.4,542.3 621.9,542.6 623.4,542.9 624.8,543 626.3,543 627.7,543 629.2,543 630.7,543 632.1,543 633.6,543 635,543 636.5,543 638,543 639.4,543 640.9,543 642.3,543 643.8,543 645.3,543 646.7,543 648.2,543 649.7,543" fill="none" stroke="#2020e8" stroke-width="1.15" stroke-linejoin="round" />
<circle cx="547.4" cy="486.3" r="1.9" fill="#2020e8"/>
<circle cx="562" cy="486.5" r="1.9" fill="#2020e8"/>
<circle cx="576.6" cy="503.4" r="1.9" fill="#2020e8"/>
<circle cx="591.2" cy="517.4" r="1.9" fill="#2020e8"/>
<circle cx="605.8" cy="539.7" r="1.9" fill="#2020e8"/>
<circle cx="620.4" cy="543" r="1.9" fill="#2020e8"/>
<circle cx="635" cy="540.9" r="1.9" fill="#2020e8"/>
<circle cx="649.7" cy="543" r="1.9" fill="#2020e8"/>
<polyline points="547.4,453.7 548.9,453.7 550.3,453.7 551.8,453.7 553.2,453.7 554.7,453.7 556.2,453.7 557.6,453.7 559.1,453.7 560.5,453.7 562,453.7 563.5,453.7 564.9,453.7 566.4,453.7 567.8,453.7 569.3,453.7 570.8,453.7 572.2,453.7 573.7,453.7 575.1,453.7 576.6,453.7 578.1,453.7 579.5,453.7 581,453.8 582.5,453.8 583.9,453.8 585.4,453.8 586.8,453.9 588.3,453.9 589.8,453.9 591.2,454 592.7,454.1 594.1,454.1 595.6,454.2 597.1,454.3 598.5,454.4 600,454.6 601.4,454.8 602.9,455 604.4,455.2 605.8,455.5 607.3,455.8 608.7,456.2 610.2,456.6 611.7,457.2 613.1,457.8 614.6,458.5 616.1,459.3 617.5,460.3 619,461.4 620.4,462.8 621.9,464.2 623.4,466 624.8,467.9 626.3,470.1 627.7,472.5 629.2,475.2 630.7,478.2 632.1,481.5 633.6,484.9 635,488.7 636.5,492.6 638,496.6 639.4,500.7 640.9,504.9 642.3,509 643.8,513 645.3,516.9 646.7,520.6 648.2,524.1 649.7,527.4" fill="none" stroke="#ee1c24" stroke-width="1.15" stroke-linejoin="round" />
<line x1="547.4" y1="446.8" x2="547.4" y2="463.4" stroke="#ee1c24" stroke-width="0.9" />
<line x1="546.1" y1="446.8" x2="548.7" y2="446.8" stroke="#ee1c24" stroke-width="0.9" />
<line x1="546.1" y1="463.4" x2="548.7" y2="463.4" stroke="#ee1c24" stroke-width="0.9" />
<path d="M545.3,453.6H549.5L547.4,457.2Z" fill="#ee1c24"/>
<path d="M559.9,450.8H564.1L562,454.4Z" fill="#ee1c24"/>
<path d="M574.5,453.7H578.7L576.6,457.3Z" fill="#ee1c24"/>
<line x1="591.2" y1="444.6" x2="591.2" y2="462.2" stroke="#ee1c24" stroke-width="0.9" />
<line x1="589.9" y1="444.6" x2="592.5" y2="444.6" stroke="#ee1c24" stroke-width="0.9" />
<line x1="589.9" y1="462.2" x2="592.5" y2="462.2" stroke="#ee1c24" stroke-width="0.9" />
<path d="M589.1,451.9H593.3L591.2,455.5Z" fill="#ee1c24"/>
<line x1="605.8" y1="448" x2="605.8" y2="458.3" stroke="#ee1c24" stroke-width="0.9" />
<line x1="604.5" y1="448" x2="607.1" y2="448" stroke="#ee1c24" stroke-width="0.9" />
<line x1="604.5" y1="458.3" x2="607.1" y2="458.3" stroke="#ee1c24" stroke-width="0.9" />
<path d="M603.7,451.6H607.9L605.8,455.3Z" fill="#ee1c24"/>
<path d="M618.3,461H622.5L620.4,464.6Z" fill="#ee1c24"/>
<path d="M633,488.9H637.1L635,492.5Z" fill="#ee1c24"/>
<line x1="649.7" y1="518.1" x2="649.7" y2="533.5" stroke="#ee1c24" stroke-width="0.9" />
<line x1="648.4" y1="518.1" x2="651" y2="518.1" stroke="#ee1c24" stroke-width="0.9" />
<line x1="648.4" y1="533.5" x2="651" y2="533.5" stroke="#ee1c24" stroke-width="0.9" />
<path d="M647.6,524.3H651.7L649.7,527.9Z" fill="#ee1c24"/>
<line x1="635.3" y1="318.4" x2="646.5" y2="318.4" stroke="#ee1c24" stroke-width="1.4" />
<path d="M638.4,316.6H643.4L640.9,320.9Z" fill="#ee1c24"/>
<text x="653" y="321.1" font-size="7.6" text-anchor="start" font-weight="normal" fill="#222" letter-spacing="1.0">GW01</text>
<line x1="635.3" y1="329.3" x2="646.5" y2="329.3" stroke="#b33ee6" stroke-width="1.4" />
<path d="M638.4,331.2H643.4L640.9,326.8Z" fill="#b33ee6"/>
<text x="653" y="332" font-size="7.6" text-anchor="start" font-weight="normal" fill="#222" letter-spacing="1.0">S309</text>
<line x1="635.3" y1="340.3" x2="646.5" y2="340.3" stroke="#2020e8" stroke-width="1.4" />
<circle cx="640.9" cy="340.3" r="2.3" fill="#2020e8"/>
<text x="653" y="343" font-size="7.6" text-anchor="start" font-weight="normal" fill="#222" letter-spacing="1.0">6I18</text>
<line x1="635.3" y1="351.2" x2="646.5" y2="351.2" stroke="#19b37a" stroke-width="1.4" />
<rect x="638.6" y="348.9" width="4.6" height="4.6" fill="#19b37a"/>
<text x="653" y="353.9" font-size="7.6" text-anchor="start" font-weight="normal" fill="#222" letter-spacing="1.0">3D13</text>
<line x1="635.3" y1="362.2" x2="646.5" y2="362.2" stroke="#111" stroke-width="1.4" />
<circle cx="640.9" cy="362.2" r="2.2" fill="#fff" stroke="#111" stroke-width="1"/>
<text x="653" y="364.9" font-size="7.6" text-anchor="start" font-weight="normal" fill="#222" letter-spacing="1.0">10C2</text>
<line x1="635.3" y1="373.1" x2="646.5" y2="373.1" stroke="#a0702a" stroke-width="1.4" />
<path d="M640.9,370.4L643.2,373.1L640.9,375.9L638.6,373.1Z" fill="#a0702a"/>
<text x="653" y="375.8" font-size="7.6" text-anchor="start" font-weight="normal" fill="#222" letter-spacing="1.0">22H22</text>
<text transform="translate(10.6,372.3) rotate(-90)" font-size="9.9" text-anchor="middle" fill="#1a1a1a">Neutralization (%)</text>
<text transform="translate(10.4,493.5) rotate(-90)" font-size="9.9" text-anchor="middle" fill="#1a1a1a">Neutralization (%)</text>
<text x="347" y="566" font-size="9.9" text-anchor="middle" font-weight="normal" fill="#1a1a1a" >Antibody concentration (µg/mL)</text>
<rect x="127" y="596.7" width="42" height="11" fill="#ff0000" shape-rendering="crispEdges"/>
<rect x="168.7" y="596.7" width="35.5" height="11" fill="#ff0000" shape-rendering="crispEdges"/>
<rect x="203.9" y="596.7" width="35.5" height="11" fill="#ff0000" shape-rendering="crispEdges"/>
<rect x="239.1" y="596.7" width="35.6" height="11" fill="#ff0000" shape-rendering="crispEdges"/>
<rect x="274.4" y="596.7" width="35.6" height="11" fill="#ff0000" shape-rendering="crispEdges"/>
<rect x="309.7" y="596.7" width="35.4" height="11" fill="#ff0000" shape-rendering="crispEdges"/>
<rect x="127" y="607.4" width="42" height="11" fill="#ff0000" shape-rendering="crispEdges"/>
<rect x="168.7" y="607.4" width="35.5" height="11" fill="#ff0000" shape-rendering="crispEdges"/>
<rect x="203.9" y="607.4" width="35.5" height="11" fill="#ffff00" shape-rendering="crispEdges"/>
<rect x="239.1" y="607.4" width="35.6" height="11" fill="#ff0000" shape-rendering="crispEdges"/>
<rect x="274.4" y="607.4" width="35.6" height="11" fill="#ff0000" shape-rendering="crispEdges"/>
<rect x="309.7" y="607.4" width="35.4" height="11" fill="#ffc000" shape-rendering="crispEdges"/>
<rect x="127" y="618.1" width="42" height="11" fill="#ff0000" shape-rendering="crispEdges"/>
<rect x="168.7" y="618.1" width="35.5" height="11" fill="#ff0000" shape-rendering="crispEdges"/>
<rect x="203.9" y="618.1" width="35.5" height="11" fill="#ffff00" shape-rendering="crispEdges"/>
<rect x="239.1" y="618.1" width="35.6" height="11" fill="#ff0000" shape-rendering="crispEdges"/>
<rect x="274.4" y="618.1" width="35.6" height="11" fill="#ffff00" shape-rendering="crispEdges"/>
<rect x="309.7" y="618.1" width="35.4" height="11" fill="#70ad47" shape-rendering="crispEdges"/>
<rect x="127" y="628.9" width="42" height="11" fill="#ff0000" shape-rendering="crispEdges"/>
<rect x="168.7" y="628.9" width="35.5" height="11" fill="#ff0000" shape-rendering="crispEdges"/>
<rect x="203.9" y="628.9" width="35.5" height="11" fill="#ff0000" shape-rendering="crispEdges"/>
<rect x="239.1" y="628.9" width="35.6" height="11" fill="#ff0000" shape-rendering="crispEdges"/>
<rect x="274.4" y="628.9" width="35.6" height="11" fill="#ff0000" shape-rendering="crispEdges"/>
<rect x="309.7" y="628.9" width="35.4" height="11" fill="#ff0000" shape-rendering="crispEdges"/>
<rect x="127" y="639.6" width="42" height="11" fill="#ff0000" shape-rendering="crispEdges"/>
<rect x="168.7" y="639.6" width="35.5" height="11" fill="#ff0000" shape-rendering="crispEdges"/>
<rect x="203.9" y="639.6" width="35.5" height="11" fill="#70ad47" shape-rendering="crispEdges"/>
<rect x="239.1" y="639.6" width="35.6" height="11" fill="#ff0000" shape-rendering="crispEdges"/>
<rect x="274.4" y="639.6" width="35.6" height="11" fill="#ff0000" shape-rendering="crispEdges"/>
<rect x="309.7" y="639.6" width="35.4" height="11" fill="#ffc000" shape-rendering="crispEdges"/>
<rect x="127" y="650.3" width="42" height="11" fill="#ff0000" shape-rendering="crispEdges"/>
<rect x="168.7" y="650.3" width="35.5" height="11" fill="#ff0000" shape-rendering="crispEdges"/>
<rect x="203.9" y="650.3" width="35.5" height="11" fill="#ffc000" shape-rendering="crispEdges"/>
<rect x="239.1" y="650.3" width="35.6" height="11" fill="#c00000" shape-rendering="crispEdges"/>
<rect x="274.4" y="650.3" width="35.6" height="11" fill="#ff0000" shape-rendering="crispEdges"/>
<rect x="309.7" y="650.3" width="35.4" height="11" fill="#ff0000" shape-rendering="crispEdges"/>
<rect x="168.7" y="661" width="35.5" height="11" fill="#ffc000" shape-rendering="crispEdges"/>
<rect x="203.9" y="661" width="35.5" height="11" fill="#70ad47" shape-rendering="crispEdges"/>
<rect x="239.1" y="661" width="35.6" height="11" fill="#ffff00" shape-rendering="crispEdges"/>
<rect x="274.4" y="661" width="35.6" height="11" fill="#ffff00" shape-rendering="crispEdges"/>
<rect x="127" y="673.1" width="42" height="11" fill="#ff0000" shape-rendering="crispEdges"/>
<rect x="168.7" y="673.1" width="35.5" height="11" fill="#ff0000" shape-rendering="crispEdges"/>
<rect x="203.9" y="673.1" width="35.5" height="11" fill="#ffff00" shape-rendering="crispEdges"/>
<rect x="127" y="683.8" width="42" height="11" fill="#c00000" shape-rendering="crispEdges"/>
<rect x="168.7" y="683.8" width="35.5" height="11" fill="#ffc000" shape-rendering="crispEdges"/>
<rect x="203.9" y="683.8" width="35.5" height="11" fill="#ff0000" shape-rendering="crispEdges"/>
<rect x="127" y="694.4" width="42" height="11" fill="#c00000" shape-rendering="crispEdges"/>
<rect x="203.9" y="694.4" width="35.5" height="11" fill="#ffff00" shape-rendering="crispEdges"/>
<text x="84.6" y="605.5" font-size="9.4" text-anchor="middle" font-weight="normal" fill="#222" >WT</text>
<text x="147.8" y="605" font-size="8.0" text-anchor="middle" font-weight="normal" fill="#1a0000" >0.0254</text>
<text x="186.3" y="605" font-size="8.0" text-anchor="middle" font-weight="normal" fill="#1a0000" >0.0222</text>
<text x="221.5" y="605" font-size="8.0" text-anchor="middle" font-weight="normal" fill="#1a0000" >0.0966</text>
<text x="256.8" y="605" font-size="8.0" text-anchor="middle" font-weight="normal" fill="#1a0000" >0.0143</text>
<text x="292" y="605" font-size="8.0" text-anchor="middle" font-weight="normal" fill="#1a0000" >0.0189</text>
<text x="327.2" y="605" font-size="8.0" text-anchor="middle" font-weight="normal" fill="#1a0000" >0.0724</text>
<text x="84.6" y="616.2" font-size="9.4" text-anchor="middle" font-weight="normal" fill="#222" >B.1.1.7</text>
<text x="147.8" y="615.7" font-size="8.0" text-anchor="middle" font-weight="normal" fill="#1a0000" >0.0174</text>
<text x="186.3" y="615.7" font-size="8.0" text-anchor="middle" font-weight="normal" fill="#1a0000" >0.0383</text>
<text x="221.5" y="615.7" font-size="8.0" text-anchor="middle" font-weight="normal" fill="#111" >3.571</text>
<text x="256.8" y="615.7" font-size="8.0" text-anchor="middle" font-weight="normal" fill="#1a0000" >0.0118</text>
<text x="292" y="615.7" font-size="8.0" text-anchor="middle" font-weight="normal" fill="#1a0000" >0.0124</text>
<text x="327.2" y="615.7" font-size="8.0" text-anchor="middle" font-weight="normal" fill="#111" >0.120</text>
<text x="84.6" y="626.9" font-size="9.4" text-anchor="middle" font-weight="normal" fill="#222" >B.1.351</text>
<text x="147.8" y="626.4" font-size="8.0" text-anchor="middle" font-weight="normal" fill="#1a0000" >0.0489</text>
<text x="186.3" y="626.4" font-size="8.0" text-anchor="middle" font-weight="normal" fill="#1a0000" >0.0332</text>
<text x="221.5" y="626.4" font-size="8.0" text-anchor="middle" font-weight="normal" fill="#111" >1.484</text>
<text x="256.8" y="626.4" font-size="8.0" text-anchor="middle" font-weight="normal" fill="#1a0000" >0.0243</text>
<text x="292" y="626.4" font-size="8.0" text-anchor="middle" font-weight="normal" fill="#111" >7.129</text>
<text x="327.2" y="626.4" font-size="8.0" text-anchor="middle" font-weight="normal" fill="#111" >35.8</text>
<text x="84.6" y="637.6" font-size="9.4" text-anchor="middle" font-weight="normal" fill="#222" >B.1.617.1</text>
<text x="147.8" y="637.1" font-size="8.0" text-anchor="middle" font-weight="normal" fill="#1a0000" >0.0228</text>
<text x="186.3" y="637.1" font-size="8.0" text-anchor="middle" font-weight="normal" fill="#1a0000" >0.0278</text>
<text x="221.5" y="637.1" font-size="8.0" text-anchor="middle" font-weight="normal" fill="#1a0000" >0.0460</text>
<text x="256.8" y="637.1" font-size="8.0" text-anchor="middle" font-weight="normal" fill="#1a0000" >0.0430</text>
<text x="292" y="637.1" font-size="8.0" text-anchor="middle" font-weight="normal" fill="#1a0000" >0.0123</text>
<text x="327.2" y="637.1" font-size="8.0" text-anchor="middle" font-weight="normal" fill="#1a0000" >0.0186</text>
<text x="84.6" y="648.3" font-size="9.4" text-anchor="middle" font-weight="normal" fill="#222" >B.1.617.2</text>
<text x="147.8" y="647.8" font-size="8.0" text-anchor="middle" font-weight="normal" fill="#1a0000" >0.0681</text>
<text x="186.3" y="647.8" font-size="8.0" text-anchor="middle" font-weight="normal" fill="#1a0000" >0.0674</text>
<text x="221.5" y="647.8" font-size="8.0" text-anchor="middle" font-weight="normal" fill="#111" >16.5</text>
<text x="256.8" y="647.8" font-size="8.0" text-anchor="middle" font-weight="normal" fill="#1a0000" >0.0341</text>
<text x="292" y="647.8" font-size="8.0" text-anchor="middle" font-weight="normal" fill="#1a0000" >0.0976</text>
<text x="327.2" y="647.8" font-size="8.0" text-anchor="middle" font-weight="normal" fill="#111" >0.114</text>
<text x="84.6" y="659.1" font-size="9.4" text-anchor="middle" font-weight="normal" fill="#222" >C.37</text>
<text x="147.8" y="658.6" font-size="8.0" text-anchor="middle" font-weight="normal" fill="#1a0000" >0.0649</text>
<text x="186.3" y="658.6" font-size="8.0" text-anchor="middle" font-weight="normal" fill="#1a0000" >0.0510</text>
<text x="221.5" y="658.6" font-size="8.0" text-anchor="middle" font-weight="normal" fill="#111" >0.999</text>
<text x="256.8" y="658.6" font-size="8.0" text-anchor="middle" font-weight="normal" fill="#1a0000" >0.00930</text>
<text x="292" y="658.6" font-size="8.0" text-anchor="middle" font-weight="normal" fill="#1a0000" >0.0131</text>
<text x="327.2" y="658.6" font-size="8.0" text-anchor="middle" font-weight="normal" fill="#1a0000" >0.0313</text>
<text x="84.6" y="669.8" font-size="9.4" text-anchor="middle" font-weight="normal" fill="#222" >B.1.1.529</text>
<text x="147.8" y="669.3" font-size="8.0" text-anchor="middle" font-weight="normal" fill="#111" >>50</text>
<text x="186.3" y="669.3" font-size="8.0" text-anchor="middle" font-weight="normal" fill="#111" >0.278</text>
<text x="221.5" y="669.3" font-size="8.0" text-anchor="middle" font-weight="normal" fill="#111" >11.1</text>
<text x="256.8" y="669.3" font-size="8.0" text-anchor="middle" font-weight="normal" fill="#111" >2.529</text>
<text x="292" y="669.3" font-size="8.0" text-anchor="middle" font-weight="normal" fill="#111" >1.088</text>
<text x="327.2" y="669.3" font-size="8.0" text-anchor="middle" font-weight="normal" fill="#111" >>50</text>
<text x="84.6" y="681.9" font-size="9.4" text-anchor="middle" font-weight="normal" fill="#222" >SARS-CoV</text>
<text x="147.8" y="681.4" font-size="8.0" text-anchor="middle" font-weight="normal" fill="#1a0000" >0.0193</text>
<text x="186.3" y="681.4" font-size="8.0" text-anchor="middle" font-weight="normal" fill="#1a0000" >0.0243</text>
<text x="221.5" y="681.4" font-size="8.0" text-anchor="middle" font-weight="normal" fill="#111" >2.841</text>
<text x="256.8" y="681.4" font-size="8.0" text-anchor="middle" font-weight="normal" fill="#111" >>50</text>
<text x="292" y="681.4" font-size="8.0" text-anchor="middle" font-weight="normal" fill="#111" >>50</text>
<text x="327.2" y="681.4" font-size="8.0" text-anchor="middle" font-weight="normal" fill="#111" >>50</text>
<text x="84.6" y="692.5" font-size="9.4" text-anchor="middle" font-weight="normal" fill="#222" >WIV1</text>
<text x="147.8" y="692" font-size="8.0" text-anchor="middle" font-weight="normal" fill="#1a0000" >0.00377</text>
<text x="186.3" y="692" font-size="8.0" text-anchor="middle" font-weight="normal" fill="#111" >0.115</text>
<text x="221.5" y="692" font-size="8.0" text-anchor="middle" font-weight="normal" fill="#1a0000" >0.0791</text>
<text x="256.8" y="692" font-size="8.0" text-anchor="middle" font-weight="normal" fill="#111" >>50</text>
<text x="292" y="692" font-size="8.0" text-anchor="middle" font-weight="normal" fill="#111" >>50</text>
<text x="327.2" y="692" font-size="8.0" text-anchor="middle" font-weight="normal" fill="#111" >>50</text>
<text x="84.6" y="703.2" font-size="9.4" text-anchor="middle" font-weight="normal" fill="#222" >Rs3367</text>
<text x="147.8" y="702.7" font-size="8.0" text-anchor="middle" font-weight="normal" fill="#1a0000" >0.00228</text>
<text x="186.3" y="702.7" font-size="8.0" text-anchor="middle" font-weight="normal" fill="#111" >>50</text>
<text x="221.5" y="702.7" font-size="8.0" text-anchor="middle" font-weight="normal" fill="#111" >2.339</text>
<text x="256.8" y="702.7" font-size="8.0" text-anchor="middle" font-weight="normal" fill="#111" >>50</text>
<text x="292" y="702.7" font-size="8.0" text-anchor="middle" font-weight="normal" fill="#111" >>50</text>
<text x="327.2" y="702.7" font-size="8.0" text-anchor="middle" font-weight="normal" fill="#111" >>50</text>
<text x="84.6" y="592" font-size="9.4" text-anchor="middle" font-weight="normal" fill="#222" >Virus ID</text>
<text x="147.8" y="592" font-size="9.4" text-anchor="middle" font-weight="normal" fill="#222" >GW01</text>
<text x="186.3" y="592" font-size="9.4" text-anchor="middle" font-weight="normal" fill="#222" >S309</text>
<text x="221.5" y="592" font-size="9.4" text-anchor="middle" font-weight="normal" fill="#222" >6I18</text>
<text x="256.8" y="592" font-size="9.4" text-anchor="middle" font-weight="normal" fill="#222" >3D13</text>
<text x="292" y="592" font-size="9.4" text-anchor="middle" font-weight="normal" fill="#222" >10C2</text>
<text x="327.2" y="592" font-size="9.4" text-anchor="middle" font-weight="normal" fill="#222" >22H22</text>
<line x1="42.8" y1="579.8" x2="344.8" y2="579.8" stroke="#555" stroke-width="0.9" />
<line x1="42.8" y1="596.3" x2="344.8" y2="596.3" stroke="#444" stroke-width="1.0" />
<line x1="42.8" y1="672.4" x2="344.8" y2="672.4" stroke="#444" stroke-width="1.0" />
<line x1="42.8" y1="705.6" x2="344.8" y2="705.6" stroke="#555" stroke-width="1.0" />
<line x1="42.8" y1="731.2" x2="344.8" y2="731.2" stroke="#999" stroke-width="1.6" />
<text x="127.5" y="714.6" font-size="8.6" text-anchor="end" fill="#222">Median IC<tspan font-size="6" dy="2">50</tspan><tspan dy="-2"> (µg/mL)</tspan></text>
<text x="127.5" y="727.8" font-size="8.6" text-anchor="end" fill="#222">GM IC<tspan font-size="6" dy="2">50</tspan><tspan dy="-2"> (µg/mL)</tspan></text>
<text x="147.8" y="714.8" font-size="9.4" text-anchor="middle" font-weight="normal" fill="#222" >0.023</text>
<text x="147.8" y="728" font-size="9.4" text-anchor="middle" font-weight="normal" fill="#222" >0.019</text>
<text x="186.3" y="714.8" font-size="9.4" text-anchor="middle" font-weight="normal" fill="#222" >0.038</text>
<text x="186.3" y="728" font-size="9.4" text-anchor="middle" font-weight="normal" fill="#222" >0.050</text>
<text x="221.5" y="714.8" font-size="9.4" text-anchor="middle" font-weight="normal" fill="#222" >1.912</text>
<text x="221.5" y="728" font-size="9.4" text-anchor="middle" font-weight="normal" fill="#222" >1.085</text>
<text x="256.8" y="714.8" font-size="9.4" text-anchor="middle" font-weight="normal" fill="#222" >0.024</text>
<text x="256.8" y="728" font-size="9.4" text-anchor="middle" font-weight="normal" fill="#222" >0.039</text>
<text x="292" y="714.8" font-size="9.4" text-anchor="middle" font-weight="normal" fill="#222" >0.019</text>
<text x="292" y="728" font-size="9.4" text-anchor="middle" font-weight="normal" fill="#222" >0.084</text>
<text x="327.2" y="714.8" font-size="9.4" text-anchor="middle" font-weight="normal" fill="#222" >0.093</text>
<text x="327.2" y="728" font-size="9.4" text-anchor="middle" font-weight="normal" fill="#222" >0.166</text>
<text x="32.6" y="767.2" font-size="9.9" text-anchor="start" font-weight="normal" fill="#1a1a1a" >Authentic SARS-CoV-2 and VOC</text>
<line x1="55.9" y1="780.5" x2="55.9" y2="901.3" stroke="#333" stroke-width="1" />
<line x1="55.9" y1="891.5" x2="187.5" y2="891.5" stroke="#333" stroke-width="1" />
<line x1="53.4" y1="891.5" x2="55.9" y2="891.5" stroke="#333" stroke-width="1" />
<text x="51.9" y="894.7" font-size="9" text-anchor="end" font-weight="normal" fill="#1a1a1a" >0</text>
<line x1="53.4" y1="866.5" x2="55.9" y2="866.5" stroke="#333" stroke-width="1" />
<text x="51.9" y="869.7" font-size="9" text-anchor="end" font-weight="normal" fill="#1a1a1a" >25</text>
<line x1="53.4" y1="841.5" x2="55.9" y2="841.5" stroke="#333" stroke-width="1" />
<text x="51.9" y="844.7" font-size="9" text-anchor="end" font-weight="normal" fill="#1a1a1a" >50</text>
<line x1="53.4" y1="816.5" x2="55.9" y2="816.5" stroke="#333" stroke-width="1" />
<text x="51.9" y="819.7" font-size="9" text-anchor="end" font-weight="normal" fill="#1a1a1a" >75</text>
<line x1="53.4" y1="791.5" x2="55.9" y2="791.5" stroke="#333" stroke-width="1" />
<text x="51.9" y="794.7" font-size="9" text-anchor="end" font-weight="normal" fill="#1a1a1a" >100</text>
<line x1="74.3" y1="891.5" x2="74.3" y2="894" stroke="#333" stroke-width="1" />
<text x="73" y="903.5" font-size="8" text-anchor="middle" fill="#1a1a1a">10<tspan font-size="5.5" dy="-3.4">-3</tspan></text>
<line x1="80" y1="891.5" x2="80" y2="892.8" stroke="#333" stroke-width="0.6" />
<line x1="83.3" y1="891.5" x2="83.3" y2="892.8" stroke="#333" stroke-width="0.6" />
<line x1="85.7" y1="891.5" x2="85.7" y2="892.8" stroke="#333" stroke-width="0.6" />
<line x1="87.5" y1="891.5" x2="87.5" y2="892.8" stroke="#333" stroke-width="0.6" />
<line x1="89" y1="891.5" x2="89" y2="892.8" stroke="#333" stroke-width="0.6" />
<line x1="90.3" y1="891.5" x2="90.3" y2="892.8" stroke="#333" stroke-width="0.6" />
<line x1="91.4" y1="891.5" x2="91.4" y2="892.8" stroke="#333" stroke-width="0.6" />
<line x1="92.3" y1="891.5" x2="92.3" y2="892.8" stroke="#333" stroke-width="0.6" />
<line x1="93.2" y1="891.5" x2="93.2" y2="894" stroke="#333" stroke-width="1" />
<text x="91.9" y="903.5" font-size="8" text-anchor="middle" fill="#1a1a1a">10<tspan font-size="5.5" dy="-3.4">-2</tspan></text>
<line x1="98.9" y1="891.5" x2="98.9" y2="892.8" stroke="#333" stroke-width="0.6" />
<line x1="102.2" y1="891.5" x2="102.2" y2="892.8" stroke="#333" stroke-width="0.6" />
<line x1="104.5" y1="891.5" x2="104.5" y2="892.8" stroke="#333" stroke-width="0.6" />
<line x1="106.4" y1="891.5" x2="106.4" y2="892.8" stroke="#333" stroke-width="0.6" />
<line x1="107.9" y1="891.5" x2="107.9" y2="892.8" stroke="#333" stroke-width="0.6" />
<line x1="109.1" y1="891.5" x2="109.1" y2="892.8" stroke="#333" stroke-width="0.6" />
<line x1="110.2" y1="891.5" x2="110.2" y2="892.8" stroke="#333" stroke-width="0.6" />
<line x1="111.2" y1="891.5" x2="111.2" y2="892.8" stroke="#333" stroke-width="0.6" />
<line x1="112" y1="891.5" x2="112" y2="894" stroke="#333" stroke-width="1" />
<text x="110.7" y="903.5" font-size="8" text-anchor="middle" fill="#1a1a1a">10<tspan font-size="5.5" dy="-3.4">-1</tspan></text>
<line x1="117.7" y1="891.5" x2="117.7" y2="892.8" stroke="#333" stroke-width="0.6" />
<line x1="121" y1="891.5" x2="121" y2="892.8" stroke="#333" stroke-width="0.6" />
<line x1="123.4" y1="891.5" x2="123.4" y2="892.8" stroke="#333" stroke-width="0.6" />
<line x1="125.2" y1="891.5" x2="125.2" y2="892.8" stroke="#333" stroke-width="0.6" />
<line x1="126.7" y1="891.5" x2="126.7" y2="892.8" stroke="#333" stroke-width="0.6" />
<line x1="128" y1="891.5" x2="128" y2="892.8" stroke="#333" stroke-width="0.6" />
<line x1="129.1" y1="891.5" x2="129.1" y2="892.8" stroke="#333" stroke-width="0.6" />
<line x1="130" y1="891.5" x2="130" y2="892.8" stroke="#333" stroke-width="0.6" />
<line x1="130.9" y1="891.5" x2="130.9" y2="894" stroke="#333" stroke-width="1" />
<text x="129.6" y="903.5" font-size="8" text-anchor="middle" fill="#1a1a1a">10<tspan font-size="5.5" dy="-3.4">0</tspan></text>
<line x1="136.6" y1="891.5" x2="136.6" y2="892.8" stroke="#333" stroke-width="0.6" />
<line x1="139.9" y1="891.5" x2="139.9" y2="892.8" stroke="#333" stroke-width="0.6" />
<line x1="142.2" y1="891.5" x2="142.2" y2="892.8" stroke="#333" stroke-width="0.6" />
<line x1="144.1" y1="891.5" x2="144.1" y2="892.8" stroke="#333" stroke-width="0.6" />
<line x1="145.6" y1="891.5" x2="145.6" y2="892.8" stroke="#333" stroke-width="0.6" />
<line x1="146.8" y1="891.5" x2="146.8" y2="892.8" stroke="#333" stroke-width="0.6" />
<line x1="147.9" y1="891.5" x2="147.9" y2="892.8" stroke="#333" stroke-width="0.6" />
<line x1="148.9" y1="891.5" x2="148.9" y2="892.8" stroke="#333" stroke-width="0.6" />
<line x1="149.8" y1="891.5" x2="149.8" y2="894" stroke="#333" stroke-width="1" />
<text x="148.4" y="903.5" font-size="8" text-anchor="middle" fill="#1a1a1a">10<tspan font-size="5.5" dy="-3.4">1</tspan></text>
<line x1="155.4" y1="891.5" x2="155.4" y2="892.8" stroke="#333" stroke-width="0.6" />
<line x1="158.7" y1="891.5" x2="158.7" y2="892.8" stroke="#333" stroke-width="0.6" />
<line x1="161.1" y1="891.5" x2="161.1" y2="892.8" stroke="#333" stroke-width="0.6" />
<line x1="162.9" y1="891.5" x2="162.9" y2="892.8" stroke="#333" stroke-width="0.6" />
<line x1="164.4" y1="891.5" x2="164.4" y2="892.8" stroke="#333" stroke-width="0.6" />
<line x1="165.7" y1="891.5" x2="165.7" y2="892.8" stroke="#333" stroke-width="0.6" />
<line x1="166.8" y1="891.5" x2="166.8" y2="892.8" stroke="#333" stroke-width="0.6" />
<line x1="167.7" y1="891.5" x2="167.7" y2="892.8" stroke="#333" stroke-width="0.6" />
<line x1="168.6" y1="891.5" x2="168.6" y2="894" stroke="#333" stroke-width="1" />
<text x="167.3" y="903.5" font-size="8" text-anchor="middle" fill="#1a1a1a">10<tspan font-size="5.5" dy="-3.4">2</tspan></text>
<line x1="174.3" y1="891.5" x2="174.3" y2="892.8" stroke="#333" stroke-width="0.6" />
<line x1="177.6" y1="891.5" x2="177.6" y2="892.8" stroke="#333" stroke-width="0.6" />
<line x1="179.9" y1="891.5" x2="179.9" y2="892.8" stroke="#333" stroke-width="0.6" />
<line x1="181.8" y1="891.5" x2="181.8" y2="892.8" stroke="#333" stroke-width="0.6" />
<line x1="183.3" y1="891.5" x2="183.3" y2="892.8" stroke="#333" stroke-width="0.6" />
<line x1="184.5" y1="891.5" x2="184.5" y2="892.8" stroke="#333" stroke-width="0.6" />
<line x1="185.6" y1="891.5" x2="185.6" y2="892.8" stroke="#333" stroke-width="0.6" />
<line x1="186.6" y1="891.5" x2="186.6" y2="892.8" stroke="#333" stroke-width="0.6" />
<line x1="187.4" y1="891.5" x2="187.4" y2="894" stroke="#333" stroke-width="1" />
<text x="186.1" y="903.5" font-size="8" text-anchor="middle" fill="#1a1a1a">10<tspan font-size="5.5" dy="-3.4">3</tspan></text>
<text transform="translate(28.3,835.7) rotate(-90)" font-size="9.9" text-anchor="middle" fill="#1a1a1a">Inhibition (%)</text>
<text x="161" y="916.5" font-size="9.9" text-anchor="start" font-weight="normal" fill="#1a1a1a" >GW01 concentration (µg/mL)</text>
<polyline points="69.7,891.4 71.3,891.3 73,891.3 74.6,891.3 76.3,891.2 77.9,891.1 79.6,891.1 81.2,891 82.9,890.8 84.5,890.7 86.2,890.5 87.8,890.3 89.5,890 91.1,889.7 92.8,889.3 94.4,888.9 96.1,888.3 97.7,887.6 99.3,886.8 101,885.8 102.6,884.6 104.3,883.2 105.9,881.5 107.6,879.5 109.2,877.2 110.9,874.6 112.5,871.5 114.2,868.1 115.8,864.2 117.5,860 119.1,855.4 120.8,850.5 122.4,845.4 124.1,840.2 125.7,835 127.4,829.8 129,824.9 130.7,820.2 132.3,815.9 134,811.9 135.6,808.4 137.3,805.2 138.9,802.4 140.6,800 142.2,798 143.9,796.2 145.5,794.7 147.2,793.5 148.8,792.5 150.5,791.6 152.1,790.9 153.8,790.3 155.4,789.8 157.1,789.4 158.7,789 160.4,788.8 162,788.5 163.7,788.3 165.3,788.2 167,788.1 168.6,788" fill="none" stroke="#2020e8" stroke-width="1.1" stroke-linejoin="round" />
<circle cx="168.6" cy="787.1" r="1.5" fill="#2020e8"/>
<circle cx="159.6" cy="784.9" r="1.5" fill="#2020e8"/>
<circle cx="150.6" cy="790.5" r="1.5" fill="#2020e8"/>
<circle cx="141.6" cy="799.1" r="1.5" fill="#2020e8"/>
<circle cx="132.6" cy="813.2" r="1.5" fill="#2020e8"/>
<circle cx="123.6" cy="842.8" r="1.5" fill="#2020e8"/>
<circle cx="114.6" cy="866.7" r="1.5" fill="#2020e8"/>
<circle cx="105.6" cy="880.5" r="1.5" fill="#2020e8"/>
<circle cx="96.7" cy="885.6" r="1.5" fill="#2020e8"/>
<circle cx="87.7" cy="889.7" r="1.5" fill="#2020e8"/>
<circle cx="78.7" cy="891.5" r="1.5" fill="#2020e8"/>
<circle cx="69.7" cy="888.5" r="1.5" fill="#2020e8"/>
<polyline points="69.7,891 71.3,891 73,891 74.6,891 76.3,891 77.9,891 79.6,891 81.2,891 82.9,891 84.5,890.9 86.2,890.9 87.8,890.9 89.5,890.9 91.1,890.8 92.8,890.7 94.4,890.7 96.1,890.5 97.7,890.4 99.3,890.2 101,889.9 102.6,889.5 104.3,888.9 105.9,888.2 107.6,887.3 109.2,886 110.9,884.4 112.5,882.3 114.2,879.5 115.8,876.1 117.5,871.9 119.1,866.8 120.8,860.8 122.4,854.2 124.1,847 125.7,839.6 127.4,832.2 129,825.3 130.7,819.1 132.3,813.6 134,809.1 135.6,805.3 137.3,802.3 138.9,799.9 140.6,798.1 142.2,796.7 143.9,795.6 145.5,794.8 147.2,794.2 148.8,793.8 150.5,793.5 152.1,793.2 153.8,793 155.4,792.9 157.1,792.8 158.7,792.7 160.4,792.7 162,792.6 163.7,792.6 165.3,792.6 167,792.5 168.6,792.5" fill="none" stroke="#a0602a" stroke-width="1.1" stroke-linejoin="round" />
<path d="M166.9,793.4H170.2L168.6,790.5Z" fill="#a0602a"/>
<path d="M158,794.5H161.3L159.6,791.7Z" fill="#a0602a"/>
<path d="M149,796.4H152.3L150.6,793.6Z" fill="#a0602a"/>
<path d="M140,797.1H143.3L141.6,794.3Z" fill="#a0602a"/>
<path d="M131,813.2H134.3L132.6,810.4Z" fill="#a0602a"/>
<path d="M122,848.7H125.3L123.6,845.8Z" fill="#a0602a"/>
<path d="M113,880.1H116.3L114.6,877.3Z" fill="#a0602a"/>
<path d="M104,886.2H107.3L105.6,883.3Z" fill="#a0602a"/>
<path d="M95,892.3H98.3L96.7,889.4Z" fill="#a0602a"/>
<path d="M86,891.2H89.3L87.7,888.3Z" fill="#a0602a"/>
<path d="M77,891.7H80.3L78.7,888.9Z" fill="#a0602a"/>
<path d="M68,889.9H71.3L69.7,887Z" fill="#a0602a"/>
<polyline points="69.7,891.5 71.3,891.5 73,891.5 74.6,891.5 76.3,891.5 77.9,891.4 79.6,891.4 81.2,891.4 82.9,891.4 84.5,891.3 86.2,891.3 87.8,891.2 89.5,891.2 91.1,891.1 92.8,890.9 94.4,890.8 96.1,890.5 97.7,890.2 99.3,889.9 101,889.4 102.6,888.8 104.3,888 105.9,887 107.6,885.8 109.2,884.2 110.9,882.2 112.5,879.7 114.2,876.7 115.8,873.1 117.5,868.8 119.1,863.9 120.8,858.3 122.4,852.3 124.1,845.9 125.7,839.3 127.4,832.8 129,826.6 130.7,820.8 132.3,815.6 134,811.1 135.6,807.2 137.3,804 138.9,801.3 140.6,799.1 142.2,797.4 143.9,796 145.5,794.9 147.2,794 148.8,793.3 150.5,792.8 152.1,792.4 153.8,792.1 155.4,791.8 157.1,791.6 158.7,791.5 160.4,791.4 162,791.3 163.7,791.2 165.3,791.2 167,791.1 168.6,791.1" fill="none" stroke="#b33ee6" stroke-width="1.1" stroke-linejoin="round" />
<path d="M166.9,791.4H170.2L168.6,794.3Z" fill="#b33ee6"/>
<path d="M158,790.9H161.3L159.6,793.7Z" fill="#b33ee6"/>
<path d="M149,792H152.3L150.6,794.9Z" fill="#b33ee6"/>
<path d="M140,798.2H143.3L141.6,801.1Z" fill="#b33ee6"/>
<path d="M131,815H134.3L132.6,817.9Z" fill="#b33ee6"/>
<path d="M122,849.1H125.3L123.6,852Z" fill="#b33ee6"/>
<path d="M113,872.9H116.3L114.6,875.8Z" fill="#b33ee6"/>
<path d="M104,882.7H107.3L105.6,885.6Z" fill="#b33ee6"/>
<path d="M95,890.3H98.3L96.7,893.1Z" fill="#b33ee6"/>
<path d="M86,888.4H89.3L87.7,891.2Z" fill="#b33ee6"/>
<path d="M77,890.3H80.3L78.7,893.1Z" fill="#b33ee6"/>
<path d="M68,890.3H71.3L69.7,893.1Z" fill="#b33ee6"/>
<polyline points="69.7,889 71.3,888.9 73,888.9 74.6,888.9 76.3,888.9 77.9,888.9 79.6,888.8 81.2,888.8 82.9,888.7 84.5,888.6 86.2,888.5 87.8,888.4 89.5,888.2 91.1,888 92.8,887.7 94.4,887.4 96.1,887 97.7,886.4 99.3,885.7 101,884.9 102.6,883.8 104.3,882.5 105.9,880.9 107.6,878.9 109.2,876.5 110.9,873.6 112.5,870.2 114.2,866.2 115.8,861.7 117.5,856.7 119.1,851.2 120.8,845.4 122.4,839.4 124.1,833.5 125.7,827.7 127.4,822.3 129,817.2 130.7,812.7 132.3,808.8 134,805.4 135.6,802.5 137.3,800.1 138.9,798.1 140.6,796.5 142.2,795.2 143.9,794.1 145.5,793.2 147.2,792.6 148.8,792 150.5,791.6 152.1,791.3 153.8,791 155.4,790.8 157.1,790.6 158.7,790.5 160.4,790.4 162,790.3 163.7,790.2 165.3,790.2 167,790.1 168.6,790.1" fill="none" stroke="#ee1c24" stroke-width="1.1" stroke-linejoin="round" />
<path d="M168.6,789L170.1,790.8L168.6,792.6L167.1,790.8Z" fill="#ee1c24"/>
<path d="M159.6,788.4L161.1,790.2L159.6,792L158.1,790.2Z" fill="#ee1c24"/>
<path d="M150.6,788.8L152.1,790.6L150.6,792.4L149.1,790.6Z" fill="#ee1c24"/>
<path d="M141.6,798L143.1,799.8L141.6,801.6L140.1,799.8Z" fill="#ee1c24"/>
<path d="M132.6,809.2L134.1,811L132.6,812.8L131.1,811Z" fill="#ee1c24"/>
<path d="M123.6,833.1L125.1,834.9L123.6,836.7L122.1,834.9Z" fill="#ee1c24"/>
<path d="M114.6,863.8L116.1,865.6L114.6,867.4L113.1,865.6Z" fill="#ee1c24"/>
<path d="M105.6,874.7L107.1,876.5L105.6,878.3L104.1,876.5Z" fill="#ee1c24"/>
<path d="M96.7,885.6L98.2,887.4L96.7,889.2L95.2,887.4Z" fill="#ee1c24"/>
<path d="M87.7,888L89.2,889.8L87.7,891.6L86.2,889.8Z" fill="#ee1c24"/>
<path d="M78.7,884.4L80.2,886.2L78.7,888L77.2,886.2Z" fill="#ee1c24"/>
<path d="M69.7,889.7L71.2,891.5L69.7,893.3L68.2,891.5Z" fill="#ee1c24"/>
<polyline points="69.7,889.3 71.3,889.3 73,889.2 74.6,889.1 76.3,889 77.9,888.9 79.6,888.8 81.2,888.7 82.9,888.5 84.5,888.3 86.2,888 87.8,887.7 89.5,887.3 91.1,886.8 92.8,886.2 94.4,885.5 96.1,884.7 97.7,883.6 99.3,882.4 101,881 102.6,879.3 104.3,877.3 105.9,875 107.6,872.3 109.2,869.2 110.9,865.8 112.5,862 114.2,857.8 115.8,853.3 117.5,848.6 119.1,843.7 120.8,838.7 122.4,833.7 124.1,828.9 125.7,824.3 127.4,820 129,816 130.7,812.3 132.3,809.1 134,806.3 135.6,803.8 137.3,801.6 138.9,799.8 140.6,798.2 142.2,796.9 143.9,795.8 145.5,794.9 147.2,794.1 148.8,793.5 150.5,792.9 152.1,792.5 153.8,792.1 155.4,791.8 157.1,791.6 158.7,791.4 160.4,791.2 162,791.1 163.7,791 165.3,790.9 167,790.8 168.6,790.8" fill="none" stroke="#1fb51f" stroke-width="1.1" stroke-linejoin="round" />
<rect x="167.1" y="793.4" width="3" height="3" fill="#1fb51f"/>
<rect x="158.1" y="783.9" width="3" height="3" fill="#1fb51f"/>
<rect x="149.1" y="792.8" width="3" height="3" fill="#1fb51f"/>
<rect x="140.1" y="795.7" width="3" height="3" fill="#1fb51f"/>
<rect x="131.1" y="807.5" width="3" height="3" fill="#1fb51f"/>
<rect x="122.1" y="830.7" width="3" height="3" fill="#1fb51f"/>
<rect x="113.1" y="855.4" width="3" height="3" fill="#1fb51f"/>
<rect x="104.1" y="876.8" width="3" height="3" fill="#1fb51f"/>
<rect x="95.2" y="880.7" width="3" height="3" fill="#1fb51f"/>
<rect x="86.2" y="884.5" width="3" height="3" fill="#1fb51f"/>
<rect x="77.2" y="885.9" width="3" height="3" fill="#1fb51f"/>
<rect x="68.2" y="889.8" width="3" height="3" fill="#1fb51f"/>
<line x1="143.5" y1="821.3" x2="154" y2="821.3" stroke="#2020e8" stroke-width="0.9" />
<circle cx="148.8" cy="821.3" r="1.5" fill="#2020e8"/>
<text x="157.8" y="823.8" font-size="7" text-anchor="start" font-weight="normal" fill="#333" letter-spacing="0.95">W T</text>
<line x1="143.5" y1="834.5" x2="154" y2="834.5" stroke="#a0602a" stroke-width="0.9" />
<path d="M147.2,835.8H150.5L148.8,832.9Z" fill="#a0602a"/>
<text x="157.8" y="837" font-size="7" text-anchor="start" font-weight="normal" fill="#333" letter-spacing="0.95">B.1.1.7</text>
<line x1="143.5" y1="847.8" x2="154" y2="847.8" stroke="#b33ee6" stroke-width="0.9" />
<path d="M147.2,846.6H150.5L148.8,849.4Z" fill="#b33ee6"/>
<text x="157.8" y="850.3" font-size="7" text-anchor="start" font-weight="normal" fill="#333" letter-spacing="0.95">B.1.351</text>
<line x1="143.5" y1="861" x2="154" y2="861" stroke="#ee1c24" stroke-width="0.9" />
<path d="M148.8,859.2L150.3,861L148.8,862.8L147.3,861Z" fill="#ee1c24"/>
<text x="157.8" y="863.5" font-size="7" text-anchor="start" font-weight="normal" fill="#333" letter-spacing="0.95">B.1.617.2</text>
<line x1="143.5" y1="874.3" x2="154" y2="874.3" stroke="#1fb51f" stroke-width="0.9" />
<rect x="147.3" y="872.8" width="3" height="3" fill="#1fb51f"/>
<text x="157.8" y="876.8" font-size="7" text-anchor="start" font-weight="normal" fill="#333" letter-spacing="0.95">B.1.525</text>
<text x="257.1" y="764.3" font-size="9.9" text-anchor="start" font-weight="normal" fill="#1a1a1a" >Authentic WIV1 and SHC014</text>
<line x1="260.5" y1="785.2" x2="260.5" y2="892.4" stroke="#333" stroke-width="1.1" />
<line x1="260.5" y1="891.9" x2="383.7" y2="891.9" stroke="#333" stroke-width="1.1" />
<line x1="257.5" y1="891.9" x2="260.5" y2="891.9" stroke="#333" stroke-width="1.1" />
<text x="256" y="895.2" font-size="9.2" text-anchor="end" font-weight="normal" fill="#1a1a1a" >0</text>
<line x1="257.5" y1="870.7" x2="260.5" y2="870.7" stroke="#333" stroke-width="1.1" />
<text x="256" y="874" font-size="9.2" text-anchor="end" font-weight="normal" fill="#1a1a1a" >20</text>
<line x1="257.5" y1="849.4" x2="260.5" y2="849.4" stroke="#333" stroke-width="1.1" />
<text x="256" y="852.7" font-size="9.2" text-anchor="end" font-weight="normal" fill="#1a1a1a" >40</text>
<line x1="257.5" y1="828.2" x2="260.5" y2="828.2" stroke="#333" stroke-width="1.1" />
<text x="256" y="831.5" font-size="9.2" text-anchor="end" font-weight="normal" fill="#1a1a1a" >60</text>
<line x1="257.5" y1="806.9" x2="260.5" y2="806.9" stroke="#333" stroke-width="1.1" />
<text x="256" y="810.2" font-size="9.2" text-anchor="end" font-weight="normal" fill="#1a1a1a" >80</text>
<line x1="257.5" y1="785.7" x2="260.5" y2="785.7" stroke="#333" stroke-width="1.1" />
<text x="256" y="789" font-size="9.2" text-anchor="end" font-weight="normal" fill="#1a1a1a" >100</text>
<line x1="264.1" y1="891.9" x2="264.1" y2="894.9" stroke="#333" stroke-width="1.1" />
<text x="264.1" y="905.7" font-size="8.6" text-anchor="middle" font-weight="normal" fill="#1a1a1a" >0.02</text>
<line x1="286.5" y1="891.9" x2="286.5" y2="894.9" stroke="#333" stroke-width="1.1" />
<text x="286.5" y="905.7" font-size="8.6" text-anchor="middle" font-weight="normal" fill="#1a1a1a" >0.08</text>
<line x1="308.9" y1="891.9" x2="308.9" y2="894.9" stroke="#333" stroke-width="1.1" />
<text x="308.9" y="905.7" font-size="8.6" text-anchor="middle" font-weight="normal" fill="#1a1a1a" >0.31</text>
<line x1="331.4" y1="891.9" x2="331.4" y2="894.9" stroke="#333" stroke-width="1.1" />
<text x="331.4" y="905.7" font-size="8.6" text-anchor="middle" font-weight="normal" fill="#1a1a1a" >1.25</text>
<line x1="353.8" y1="891.9" x2="353.8" y2="894.9" stroke="#333" stroke-width="1.1" />
<text x="353.8" y="905.7" font-size="8.6" text-anchor="middle" font-weight="normal" fill="#1a1a1a" >5</text>
<line x1="376.2" y1="891.9" x2="376.2" y2="894.9" stroke="#333" stroke-width="1.1" />
<text x="376.2" y="905.7" font-size="8.6" text-anchor="middle" font-weight="normal" fill="#1a1a1a" >20</text>
<polyline points="264.1,869.7 266,867.4 267.8,864.9 269.7,862.2 271.6,859.4 273.4,856.5 275.3,853.4 277.2,850.2 279,847 280.9,843.6 282.8,840.2 284.7,836.9 286.5,833.5 288.4,830.2 290.3,826.9 292.1,823.7 294,820.7 295.9,817.7 297.7,815 299.6,812.3 301.5,809.9 303.3,807.6 305.2,805.4 307.1,803.5 308.9,801.7 310.8,800 312.7,798.5 314.5,797.1 316.4,795.9 318.3,794.8 320.2,793.8 322,792.9 323.9,792.1 325.8,791.3 327.6,790.7 329.5,790.1 331.4,789.6 333.2,789.2 335.1,788.8 337,788.4 338.8,788.1 340.7,787.8 342.6,787.6 344.4,787.3 346.3,787.1 348.2,787 350,786.8 351.9,786.7 353.8,786.6 355.6,786.5 357.5,786.4 359.4,786.3 361.3,786.2 363.1,786.2 365,786.1 366.9,786.1 368.7,786 370.6,786 372.5,785.9 374.3,785.9 376.2,785.9" fill="none" stroke="#111" stroke-width="1.3" stroke-linejoin="round" />
<line x1="264.1" y1="866.4" x2="264.1" y2="872.8" stroke="#111" stroke-width="0.9" />
<line x1="262.1" y1="866.4" x2="266.1" y2="866.4" stroke="#111" stroke-width="0.9" />
<line x1="262.1" y1="872.8" x2="266.1" y2="872.8" stroke="#111" stroke-width="0.9" />
<circle cx="264.1" cy="869.6" r="2.4" fill="#111"/>
<line x1="286.5" y1="826.1" x2="286.5" y2="840.9" stroke="#111" stroke-width="0.9" />
<line x1="284.5" y1="826.1" x2="288.5" y2="826.1" stroke="#111" stroke-width="0.9" />
<line x1="284.5" y1="840.9" x2="288.5" y2="840.9" stroke="#111" stroke-width="0.9" />
<circle cx="286.5" cy="833.5" r="2.4" fill="#111"/>
<line x1="308.9" y1="800" x2="308.9" y2="804.3" stroke="#111" stroke-width="0.9" />
<line x1="306.9" y1="800" x2="310.9" y2="800" stroke="#111" stroke-width="0.9" />
<line x1="306.9" y1="804.3" x2="310.9" y2="804.3" stroke="#111" stroke-width="0.9" />
<circle cx="308.9" cy="802.2" r="2.4" fill="#111"/>
<circle cx="331.4" cy="788.9" r="2.4" fill="#111"/>
<circle cx="353.8" cy="786.8" r="2.4" fill="#111"/>
<circle cx="376.2" cy="785.7" r="2.4" fill="#111"/>
<polyline points="264.1,869.5 266,868 267.8,866.6 269.7,865 271.6,863.4 273.4,861.7 275.3,860 277.2,858.2 279,856.4 280.9,854.5 282.8,852.6 284.7,850.6 286.5,848.6 288.4,846.5 290.3,844.5 292.1,842.4 294,840.3 295.9,838.2 297.7,836.1 299.6,834 301.5,831.9 303.3,829.8 305.2,827.7 307.1,825.7 308.9,823.7 310.8,821.8 312.7,819.9 314.5,818 316.4,816.2 318.3,814.5 320.2,812.8 322,811.1 323.9,809.6 325.8,808 327.6,806.6 329.5,805.2 331.4,803.9 333.2,802.6 335.1,801.5 337,800.3 338.8,799.2 340.7,798.2 342.6,797.3 344.4,796.4 346.3,795.5 348.2,794.7 350,793.9 351.9,793.2 353.8,792.6 355.6,792 357.5,791.4 359.4,790.8 361.3,790.3 363.1,789.8 365,789.4 366.9,789 368.7,788.6 370.6,788.2 372.5,787.9 374.3,787.6 376.2,787.3" fill="none" stroke="#2020e8" stroke-width="1.3" stroke-linejoin="round" />
<line x1="264.1" y1="851" x2="264.1" y2="880.7" stroke="#2020e8" stroke-width="0.9" />
<line x1="262.1" y1="851" x2="266.1" y2="851" stroke="#2020e8" stroke-width="0.9" />
<line x1="262.1" y1="880.7" x2="266.1" y2="880.7" stroke="#2020e8" stroke-width="0.9" />
<path d="M261.5,864H266.7L264.1,868.5Z" fill="#2020e8"/>
<line x1="286.5" y1="837.7" x2="286.5" y2="861.1" stroke="#2020e8" stroke-width="0.9" />
<line x1="284.5" y1="837.7" x2="288.5" y2="837.7" stroke="#2020e8" stroke-width="0.9" />
<line x1="284.5" y1="861.1" x2="288.5" y2="861.1" stroke="#2020e8" stroke-width="0.9" />
<path d="M283.9,847.5H289.2L286.5,852.1Z" fill="#2020e8"/>
<line x1="308.9" y1="820.2" x2="308.9" y2="824.5" stroke="#2020e8" stroke-width="0.9" />
<line x1="306.9" y1="820.2" x2="310.9" y2="820.2" stroke="#2020e8" stroke-width="0.9" />
<line x1="306.9" y1="824.5" x2="310.9" y2="824.5" stroke="#2020e8" stroke-width="0.9" />
<path d="M306.3,820.4H311.6L308.9,825Z" fill="#2020e8"/>
<path d="M328.7,804H334L331.4,808.5Z" fill="#2020e8"/>
<line x1="353.8" y1="788.9" x2="353.8" y2="797.4" stroke="#2020e8" stroke-width="0.9" />
<line x1="351.8" y1="788.9" x2="355.8" y2="788.9" stroke="#2020e8" stroke-width="0.9" />
<line x1="351.8" y1="797.4" x2="355.8" y2="797.4" stroke="#2020e8" stroke-width="0.9" />
<path d="M351.1,791.2H356.4L353.8,795.8Z" fill="#2020e8"/>
<path d="M373.6,784.8H378.8L376.2,789.4Z" fill="#2020e8"/>
<line x1="326.4" y1="852.4" x2="338" y2="852.4" stroke="#111" stroke-width="1.3" />
<circle cx="332.2" cy="852.4" r="2.4" fill="#111"/>
<text x="344" y="856.1" font-size="10.6" text-anchor="start" font-weight="normal" fill="#1a1a1a" >WIV1</text>
<line x1="326.4" y1="866.9" x2="338" y2="866.9" stroke="#2020e8" stroke-width="1.3" />
<path d="M329.6,865H334.8L332.2,869.5Z" fill="#2020e8"/>
<text x="344" y="870.6" font-size="10.6" text-anchor="start" font-weight="normal" fill="#1a1a1a" >SHC014</text>
<text x="513.3" y="764.8" font-size="9.7" text-anchor="middle" font-weight="normal" fill="#222" >Authentic Viruses</text>
<text x="518.5" y="782.8" font-size="11" text-anchor="middle" fill="#222">IC<tspan font-size="7.2" dy="2.4">50</tspan><tspan dy="-2.4"> (µg/mL)</tspan></text>
<line x1="458.9" y1="768.1" x2="573.2" y2="768.1" stroke="#444" stroke-width="1.0" />
<line x1="458.9" y1="788.1" x2="573.2" y2="788.1" stroke="#888" stroke-width="1.6" />
<line x1="458.9" y1="803.1" x2="573.2" y2="803.1" stroke="#444" stroke-width="1.0" />
<line x1="458.9" y1="879.3" x2="573.2" y2="879.3" stroke="#333" stroke-width="1.2" />
<line x1="458.9" y1="909" x2="573.2" y2="909" stroke="#444" stroke-width="1.0" />
<text x="491" y="800.1" font-size="11.3" text-anchor="middle" font-weight="normal" fill="#222" >Virus ID</text>
<text x="547.4" y="800.1" font-size="11.3" text-anchor="middle" font-weight="normal" fill="#222" >GW01</text>
<rect x="522" y="803.6" width="51.2" height="15.4" fill="#ffc000" shape-rendering="crispEdges"/>
<rect x="522" y="818.8" width="51.2" height="15.4" fill="#ffc000" shape-rendering="crispEdges"/>
<rect x="522" y="834" width="51.2" height="15.4" fill="#ffc000" shape-rendering="crispEdges"/>
<rect x="522" y="849.2" width="51.2" height="15.4" fill="#ffc000" shape-rendering="crispEdges"/>
<rect x="522" y="864.4" width="51.2" height="15.6" fill="#ffc000" shape-rendering="crispEdges"/>
<rect x="522" y="879.8" width="51.2" height="15" fill="#ff0000" shape-rendering="crispEdges"/>
<rect x="522" y="894.6" width="51.2" height="14.2" fill="#ffc000" shape-rendering="crispEdges"/>
<line x1="458.9" y1="879.3" x2="573.2" y2="879.3" stroke="#333" stroke-width="1.2" />
<text x="460.7" y="815.6" font-size="11.5" text-anchor="start" font-weight="normal" fill="#222" >WT</text>
<text x="547.6" y="815.1" font-size="10.2" text-anchor="middle" font-weight="normal" fill="#111" >0.519</text>
<text x="460.7" y="830.8" font-size="11.5" text-anchor="start" font-weight="normal" fill="#222" >B.1.1.7</text>
<text x="547.6" y="830.3" font-size="10.2" text-anchor="middle" font-weight="normal" fill="#111" >0.398</text>
<text x="460.7" y="846.1" font-size="11.5" text-anchor="start" font-weight="normal" fill="#222" >B.1.351</text>
<text x="547.6" y="845.6" font-size="10.2" text-anchor="middle" font-weight="normal" fill="#111" >0.576</text>
<text x="460.7" y="861" font-size="11.5" text-anchor="start" font-weight="normal" fill="#222" >B.1.617.2</text>
<text x="547.6" y="860.5" font-size="10.2" text-anchor="middle" font-weight="normal" fill="#111" >0.350</text>
<text x="460.7" y="876" font-size="11.5" text-anchor="start" font-weight="normal" fill="#222" >B.1.525</text>
<text x="547.6" y="875.5" font-size="10.2" text-anchor="middle" font-weight="normal" fill="#111" >0.281</text>
<text x="460.7" y="891.2" font-size="11.5" text-anchor="start" font-weight="normal" fill="#222" >WIV-1</text>
<text x="547.6" y="890.7" font-size="10.2" text-anchor="middle" font-weight="normal" fill="#220000" >0.0690</text>
<text x="460.7" y="906.5" font-size="11.5" text-anchor="start" font-weight="normal" fill="#222" >SHC014</text>
<text x="547.6" y="906" font-size="10.2" text-anchor="middle" font-weight="normal" fill="#111" >0.189</text>
</svg></body></html>
